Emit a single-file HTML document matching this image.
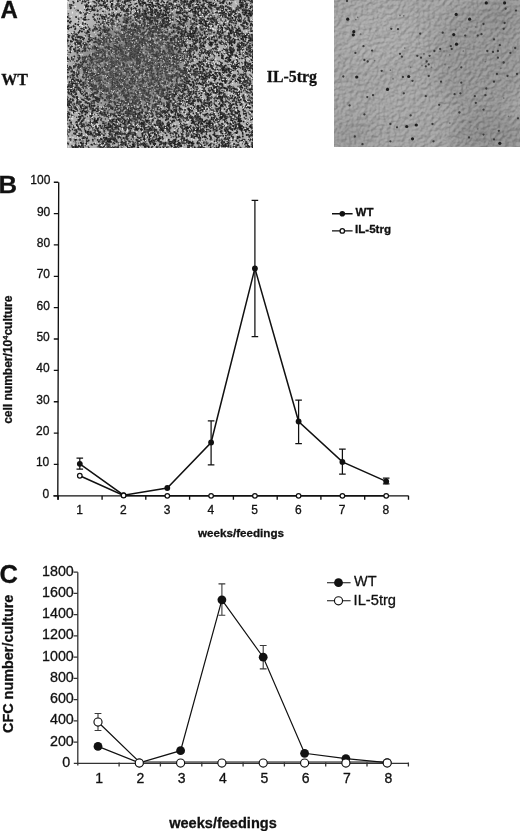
<!DOCTYPE html>
<html><head><meta charset="utf-8"><title>Figure</title>
<style>
html,body{margin:0;padding:0;background:#fff;}
body{width:520px;height:833px;overflow:hidden;font-family:"Liberation Sans",sans-serif;}
svg{display:block;position:absolute;left:0;top:0;}
text{font-family:"Liberation Sans",sans-serif;fill:#111;stroke:#111;stroke-width:0.3px;}
.b{font-weight:bold;}
.serif{font-family:"Liberation Serif",serif;font-weight:bold;}
</style></head><body>
<svg width="520" height="833" viewBox="0 0 520 833">
<rect width="520" height="833" fill="#fff"/>
<g opacity="0.999">
<defs>
<filter id="soft" x="0" y="0" width="100%" height="100%"><feGaussianBlur stdDeviation="0.4"/></filter>
<filter id="soft2" x="0" y="0" width="100%" height="100%"><feGaussianBlur stdDeviation="0.6"/></filter>
<filter id="cloud" x="-20%" y="-20%" width="140%" height="140%"><feGaussianBlur stdDeviation="9"/></filter>
<filter id="spk" x="0" y="0" width="100%" height="100%" color-interpolation-filters="sRGB"><feTurbulence type="fractalNoise" baseFrequency="0.47 0.43" numOctaves="2" seed="11" result="n0"/><feColorMatrix in="n0" type="matrix" values="1 0 0 0 0  1 0 0 0 0  1 0 0 0 0  0 0 0 0 1" result="n"/><feTurbulence type="fractalNoise" baseFrequency="0.17 0.19" numOctaves="2" seed="3" result="m0"/><feColorMatrix in="m0" type="matrix" values="1 0 0 0 0  1 0 0 0 0  1 0 0 0 0  0 0 0 0 1" result="m"/><feComposite in="n" in2="m" operator="arithmetic" k1="0" k2="1" k3="0.45" k4="-0.225" result="nm"/><feComposite in="SourceGraphic" in2="nm" operator="arithmetic" k1="0" k2="1" k3="1" k4="-0.5" result="s"/><feComponentTransfer in="s" result="t"><feFuncR type="linear" slope="6" intercept="-2.5"/><feFuncG type="linear" slope="6" intercept="-2.5"/><feFuncB type="linear" slope="6" intercept="-2.5"/></feComponentTransfer><feComponentTransfer in="t" result="u"><feFuncR type="linear" slope="0.58" intercept="0.17"/><feFuncG type="linear" slope="0.58" intercept="0.17"/><feFuncB type="linear" slope="0.58" intercept="0.17"/></feComponentTransfer><feGaussianBlur in="u" stdDeviation="0.35"/></filter>
<filter id="emb" x="0" y="0" width="100%" height="100%" color-interpolation-filters="sRGB"><feTurbulence type="fractalNoise" baseFrequency="0.27 0.27" numOctaves="3" seed="5" result="n0"/><feDiffuseLighting in="n0" surfaceScale="2.2" diffuseConstant="1" lighting-color="#fff" result="l"><feDistantLight azimuth="230" elevation="48"/></feDiffuseLighting><feComposite in="SourceGraphic" in2="l" operator="arithmetic" k1="0" k2="1" k3="0.19" k4="-0.1412"/></filter>
<clipPath id="cl"><rect x="67" y="0" width="185.6" height="147.2"/></clipPath>
<clipPath id="cr"><rect x="334" y="0" width="186" height="147"/></clipPath>
</defs>
<g clip-path="url(#cl)">
<rect x="67" y="0" width="186" height="148" fill="#b2b2b2"/>
<g filter="url(#cloud)"><ellipse cx="132" cy="66" rx="50" ry="44" fill="#828282" opacity="0.95"/><ellipse cx="178" cy="26" rx="42" ry="20" fill="#8c8c8c" opacity="0.7"/><ellipse cx="120" cy="125" rx="40" ry="16" fill="#939393" opacity="0.5"/><ellipse cx="76" cy="12" rx="20" ry="22" fill="#bcbcbc" opacity="0.9"/></g>
<g filter="url(#soft)" fill="none" stroke-linecap="round">
<path stroke="#1c1c1c" stroke-width="1.9" d="M126.7 21.8h0M147.7 9.7h0M180.7 10.3h0M246.7 10.4h0M247.2 10.5h0M203.1 45.1h0M203.8 46.2h0M204.5 46.6h0M150.1 80.5h0M151.1 81.9h0M188.2 109.0h0M189.2 109.9h0M189.3 110.4h0M189.8 111.9h0M229.6 90.5h0M125.6 22.1h0M166.3 115.3h0M223.5 69.9h0M223.7 72.8h0M70.9 87.2h0M71.7 88.0h0M165.8 70.6h0M165.2 71.1h0M88.9 65.6h0M233.8 20.8h0M234.4 20.8h0M69.4 82.1h0M142.6 79.0h0M142.9 80.3h0M78.5 127.7h0M78.4 129.3h0M216.7 147.4h0M189.0 95.6h0M189.4 97.1h0M190.1 97.5h0M247.0 144.7h0M65.1 56.0h0M67.1 57.7h0M202.8 120.4h0M204.0 121.3h0M204.6 121.5h0M248.1 66.4h0M90.7 122.0h0M244.4 100.2h0M226.3 40.2h0M226.5 40.8h0M150.8 111.3h0M142.9 34.9h0M240.7 78.5h0M243.6 26.4h0M232.6 96.0h0M197.3 105.9h0M196.9 107.3h0M250.7 66.1h0M171.7 112.8h0M185.0 35.8h0M246.3 141.9h0M252.1 144.8h0M212.1 43.0h0M101.4 8.1h0M66.6 131.8h0M66.7 130.8h0M150.7 38.1h0M73.9 148.8h0M74.4 149.0h0M74.5 150.0h0M186.6 12.8h0M187.5 13.8h0M82.9 92.6h0M124.7 89.7h0M186.7 127.4h0M186.5 127.8h0M150.0 63.3h0M189.0 4.0h0M190.3 5.7h0M190.3 6.4h0M194.9 106.6h0M204.8 31.9h0M206.3 32.5h0M233.8 88.3h0M233.8 88.2h0M144.7 77.2h0M114.3 96.5h0M244.0 111.0h0M147.6 107.0h0M249.4 103.7h0M77.8 87.2h0M77.9 87.6h0M79.0 88.5h0M211.2 90.1h0M173.8 40.3h0M174.5 42.4h0M183.5 51.6h0M160.2 55.7h0M153.4 131.4h0M202.3 90.3h0M96.9 97.5h0M226.3 101.3h0M112.5 62.2h0M113.4 63.1h0M162.9 14.6h0M164.6 15.5h0M243.0 78.3h0M201.0 121.1h0M133.4 97.9h0M179.5 115.4h0M180.4 115.8h0M181.3 117.0h0M154.7 82.1h0M222.4 68.7h0M223.3 69.4h0M226.1 70.1h0M72.7 106.3h0M71.9 107.0h0M141.8 74.0h0M202.0 132.0h0M213.3 134.7h0M214.1 135.1h0M215.2 135.9h0M169.1 11.5h0M251.5 127.8h0M196.5 21.3h0M98.0 127.9h0M134.3 96.1h0M194.4 136.1h0M123.6 6.2h0M124.4 8.7h0M134.6 84.0h0M235.4 122.6h0M236.0 124.6h0M236.0 126.2h0M154.1 54.8h0M155.3 55.6h0M228.7 131.9h0M229.2 132.6h0M155.6 93.5h0M116.2 61.7h0M95.3 75.5h0M95.1 76.3h0M95.4 78.0h0M149.1 74.5h0M209.0 23.2h0M208.9 24.5h0M208.8 26.9h0M229.5 39.8h0M219.7 129.0h0M220.2 130.8h0M152.9 34.1h0M153.0 34.9h0M88.6 58.5h0M93.3 100.8h0M117.2 79.6h0M117.7 82.2h0M107.2 75.0h0M107.5 76.1h0M108.3 76.4h0M179.1 50.9h0M180.1 51.1h0M251.8 39.7h0M197.2 42.3h0M147.2 56.3h0M122.0 79.3h0M233.3 62.0h0M197.7 -0.4h0M85.6 13.9h0M210.4 5.8h0M158.3 140.7h0M140.4 54.2h0M224.1 119.7h0M71.6 106.8h0M126.4 97.5h0M126.4 99.6h0M241.9 25.0h0M243.1 26.1h0M243.8 26.2h0M147.2 114.7h0M249.2 100.7h0M96.6 49.7h0M145.3 140.3h0M87.7 42.6h0M157.5 117.7h0M210.9 124.8h0M85.5 107.0h0M236.2 140.4h0M102.4 107.5h0M101.8 108.9h0M191.1 84.5h0M193.4 84.0h0M174.2 139.9h0M173.0 143.0h0M100.2 132.1h0M166.7 36.5h0M183.3 142.7h0M76.0 34.7h0M183.9 131.6h0M209.3 39.7h0M80.4 91.7h0M80.7 92.2h0M230.5 107.9h0M147.0 129.7h0M106.9 58.3h0M94.1 93.1h0M72.0 114.9h0M193.1 50.9h0M193.6 51.9h0M109.0 29.3h0M195.4 10.2h0M194.6 12.5h0M224.1 142.5h0M67.8 102.6h0M68.6 102.0h0M234.5 93.0h0M235.0 94.7h0M194.0 65.2h0M188.0 135.3h0M150.2 12.1h0M157.5 97.7h0M185.5 127.8h0M248.6 63.8h0M81.0 65.2h0M143.7 69.9h0M128.6 57.4h0M159.3 127.0h0M229.7 21.9h0M124.0 36.6h0M135.0 118.9h0M135.3 119.0h0M103.8 27.9h0M104.3 29.8h0M104.3 31.3h0M242.6 76.9h0M167.8 13.1h0M188.9 6.4h0M151.3 110.9h0M143.2 123.4h0M144.4 125.1h0M144.4 125.6h0M126.9 35.7h0M214.7 104.1h0M215.5 105.1h0M81.8 112.7h0M215.6 86.6h0M216.6 87.3h0M217.1 89.8h0M137.9 116.1h0M143.2 79.9h0M188.6 108.3h0M190.0 109.2h0M133.9 97.6h0M218.4 8.9h0M190.7 125.9h0M115.0 113.7h0M115.1 114.8h0M116.2 116.3h0M110.1 62.1h0M129.7 49.1h0M116.4 55.9h0M97.0 111.5h0M200.8 8.0h0M172.4 46.6h0M147.9 108.2h0M148.2 109.5h0M226.9 49.2h0M227.2 50.7h0M179.8 17.4h0M179.5 16.9h0M185.0 109.9h0M211.2 4.7h0M212.3 5.5h0M122.6 59.2h0M83.2 39.5h0M82.9 40.3h0M162.8 67.9h0M164.1 66.9h0M165.4 67.9h0M100.4 138.9h0M98.7 141.8h0M184.6 96.2h0M180.2 90.2h0M181.8 92.3h0M152.3 48.0h0M95.1 97.0h0M95.1 97.2h0M95.9 98.4h0M96.8 99.6h0M92.0 118.3h0M155.6 24.3h0M156.4 26.7h0M156.0 27.3h0M197.7 1.7h0M136.2 127.1h0M136.1 127.2h0M136.3 128.6h0M94.6 120.3h0M95.5 121.4h0M85.1 1.8h0M174.0 66.1h0M193.6 9.2h0M193.0 10.5h0M82.0 145.3h0M124.6 119.9h0M125.1 121.4h0M74.0 133.5h0M75.4 133.9h0M78.8 50.2h0M79.5 51.1h0M145.5 43.9h0M110.8 37.5h0M111.4 37.6h0M129.7 104.1h0M129.6 105.3h0M189.3 127.3h0M85.7 9.7h0M86.7 10.3h0M116.5 54.2h0M219.2 37.7h0M224.7 129.8h0M225.5 131.3h0M225.6 132.9h0M245.4 45.2h0M104.7 52.5h0M104.7 52.9h0M252.7 63.0h0M252.5 63.5h0M252.6 64.1h0M253.1 65.7h0M103.8 1.4h0M104.8 2.6h0M106.3 3.7h0M199.8 38.9h0M129.9 113.7h0M210.1 87.6h0M211.1 88.0h0M133.3 64.4h0M245.4 21.1h0M185.3 70.9h0M232.5 41.5h0M234.7 42.3h0M234.4 43.0h0M74.1 72.2h0M199.3 93.8h0M133.5 146.2h0M134.3 146.5h0M162.6 21.2h0M162.9 21.1h0M173.5 109.9h0M252.0 102.6h0M82.5 115.7h0M75.1 146.0h0M75.6 146.8h0M76.6 147.1h0M75.9 148.1h0M165.9 127.3h0M158.9 145.2h0M156.8 138.9h0M155.8 139.5h0M253.5 100.6h0M163.8 50.6h0M162.9 51.7h0M71.5 88.2h0M166.3 57.4h0M175.8 117.9h0M176.8 119.6h0M178.0 119.8h0M222.5 87.5h0M240.1 14.9h0M220.1 117.4h0M108.7 30.3h0M194.7 147.2h0M190.8 1.3h0M190.4 2.6h0M190.1 3.8h0M185.2 21.0h0M162.0 35.8h0M162.7 36.4h0M196.9 40.5h0M73.5 26.5h0M138.8 25.4h0M140.0 27.5h0M134.8 16.0h0M137.5 16.6h0M191.5 66.5h0M193.6 100.1h0M194.8 101.1h0M192.1 110.7h0M219.2 96.3h0M220.6 97.1h0M166.0 127.1h0M166.5 127.9h0M166.2 129.0h0M169.8 -1.2h0M152.9 51.9h0M136.8 86.2h0M191.6 120.4h0M192.9 120.9h0M193.6 121.8h0M169.0 108.4h0M87.4 32.2h0M143.5 139.0h0M104.9 5.9h0M105.2 6.9h0M106.1 6.3h0M154.9 18.8h0M196.9 24.5h0M136.6 27.3h0M137.4 28.4h0M138.4 29.5h0M234.3 35.5h0M238.9 14.0h0M239.5 15.0h0M239.9 16.9h0M124.6 143.4h0M228.9 14.3h0M228.6 15.5h0M141.0 57.7h0M154.9 46.1h0M141.1 34.4h0M135.8 16.0h0M105.0 30.5h0M234.6 35.9h0M217.7 98.5h0M244.1 22.1h0M245.5 23.2h0M126.9 9.5h0M127.4 10.1h0M219.1 33.7h0M239.5 44.7h0M238.7 46.1h0M238.6 47.3h0M239.3 47.8h0M204.7 136.8h0M205.8 137.3h0M190.7 130.1h0M207.4 69.1h0M124.6 27.8h0M124.4 29.5h0M80.1 108.9h0M208.7 18.8h0M169.8 56.9h0M201.0 50.1h0M202.7 51.5h0M159.4 64.2h0M159.9 64.7h0M113.3 75.5h0M107.9 33.9h0M185.4 50.8h0M171.9 70.4h0M73.7 39.8h0M122.6 80.1h0M122.8 81.8h0M149.2 89.5h0M112.2 3.9h0M112.4 4.5h0M93.6 75.7h0M111.7 67.1h0M111.4 67.8h0M156.1 129.9h0M157.9 132.8h0M88.5 111.7h0M109.2 97.9h0M111.9 100.6h0M100.8 143.2h0M193.3 105.2h0M141.8 117.1h0M180.9 52.1h0M170.6 3.8h0M169.4 4.5h0M212.7 17.7h0M213.1 19.0h0M213.1 19.6h0M164.6 89.3h0M152.9 120.4h0M165.7 18.2h0M166.7 18.8h0M168.1 19.0h0M148.1 17.5h0M199.2 144.9h0M200.3 145.8h0M114.7 66.0h0M238.3 115.3h0M238.4 116.8h0M229.3 34.7h0M114.4 82.3h0M115.2 83.4h0M150.0 33.5h0M101.2 61.3h0M200.8 147.5h0M109.1 14.2h0M169.8 47.2h0M171.1 48.1h0M184.2 138.3h0M70.8 78.0h0M76.9 98.0h0M77.7 99.4h0M125.0 38.8h0M125.5 39.0h0M88.6 2.7h0M73.6 49.8h0M86.0 79.4h0M175.6 117.8h0M225.0 22.4h0M224.6 22.5h0M224.5 24.4h0M164.7 97.2h0M166.7 98.3h0M192.8 34.2h0M164.9 127.0h0M93.2 9.9h0M93.8 10.2h0M143.3 143.3h0M144.1 143.2h0M108.0 106.1h0M137.7 143.2h0M118.9 136.9h0M120.0 136.9h0M201.4 107.4h0M202.3 109.0h0M230.0 15.6h0M68.4 90.5h0M89.1 74.3h0M246.0 35.0h0M245.7 10.4h0M163.1 16.1h0M74.3 56.5h0M169.4 23.2h0M168.7 23.1h0M100.2 48.0h0M168.8 139.7h0M223.4 68.5h0M223.3 70.1h0M188.5 89.5h0M194.7 72.3h0M248.6 40.8h0M134.2 40.3h0M139.7 62.7h0M139.4 63.5h0M102.9 93.4h0M194.9 148.3h0M196.4 148.6h0M145.3 112.4h0M73.1 100.5h0M121.7 67.7h0M228.8 114.0h0M231.6 113.9h0M223.2 1.8h0M208.4 96.2h0M241.3 6.2h0M240.8 7.3h0M241.3 8.1h0M84.5 126.2h0M196.1 16.7h0M210.4 30.4h0M169.9 123.7h0M171.4 124.5h0M144.9 41.9h0M202.7 106.8h0M204.0 108.1h0M161.0 18.9h0M172.4 77.4h0M82.3 125.6h0M82.7 126.5h0M81.2 126.7h0M197.8 71.7h0M197.7 143.2h0M199.0 143.0h0M159.5 22.7h0M217.7 65.1h0M115.1 110.2h0M117.3 112.8h0M99.8 148.8h0M69.0 126.1h0M69.6 127.3h0M234.5 88.7h0M176.8 63.6h0M217.6 46.7h0M231.1 41.8h0M231.4 43.1h0M232.1 45.2h0M98.8 35.3h0M100.0 35.4h0M100.3 35.6h0M168.1 118.7h0M136.6 101.2h0M228.6 18.9h0M232.2 17.8h0M232.6 18.3h0M81.8 31.5h0M147.4 98.0h0M100.5 28.2h0M204.7 56.5h0M211.3 21.3h0M212.4 22.3h0M81.2 41.3h0M158.1 14.9h0M240.1 1.0h0M240.9 2.6h0M225.0 27.5h0M226.1 28.6h0M239.5 137.4h0M130.5 52.6h0M252.6 105.8h0M69.8 18.6h0M125.6 107.9h0M207.5 57.8h0M219.5 42.4h0M109.4 96.3h0M193.6 1.3h0M94.6 2.1h0M145.5 64.3h0M123.4 138.0h0M96.7 62.3h0M137.6 51.5h0M230.9 107.7h0M111.4 5.2h0M111.3 6.0h0M222.5 133.6h0M89.6 78.1h0M88.9 80.8h0M229.1 102.0h0M145.6 74.0h0M147.5 60.2h0M183.7 73.4h0M157.8 53.5h0M85.0 97.7h0M246.3 146.5h0M246.8 147.5h0M243.0 25.6h0M136.1 100.7h0M136.9 103.6h0M137.6 104.1h0M237.5 137.0h0M237.5 138.3h0M124.0 127.8h0M168.5 5.4h0M196.5 11.1h0M140.9 129.6h0M182.2 116.0h0M163.7 111.2h0M163.7 112.5h0M152.5 78.0h0M209.7 135.4h0M125.2 142.1h0M194.3 129.2h0M119.9 131.2h0M120.0 131.9h0M95.5 38.2h0M95.3 39.0h0M116.4 108.2h0M242.8 3.0h0M86.4 33.2h0M155.6 9.2h0M156.8 10.3h0M145.4 127.3h0M209.7 74.7h0M210.7 75.6h0M83.6 95.4h0M142.7 16.0h0M126.2 68.9h0M148.2 32.7h0M147.4 34.2h0M178.5 135.3h0M69.2 103.9h0M70.1 105.0h0M148.2 25.3h0M148.7 27.5h0M146.1 93.1h0M147.8 98.6h0M149.3 100.7h0M162.1 109.6h0M221.2 27.2h0M68.2 89.9h0M69.6 91.4h0M220.1 136.0h0M107.6 90.6h0M142.9 15.7h0M143.4 16.3h0M115.8 74.7h0M131.8 86.8h0M180.4 114.3h0M249.0 51.6h0M165.3 108.9h0M165.8 109.4h0M238.8 31.0h0M240.3 31.0h0M182.1 80.4h0M126.1 137.2h0M249.3 83.9h0M250.2 83.8h0M110.0 130.6h0M109.7 132.3h0M209.5 7.5h0M96.6 9.8h0M97.6 11.0h0M159.2 77.0h0M106.4 127.7h0M163.0 60.2h0M122.1 110.9h0M209.2 98.1h0M236.3 92.5h0M237.6 93.2h0M124.7 14.9h0M211.1 143.8h0M130.8 48.0h0M186.1 1.8h0M117.1 42.3h0M117.5 42.8h0M116.0 94.9h0M116.4 107.8h0M130.2 120.2h0M84.0 50.6h0M244.5 14.7h0M200.3 34.3h0M202.1 35.3h0M135.6 134.0h0M236.0 19.4h0M181.6 53.1h0M224.0 87.7h0M224.9 88.2h0M225.9 88.2h0M125.7 111.1h0M191.8 142.2h0M191.4 143.5h0M193.6 143.4h0M205.5 93.9h0M105.6 64.8h0M105.5 65.8h0M226.5 106.4h0M228.0 108.5h0M95.9 56.0h0M197.6 125.0h0M118.0 118.9h0M119.1 119.0h0M177.5 94.5h0M206.4 26.0h0M197.1 134.8h0M199.1 135.3h0M181.9 86.2h0M222.7 28.4h0M158.6 84.4h0M159.4 85.7h0M159.9 86.8h0M127.4 66.0h0M253.7 71.6h0M254.3 72.1h0M211.7 105.2h0M151.5 22.0h0M182.2 60.6h0M105.3 139.1h0M238.9 63.7h0M237.7 64.2h0M163.9 105.1h0M164.5 105.5h0M167.0 105.3h0M195.4 57.0h0M93.0 30.7h0M95.2 20.2h0M240.4 104.9h0M236.2 101.7h0M136.4 139.7h0M138.0 141.1h0M116.9 133.3h0M117.5 133.6h0M120.0 133.8h0M77.8 1.2h0M91.6 103.0h0M127.4 0.9h0M161.0 14.4h0M206.2 105.6h0M159.1 83.2h0M195.5 124.7h0M218.1 31.0h0M217.8 32.0h0M112.3 85.9h0M112.5 87.8h0M215.8 36.6h0M111.2 50.2h0M150.9 31.3h0M154.1 30.8h0M152.1 126.4h0M152.6 127.1h0M143.3 76.6h0M136.0 43.3h0M124.9 1.3h0M125.1 2.1h0M185.9 104.8h0M164.1 1.7h0M86.4 102.3h0M89.4 103.8h0M140.9 0.9h0M140.8 1.1h0M165.9 43.2h0M251.1 64.6h0M109.1 146.1h0M111.0 147.0h0M196.5 30.6h0M94.4 29.4h0M160.9 129.0h0M161.6 130.5h0M162.2 130.7h0M163.2 130.8h0M248.2 47.5h0M110.5 99.3h0M110.9 100.9h0M162.5 96.0h0M124.7 77.8h0M160.2 73.9h0M111.8 7.1h0M104.0 129.6h0M144.1 93.1h0M117.7 68.5h0M202.0 23.0h0M199.8 52.1h0M157.8 39.3h0M247.4 63.1h0M248.1 64.6h0M228.7 70.7h0M242.2 87.8h0M176.7 35.7h0M177.3 36.0h0M148.7 96.9h0M169.0 114.8h0M169.4 115.1h0M111.4 127.4h0M112.2 128.2h0M94.1 5.9h0M252.6 20.8h0M252.5 20.6h0M70.5 86.3h0M162.1 27.0h0M146.2 13.9h0M153.6 109.8h0M185.2 45.7h0M186.0 47.2h0M124.4 31.7h0M121.8 51.7h0M137.9 44.1h0M139.0 45.7h0M243.6 23.0h0M213.4 3.4h0M85.1 69.4h0M85.6 70.5h0M162.5 26.0h0M185.3 28.1h0M185.4 30.5h0M196.9 48.8h0M193.2 46.6h0M74.8 66.9h0M198.7 106.0h0M182.2 128.1h0M71.9 59.1h0M246.4 12.7h0M192.9 103.5h0M208.0 51.2h0M159.3 14.7h0M194.5 33.4h0M111.7 126.3h0M110.3 126.8h0M157.5 104.9h0M206.3 142.0h0M89.7 29.0h0M229.3 2.8h0M229.7 3.7h0M198.1 63.7h0M149.9 88.9h0M97.9 119.8h0M242.0 132.7h0M242.6 133.5h0M92.1 75.5h0M78.0 37.2h0M102.5 49.5h0M107.5 69.9h0M108.3 70.7h0M99.0 74.4h0M187.0 139.9h0M187.2 140.5h0M185.8 142.5h0M240.8 2.4h0M231.1 47.9h0M164.4 59.8h0M168.7 103.4h0M114.5 140.6h0M94.8 48.4h0M140.9 81.6h0M80.7 106.8h0M81.1 108.0h0M239.4 111.8h0M169.2 8.9h0M158.2 29.8h0M161.4 32.0h0M174.9 102.7h0M175.7 103.4h0M215.5 -3.3h0M141.7 25.5h0M157.9 12.5h0M158.0 13.1h0M165.8 12.5h0M229.7 71.5h0M229.6 72.0h0M230.6 73.3h0M132.4 52.6h0M69.7 120.4h0M190.1 45.0h0M83.0 87.9h0M173.3 120.5h0M174.3 120.9h0M222.1 123.7h0M114.0 24.9h0M243.8 43.8h0M243.6 45.6h0M165.5 133.1h0M129.9 0.2h0M111.8 52.0h0M197.2 1.1h0M105.1 66.7h0M105.7 66.6h0M84.5 57.1h0M175.6 110.3h0M128.7 44.0h0M106.6 46.9h0M76.3 146.8h0M77.6 98.4h0M177.8 6.7h0M90.8 75.2h0M246.6 53.1h0M178.9 85.2h0M110.0 121.1h0M242.5 67.0h0M248.5 36.1h0M125.5 85.1h0M216.9 64.2h0M184.3 4.4h0M144.4 32.5h0M202.0 84.4h0M170.9 47.2h0M171.7 48.2h0M171.9 49.1h0M171.5 49.4h0M204.6 75.3h0M252.6 138.3h0M240.8 21.6h0M163.9 34.5h0M135.0 132.9h0M137.8 72.6h0M126.9 136.7h0M123.2 142.7h0M216.0 48.2h0M155.7 140.4h0M175.8 38.1h0M180.6 25.8h0M117.1 133.6h0M114.6 139.1h0M115.4 138.7h0M151.4 68.5h0M232.8 42.0h0M231.3 89.1h0M234.2 117.9h0M109.5 93.3h0M111.3 95.4h0M121.3 142.5h0M122.9 69.0h0M105.0 58.3h0M147.2 25.2h0M148.4 26.8h0M199.3 61.8h0M178.5 24.7h0M211.8 117.7h0M162.0 31.7h0M162.1 32.1h0M116.0 67.7h0M129.8 103.9h0M131.7 103.5h0M236.0 28.8h0M236.2 29.9h0M104.1 128.5h0M182.8 125.7h0M72.9 146.9h0M209.9 136.3h0M213.4 83.0h0M126.2 25.6h0M222.6 17.0h0M69.9 66.8h0M223.0 1.4h0M148.4 12.7h0M186.5 64.8h0M224.4 49.0h0M158.8 138.8h0M226.8 141.1h0M241.8 44.6h0M159.9 80.2h0M244.8 28.6h0M87.8 41.6h0M199.9 8.4h0M138.5 31.2h0M138.4 32.4h0M91.7 39.6h0M94.8 86.1h0M215.2 0.2h0M252.3 24.7h0M116.8 71.2h0M117.6 60.4h0M175.1 112.9h0M118.2 107.9h0M118.5 108.4h0M119.6 109.3h0M200.5 110.5h0M200.5 111.4h0M201.3 112.0h0M88.8 148.2h0M123.5 31.6h0M124.6 31.4h0M178.5 32.1h0M179.0 32.1h0M127.3 33.0h0M178.3 41.4h0M180.4 42.1h0M180.7 43.3h0M197.3 117.0h0M173.3 93.6h0M173.4 94.1h0M174.5 96.2h0M218.8 108.4h0M137.8 52.3h0M138.2 52.9h0M231.0 124.5h0M175.1 7.5h0M241.6 8.2h0M222.3 126.0h0M192.8 4.7h0M225.8 65.4h0M98.5 115.9h0M73.3 96.1h0M74.3 97.2h0M137.7 91.9h0M175.8 102.4h0M229.4 134.7h0M193.7 132.8h0M194.3 133.9h0M152.1 15.5h0M152.8 17.9h0M125.1 34.0h0M238.2 33.6h0M106.5 137.8h0M106.9 139.0h0M191.8 33.3h0M181.3 44.1h0M182.2 43.7h0M139.8 114.0h0M139.7 114.0h0M199.0 82.8h0M179.5 25.3h0M191.6 96.8h0M164.3 127.0h0M165.8 128.2h0M101.0 119.9h0M167.8 107.2h0M138.4 61.3h0M139.2 62.1h0M169.3 64.1h0M140.4 73.5h0M139.2 74.9h0M139.2 75.2h0M116.0 62.3h0M84.8 108.6h0M171.4 65.5h0M217.1 111.6h0M142.1 130.5h0M103.3 72.9h0M103.4 73.7h0M121.9 117.3h0M102.3 41.8h0M249.6 45.4h0M203.1 84.3h0M87.6 86.1h0M156.6 21.7h0M157.6 21.3h0M159.3 21.5h0M160.3 23.4h0M174.0 40.8h0M126.8 11.0h0M130.5 12.2h0M198.4 83.5h0M99.0 132.6h0M99.1 134.3h0M174.8 147.5h0M176.7 148.2h0M176.9 148.7h0M177.8 149.1h0M199.5 23.4h0M195.9 3.7h0M196.9 5.6h0M106.9 90.5h0M90.7 78.6h0M211.6 39.1h0M74.5 141.5h0M73.4 79.2h0M74.2 80.7h0M172.7 103.7h0M127.6 40.6h0M198.3 108.2h0M195.5 75.3h0M105.8 95.5h0M242.8 69.0h0M195.3 116.0h0M195.3 116.7h0M141.2 123.5h0M142.5 123.1h0M134.9 103.7h0M222.8 12.9h0M104.7 66.9h0M104.5 67.8h0M206.6 24.0h0M208.2 26.3h0M208.5 27.6h0M239.1 92.1h0M239.8 91.2h0M193.3 127.5h0M193.8 130.7h0M114.2 45.9h0M146.9 30.0h0M120.7 85.5h0M122.4 86.3h0M75.2 43.2h0M75.7 44.2h0M172.5 93.0h0M181.5 18.3h0M124.2 30.9h0M124.6 33.3h0M124.4 34.6h0M208.7 103.7h0M77.5 103.1h0M118.9 15.0h0M118.8 14.6h0M147.1 18.5h0M105.4 33.1h0M106.1 34.0h0M201.3 52.2h0M129.9 113.3h0M206.0 52.6h0M207.4 52.8h0M129.9 5.4h0M86.9 8.7h0M88.0 9.6h0M93.7 64.1h0M236.4 66.3h0M236.5 67.8h0M238.1 66.8h0M230.5 116.9h0M236.1 113.3h0M237.4 113.0h0M139.0 2.9h0M105.7 123.8h0M238.0 137.0h0M88.1 93.7h0M145.9 93.7h0M234.2 129.4h0M144.7 3.8h0M145.8 4.2h0M250.2 39.4h0M103.0 143.8h0M252.9 48.0h0M205.5 7.7h0M206.2 8.7h0M130.0 133.2h0M95.1 73.7h0M173.7 31.3h0M173.8 31.9h0M223.6 3.0h0M169.6 131.3h0M69.7 22.4h0M110.2 141.0h0M111.1 141.9h0M164.5 66.8h0M112.5 9.3h0M118.7 100.2h0M118.4 101.0h0M235.0 39.6h0M238.2 39.5h0M210.2 84.3h0M251.1 23.8h0M250.3 25.5h0M213.7 85.3h0M214.9 87.4h0M192.5 100.8h0M227.2 89.3h0M227.0 90.5h0M206.3 81.8h0M66.2 130.2h0M88.9 39.3h0M239.2 94.9h0M118.7 145.2h0M252.1 68.1h0M252.9 69.3h0M137.7 51.2h0M138.1 36.9h0M243.8 84.8h0M239.7 137.3h0M196.5 6.8h0M148.9 132.2h0M76.0 109.1h0M76.9 109.2h0M242.8 136.5h0M238.6 80.1h0M240.0 80.7h0M240.7 81.5h0M200.3 71.6h0M211.7 83.9h0M148.2 12.7h0M123.4 22.0h0M135.8 102.7h0M67.6 17.0h0M107.5 96.9h0M133.3 25.7h0M92.7 47.7h0M94.5 48.6h0M183.9 60.7h0M250.8 6.5h0M224.7 96.5h0M95.9 85.4h0M196.7 49.5h0M196.5 50.0h0M109.7 139.7h0M110.6 139.0h0M156.7 53.3h0M79.0 65.6h0M79.2 65.8h0M78.8 59.8h0M102.0 72.4h0M72.2 35.3h0M72.3 37.3h0M144.8 129.2h0M145.7 132.0h0M98.0 91.5h0M178.0 21.2h0M152.3 74.1h0M71.4 80.2h0M70.6 81.6h0M172.7 109.5h0M146.3 116.5h0M146.3 116.5h0M194.4 80.1h0M195.6 80.7h0M124.3 28.9h0M124.9 29.4h0M86.1 72.1h0M132.7 76.4h0M132.5 77.9h0M112.9 114.7h0M113.0 116.0h0M209.0 72.9h0M251.3 135.2h0M171.9 146.5h0M126.1 13.1h0M205.8 57.5h0M207.1 58.0h0M207.9 59.0h0M238.4 20.8h0M238.7 20.7h0M149.9 52.2h0M181.5 31.6h0M238.5 99.9h0M239.0 100.6h0M239.9 102.5h0M113.1 122.9h0M119.9 78.6h0M170.0 23.6h0M141.9 124.6h0M100.9 43.5h0M102.6 42.4h0M129.9 58.7h0M75.4 28.7h0M165.6 25.4h0M169.7 102.3h0M91.4 91.8h0M158.6 91.2h0M88.2 66.8h0M89.4 67.4h0M246.6 107.5h0M247.5 107.0h0M244.9 106.6h0M252.5 51.9h0M244.8 85.8h0M246.5 87.2h0M247.2 87.9h0M205.3 60.0h0M144.1 20.7h0M143.6 21.4h0M210.4 124.2h0M209.8 125.2h0M150.8 4.9h0M191.1 1.5h0M191.8 2.4h0M192.4 2.9h0M232.5 -0.5h0M233.7 -0.4h0M249.7 54.8h0M250.6 55.7h0M151.4 14.5h0M94.4 29.0h0M169.9 94.6h0M186.1 32.0h0M150.2 20.9h0M150.2 22.5h0M243.4 95.9h0M217.0 52.7h0M218.1 53.0h0M218.7 53.1h0M142.0 40.1h0M209.9 52.9h0M214.8 22.3h0M216.5 23.0h0M129.2 50.4h0M225.5 118.1h0M105.8 143.6h0M250.1 135.5h0M112.6 97.7h0M171.6 8.1h0M210.8 94.3h0M237.9 35.9h0M159.8 114.1h0M161.0 115.3h0M214.6 148.3h0M216.1 148.8h0M210.0 115.3h0M249.1 46.4h0M250.1 47.1h0M207.1 21.8h0M88.7 140.4h0M237.9 44.4h0M196.3 12.2h0M194.9 11.7h0M123.0 93.5h0M135.1 109.0h0M78.9 43.8h0M79.9 44.4h0M80.4 43.9h0M155.3 79.9h0M227.3 123.0h0M227.9 123.7h0M72.9 71.3h0M207.1 144.5h0M168.0 12.5h0M157.4 45.1h0M203.8 107.1h0M235.2 20.1h0M244.5 36.6h0M99.7 112.8h0M83.9 82.3h0M118.7 143.2h0M154.6 55.9h0M156.0 56.3h0M253.7 62.0h0M253.1 64.2h0M239.2 123.7h0M240.6 125.1h0M240.8 126.2h0M160.0 79.3h0M134.3 97.0h0M174.9 1.1h0M246.3 70.9h0M235.9 55.1h0M209.1 99.3h0M132.2 31.0h0M184.0 67.9h0M184.6 68.3h0M186.2 70.0h0M179.7 85.6h0M190.1 128.6h0M189.9 130.8h0M237.2 94.4h0M237.8 95.2h0M83.3 43.6h0M84.8 44.4h0M84.8 45.9h0M233.7 31.5h0M174.1 125.4h0M174.8 125.8h0M97.3 98.4h0M90.2 115.7h0M159.6 22.3h0M252.1 142.9h0M109.1 38.9h0M124.4 65.7h0M186.6 99.1h0M136.7 55.7h0M69.5 114.3h0M113.0 131.6h0M99.5 80.3h0M161.5 59.3h0M244.9 62.9h0M79.3 133.6h0M116.3 141.7h0M142.3 34.3h0M144.9 36.6h0M247.8 25.0h0M248.7 79.3h0M247.1 80.4h0M167.7 82.9h0M173.0 105.6h0M238.1 124.3h0M203.2 0.7h0M222.0 101.1h0M222.6 102.0h0M222.9 102.7h0M231.2 119.0h0M85.9 7.1h0M86.7 6.3h0M189.9 84.4h0M191.2 85.1h0M190.9 85.5h0M212.2 89.8h0M213.0 91.4h0M176.3 -0.0h0M176.2 0.3h0M177.9 1.4h0M221.8 118.3h0M117.5 102.4h0M136.2 74.2h0M98.5 39.4h0M126.3 43.2h0M126.5 44.3h0M114.3 95.7h0M249.7 126.5h0M143.0 39.6h0M205.3 26.9h0M205.2 27.5h0M247.2 5.1h0M176.4 45.3h0M123.9 119.3h0M224.5 94.4h0M162.5 20.5h0M106.0 137.9h0M107.7 140.4h0M108.5 141.1h0M249.7 70.3h0M246.6 5.8h0M171.9 56.1h0M172.1 56.2h0M96.4 2.8h0M239.1 126.2h0M238.8 127.1h0M240.0 127.8h0M107.7 59.7h0M152.1 69.1h0M218.9 55.5h0M231.4 98.1h0M183.3 25.5h0M183.0 26.7h0M249.5 11.0h0M211.0 42.8h0M210.3 44.2h0M160.2 51.3h0M104.8 145.0h0M71.1 5.0h0M224.0 115.4h0M104.6 129.4h0M236.2 11.1h0M249.7 83.6h0M250.6 83.2h0M192.0 110.8h0M193.7 113.6h0M193.5 113.5h0M216.1 100.7h0M121.9 141.7h0M151.2 124.2h0M218.9 87.8h0M113.3 72.5h0M184.4 84.9h0M88.6 131.5h0M127.1 41.8h0M128.1 41.8h0M129.0 127.1h0M130.1 128.5h0M131.2 128.6h0M252.2 64.1h0M252.4 65.3h0M240.9 129.5h0M227.0 53.1h0M227.6 53.1h0M91.2 122.1h0M107.4 32.3h0M205.4 86.3h0M144.2 20.5h0M162.1 60.5h0M171.0 144.7h0M199.6 6.6h0M198.9 8.1h0M197.7 8.9h0M118.0 147.0h0M117.9 147.9h0M121.4 134.2h0M108.4 21.1h0M108.4 22.3h0M193.6 91.3h0M196.0 91.8h0M239.5 34.3h0M239.8 35.1h0M70.4 52.3h0M68.7 117.2h0M75.1 139.2h0M76.2 140.5h0M76.4 140.0h0M204.4 51.9h0M214.2 78.1h0M216.0 78.6h0M142.9 33.0h0M241.4 91.9h0M138.6 58.5h0M138.1 59.0h0M76.7 74.5h0M77.3 75.0h0M222.2 13.6h0M134.2 50.1h0M134.9 51.2h0M131.6 113.6h0M132.3 114.3h0M202.8 128.5h0M203.2 129.2h0M115.8 133.8h0M115.4 135.6h0M175.3 94.1h0M248.6 20.2h0M174.2 91.0h0M175.1 86.4h0M196.1 135.7h0M71.5 41.5h0M123.1 123.6h0M124.5 123.9h0M91.3 124.1h0M91.2 126.1h0M90.3 125.8h0M89.9 127.8h0M246.7 34.5h0M248.2 34.7h0M253.2 36.5h0M252.5 38.7h0M105.8 124.8h0M206.9 65.0h0M127.8 115.1h0M127.9 115.8h0M189.2 19.1h0M245.3 111.9h0M126.3 1.2h0M127.3 1.1h0M120.1 126.4h0M126.3 95.4h0M127.7 95.7h0M189.3 93.6h0M189.1 94.1h0M171.3 143.6h0M81.6 133.6h0M81.5 134.4h0M189.7 145.8h0M149.1 129.5h0M197.4 4.9h0M247.4 100.0h0M78.0 74.4h0M225.9 135.6h0M121.4 36.4h0M154.3 99.9h0M153.6 101.1h0M246.1 3.8h0M121.7 94.7h0M122.9 94.9h0M123.3 95.6h0M229.4 149.0h0M229.7 149.6h0M79.5 57.6h0M79.1 59.1h0M109.3 9.8h0M165.6 115.6h0M103.9 137.8h0M245.9 37.8h0M155.3 143.7h0M99.8 80.0h0M101.0 80.6h0M203.2 88.5h0M87.0 112.8h0M85.4 114.5h0M224.6 67.0h0M101.5 128.3h0M188.6 109.6h0M253.0 136.7h0M192.5 81.9h0M193.4 82.3h0M220.8 105.6h0M221.7 105.9h0M220.1 74.5h0M220.6 75.8h0M154.5 78.7h0M164.5 2.4h0M124.8 133.4h0M126.9 135.0h0M178.3 43.3h0M156.9 90.4h0M155.8 91.6h0M137.0 6.3h0M168.2 78.5h0M162.1 57.4h0M162.9 57.3h0M103.0 11.4h0M252.1 148.1h0M250.7 148.9h0M252.0 149.9h0M166.1 7.2h0M132.1 126.4h0M133.2 126.8h0M238.2 121.4h0M239.8 121.8h0M217.1 90.6h0M219.4 91.1h0M181.3 38.7h0M181.1 39.6h0M215.6 73.4h0M110.5 134.5h0M176.8 106.5h0M171.5 4.4h0M246.0 113.2h0M246.2 115.5h0M148.3 92.6h0M148.2 93.7h0M231.0 81.5h0M239.6 14.3h0M240.6 16.7h0M240.8 17.8h0M76.6 87.2h0M154.6 96.1h0M239.9 19.1h0M177.0 109.5h0M110.2 73.1h0M178.4 40.0h0M179.3 40.7h0M66.5 43.8h0M245.9 7.8h0M223.2 25.4h0M130.1 0.4h0M99.5 81.8h0M229.9 15.0h0M229.6 76.2h0M103.9 147.3h0M104.5 147.5h0M197.2 134.9h0M124.9 107.1h0M124.9 108.0h0M128.0 92.3h0M196.7 118.1h0M152.7 116.0h0M136.3 96.6h0M182.2 103.0h0M87.3 97.9h0M140.6 98.5h0M167.1 128.2h0M191.2 107.9h0M158.3 75.5h0M158.4 76.7h0M158.8 77.6h0M196.9 47.6h0M181.1 0.7h0M239.4 120.1h0M239.8 120.8h0M137.0 94.0h0M199.6 48.1h0M211.8 65.8h0M246.0 23.9h0M99.4 50.2h0M100.0 51.7h0M101.3 51.7h0M219.1 91.7h0M94.3 143.8h0M139.0 21.9h0M140.0 23.0h0M148.8 28.4h0M69.1 35.6h0M155.0 11.9h0M137.7 124.5h0M226.7 72.2h0M120.7 51.3h0M147.4 77.8h0M191.7 123.1h0M196.5 119.1h0M118.8 -0.4h0M118.5 1.0h0M117.4 3.0h0M72.5 83.2h0M127.3 -0.2h0M248.9 107.1h0M249.7 108.0h0M250.3 107.6h0M130.2 55.8h0M120.3 27.6h0M164.7 89.4h0M165.0 90.2h0M165.9 92.3h0M137.6 104.3h0M227.6 27.4h0M228.4 27.8h0M243.6 121.6h0M100.6 143.7h0M218.6 147.3h0M220.1 148.0h0M192.8 32.9h0M100.6 94.5h0M130.6 32.1h0M106.4 122.9h0M108.5 123.5h0M124.4 82.5h0M124.9 83.9h0M170.6 101.4h0M214.0 113.4h0M192.0 25.6h0M191.5 26.6h0M191.1 28.0h0M190.4 28.5h0M182.6 59.8h0M148.5 5.4h0M180.1 11.8h0M178.5 12.8h0M198.1 14.3h0M198.1 15.2h0M233.3 22.4h0M84.1 57.6h0M85.4 58.1h0M113.2 115.3h0M113.9 115.6h0M80.8 122.7h0M224.5 139.2h0M213.1 53.6h0M227.0 61.5h0M145.4 70.7h0M145.6 71.4h0M226.5 27.9h0M88.8 81.2h0M88.7 82.6h0M150.6 38.1h0M229.7 86.4h0M229.8 87.5h0M155.7 104.5h0M155.5 104.1h0M223.2 146.3h0M225.1 146.6h0M118.4 69.8h0M213.4 51.5h0M213.6 54.1h0M156.1 31.8h0M134.7 36.1h0M163.9 143.2h0M135.6 90.7h0M67.2 87.5h0M68.1 86.4h0M138.7 59.2h0M233.6 68.4h0M121.4 26.3h0M198.3 4.7h0M112.3 85.4h0M112.9 86.6h0M167.3 103.5h0M123.1 59.8h0M124.8 59.6h0M125.5 60.5h0M252.2 111.4h0M179.3 24.0h0M76.9 43.0h0M75.3 94.5h0M120.3 115.4h0M189.0 38.2h0M169.0 108.5h0M168.9 110.0h0M168.8 147.8h0M102.4 56.1h0M67.5 88.4h0M68.1 89.5h0M135.3 8.4h0M135.8 8.7h0M89.4 83.9h0M108.2 67.1h0M84.6 61.0h0M172.0 32.5h0M79.2 88.3h0M78.6 89.4h0M77.5 41.0h0M190.5 2.8h0M165.3 144.5h0M193.1 66.3h0M238.9 28.3h0M237.8 29.6h0M239.1 30.7h0M120.0 111.7h0M119.4 112.7h0M122.2 37.3h0M123.3 39.3h0M150.1 95.2h0M66.4 104.4h0M115.7 105.9h0M116.9 108.2h0M84.9 111.5h0M86.0 111.6h0M164.9 35.1h0M164.6 35.1h0M78.6 90.1h0M79.9 89.1h0M217.6 9.5h0M72.9 72.0h0M143.5 38.0h0M108.2 145.7h0M144.1 91.7h0M245.0 100.8h0M246.1 101.9h0M142.9 71.6h0M225.8 9.6h0M226.5 10.5h0M215.6 93.1h0M216.9 92.0h0M229.3 128.0h0M230.4 129.1h0M231.0 129.4h0M232.6 130.1h0M229.1 42.5h0M230.2 42.7h0M229.9 44.0h0M230.4 45.1h0M78.3 79.7h0M84.4 126.3h0M162.8 4.9h0M149.3 6.6h0M150.1 7.4h0M159.4 48.9h0M159.7 49.8h0M155.8 125.5h0M121.6 9.8h0M135.6 119.8h0M219.1 73.0h0M219.9 73.1h0M105.6 38.0h0M207.3 97.1h0M197.0 79.3h0M154.3 47.4h0M100.1 5.0h0M101.5 5.5h0M253.7 132.4h0M179.5 109.3h0M230.9 103.7h0M231.6 105.2h0M239.4 128.6h0M162.7 138.6h0M149.5 80.6h0M150.8 80.1h0M104.2 131.1h0M139.8 11.7h0M115.5 54.2h0M189.6 70.4h0M232.2 101.1h0M99.9 111.9h0M100.4 113.3h0M120.9 144.5h0M149.2 19.7h0M151.7 21.0h0M179.4 6.3h0M96.9 92.9h0M141.8 122.6h0M175.9 86.7h0M176.2 87.7h0M175.4 88.0h0M236.7 64.8h0M225.1 16.0h0M87.8 130.7h0M87.8 132.2h0M87.9 133.8h0M147.6 61.3h0M147.9 62.4h0M201.4 51.0h0M201.8 52.1h0M176.2 66.4h0M175.8 67.2h0M251.4 1.6h0M138.2 16.2h0M134.7 44.2h0M127.7 84.9h0M170.5 141.6h0M172.4 141.4h0M206.5 33.2h0M207.1 34.2h0M94.4 77.8h0M70.5 139.1h0M163.1 83.4h0M149.4 75.5h0M150.7 75.3h0M200.4 27.1h0M192.1 103.3h0M125.9 11.3h0M88.6 56.7h0M168.7 76.7h0M112.6 127.1h0M135.3 129.1h0M165.9 98.7h0M167.3 99.0h0M134.1 108.6h0M135.4 108.9h0M135.3 109.1h0M101.2 84.5h0M100.7 85.9h0M196.0 7.2h0M196.6 50.5h0M190.1 69.8h0M97.4 90.9h0M250.9 13.5h0M250.8 14.2h0M251.3 15.5h0M246.7 54.6h0M89.2 29.5h0M95.4 24.1h0M95.2 25.7h0M95.5 27.6h0M183.4 19.5h0M184.3 20.2h0M172.8 70.7h0M209.5 105.0h0M220.6 15.8h0M122.4 34.2h0M107.4 8.1h0M109.0 9.0h0M92.6 59.1h0M71.9 57.4h0M209.7 103.0h0M208.7 97.7h0M209.2 99.3h0M129.1 148.0h0M247.5 84.8h0M246.6 86.8h0M109.4 145.3h0M79.6 81.7h0M80.2 81.2h0M79.0 82.6h0M72.2 79.7h0M72.1 80.7h0M73.5 83.2h0M72.5 104.7h0M133.5 74.5h0M134.1 75.0h0M140.4 107.9h0M156.5 114.5h0M227.6 75.7h0M182.8 100.8h0M194.0 27.5h0M246.8 15.6h0M77.2 96.9h0M90.4 71.5h0M85.9 107.9h0M68.9 93.5h0M72.5 84.9h0M125.1 27.0h0M96.8 87.3h0M250.9 28.7h0M150.5 143.8h0M132.5 118.6h0M133.7 118.6h0M239.7 50.9h0M221.5 12.6h0M204.7 33.3h0M144.2 137.1h0M144.2 137.8h0M219.7 25.5h0M123.8 55.1h0M125.6 50.8h0M125.8 53.0h0M204.7 4.0h0M203.7 5.8h0M135.2 4.1h0M74.1 72.9h0M73.9 75.5h0M139.4 73.2h0M92.7 110.4h0M92.2 111.1h0M106.2 60.2h0M105.9 60.8h0M130.4 122.0h0M208.6 145.6h0M135.4 124.3h0M219.6 36.8h0M219.6 37.2h0M129.3 52.8h0M130.5 54.0h0M194.2 45.4h0M201.6 98.9h0M200.7 101.0h0M129.6 40.8h0M146.0 98.4h0M108.4 124.4h0M95.0 110.2h0M104.5 84.4h0M122.0 47.8h0M172.7 41.5h0M117.9 90.4h0M158.1 0.5h0M204.4 104.1h0M237.0 107.7h0M76.5 85.5h0M77.1 87.3h0M111.4 89.4h0M111.4 90.1h0M113.7 90.4h0M98.0 18.7h0M98.2 19.1h0M99.4 18.7h0M243.2 109.6h0M244.7 111.2h0M209.3 52.8h0M145.4 105.2h0M70.7 7.3h0M70.6 8.2h0M251.0 11.6h0M123.7 64.9h0M111.0 148.5h0M100.2 125.8h0M126.5 28.5h0M126.6 29.8h0M91.7 105.8h0M93.6 105.7h0M94.6 105.8h0M207.1 123.2h0M206.4 123.2h0M75.0 141.4h0M198.9 116.2h0M198.6 117.0h0M199.7 119.0h0M112.2 136.3h0M112.4 137.0h0M115.7 138.9h0M194.7 48.1h0M194.7 48.1h0M195.4 48.9h0M161.6 31.1h0M162.5 31.5h0M165.3 26.9h0M166.8 27.1h0M127.4 139.5h0M115.8 33.4h0M116.3 33.5h0M123.9 64.3h0M143.7 126.6h0M144.3 128.1h0M114.3 143.4h0M198.2 120.2h0M176.2 149.4h0M96.8 0.7h0M180.3 13.1h0M165.3 116.7h0M240.9 -0.6h0M156.9 122.9h0M135.7 50.8h0M235.8 56.2h0M237.0 56.3h0M207.4 2.7h0M203.2 69.8h0M203.6 70.9h0M112.2 83.4h0M112.7 84.8h0M113.2 87.0h0M102.4 0.7h0M221.2 99.5h0M222.4 100.3h0M179.6 20.5h0M81.3 103.4h0M82.6 104.7h0M73.7 112.6h0M175.3 144.5h0M177.6 146.0h0M178.7 45.3h0M100.2 62.4h0M191.0 132.3h0M83.4 110.5h0M148.3 70.0h0M149.3 70.6h0M168.8 80.3h0M245.3 57.2h0M152.0 38.5h0M188.4 100.4h0M188.2 100.9h0M187.7 102.2h0M123.1 77.1h0M123.5 78.4h0M249.0 20.3h0M249.7 21.6h0M144.5 144.1h0M145.6 144.9h0M145.7 144.9h0M146.5 145.7h0M73.8 90.6h0M74.0 91.4h0M74.8 92.1h0M71.1 27.2h0M64.6 20.5h0M66.5 21.0h0M68.3 20.9h0M199.0 33.1h0M222.4 115.6h0M223.1 116.5h0M85.2 17.5h0M151.9 83.4h0M152.0 83.9h0M77.4 135.7h0M77.8 135.5h0M78.7 136.2h0M80.1 135.6h0M82.5 58.0h0M104.7 110.6h0M164.5 105.6h0M160.1 21.6h0M161.0 22.8h0M79.2 37.1h0M80.5 38.3h0M100.3 34.4h0M174.9 145.2h0M176.0 144.7h0M202.2 123.7h0M97.5 47.9h0M138.0 145.2h0M138.1 146.5h0M252.7 145.5h0M253.1 146.3h0M102.0 97.6h0M102.7 98.2h0M166.2 10.8h0M165.8 11.7h0M190.7 36.5h0M191.3 37.3h0M153.0 132.5h0M154.9 133.4h0M174.5 131.7h0M150.0 142.4h0M204.1 82.9h0M131.6 25.2h0M140.6 33.8h0M238.0 110.8h0M144.6 23.0h0M172.4 46.5h0M242.6 47.8h0M242.3 48.8h0M98.2 74.6h0M209.3 77.5h0M215.2 76.8h0M176.0 67.8h0M143.0 96.3h0M128.9 128.3h0M232.3 128.8h0M208.8 121.7h0M209.7 122.5h0M187.4 87.8h0M169.5 106.1h0M143.4 39.5h0M144.5 40.1h0M228.3 54.5h0M244.3 73.0h0M243.7 74.9h0M178.2 11.9h0M221.8 10.5h0M175.5 43.4h0M176.1 44.9h0M242.1 2.8h0M229.6 69.1h0M179.8 104.2h0M183.1 104.7h0M159.6 108.7h0M240.9 126.4h0M215.8 4.9h0M215.8 5.8h0M212.8 26.6h0M184.7 44.1h0M235.1 112.0h0M139.1 89.1h0M140.2 88.8h0M160.5 78.8h0M113.4 72.9h0M165.5 7.9h0M127.3 107.8h0M165.6 14.5h0M166.2 15.5h0M89.6 105.1h0M238.2 33.3h0M238.2 33.7h0M188.3 90.3h0M167.0 87.3h0M167.3 90.2h0M156.7 3.3h0M158.0 3.7h0M157.6 4.7h0M159.1 4.5h0M182.4 19.4h0M140.2 101.4h0M140.9 105.8h0M237.2 145.2h0M144.7 19.7h0M184.8 43.8h0M79.6 55.6h0M146.5 16.4h0M146.7 18.3h0M148.2 18.5h0M148.4 18.8h0M107.6 57.3h0M115.7 73.8h0M117.1 74.8h0M117.7 75.2h0M182.2 71.9h0M200.7 100.6h0M201.5 102.5h0M220.3 112.1h0M221.0 112.7h0M157.3 -0.2h0M156.6 1.9h0M198.8 55.0h0M202.8 137.1h0M203.6 137.4h0M230.2 10.9h0M156.6 15.8h0M158.2 15.1h0M142.3 60.6h0M151.6 116.7h0M152.1 116.5h0M200.2 56.1h0M145.4 117.2h0M147.0 70.9h0M174.3 38.3h0M243.4 95.1h0M197.6 142.6h0M197.4 143.6h0M142.4 60.7h0M120.3 105.6h0M125.5 55.8h0M219.6 65.9h0M160.9 31.1h0M150.9 65.4h0M247.6 15.7h0M248.3 17.1h0M252.8 111.5h0M248.2 134.9h0M94.1 42.2h0M95.5 41.8h0M205.2 75.5h0M246.9 91.7h0M100.8 57.9h0M159.3 103.1h0M158.7 53.7h0M150.5 42.3h0M152.5 44.1h0M254.1 36.3h0M105.4 47.7h0M76.7 64.6h0M118.0 126.6h0M85.3 23.8h0M137.0 61.0h0M137.4 61.7h0M87.7 30.9h0M66.2 95.1h0M240.2 47.1h0M194.6 107.7h0M194.0 108.6h0M210.5 131.0h0M251.9 85.9h0M168.2 22.9h0M206.5 127.0h0M145.0 2.5h0M208.6 11.5h0M217.2 86.5h0M218.3 87.1h0M219.2 88.2h0M219.9 88.8h0M105.3 20.6h0M101.5 0.5h0M223.0 55.9h0M215.0 117.2h0M158.7 140.0h0M172.1 121.5h0M142.3 42.9h0M142.0 44.5h0M143.3 45.4h0M175.6 93.0h0M243.0 -0.9h0M244.2 0.2h0M244.1 80.4h0M245.0 80.3h0M96.9 42.1h0M165.3 71.5h0M118.5 0.2h0M178.3 52.2h0M178.9 52.2h0M181.2 53.2h0M124.7 20.2h0M198.3 81.6h0M123.2 90.7h0M222.4 2.7h0M153.7 140.6h0M185.0 32.1h0M139.1 84.9h0M140.4 86.0h0M211.2 8.7h0M152.1 49.2h0M162.5 91.2h0M162.1 93.2h0M136.7 100.5h0M97.7 74.8h0M101.7 113.4h0M104.8 112.6h0M206.1 125.8h0M224.0 23.5h0M208.6 53.3h0M208.8 54.5h0M208.7 55.2h0M153.0 3.0h0M222.6 70.4h0M180.4 43.3h0M141.5 126.4h0M118.3 38.4h0M118.4 38.6h0M201.7 109.0h0M202.7 110.9h0M190.0 98.1h0M124.1 84.2h0M182.8 90.7h0M183.9 93.8h0M148.6 -0.2h0M149.1 1.1h0M201.1 62.1h0M203.7 61.1h0M149.6 95.7h0M107.4 67.9h0M106.5 69.9h0M114.4 62.4h0M177.3 87.1h0M129.4 111.6h0M204.8 20.6h0M133.9 114.7h0M129.5 141.5h0M182.5 84.1h0M216.1 19.9h0M76.6 79.7h0M78.1 80.2h0M229.9 11.2h0M195.9 7.3h0M196.8 6.8h0M67.8 104.7h0M186.9 101.7h0M187.6 102.4h0M137.7 64.1h0M165.7 128.8h0M107.5 47.7h0M132.5 66.4h0M132.4 67.3h0M168.3 125.1h0M106.2 115.7h0M81.0 98.5h0M91.7 123.2h0M226.4 96.9h0M201.3 11.0h0M245.9 113.2h0M250.1 40.8h0M128.8 121.1h0M129.1 122.9h0M206.2 76.2h0M138.7 27.6h0M169.7 91.7h0M169.8 92.5h0M170.4 93.6h0M170.1 94.7h0M230.0 30.4h0M230.7 33.0h0M231.5 33.2h0M193.8 93.0h0M196.0 93.7h0M224.3 78.3h0M106.7 30.0h0M108.3 30.6h0M174.6 73.9h0M174.9 75.7h0M175.2 76.4h0M134.7 49.9h0M222.1 141.1h0M224.0 142.0h0M168.5 105.6h0M169.1 106.9h0M162.1 70.6h0M207.0 109.0h0M172.0 111.6h0M172.9 111.9h0M80.3 0.1h0M82.8 1.6h0M119.5 120.7h0M120.8 121.3h0M78.3 120.0h0M78.5 121.0h0M132.1 79.7h0M68.5 36.4h0M135.0 97.8h0M103.1 114.8h0M234.6 115.8h0M235.3 117.5h0M238.5 64.5h0M107.1 127.2h0M107.7 129.0h0M116.1 64.0h0M142.0 38.6h0M157.3 98.4h0M166.7 78.1h0M166.8 78.7h0M250.1 67.9h0M179.4 68.9h0M192.3 98.9h0M194.3 100.1h0M195.3 100.6h0M182.4 136.6h0M246.8 80.8h0M247.3 82.0h0M194.1 15.8h0M169.3 141.9h0M170.1 143.6h0M184.9 140.9h0M185.8 141.5h0M238.6 16.7h0M139.8 30.2h0M83.6 75.4h0M159.6 136.8h0M122.0 8.9h0M117.0 36.4h0M117.4 36.8h0M214.0 117.7h0M215.3 118.7h0M226.6 127.9h0M239.2 119.2h0M78.7 72.1h0M122.0 121.7h0M126.7 56.9h0M127.7 58.2h0M192.7 118.9h0M124.3 70.5h0M125.3 71.4h0M187.9 61.7h0M188.4 63.1h0M91.3 59.9h0M165.0 5.4h0M166.1 5.1h0M124.0 10.9h0M132.5 86.7h0M178.1 33.1h0M85.8 102.2h0M198.1 118.9h0M214.5 40.8h0M215.5 42.1h0M176.3 47.4h0M94.1 102.9h0M251.2 38.9h0M252.1 40.8h0M246.4 66.3h0M247.1 67.4h0M211.3 119.2h0M192.7 46.2h0M193.8 46.4h0M116.8 96.2h0M91.9 86.0h0M93.0 84.6h0M78.4 24.8h0M158.2 133.4h0M228.8 33.5h0M229.1 34.5h0M180.2 55.8h0M172.1 75.8h0M193.5 85.7h0M192.9 86.9h0M221.4 19.9h0M90.7 73.2h0M223.6 103.8h0M225.1 104.9h0M222.6 28.0h0M99.7 49.0h0M100.4 49.6h0M150.0 51.3h0M142.9 8.6h0M237.7 79.3h0M245.7 60.1h0M178.5 90.4h0M97.7 128.2h0M97.5 129.6h0M97.6 130.2h0M78.9 113.9h0M186.6 136.4h0M78.7 64.5h0M124.0 79.9h0M120.2 49.5h0M177.5 77.6h0M177.6 77.5h0M124.2 -1.5h0M107.4 37.4h0M108.6 39.0h0M130.7 56.9h0M130.2 58.3h0M128.6 99.2h0M114.6 45.8h0M82.1 135.6h0M83.6 136.6h0M243.2 140.1h0M169.0 53.1h0M215.3 72.7h0M217.3 74.9h0M190.7 46.2h0M252.4 138.9h0M253.1 140.3h0M254.2 141.0h0M255.6 141.7h0M92.2 73.3h0M92.8 73.8h0M145.2 10.6h0M145.1 11.3h0M145.3 12.8h0M68.2 117.1h0M247.6 56.7h0M228.9 74.5h0M150.0 24.6h0M184.7 87.7h0M193.4 28.5h0M194.3 28.5h0M195.6 29.0h0M91.8 108.4h0M93.5 110.6h0M248.9 139.0h0M224.5 109.1h0M184.6 128.6h0M186.7 129.0h0M186.3 130.0h0M245.2 12.5h0M143.3 69.2h0M195.8 130.2h0M104.1 -1.3h0M113.8 79.5h0M157.3 91.7h0M157.9 92.0h0M128.3 138.3h0M173.5 99.3h0M174.1 100.1h0M128.9 38.1h0M129.7 38.2h0M202.0 73.2h0M199.1 91.4h0M189.6 77.2h0M169.5 70.6h0M246.4 23.0h0M247.6 23.6h0M205.8 120.8h0M204.4 9.2h0M83.1 66.8h0M137.2 64.5h0M86.0 62.3h0M234.1 144.0h0M142.0 89.9h0M132.5 52.7h0M76.4 40.6h0M77.7 40.8h0M77.5 41.7h0M128.6 94.2h0M117.8 89.0h0M117.5 89.7h0M191.5 66.1h0M70.7 99.2h0M72.9 99.9h0M121.1 51.7h0M122.8 52.5h0M103.2 54.4h0M151.8 11.4h0M152.7 13.2h0M67.9 72.4h0M184.3 86.3h0M162.1 96.9h0M160.2 99.1h0M160.3 101.4h0M160.5 102.3h0M97.7 67.0h0M99.1 67.3h0M245.4 62.6h0M245.9 62.7h0M142.4 81.5h0M207.6 98.9h0M207.8 100.0h0M207.6 100.6h0M201.4 133.2h0M214.5 55.8h0M105.3 27.8h0M176.4 91.2h0M144.0 81.0h0M119.9 93.3h0M109.2 120.4h0M110.2 120.8h0M126.0 108.1h0M159.8 39.6h0M230.1 43.6h0M231.4 44.9h0M231.8 45.3h0M161.1 109.9h0M161.4 111.3h0M104.3 73.9h0M177.4 145.2h0M178.7 140.1h0M178.9 142.8h0M171.0 87.7h0M90.0 55.0h0M89.5 56.2h0M69.7 129.8h0M184.8 82.5h0M123.8 8.8h0M140.1 31.4h0M204.3 131.2h0M131.6 9.8h0M154.3 104.6h0M155.0 105.9h0M159.7 117.1h0M144.3 92.7h0M171.8 40.8h0M142.5 15.7h0M70.4 69.5h0M130.8 46.3h0M243.3 55.7h0M236.5 9.0h0M107.2 1.0h0M101.2 92.1h0M76.2 130.2h0M246.6 143.8h0M112.3 86.9h0M71.6 123.5h0M174.8 47.2h0M137.3 60.2h0M186.6 50.5h0M187.3 51.2h0M244.1 90.8h0M157.6 108.1h0M80.1 90.5h0M86.3 75.1h0M86.7 77.1h0M251.2 98.0h0M106.0 104.3h0M160.8 44.0h0M66.0 141.3h0M223.2 74.7h0M246.5 102.7h0M246.4 104.1h0M246.0 105.1h0M253.5 -0.6h0M255.2 -1.1h0M91.7 62.7h0M240.5 86.9h0M113.8 119.4h0M66.2 92.9h0M161.7 26.4h0M164.1 10.5h0M92.8 54.0h0M214.7 141.2h0M106.3 39.8h0M106.3 41.8h0M121.7 49.9h0M123.0 91.7h0M123.8 92.7h0M205.8 0.4h0M234.0 49.9h0M233.7 50.9h0M148.8 41.0h0M220.8 12.8h0M229.5 57.5h0M229.0 58.7h0M228.6 59.9h0M229.2 61.1h0M124.7 14.9h0M134.0 57.9h0M148.9 120.8h0M121.9 142.5h0M149.1 148.2h0M150.3 148.7h0M127.7 35.2h0M240.6 127.8h0M206.8 133.7h0M79.5 81.3h0M78.2 82.4h0M181.6 40.7h0M80.8 66.2h0M194.1 0.2h0M249.2 64.0h0M86.6 68.2h0M179.0 136.8h0M176.6 137.3h0M175.6 139.4h0M127.4 21.7h0M197.1 127.7h0M80.0 47.0h0M113.5 62.0h0M249.7 80.5h0M250.5 81.1h0M142.6 38.8h0M144.0 39.6h0M100.4 135.1h0M79.1 36.6h0M233.5 38.6h0M151.6 40.2h0M186.6 102.8h0M79.7 81.9h0M237.5 93.3h0M68.6 16.5h0M163.7 93.2h0M81.4 123.5h0M149.1 108.0h0M241.9 42.5h0M80.8 142.7h0M81.8 143.4h0M176.1 107.3h0M74.6 107.4h0M81.2 45.9h0M80.9 47.8h0M146.4 145.9h0M135.4 51.6h0M206.1 125.7h0M235.4 81.0h0M101.2 38.0h0M210.5 91.4h0M152.4 31.1h0M153.7 32.1h0M141.9 42.2h0M141.3 42.0h0M187.9 142.3h0M188.5 142.6h0M227.6 57.6h0M184.0 140.7h0M175.3 27.4h0M176.7 28.3h0M178.0 28.9h0M117.9 67.9h0M148.5 103.1h0M149.6 103.6h0M85.9 57.4h0M196.7 127.1h0M225.4 137.9h0M149.2 134.7h0M201.8 22.5h0M203.0 23.2h0M125.4 76.6h0M125.6 78.2h0M162.3 65.6h0M244.6 71.4h0M149.6 134.9h0M150.0 136.5h0M163.3 23.2h0M193.0 35.8h0M193.9 36.1h0M152.4 6.6h0M201.8 46.2h0M116.8 15.4h0M117.7 14.1h0M118.6 14.6h0M249.0 -0.1h0M230.1 47.3h0M230.3 49.2h0M92.2 8.7h0M128.1 101.2h0M220.1 83.6h0M219.8 84.4h0M74.7 49.9h0M147.0 102.8h0M148.4 103.5h0M229.4 0.3h0M175.2 42.6h0M202.0 72.1h0M202.6 73.0h0M220.1 97.2h0M132.6 105.8h0M133.1 107.6h0M133.8 109.4h0M77.6 147.2h0M197.6 99.8h0M198.3 99.5h0M199.4 99.9h0M143.5 66.9h0M231.0 111.1h0M231.5 112.9h0M121.3 115.2h0M114.8 49.6h0M114.5 52.4h0M172.4 110.8h0M172.1 4.9h0M172.6 6.0h0M229.4 9.0h0M173.7 140.9h0M133.6 39.5h0M248.1 128.7h0M246.8 129.4h0M246.0 130.1h0M190.9 104.2h0M149.1 106.9h0M80.7 116.7h0M80.4 118.5h0M149.1 140.7h0M133.5 144.3h0M206.8 129.5h0M198.7 12.0h0M179.2 100.3h0M180.8 101.1h0M154.1 26.5h0M147.8 113.3h0M160.0 29.7h0M222.9 32.5h0M222.8 32.6h0M124.2 133.7h0M171.3 86.7h0M170.1 88.5h0M244.5 78.9h0M253.2 131.5h0M254.0 132.6h0M235.3 21.3h0M206.6 93.3h0M173.2 54.2h0M85.3 19.8h0M191.4 137.1h0M194.1 137.6h0M149.3 23.6h0M247.5 99.9h0M248.9 101.2h0M249.4 102.5h0M91.5 113.2h0M251.3 64.5h0M252.3 65.9h0M135.3 -0.1h0M210.8 137.7h0M210.6 139.4h0M249.0 130.6h0M187.0 25.9h0M224.3 96.8h0M67.0 76.5h0M173.4 95.5h0M174.6 95.4h0M220.1 3.1h0M144.3 127.3h0M144.5 67.8h0M136.0 49.9h0M136.0 51.3h0M219.7 149.1h0M178.3 98.3h0M152.6 52.2h0M217.9 0.7h0M219.6 0.9h0M102.6 110.8h0M153.1 110.2h0M162.1 83.3h0M244.1 10.1h0M244.6 10.2h0M174.1 116.6h0M250.9 119.8h0M116.3 90.1h0M116.5 90.7h0M190.5 10.8h0M182.9 74.0h0M181.3 76.1h0M190.3 130.5h0M172.7 41.9h0M215.1 19.6h0M224.8 116.2h0M224.8 117.0h0M192.7 121.4h0M130.8 59.4h0M131.6 60.1h0M180.8 72.0h0M181.6 72.8h0M74.4 66.0h0M93.4 96.6h0M94.6 95.8h0M85.9 102.5h0M87.6 103.2h0M190.2 48.6h0M190.9 49.6h0M122.9 62.9h0M242.7 36.3h0M242.8 37.3h0M225.7 145.3h0M226.5 146.2h0M185.8 85.1h0M184.8 86.9h0M126.9 85.8h0M103.3 21.2h0M70.2 68.7h0M70.6 69.9h0M71.0 70.2h0M72.2 70.9h0M151.7 58.5h0M225.8 58.3h0M226.8 57.8h0M185.1 79.4h0M218.1 138.6h0M130.8 58.7h0M107.6 112.7h0M229.2 104.2h0M230.6 107.5h0M177.9 115.0h0M195.8 71.5h0M149.2 135.2h0M149.8 137.2h0M112.7 78.6h0M112.1 79.6h0M112.5 79.3h0M143.4 145.0h0M144.7 146.5h0M118.2 47.8h0M116.7 50.3h0M116.5 50.8h0M234.5 75.5h0M131.9 147.0h0M166.8 58.0h0M66.9 41.2h0M123.3 26.5h0M67.9 40.7h0M118.6 115.3h0M96.0 100.4h0M82.2 51.6h0M249.4 89.5h0M250.1 90.1h0M251.8 89.4h0M169.7 128.0h0M98.4 131.3h0M99.2 132.7h0M83.8 19.2h0M84.4 19.9h0M85.4 130.7h0M85.9 132.0h0M206.3 36.6h0M206.0 37.8h0M207.2 38.8h0M246.5 23.0h0M247.0 24.2h0M234.9 16.6h0M236.3 17.1h0M202.7 44.0h0M108.2 104.4h0M109.8 105.8h0M110.5 74.6h0M128.2 133.6h0M128.7 133.8h0M174.2 109.7h0M248.3 13.6h0M204.1 109.1h0M129.4 82.3h0M129.7 83.2h0M131.0 83.7h0M101.7 147.4h0M102.1 148.0h0M118.3 89.8h0M119.1 89.4h0M217.0 135.6h0M89.5 35.0h0M164.8 23.0h0M229.9 -1.2h0M86.7 140.9h0M171.1 76.5h0M235.1 128.8h0M137.0 46.3h0M188.8 71.4h0M190.0 71.3h0M124.0 30.1h0M124.2 30.8h0M111.6 57.7h0M147.6 120.5h0M242.3 3.7h0M242.8 4.6h0M229.2 138.0h0M152.9 54.2h0M135.7 80.2h0M128.7 94.0h0M210.6 82.8h0M206.1 -1.1h0M205.1 -0.5h0M199.9 62.7h0M201.4 64.1h0M203.7 64.9h0M156.4 53.5h0M72.7 38.8h0M73.6 39.4h0M92.4 89.9h0M128.7 113.6h0M179.7 29.3h0M180.7 70.8h0M205.6 102.9h0M207.3 103.2h0M218.3 33.2h0M219.4 34.2h0M97.1 122.4h0M252.7 147.0h0M212.9 48.9h0M136.5 59.0h0M133.8 66.6h0M136.2 66.6h0M248.7 101.5h0M245.1 41.2h0M167.9 130.8h0M146.3 98.1h0M147.8 99.7h0M124.1 102.7h0M99.2 1.0h0M201.3 123.0h0M168.7 122.2h0M169.1 124.5h0M109.8 104.7h0M103.9 37.4h0M103.1 38.9h0M252.4 56.6h0M252.9 57.4h0M69.6 101.5h0M70.4 102.6h0M106.7 4.5h0M162.5 39.7h0M152.4 20.7h0M170.4 133.5h0M87.6 72.6h0M86.7 74.8h0M139.1 65.6h0M114.4 127.9h0M86.8 4.4h0M85.9 6.0h0M86.3 6.9h0M107.1 77.6h0M147.2 137.2h0M66.3 78.1h0M237.3 132.0h0M236.7 133.2h0M210.0 71.2h0M158.9 102.4h0M160.1 102.8h0M108.7 133.6h0M109.7 134.5h0M142.6 133.5h0M218.9 102.5h0M219.4 103.4h0M175.4 141.2h0M174.8 142.6h0M146.4 56.0h0M147.1 56.7h0M100.1 57.9h0M102.1 58.7h0M90.5 96.0h0M198.7 137.7h0M98.4 52.6h0M98.3 53.5h0M171.2 145.8h0M144.5 115.7h0M239.2 97.3h0M180.2 95.7h0M182.4 95.1h0M174.7 59.3h0M167.6 12.6h0M230.5 127.1h0M248.4 118.7h0M115.7 95.9h0M115.8 96.2h0M116.5 96.4h0M164.1 113.7h0M217.4 89.5h0M204.3 100.2h0M87.4 58.9h0M233.3 11.5h0M234.7 12.1h0M199.3 76.3h0M201.0 76.0h0M201.9 76.7h0M136.5 3.6h0M158.5 39.8h0M187.6 38.6h0M113.4 77.4h0M208.4 85.3h0M170.5 55.6h0M170.6 76.8h0M192.6 0.5h0M197.5 39.9h0M219.9 13.3h0M221.6 13.4h0M214.5 69.4h0M199.5 140.2h0M116.4 127.7h0M243.6 78.3h0M181.5 24.4h0M94.7 121.7h0M66.4 131.9h0M141.3 69.7h0M212.2 114.1h0M150.6 3.8h0M135.3 30.3h0M146.1 16.4h0M189.0 76.6h0M78.0 73.7h0M96.8 21.8h0M98.5 21.7h0M188.1 38.5h0M190.2 39.3h0M247.4 26.4h0M75.8 107.8h0M164.6 82.8h0M104.0 146.6h0M108.9 146.3h0M230.7 55.4h0M115.7 51.1h0M109.9 40.5h0M161.0 25.4h0M227.3 96.8h0M140.6 119.6h0M214.5 80.7h0M160.5 13.5h0M217.5 33.1h0M125.4 120.6h0M125.0 121.4h0M200.2 118.2h0M216.4 109.1h0M101.3 87.8h0M100.6 88.5h0M216.1 12.5h0M119.1 112.6h0M99.0 44.5h0M173.0 94.9h0M174.0 94.7h0M179.4 45.1h0M226.3 13.3h0M246.5 142.5h0M245.8 143.5h0M184.1 55.6h0M141.4 52.3h0M138.6 51.1h0M138.7 52.1h0M135.5 23.8h0M136.7 25.2h0M249.2 85.0h0M152.8 4.0h0M153.3 5.5h0M231.5 14.3h0M147.9 23.5h0M148.5 24.4h0M144.5 43.0h0M231.1 52.0h0M229.8 52.9h0M104.7 100.4h0M199.0 15.8h0M96.6 48.7h0M162.2 123.2h0M128.7 0.6h0M185.5 73.0h0M231.6 52.8h0M161.3 95.4h0M86.0 122.7h0M86.1 123.2h0M214.5 19.7h0M210.2 2.5h0M149.2 62.4h0M150.6 62.9h0M178.8 69.6h0M239.7 53.0h0M239.8 54.3h0M159.4 27.3h0M175.2 57.3h0M176.5 58.0h0M177.2 59.8h0M154.9 12.1h0M199.0 121.8h0M199.0 122.5h0M198.5 123.2h0M187.2 39.0h0M251.0 111.2h0M252.0 112.3h0M251.4 51.9h0M252.7 51.5h0M175.3 148.8h0M221.9 78.5h0M222.5 80.4h0M222.0 80.4h0M222.8 81.3h0M245.3 148.2h0M246.0 148.6h0M155.3 18.1h0M225.0 49.0h0M142.2 133.7h0M142.5 135.3h0M206.9 73.2h0M138.1 128.6h0M165.1 61.0h0M167.3 61.8h0M214.3 112.4h0M244.3 80.3h0M194.4 19.9h0M157.4 56.8h0M156.9 59.0h0M146.9 49.4h0M209.8 16.4h0M169.4 104.0h0M90.9 60.9h0M189.1 103.4h0M191.3 103.1h0M78.9 145.7h0M80.0 149.8h0M113.6 124.0h0M172.8 117.3h0M86.6 138.7h0M128.7 105.5h0M128.3 107.8h0M127.9 107.1h0M128.1 108.9h0M212.1 78.0h0M214.4 78.0h0M215.3 79.2h0M102.9 142.0h0M98.4 99.2h0M188.9 50.9h0M189.1 50.8h0M99.8 86.6h0M150.7 66.5h0M152.0 66.2h0M188.0 68.9h0M188.5 70.1h0M213.6 92.4h0M186.4 94.5h0M186.6 95.9h0M229.5 24.6h0M229.3 25.3h0M228.4 28.6h0M117.0 17.4h0M197.8 33.4h0M236.6 32.8h0M206.8 93.7h0M206.1 94.7h0M203.1 23.9h0M203.6 24.5h0M251.5 102.5h0M106.8 23.1h0M108.2 25.0h0M222.7 124.3h0M127.6 9.2h0M128.0 9.9h0M223.5 6.9h0M84.8 68.3h0M165.8 32.3h0M161.2 142.8h0M161.4 143.8h0M101.7 133.2h0M103.9 135.3h0M109.9 77.5h0M111.1 78.8h0M235.7 68.7h0M132.5 37.1h0M136.2 37.5h0M185.9 60.1h0M249.6 12.0h0M249.7 13.6h0M118.2 41.1h0M213.1 74.5h0M213.9 75.7h0M240.6 43.4h0M247.6 123.1h0M91.8 94.4h0M93.3 94.8h0M93.8 96.3h0M167.7 88.2h0M168.5 88.7h0M183.6 72.3h0M160.8 115.4h0M161.6 116.0h0M177.5 43.0h0M178.3 42.7h0M218.6 27.1h0M219.6 27.3h0M152.3 12.4h0M98.2 106.6h0M142.1 112.2h0M73.1 110.6h0M74.1 111.3h0M79.0 116.4h0M79.3 119.8h0M226.4 69.8h0M166.9 37.8h0M167.4 39.9h0M103.5 30.1h0M83.5 69.8h0M84.3 72.8h0M68.6 105.7h0M76.0 65.1h0M75.3 65.5h0M73.9 66.7h0M204.7 145.4h0M245.1 1.3h0M84.1 14.5h0M107.8 67.1h0M118.0 68.1h0M251.7 1.6h0M252.2 1.6h0M194.6 74.2h0M203.3 53.1h0M137.6 81.6h0M200.9 8.9h0M95.1 92.4h0M149.8 32.5h0M150.9 31.2h0M210.6 98.3h0M139.6 112.8h0M141.6 112.3h0M142.1 112.9h0M205.5 27.5h0M186.3 80.4h0M141.5 1.0h0M187.7 128.0h0M188.5 128.3h0M76.4 87.5h0M153.1 78.0h0M152.4 78.7h0M153.0 79.3h0M122.0 29.5h0M87.5 64.6h0M88.4 66.6h0M89.0 66.6h0M89.9 67.9h0M164.6 71.9h0M75.2 83.6h0M75.9 83.6h0M179.4 46.5h0M180.1 49.0h0M120.0 84.1h0M120.0 85.3h0M119.3 86.7h0M120.4 75.8h0M110.3 114.7h0M173.0 8.1h0M172.9 8.3h0M113.1 128.9h0M234.0 68.3h0M103.5 90.8h0M166.4 105.8h0M130.9 78.6h0M131.8 78.5h0M227.3 139.0h0M139.7 43.0h0M179.7 119.7h0M150.3 68.9h0M165.7 82.7h0M209.7 44.7h0M210.6 44.2h0M212.0 44.5h0M188.2 82.4h0M152.8 137.1h0M142.3 14.6h0M184.5 2.1h0M151.2 13.7h0M121.7 36.7h0M220.8 27.8h0M201.8 5.4h0M219.2 92.1h0M219.1 94.0h0M190.4 59.5h0M147.7 106.7h0M80.2 48.1h0M70.5 49.1h0M70.2 51.1h0M233.9 91.2h0M117.6 108.5h0M72.1 46.2h0M109.1 107.6h0M220.3 6.2h0M114.3 138.1h0M115.7 138.7h0M224.8 31.6h0M142.6 109.9h0M157.7 109.4h0M160.6 108.7h0M110.2 125.2h0M108.8 127.3h0M191.0 2.1h0M245.0 129.8h0M157.4 116.9h0M135.3 109.5h0M135.0 111.9h0M157.9 66.0h0M157.9 68.4h0M158.5 69.5h0M82.5 37.5h0M84.3 38.3h0M65.8 82.0h0M149.8 85.4h0M241.2 140.6h0M242.9 140.7h0M157.8 79.7h0M198.6 147.2h0M200.8 147.5h0M225.4 82.8h0M134.4 28.0h0M134.1 29.7h0M133.9 30.2h0M231.7 30.6h0M121.3 -0.7h0M172.5 54.4h0M189.8 81.2h0M150.6 14.5h0M93.8 73.9h0M136.9 129.7h0M138.4 130.4h0M195.5 12.8h0M195.8 13.2h0M94.8 136.0h0M230.3 123.4h0M190.2 93.1h0M206.0 93.6h0M219.1 144.4h0M219.5 145.8h0M226.0 13.7h0M203.0 13.5h0M111.1 59.8h0M158.0 61.1h0M159.6 60.2h0M161.2 60.3h0M188.9 141.7h0M190.0 142.0h0M142.4 3.0h0M233.9 100.1h0M209.9 5.0h0M210.6 6.2h0M138.1 49.2h0M138.4 49.2h0M139.2 49.8h0M184.6 34.0h0M112.5 17.1h0M88.8 75.9h0M112.7 81.2h0M112.5 82.6h0M97.6 108.7h0M99.7 111.4h0M189.9 55.1h0M139.6 72.5h0M110.9 131.6h0M125.9 49.1h0M85.1 86.2h0M186.0 64.5h0M186.9 64.7h0M189.3 65.9h0M183.5 90.1h0M219.6 129.4h0M220.6 36.0h0M160.0 58.9h0M96.9 81.2h0M156.4 2.2h0M112.9 1.0h0M111.9 3.8h0M169.3 98.7h0M168.2 99.0h0M110.8 61.9h0M111.4 61.6h0M110.6 63.6h0M152.0 35.2h0M152.5 35.2h0M152.8 36.0h0M174.9 48.6h0M176.6 49.5h0M166.1 9.3h0M220.4 110.8h0M158.0 113.3h0M67.0 65.8h0M67.5 69.0h0M161.3 54.1h0M162.4 54.2h0M165.0 53.9h0M130.6 21.9h0M240.6 128.2h0M241.6 128.8h0M242.1 129.0h0M100.5 57.9h0M103.0 59.7h0M66.2 118.7h0M201.4 145.4h0M201.9 146.7h0M232.3 12.4h0M183.7 6.0h0M151.8 123.6h0M238.4 119.5h0M238.8 120.6h0M75.0 107.0h0M220.4 62.5h0M172.4 55.8h0M170.3 58.3h0M186.3 67.6h0M184.9 69.0h0M184.2 70.2h0M92.7 54.8h0M94.9 54.9h0M158.9 60.8h0M242.9 107.1h0M250.6 48.8h0M214.0 120.9h0M139.6 101.7h0M139.9 103.2h0M151.6 129.9h0M128.2 31.7h0M128.9 32.4h0M101.4 111.1h0M119.0 87.0h0M118.9 88.7h0M136.1 114.2h0M213.8 36.4h0M166.7 59.0h0M167.2 59.4h0M127.0 46.7h0M236.3 101.8h0M149.9 45.0h0M123.1 93.2h0M71.4 109.3h0M166.7 21.7h0M168.0 20.9h0M203.1 148.9h0M201.2 29.2h0M201.3 29.8h0M160.4 10.4h0M191.5 135.2h0M192.4 136.3h0M232.2 40.4h0M177.3 12.7h0M94.4 14.5h0M81.4 93.3h0M113.8 14.4h0M113.6 15.8h0M92.5 113.1h0M221.9 146.0h0M141.6 97.7h0M142.0 98.9h0M100.7 41.2h0M101.5 42.5h0M177.9 87.6h0M221.9 58.1h0M157.9 87.4h0M141.6 91.4h0M102.3 0.6h0M132.2 109.1h0M163.6 147.2h0M140.2 144.4h0M186.5 45.3h0M155.0 78.7h0M190.2 33.5h0M159.4 66.9h0M109.2 146.0h0M117.0 83.1h0M117.7 85.1h0M118.5 86.1h0M167.4 123.8h0M167.7 125.3h0M146.2 149.3h0M146.2 150.8h0M184.4 143.2h0M135.3 48.2h0M105.1 57.6h0M68.3 68.5h0M209.1 123.3h0M208.6 123.8h0M209.4 125.7h0M130.5 18.6h0M131.0 20.4h0M174.2 1.2h0M188.4 83.2h0M184.2 78.7h0M175.9 111.5h0M153.8 73.7h0M206.3 29.2h0M246.9 49.7h0M185.0 97.9h0M171.7 19.7h0M147.0 121.8h0M179.3 104.4h0M70.9 21.4h0M72.2 129.4h0M167.7 129.6h0M195.5 134.6h0M182.3 98.1h0M140.4 3.7h0M140.6 5.3h0M142.5 5.9h0M160.2 49.5h0M75.4 24.0h0M77.6 101.4h0M76.9 102.1h0M149.4 90.3h0M150.5 90.7h0M135.4 27.7h0M203.1 64.0h0M160.1 89.3h0M184.1 40.2h0M152.1 51.2h0M104.7 17.2h0M104.5 19.0h0M105.1 19.7h0M233.1 110.2h0M138.4 38.2h0M227.9 36.0h0M245.8 35.7h0M194.1 42.7h0M194.8 44.2h0M126.8 20.2h0M195.0 121.5h0M248.2 145.9h0M249.2 146.7h0M152.8 140.5h0M225.8 69.3h0M227.5 68.5h0M228.9 68.5h0M174.1 54.4h0M174.7 54.8h0M250.1 37.9h0M122.4 92.2h0M122.4 92.8h0M184.9 75.4h0M225.1 70.2h0M224.9 71.6h0M162.3 73.1h0M149.0 139.2h0M149.5 139.4h0M231.1 136.3h0M253.6 47.7h0M132.5 100.1h0M181.6 132.9h0M246.7 10.5h0M245.6 12.2h0M93.5 109.0h0M241.8 82.8h0M188.3 91.5h0M174.2 132.9h0M232.9 76.3h0M88.3 6.1h0M90.6 6.2h0M230.8 70.8h0M230.6 71.6h0M231.4 72.6h0M239.1 145.1h0M240.6 147.6h0M98.3 62.5h0M196.9 114.1h0M207.9 38.5h0M219.5 140.2h0M67.7 58.7h0M157.1 20.8h0M157.5 22.5h0M155.6 29.0h0M190.0 55.7h0M191.1 56.2h0M173.8 117.1h0M128.8 5.7h0M176.7 79.1h0M176.6 80.3h0M176.7 81.2h0M245.8 102.0h0M241.2 38.7h0M241.4 39.0h0M212.0 123.1h0M213.0 124.1h0M82.8 76.9h0M167.1 29.5h0M192.8 60.7h0M80.2 80.7h0M207.4 83.9h0M105.4 55.5h0M106.1 108.7h0M193.6 69.3h0M157.8 54.3h0M158.1 57.4h0M217.8 7.0h0M218.1 7.4h0M218.6 8.6h0M120.3 78.5h0M121.5 79.5h0M205.1 91.0h0M205.4 92.0h0M173.7 58.0h0M236.2 113.1h0M75.0 49.2h0M77.6 50.6h0M161.4 103.9h0M77.4 52.8h0M177.2 17.6h0M125.4 113.1h0M126.9 113.2h0M164.9 53.0h0M221.1 35.4h0M202.6 128.9h0M211.5 107.9h0M211.0 110.1h0M200.9 18.9h0M157.5 147.1h0M150.9 136.0h0M233.8 77.1h0M143.7 124.8h0M235.8 132.6h0M180.0 143.3h0M180.7 145.3h0M90.6 107.5h0M185.9 140.5h0M116.3 35.8h0M249.5 68.7h0M84.6 -0.2h0M150.9 128.7h0M150.2 97.3h0M112.7 120.0h0M112.4 121.3h0M159.9 144.4h0M198.3 130.2h0M198.9 131.0h0M138.4 67.6h0M116.8 85.7h0M183.1 57.4h0M184.2 58.6h0M143.5 40.0h0M78.3 44.0h0M78.1 47.2h0M210.8 72.1h0M174.2 44.8h0M175.1 45.0h0M162.0 24.7h0M162.7 26.8h0M164.1 26.7h0M126.9 33.2h0M125.5 34.7h0M246.0 63.5h0M73.4 92.7h0M183.3 90.1h0M229.9 133.6h0M229.7 134.7h0M229.0 28.4h0M229.5 28.9h0M132.9 40.6h0M125.7 102.8h0M126.6 102.8h0M128.2 103.1h0M184.4 143.4h0M184.1 116.7h0M186.8 117.7h0M205.6 81.6h0M217.7 22.9h0M115.9 147.1h0M217.9 -0.5h0M219.2 -0.1h0M250.2 50.7h0M250.7 51.7h0M180.9 7.4h0M181.6 8.4h0M81.7 121.2h0M166.7 135.4h0M174.3 62.4h0M173.6 64.2h0M104.1 16.9h0M103.2 16.6h0M102.3 18.6h0M164.0 113.9h0M165.0 113.3h0M147.9 67.8h0M134.1 30.4h0M131.2 28.3h0M112.8 121.5h0M118.4 49.0h0M127.7 41.4h0M66.4 99.2h0M67.4 99.3h0M162.1 -0.6h0M162.8 1.1h0M196.7 130.9h0M197.5 132.5h0M147.9 5.0h0M133.9 145.6h0M174.9 112.6h0M233.2 125.9h0M233.5 126.7h0M127.9 128.5h0M196.3 68.4h0M197.3 68.7h0M129.5 76.2h0M164.6 7.4h0M155.9 10.0h0M128.3 46.4h0M129.6 47.7h0M181.4 108.9h0M198.9 127.1h0M136.0 51.4h0M246.6 135.0h0M111.0 67.7h0M232.6 117.5h0M88.7 124.7h0M222.0 96.9h0M222.2 98.0h0M94.3 19.3h0M239.1 77.4h0M135.7 122.7h0M227.8 7.3h0M175.4 146.7h0M94.7 10.3h0M88.6 99.9h0M139.4 141.4h0M82.8 107.7h0M165.8 120.0h0M188.6 74.5h0M149.6 141.6h0M150.0 141.6h0M182.4 138.4h0M253.4 94.7h0M252.4 94.8h0M222.0 63.1h0M221.1 64.7h0M217.2 138.1h0M71.1 85.6h0M125.7 40.8h0M125.7 42.2h0M161.1 129.9h0M70.8 47.3h0M124.1 22.1h0M167.3 94.5h0M221.7 142.7h0M221.5 142.6h0M222.4 144.1h0M127.0 78.8h0M142.8 45.9h0M162.4 61.6h0M205.3 22.1h0M205.6 22.2h0M205.2 23.5h0M222.3 85.8h0M231.8 79.1h0M193.1 67.6h0M193.4 68.5h0M193.7 70.8h0M106.6 95.0h0M111.0 96.5h0M201.9 43.6h0M84.6 119.0h0M138.0 68.8h0M139.3 70.7h0M114.4 86.5h0M242.6 12.6h0M210.8 124.0h0M212.8 124.4h0M104.7 55.3h0M210.8 45.5h0M122.1 37.0h0M211.1 102.0h0M219.5 125.1h0M222.1 127.8h0M94.7 77.0h0M175.4 68.9h0M93.1 94.9h0M177.1 145.7h0M78.6 82.1h0M79.1 83.1h0M238.7 111.8h0M184.5 36.6h0M99.2 72.2h0M105.4 100.1h0M106.0 15.7h0M183.7 14.8h0M189.2 81.0h0M151.7 60.0h0M143.9 14.2h0M145.5 14.1h0M78.9 32.3h0M134.2 28.3h0M135.2 29.8h0M144.5 139.1h0M198.7 65.1h0M199.5 66.5h0M134.8 54.7h0M136.3 55.5h0M141.8 73.1h0M230.8 77.7h0M96.7 120.8h0M188.9 57.7h0M99.2 78.0h0M132.2 26.2h0M80.9 89.5h0M223.8 79.9h0M224.7 81.4h0M225.7 82.8h0M69.7 102.2h0M114.6 48.5h0M144.3 10.8h0M70.2 68.3h0M181.8 36.1h0M180.4 37.0h0M103.6 50.7h0M221.8 55.3h0M150.8 83.4h0M151.5 83.8h0M101.7 52.2h0M131.8 65.4h0M133.6 65.5h0M134.0 65.7h0M134.6 65.8h0M71.4 82.7h0M117.0 67.3h0M116.7 68.4h0M115.3 68.8h0M155.1 43.9h0M128.0 89.3h0M150.5 18.7h0M150.9 17.5h0M158.2 120.1h0M84.4 70.7h0M113.0 38.8h0M189.2 118.5h0M245.1 64.9h0M100.4 112.9h0M100.2 112.9h0M190.1 114.3h0M190.5 115.9h0M186.1 89.6h0M112.2 29.3h0M180.4 18.9h0M96.1 74.2h0M149.1 96.3h0M239.1 137.4h0M196.6 107.8h0M196.9 107.9h0M197.9 109.8h0M92.6 7.8h0M228.4 146.6h0M216.0 92.5h0M132.0 48.1h0M116.6 37.2h0M117.3 38.7h0M189.2 6.2h0M189.2 6.7h0M126.5 115.7h0M76.4 83.0h0M77.0 84.1h0M165.6 72.9h0M220.6 43.2h0M221.5 43.9h0M210.4 121.2h0M210.0 123.4h0M209.9 124.0h0M165.0 111.5h0M162.8 43.9h0M175.3 37.7h0M170.7 39.9h0M170.9 40.5h0M171.1 41.4h0M225.5 70.3h0M129.1 36.1h0M112.0 147.1h0M189.7 34.7h0M180.1 123.5h0M76.3 94.0h0M252.0 57.9h0M251.5 59.7h0M233.3 76.1h0M225.1 12.9h0M138.3 38.9h0M159.4 138.8h0M160.3 138.3h0M218.0 32.4h0M78.7 80.4h0M78.3 81.9h0M154.7 97.3h0M220.5 107.1h0M217.9 109.8h0M120.3 16.0h0M121.0 15.3h0M151.9 84.1h0M153.2 85.0h0M154.6 85.0h0M176.7 133.4h0M176.0 135.1h0M124.2 88.9h0M125.1 89.4h0M179.2 74.1h0M179.7 75.2h0M71.1 41.2h0M207.5 113.6h0M206.2 114.3h0M183.6 41.9h0M184.2 43.1h0M153.0 60.1h0M182.1 4.2h0M80.9 36.8h0M97.3 108.5h0M97.9 109.6h0M83.3 124.0h0M188.9 143.5h0M134.0 30.2h0M136.0 31.3h0M130.3 130.9h0M189.9 94.4h0M112.7 108.3h0M93.1 118.8h0M97.6 134.2h0M73.3 148.0h0M92.4 47.5h0M114.8 89.6h0M72.4 74.7h0M200.7 71.9h0M200.7 72.3h0M187.1 96.5h0M184.0 117.4h0M153.1 27.0h0M155.7 28.3h0M156.3 29.3h0M130.5 12.8h0M218.5 137.8h0M115.8 46.3h0M116.8 47.0h0M123.2 39.0h0M123.1 40.2h0M80.2 117.2h0M103.8 87.9h0M207.7 76.5h0M206.2 78.9h0M94.5 73.7h0M217.5 83.2h0M98.4 88.7h0M169.7 96.9h0M107.0 37.6h0M97.0 68.6h0M247.6 37.6h0M246.5 37.6h0M170.1 100.6h0M151.4 36.5h0M66.6 112.6h0M66.7 113.5h0M163.4 56.7h0M165.1 56.4h0M166.4 57.1h0M166.8 147.4h0M225.1 80.9h0M190.8 69.7h0M232.5 54.5h0M170.8 81.6h0M217.3 98.3h0M219.5 98.4h0M232.1 62.6h0M232.3 63.9h0M86.5 97.2h0M87.7 96.5h0M149.0 37.9h0M169.1 51.8h0M171.1 53.2h0M245.8 131.5h0M141.3 38.5h0M182.7 74.6h0M221.3 25.8h0M80.8 84.7h0M82.2 84.7h0M186.3 65.4h0M143.3 2.5h0M143.7 3.5h0M114.0 80.6h0M116.5 69.2h0M162.3 59.5h0M167.0 64.3h0M152.4 87.6h0M152.1 87.9h0M210.0 6.8h0M211.5 8.6h0M167.3 8.8h0M241.0 74.4h0M74.0 35.9h0M158.4 93.2h0M252.7 72.6h0M149.3 47.6h0M211.0 138.2h0M91.7 116.4h0M199.3 20.5h0M200.8 23.6h0M172.8 50.6h0M230.6 132.6h0M157.9 17.2h0M102.2 60.9h0M225.6 78.6h0M188.4 114.8h0M167.0 72.4h0M103.5 54.3h0M89.4 106.5h0M234.4 98.3h0M124.8 143.5h0M172.8 76.5h0M143.2 55.4h0M143.1 57.3h0M192.7 28.2h0M240.0 49.2h0M124.7 14.6h0M106.5 96.0h0M240.4 5.1h0M241.6 4.8h0M241.9 4.7h0M167.2 125.5h0M168.9 126.3h0M250.3 79.8h0M132.1 109.1h0M240.7 46.9h0M109.3 102.3h0M211.5 113.6h0M75.3 87.4h0M171.2 79.6h0M171.5 79.5h0M172.0 81.2h0M168.1 19.6h0M168.7 20.7h0M126.2 32.9h0M234.8 40.7h0M139.4 13.4h0M142.3 13.9h0M143.0 14.8h0M179.1 103.8h0M159.1 35.9h0M186.7 83.1h0M137.8 120.1h0M172.8 57.8h0M78.5 32.6h0M118.8 52.7h0M130.5 110.5h0M131.3 111.2h0M230.6 56.4h0M157.3 77.1h0M157.7 78.3h0M239.8 2.6h0M139.5 118.1h0M92.8 139.7h0M158.0 32.9h0M158.9 33.1h0M159.5 33.1h0M210.5 114.6h0M145.3 16.9h0M146.1 15.9h0M246.1 146.9h0M246.6 149.2h0M250.1 51.3h0M163.0 6.0h0M221.6 11.8h0M122.4 118.0h0M221.5 131.3h0M221.0 132.1h0M70.6 48.3h0M251.8 34.7h0M93.9 58.9h0M120.5 124.8h0M118.4 126.4h0M160.7 141.9h0M142.7 27.4h0M90.8 48.7h0M141.7 72.1h0M141.8 72.7h0M115.4 48.9h0M189.7 54.1h0M190.3 54.3h0M86.1 13.7h0M85.7 15.4h0M250.9 127.2h0M226.2 44.8h0M137.8 119.8h0M84.8 59.2h0M190.1 50.7h0M98.4 98.4h0M99.7 98.7h0M222.0 57.1h0M222.9 58.1h0M162.4 129.0h0M162.8 129.3h0M147.1 106.6h0M203.5 69.1h0M204.2 70.3h0M156.9 54.2h0M157.0 55.2h0M111.1 108.4h0M112.4 109.0h0M117.2 4.0h0M235.2 97.4h0M75.6 104.6h0M167.2 103.3h0M121.5 74.7h0M121.4 101.2h0M149.3 27.8h0M149.3 28.3h0M115.4 17.5h0M83.5 119.4h0M82.5 120.9h0M132.2 88.2h0M176.5 73.3h0M139.9 55.2h0M139.4 55.5h0M160.0 13.9h0M67.8 105.6h0M69.0 107.3h0M156.3 22.0h0M122.0 52.7h0M90.5 10.5h0M116.9 105.6h0M118.2 105.6h0M187.2 131.2h0M150.7 52.1h0M152.1 53.5h0M127.4 100.1h0M113.8 139.0h0M247.8 119.0h0M109.4 139.2h0M108.2 52.6h0M109.3 54.0h0M160.5 124.8h0M161.1 125.2h0M222.5 105.5h0M222.6 105.9h0M180.3 12.9h0M87.1 98.8h0M87.2 97.8h0M89.3 98.9h0M209.3 124.6h0M138.9 1.3h0M139.2 2.8h0M160.3 71.4h0M138.7 -0.1h0M220.4 117.3h0M222.2 117.3h0M115.9 126.9h0M115.4 128.3h0M82.3 99.4h0M83.4 100.1h0M113.4 66.5h0M94.5 119.7h0M184.1 51.9h0M238.2 118.6h0M208.8 6.4h0M184.1 88.7h0M185.2 89.7h0M185.0 90.1h0M149.1 103.8h0M81.0 102.3h0M70.2 50.9h0M235.5 16.3h0M167.1 17.7h0M167.5 19.3h0M157.7 79.7h0M167.0 2.7h0M167.7 3.6h0M229.7 59.6h0M230.5 60.0h0M176.2 56.3h0M177.7 27.9h0M178.3 28.6h0M128.1 58.4h0M140.2 59.9h0M232.5 54.3h0M232.3 54.4h0M190.0 33.5h0M109.9 100.6h0M79.9 30.7h0M126.9 23.0h0M205.3 130.9h0M206.3 131.7h0M90.3 57.1h0M90.9 58.1h0M169.0 116.7h0M139.9 41.9h0M212.0 18.0h0M174.0 38.1h0M92.4 114.9h0M92.0 115.7h0M184.7 86.2h0M185.6 86.3h0M112.7 128.4h0M105.8 89.3h0M205.0 13.9h0M205.9 14.6h0M175.6 58.0h0M236.1 66.1h0M236.4 66.8h0M240.5 118.6h0M241.3 121.0h0M151.8 50.7h0M180.7 60.6h0M236.5 82.0h0M69.6 107.3h0M187.1 34.8h0M204.0 127.0h0M119.7 45.3h0M119.7 46.4h0M158.2 27.9h0M232.5 51.2h0M131.8 44.8h0M135.1 46.0h0M114.9 124.9h0M116.6 126.8h0M229.1 79.5h0M253.5 97.4h0M103.1 71.9h0M103.8 72.3h0M191.8 145.9h0M192.1 145.5h0M198.5 107.4h0M97.4 75.1h0M147.2 56.3h0M203.9 121.7h0M147.9 147.3h0M147.9 147.6h0M186.6 81.0h0M103.2 123.4h0M67.7 26.6h0M67.0 28.4h0M227.1 109.0h0M162.1 92.0h0M75.8 48.7h0M196.3 112.6h0M219.0 25.9h0M222.3 66.3h0M222.4 67.3h0M196.6 48.9h0M144.4 24.2h0M144.5 25.7h0M164.3 106.1h0M221.2 83.8h0M220.8 83.5h0M222.3 84.2h0M222.5 84.9h0M178.2 117.1h0M160.7 109.2h0M160.7 110.5h0M192.9 122.9h0M116.0 127.6h0M160.5 121.7h0M95.7 133.5h0M76.8 124.8h0M91.5 133.3h0M100.8 24.1h0M107.5 81.3h0M107.1 82.6h0M182.1 134.3h0M150.5 75.1h0M101.7 5.5h0M230.7 37.5h0M104.3 1.6h0M170.5 79.6h0M205.6 77.5h0M204.9 78.2h0M204.0 78.9h0M223.5 95.6h0M148.8 17.4h0M136.3 102.3h0M224.9 36.7h0M107.7 88.5h0M165.2 69.0h0M105.3 56.8h0M158.6 6.8h0M189.8 52.6h0M137.5 57.5h0M151.8 28.8h0M152.5 28.8h0M207.9 65.5h0M109.7 106.2h0M112.2 107.4h0M250.9 125.0h0M90.4 57.2h0M221.1 87.9h0M90.2 56.7h0M208.1 66.2h0M87.0 142.0h0M165.3 37.9h0M164.6 39.3h0M245.0 51.9h0M245.7 52.5h0M210.0 42.2h0M210.8 43.2h0M210.7 44.4h0M152.1 37.3h0M175.3 114.8h0M116.3 119.7h0M116.3 121.5h0M132.2 52.7h0M132.7 53.0h0M133.8 53.9h0M132.5 101.6h0M132.9 102.1h0M134.1 102.6h0M120.6 72.4h0M82.2 111.2h0M222.7 114.5h0M131.7 34.4h0M132.1 36.2h0M131.9 38.2h0M190.6 34.2h0M191.8 34.4h0M192.7 36.9h0M172.4 42.8h0M143.0 0.0h0M172.4 3.1h0M168.7 46.4h0M228.6 75.6h0M229.1 75.6h0M100.4 94.8h0M100.3 96.4h0M232.0 49.7h0M232.2 50.8h0M91.3 10.5h0M90.4 12.4h0M76.6 125.1h0M212.0 75.0h0M162.8 89.5h0M123.2 59.6h0M204.9 114.7h0M127.7 69.3h0M143.2 82.9h0M214.6 134.0h0M237.9 72.1h0M136.3 19.4h0M157.9 94.1h0M194.6 18.9h0M161.0 5.7h0M168.1 44.7h0M250.8 14.1h0M123.9 109.3h0M173.2 95.3h0M96.1 127.9h0M165.6 142.7h0M167.3 143.4h0M128.1 72.0h0M169.4 92.8h0M91.4 -1.9h0M160.3 127.4h0M162.8 128.5h0M196.3 83.1h0M144.8 107.4h0M82.9 23.1h0M163.9 90.1h0M216.1 24.6h0M133.4 32.7h0M132.5 34.1h0M133.0 34.8h0M183.1 29.7h0M103.8 73.8h0M191.9 116.7h0M191.0 118.0h0M189.9 118.1h0M138.6 114.0h0M104.6 31.7h0M105.6 31.9h0M221.2 92.7h0M222.1 93.2h0M85.0 43.2h0M86.0 43.6h0M86.7 44.7h0M173.7 30.9h0M135.9 108.9h0M136.1 109.2h0M102.3 68.0h0M188.0 146.0h0M188.0 147.5h0M226.1 129.4h0M227.8 129.7h0M108.7 44.5h0M203.8 88.6h0M186.2 119.5h0M253.6 21.4h0M135.8 115.1h0M224.3 12.3h0M224.6 12.6h0M154.8 12.6h0M117.3 124.3h0M130.4 42.9h0M131.3 44.2h0M155.8 14.5h0M185.5 118.8h0M187.2 118.4h0M224.9 38.7h0M102.8 39.5h0M104.0 40.6h0M232.3 52.6h0M232.4 54.3h0M96.3 89.3h0M227.1 122.4h0M99.2 148.9h0M147.8 26.6h0M93.1 130.0h0M95.3 130.8h0M131.7 31.1h0M136.9 78.1h0M137.3 78.0h0M139.5 78.9h0M65.3 124.5h0M209.0 52.7h0M209.0 53.4h0M99.1 145.5h0M134.0 116.8h0M135.1 13.8h0M91.6 84.5h0M92.2 85.9h0M93.0 86.7h0M85.5 48.3h0M152.4 109.3h0M153.3 109.5h0M131.4 8.2h0M90.8 80.1h0M90.4 81.0h0M81.5 28.6h0M89.1 36.6h0M146.9 75.1h0M129.7 32.6h0M161.1 10.7h0M115.5 69.5h0M211.7 67.6h0M231.7 66.4h0M233.5 66.2h0M235.0 66.8h0M66.8 55.2h0M67.0 55.3h0M186.3 19.9h0M210.7 19.1h0M160.5 147.7h0M126.1 10.9h0M126.7 11.3h0M104.5 89.4h0M104.7 89.9h0M106.3 91.3h0M159.8 121.0h0M160.0 123.7h0M250.3 15.8h0M203.0 76.9h0M203.2 78.1h0M203.9 79.2h0M174.8 37.6h0M136.8 68.2h0M139.0 67.3h0M139.3 68.0h0M86.2 143.7h0M104.6 57.0h0M97.1 58.6h0M199.0 90.9h0M199.2 91.3h0M122.0 91.4h0M122.7 92.3h0M167.4 24.1h0M167.1 25.3h0M92.7 129.8h0M180.2 20.0h0M179.5 22.5h0M183.4 90.8h0M129.8 56.0h0M195.3 30.6h0M196.3 89.4h0M238.9 79.9h0M164.8 95.5h0M165.3 96.1h0M83.6 83.5h0M83.9 84.5h0M83.3 84.9h0M148.9 106.2h0M197.0 97.5h0M240.8 99.8h0M204.8 42.1h0M205.5 42.7h0M197.3 142.9h0M200.0 142.7h0M233.3 11.0h0M192.8 18.8h0M243.1 39.0h0M243.2 40.1h0M176.6 12.8h0M135.1 17.2h0M160.0 120.7h0M233.4 123.1h0M176.4 86.7h0M106.2 67.6h0M98.0 55.8h0M129.2 118.5h0M130.4 119.8h0M108.9 35.6h0M112.5 137.9h0M113.5 139.6h0M133.9 116.7h0M135.7 116.8h0M136.8 116.9h0M137.6 117.4h0M90.0 134.4h0M140.3 4.6h0M124.9 127.7h0M107.9 141.6h0M109.2 141.7h0M239.2 18.2h0M139.2 108.2h0M134.6 94.1h0M166.0 39.9h0M170.8 97.1h0M215.6 120.1h0M178.8 144.8h0M179.7 145.6h0M181.7 146.0h0M216.8 128.0h0M216.7 130.7h0M112.1 65.2h0M172.1 95.0h0M101.1 42.3h0M115.4 104.5h0M252.0 98.6h0M115.1 69.7h0M115.1 70.8h0M240.1 82.3h0M241.0 82.7h0M96.1 78.3h0M165.9 5.7h0M164.9 7.1h0M82.1 92.8h0M81.8 93.9h0M156.4 40.1h0M198.5 111.0h0M182.3 45.7h0M169.9 95.5h0M126.5 46.1h0M145.9 120.7h0M147.0 121.9h0M78.1 10.6h0M229.7 56.0h0M98.0 72.2h0M252.0 60.2h0M180.7 33.6h0M181.6 33.8h0M200.9 128.8h0M200.5 130.6h0M201.5 132.0h0M142.9 89.9h0M143.6 90.2h0M144.8 91.0h0M201.8 105.2h0M200.1 108.0h0M231.9 103.7h0M232.3 104.6h0M102.0 55.7h0M182.7 34.4h0M182.4 34.4h0M118.3 62.2h0M119.5 63.8h0M80.8 62.5h0M254.7 7.0h0M254.0 8.4h0M253.2 10.0h0M252.8 10.4h0M217.0 73.0h0M218.7 74.3h0M194.1 73.2h0M195.3 75.9h0M247.6 123.4h0M247.1 124.5h0M214.0 5.8h0M122.2 133.8h0M68.0 112.2h0M203.9 147.5h0M202.9 148.8h0M245.5 11.1h0M218.2 14.3h0M109.3 21.7h0M195.0 31.5h0M194.9 32.5h0M182.2 96.4h0M163.8 64.5h0M149.9 112.1h0M76.6 10.3h0M80.9 12.9h0M117.5 132.9h0M83.2 147.3h0M83.7 149.3h0M215.8 126.1h0M231.9 65.9h0M124.6 143.1h0M100.9 147.2h0M126.2 13.1h0M171.2 110.8h0M172.2 110.9h0M190.8 92.3h0M101.8 -1.4h0M102.6 -0.7h0M102.8 0.3h0M103.9 0.9h0M134.0 54.4h0M76.1 34.3h0M253.3 79.6h0M250.8 8.2h0M251.4 8.0h0M114.8 97.0h0M114.4 98.5h0M135.3 27.7h0M207.9 98.8h0M159.5 122.2h0M110.1 41.7h0M133.5 78.6h0M139.0 30.4h0M134.8 56.1h0M134.8 56.0h0M68.0 143.4h0M126.0 142.3h0M126.1 144.1h0M125.5 145.1h0M201.1 95.4h0M146.3 41.2h0M92.9 135.1h0M180.4 40.5h0M130.6 29.7h0M131.9 30.1h0M239.1 124.9h0M247.6 129.0h0M125.5 130.1h0M125.2 130.5h0M95.9 126.2h0M176.5 110.7h0M176.8 111.8h0M133.1 71.6h0M133.0 73.0h0M156.9 139.8h0M156.2 140.7h0M127.4 40.9h0M116.2 17.1h0M128.9 107.5h0M168.7 105.0h0M216.4 106.2h0M225.9 6.3h0M180.6 126.8h0M150.9 22.4h0M151.1 24.1h0M213.2 60.5h0M135.8 25.7h0M242.2 33.3h0M243.0 33.1h0M119.8 63.2h0M166.9 107.0h0M167.7 42.4h0M141.6 69.8h0M217.8 120.5h0M218.5 121.2h0M204.8 115.7h0M125.0 127.1h0M126.0 127.7h0M150.3 8.6h0M150.9 9.4h0M152.5 11.0h0M153.6 144.1h0M206.1 40.2h0M110.4 72.1h0M143.7 28.5h0M226.2 44.7h0M115.4 79.2h0M116.7 81.5h0M187.0 36.1h0M188.3 36.3h0M188.5 36.7h0M149.9 58.1h0M142.4 66.1h0M155.7 54.9h0M169.1 43.3h0M139.0 56.5h0M152.6 6.6h0M153.8 6.9h0M155.8 6.0h0M181.7 35.6h0M158.3 48.3h0M123.5 114.2h0M216.5 6.8h0M157.3 68.5h0M156.8 68.9h0M241.0 125.5h0M242.1 126.1h0M243.6 127.6h0M92.1 108.6h0M93.2 110.1h0M93.1 110.5h0M99.2 40.8h0M100.0 43.3h0M156.5 135.9h0M159.1 43.0h0M132.5 81.5h0M150.7 113.0h0M150.8 113.1h0M144.0 26.6h0M138.4 147.2h0M137.6 148.0h0M221.8 104.6h0M115.9 39.7h0M68.7 45.9h0M121.9 59.1h0M124.5 58.5h0M253.4 50.5h0M253.2 52.4h0M76.1 17.1h0M203.2 85.6h0M205.2 85.9h0M206.0 85.8h0M203.6 126.4h0M204.4 127.3h0M243.6 53.2h0M194.7 38.3h0M194.2 39.5h0M194.9 40.3h0M117.3 109.3h0M71.3 122.5h0M133.8 43.2h0M134.8 76.2h0M123.5 128.2h0M189.0 38.9h0M111.2 15.4h0M112.5 16.0h0M123.2 101.3h0M124.5 102.3h0M125.2 102.4h0M221.7 128.1h0M233.7 118.7h0M180.4 76.1h0M232.2 27.8h0M232.3 29.5h0M231.9 98.2h0M169.3 60.3h0M169.5 61.2h0M91.4 144.6h0M205.9 81.3h0M184.1 12.2h0M127.1 65.7h0M195.1 96.9h0M216.2 64.5h0M104.9 114.1h0M105.9 114.7h0M108.1 115.3h0M179.2 106.7h0M179.4 107.8h0M178.9 108.5h0M213.1 127.0h0M213.3 128.7h0M234.4 144.7h0M234.6 146.0h0M140.6 106.3h0M137.3 15.0h0M138.1 14.9h0M140.4 16.1h0M158.3 26.9h0M157.9 29.2h0M158.2 29.5h0M158.5 30.4h0M238.3 45.8h0M237.5 46.3h0M137.1 53.3h0M148.4 50.2h0M244.1 139.8h0M172.9 25.4h0M173.3 26.5h0M173.9 27.8h0M187.3 1.3h0M187.1 3.4h0M125.4 49.6h0M86.9 107.6h0M86.6 108.3h0M149.7 29.8h0M157.9 73.0h0M157.5 73.6h0M157.3 74.6h0M116.8 54.0h0M118.4 118.6h0M212.1 37.4h0M84.9 26.7h0M85.9 28.0h0M204.2 38.0h0M203.3 38.7h0M203.9 16.6h0M218.9 96.4h0M220.1 96.5h0M141.5 85.3h0M143.2 86.9h0M142.6 39.8h0M143.8 40.7h0M144.8 40.5h0M238.0 49.6h0M237.7 49.7h0M237.9 50.6h0M164.5 18.0h0M165.5 19.0h0M126.8 72.5h0M220.6 109.0h0M136.7 32.5h0M201.1 9.8h0M210.5 124.4h0M211.2 124.8h0M210.0 144.8h0M87.2 71.6h0M103.2 85.9h0M161.2 38.6h0M161.8 39.3h0M251.1 89.0h0M118.1 132.2h0M230.6 31.4h0M120.5 86.9h0M121.0 87.2h0M239.2 10.7h0M92.9 84.7h0M183.9 41.7h0M167.4 2.6h0M169.3 3.7h0M115.0 54.0h0M180.7 139.2h0M149.1 41.8h0M150.2 41.8h0M200.6 37.5h0M201.4 38.6h0M243.8 23.0h0M104.6 127.6h0M80.7 105.4h0M80.4 105.6h0M209.4 33.6h0M208.6 16.5h0M152.5 120.0h0M138.9 18.0h0M162.7 68.2h0M199.6 77.8h0M202.8 79.7h0M78.0 67.0h0M79.8 67.9h0M99.1 77.3h0M98.7 79.1h0M98.7 80.4h0M126.7 88.0h0M71.4 77.9h0M179.2 59.3h0M233.1 79.7h0M102.7 23.0h0M102.7 22.8h0M230.6 135.4h0M230.9 136.0h0M231.4 137.2h0M156.9 74.6h0M157.1 75.4h0M242.5 97.4h0M243.9 97.9h0M229.8 108.6h0M230.0 110.2h0M111.8 19.0h0M149.2 135.5h0M150.0 137.2h0M229.9 76.4h0M231.0 77.8h0M124.2 79.6h0M198.6 54.4h0M70.9 69.1h0M138.0 141.5h0M138.7 141.7h0M82.2 138.5h0M83.7 138.1h0M175.6 85.2h0M176.8 87.1h0M156.0 86.8h0M135.4 64.5h0M125.6 46.6h0M243.0 6.2h0M145.1 131.6h0M195.4 136.1h0M225.8 49.9h0M126.1 48.5h0M119.3 14.1h0M173.3 74.1h0M192.7 143.8h0M93.4 38.0h0M169.4 34.0h0M126.4 20.2h0M175.3 87.8h0M211.7 30.0h0M210.7 42.4h0M212.0 42.8h0M173.4 126.5h0M183.7 36.7h0M137.1 38.9h0M223.6 145.8h0M210.7 147.3h0M211.6 72.3h0M109.0 10.2h0M105.8 138.8h0M109.4 98.6h0M229.1 58.5h0M209.3 90.5h0M195.6 43.7h0M97.7 139.9h0M161.7 127.2h0M162.2 128.2h0M88.1 134.2h0M253.5 117.2h0M114.3 44.2h0M101.4 91.5h0M220.2 32.1h0M152.3 9.1h0M202.7 65.4h0M202.5 67.2h0M228.3 140.0h0M154.5 129.3h0M154.6 131.3h0M185.3 16.3h0M186.2 18.3h0M186.4 18.1h0M216.8 40.5h0M111.8 89.3h0M111.6 90.0h0M219.9 31.0h0M222.1 33.1h0M158.3 64.3h0M159.3 65.8h0M187.5 56.3h0M251.3 91.9h0M112.5 120.4h0M113.5 121.6h0M186.5 77.2h0M187.8 78.8h0M103.3 73.3h0M225.6 45.3h0M204.3 5.7h0M116.1 37.1h0M205.2 42.0h0M250.0 63.8h0M125.5 104.8h0M224.6 120.1h0M224.9 121.8h0M134.8 71.6h0M132.4 74.0h0M76.9 38.4h0M75.8 39.7h0M76.5 40.5h0M99.3 60.5h0M100.5 63.1h0M136.9 148.9h0M143.3 35.0h0M182.3 13.5h0M206.1 21.4h0M86.0 86.0h0M76.1 84.5h0M76.8 85.0h0M221.3 100.6h0M216.7 118.8h0M208.2 95.1h0M209.7 95.0h0M181.3 137.2h0M182.5 137.5h0M249.9 100.5h0M233.9 15.0h0M177.7 27.7h0M185.7 78.5h0M207.3 99.5h0M254.1 7.7h0M91.5 78.4h0M91.8 78.1h0M92.2 78.3h0M212.6 25.4h0M217.9 73.7h0M217.4 76.2h0M200.1 83.7h0M200.5 84.1h0M201.4 84.2h0M100.5 15.1h0M101.8 16.7h0M105.3 7.9h0M194.3 123.3h0M200.8 21.3h0M201.5 21.7h0M89.1 57.8h0M219.4 140.5h0M157.8 12.9h0M236.0 32.4h0M115.4 103.3h0M116.9 104.6h0M159.3 89.6h0M167.9 110.8h0M168.7 109.7h0M151.8 147.1h0M70.0 40.8h0M70.9 41.6h0M105.1 144.2h0M149.0 91.3h0M149.9 91.5h0M134.1 28.2h0M189.7 146.1h0M137.3 115.4h0M174.6 75.3h0M117.8 82.7h0M148.7 146.5h0M248.8 18.0h0M152.2 76.0h0M224.5 53.2h0M162.2 89.7h0M77.1 76.1h0M248.4 33.8h0M248.9 35.5h0M118.7 129.0h0M82.4 106.3h0M83.1 108.2h0M151.2 46.5h0M151.9 46.8h0M146.3 106.2h0M216.0 83.0h0M216.5 84.0h0M192.0 24.3h0M193.4 24.0h0M88.3 57.8h0M89.7 58.1h0M82.5 64.0h0M101.7 139.2h0M103.9 141.4h0M147.2 8.8h0M150.8 1.3h0M151.7 2.4h0M146.1 148.2h0M193.0 39.2h0M193.2 40.0h0M130.7 35.2h0M228.4 70.2h0M148.6 126.6h0M150.0 128.5h0M135.1 135.0h0M191.4 74.5h0M81.9 81.0h0M163.8 20.8h0M197.2 136.5h0M198.9 136.1h0M200.0 137.5h0M200.4 138.1h0M118.9 119.9h0M164.3 18.3h0M104.3 138.5h0M105.0 139.6h0M158.7 35.7h0M78.3 75.3h0M77.9 76.4h0M244.4 35.2h0M139.9 68.6h0M140.3 70.0h0M99.4 100.6h0M144.2 122.1h0M149.1 83.6h0M148.9 84.5h0M188.7 134.1h0M166.7 96.2h0M149.4 0.9h0M149.2 1.4h0M106.3 42.0h0M222.8 8.5h0M222.7 10.6h0M132.0 69.8h0M131.3 70.0h0M131.7 71.7h0M99.8 30.2h0M100.0 32.4h0M147.8 131.7h0M148.3 134.0h0M201.6 99.3h0M116.5 9.3h0M189.2 11.5h0M193.5 54.5h0M193.6 57.0h0M176.8 54.5h0M177.4 55.9h0M223.1 8.8h0M127.8 112.0h0M71.4 93.4h0M72.0 94.6h0M227.5 130.7h0M81.1 108.6h0M200.7 10.7h0M224.3 0.7h0M155.4 93.8h0M245.1 12.5h0M245.5 13.2h0M166.3 119.5h0M71.6 81.3h0M72.0 82.9h0M72.1 83.6h0M132.8 144.8h0M104.6 125.7h0M119.4 80.3h0M119.5 80.4h0M185.7 1.8h0M100.3 69.1h0M151.6 140.6h0M133.3 112.4h0M249.4 136.6h0M249.3 138.7h0M250.5 139.5h0M125.1 97.1h0M125.7 98.7h0M126.0 99.1h0M215.9 136.5h0M143.4 93.3h0M226.3 80.4h0M164.1 19.5h0M164.8 20.7h0M252.9 13.6h0M207.6 18.5h0M183.1 77.0h0M183.7 77.2h0M183.9 78.3h0M184.3 79.0h0M204.8 11.6h0M206.1 12.8h0M164.0 1.9h0M179.5 28.1h0M108.2 65.0h0M98.2 111.8h0M217.6 69.8h0M140.2 32.2h0M200.3 113.1h0M199.7 114.7h0M199.7 116.0h0M158.0 27.1h0M112.9 20.6h0M114.2 22.5h0M90.3 132.4h0M90.4 133.0h0M90.9 134.4h0M68.3 28.8h0M140.5 88.4h0M238.0 9.4h0M154.8 145.3h0M152.9 6.4h0M121.0 4.6h0M231.5 70.7h0M231.5 70.8h0M220.7 114.2h0M221.0 114.0h0M221.5 116.0h0M222.4 117.1h0M214.5 111.7h0M254.3 8.5h0M74.4 89.7h0M169.9 66.6h0M178.3 61.2h0M110.1 47.6h0M111.8 47.9h0M112.4 48.4h0M151.0 45.3h0M121.5 100.7h0M90.8 88.4h0M92.5 89.2h0M197.2 63.7h0M200.5 66.4h0M202.6 130.8h0M203.6 131.5h0M136.8 10.7h0M191.3 33.1h0M192.4 35.4h0M193.1 101.6h0M233.8 104.1h0M236.3 104.7h0M236.0 103.8h0M71.4 86.7h0M152.7 63.6h0M131.9 93.2h0M177.4 84.2h0M210.8 65.0h0M77.1 148.0h0M160.5 7.9h0M201.4 38.5h0M159.7 8.2h0M160.1 10.3h0M205.1 25.5h0M176.0 133.5h0M152.4 40.3h0M153.1 41.5h0M206.2 1.6h0M152.9 43.4h0M149.8 69.7h0M183.4 23.4h0M184.8 23.5h0M185.1 23.7h0M158.2 100.2h0M100.7 52.4h0M166.9 64.2h0M127.8 46.8h0M122.4 56.7h0M140.0 9.4h0M139.5 10.5h0M140.2 62.0h0M183.1 31.2h0M181.3 32.3h0M223.5 96.2h0M226.3 111.5h0M192.3 94.4h0M175.5 59.4h0M88.4 77.5h0M252.7 57.8h0M200.3 65.9h0M130.4 123.2h0M164.6 127.8h0M199.3 69.6h0M250.9 126.0h0M152.4 62.8h0M126.8 35.5h0M69.4 88.7h0M70.1 90.5h0M71.4 91.4h0M165.0 81.8h0M232.7 114.6h0M233.8 115.1h0M73.7 2.8h0M239.5 45.7h0M73.8 49.3h0M74.3 51.1h0M75.0 51.4h0M180.4 57.4h0M198.2 128.6h0M197.2 129.8h0M219.5 79.5h0M124.7 122.6h0M169.6 145.0h0M199.2 141.2h0M199.8 143.4h0M200.4 144.6h0M252.5 119.0h0M122.2 117.5h0M157.9 125.1h0M91.8 70.4h0M202.6 131.7h0M192.6 25.0h0M230.3 50.5h0M113.4 62.7h0M168.6 47.6h0M221.9 77.1h0M131.4 -1.9h0M214.4 69.5h0M253.6 20.1h0M253.8 21.5h0M254.9 24.1h0M230.3 30.2h0M231.7 31.1h0M125.6 129.8h0M136.0 11.9h0M136.5 12.6h0M218.9 120.0h0M200.5 45.5h0M150.5 51.6h0M176.2 57.7h0M176.5 58.4h0M177.4 59.7h0M95.3 122.1h0M95.7 123.1h0M181.1 46.3h0M144.6 58.1h0M187.2 73.3h0M184.8 1.0h0M184.3 1.1h0M166.8 7.2h0M166.7 7.9h0M166.7 9.4h0M95.1 118.4h0M132.9 23.9h0M133.9 24.3h0M133.9 24.1h0M152.6 32.1h0M167.5 24.1h0M151.6 70.8h0M151.2 72.9h0M121.6 148.3h0M122.1 148.8h0M237.1 30.7h0M237.4 30.4h0M246.5 44.4h0M195.6 8.6h0M195.1 10.8h0M194.6 11.6h0M122.6 69.3h0M165.0 111.4h0M166.1 112.2h0M234.2 88.9h0M235.0 89.0h0M236.6 89.4h0M184.5 56.9h0M80.5 42.6h0M225.9 143.9h0M227.7 143.4h0M132.0 54.6h0M132.2 56.4h0M132.9 57.3h0M208.5 29.7h0M86.6 93.0h0M134.5 49.9h0M129.4 68.7h0M201.9 119.2h0M202.7 120.8h0M119.0 39.0h0M116.7 40.7h0M115.8 40.3h0M135.2 45.3h0M136.5 46.7h0M130.5 125.7h0M181.1 -1.5h0M181.7 -0.2h0M68.8 85.2h0M133.0 149.7h0M154.5 124.7h0M240.1 20.6h0M76.9 97.0h0M123.8 107.2h0M221.4 41.9h0M96.7 28.7h0M205.6 61.3h0M75.9 130.0h0M76.2 132.0h0M244.0 66.6h0M245.2 69.2h0M144.0 14.4h0M145.0 16.6h0M200.8 131.6h0M201.9 132.6h0M127.6 109.2h0M128.4 110.3h0M85.4 50.8h0M85.4 50.1h0M182.6 13.8h0M183.3 14.3h0M184.5 16.1h0M105.0 138.3h0M245.7 88.2h0M187.7 81.5h0M228.4 87.6h0M236.1 132.9h0M166.2 69.6h0M118.7 62.8h0M156.8 69.5h0M129.3 86.2h0M129.2 88.1h0M130.5 89.4h0M117.7 124.5h0M94.1 88.0h0M95.1 89.4h0M126.1 100.2h0M108.1 78.8h0M215.4 40.4h0M214.0 88.0h0M109.0 46.7h0M108.9 46.8h0M108.3 48.1h0M109.1 49.2h0M233.6 31.8h0M188.0 17.5h0M189.9 17.8h0M193.9 85.2h0M246.1 76.3h0M85.7 112.2h0M73.5 44.8h0M132.3 79.6h0M83.8 61.1h0M83.6 62.3h0M190.2 49.6h0M173.0 141.8h0M174.5 143.5h0M235.7 13.7h0M160.0 35.4h0M162.1 36.5h0M68.6 92.2h0M130.9 108.3h0M188.2 108.3h0M189.4 147.5h0M189.7 149.1h0M222.1 29.7h0M222.6 30.6h0M182.6 142.5h0M251.4 132.3h0M252.9 132.3h0M99.9 79.1h0M101.0 80.6h0M153.4 27.1h0M153.2 27.4h0M134.4 81.8h0M193.9 53.9h0M222.9 115.0h0M142.9 143.7h0M145.3 146.7h0M94.3 46.2h0M94.8 46.7h0M95.9 47.0h0M127.2 146.3h0M196.3 27.8h0M196.5 28.2h0M163.2 124.1h0M211.8 60.4h0M216.7 140.0h0M236.7 59.6h0M104.5 143.6h0M108.3 147.9h0M207.2 93.5h0M208.4 94.0h0M135.3 94.5h0M135.0 96.2h0M212.8 68.7h0M73.7 127.4h0M119.1 6.6h0M114.2 102.0h0M114.5 102.6h0M114.9 102.9h0M128.4 122.0h0M128.3 122.9h0M99.6 30.5h0M81.1 123.3h0M71.5 71.9h0M72.3 72.3h0M196.5 17.4h0M138.3 99.7h0M140.1 99.5h0M136.4 63.3h0M136.7 63.4h0M211.8 17.6h0M212.2 19.1h0M77.0 61.0h0M166.3 143.4h0M174.5 112.3h0M253.4 39.5h0M189.2 5.1h0M190.0 5.5h0M189.7 6.1h0M240.1 115.6h0M252.5 45.4h0M254.2 45.2h0M146.9 113.1h0M146.3 114.1h0M183.0 85.2h0M183.7 85.7h0M182.4 70.7h0M182.5 71.6h0M227.2 29.0h0M145.8 36.4h0M166.5 24.9h0M223.8 66.9h0M77.3 125.3h0M77.7 126.2h0M104.2 2.6h0M103.7 3.7h0M172.7 60.8h0M174.3 61.8h0M174.7 62.6h0M223.2 69.1h0M159.0 15.9h0M202.8 6.6h0M83.0 88.2h0M241.8 130.4h0M242.7 132.7h0M110.5 115.1h0M117.7 137.5h0M164.4 51.9h0M250.8 31.2h0M252.0 31.0h0M180.5 108.8h0M147.7 18.9h0M85.3 94.2h0M85.8 96.4h0M113.4 93.1h0M191.9 9.5h0M192.8 11.4h0M180.3 84.4h0M181.2 85.9h0M101.2 33.6h0M133.2 134.9h0M214.5 117.3h0M213.0 110.1h0M74.9 48.9h0M75.3 49.5h0M120.1 104.7h0M215.0 44.2h0M217.2 44.5h0M251.7 0.2h0M172.6 64.4h0M137.8 137.4h0M177.9 113.7h0M178.1 114.5h0M179.1 115.6h0M227.0 0.8h0M154.9 134.8h0M197.2 87.3h0M215.3 48.3h0M144.8 135.9h0M146.5 136.7h0M147.4 137.2h0M102.4 58.9h0M76.5 121.9h0M198.2 101.5h0M252.0 135.2h0M93.3 16.9h0M143.8 60.1h0M116.0 56.9h0M117.0 57.1h0M118.0 58.2h0M118.5 58.7h0M157.7 79.2h0M220.3 92.9h0M192.5 141.6h0M253.4 71.7h0M66.8 134.5h0M236.0 23.6h0M117.9 74.9h0M83.8 47.8h0M84.6 49.6h0M119.8 63.1h0M108.2 96.9h0M97.9 118.7h0M95.3 86.7h0M114.5 51.7h0M115.8 53.3h0M172.5 18.3h0M100.1 82.1h0M187.0 67.5h0M188.0 68.2h0M188.2 68.9h0M188.5 69.6h0M159.7 67.6h0M109.7 70.0h0M136.0 20.4h0M90.2 40.5h0M89.3 41.5h0M95.1 100.4h0M97.6 101.4h0M213.0 90.3h0M214.1 91.4h0M215.0 92.5h0M156.3 80.6h0M158.3 82.5h0M169.0 50.0h0M170.2 51.5h0M235.9 128.1h0M165.8 74.7h0M166.7 75.9h0M155.6 28.1h0M113.2 147.6h0M113.6 95.0h0M242.6 7.9h0M242.7 9.9h0M157.1 121.5h0M241.4 85.7h0M162.3 136.9h0M162.5 138.2h0M146.2 5.5h0M148.6 4.6h0M149.5 4.6h0M235.7 127.6h0M130.2 87.6h0M88.9 32.2h0M88.3 31.7h0M209.1 3.0h0M132.6 136.7h0M128.9 29.4h0M129.7 28.9h0M163.4 1.0h0M253.2 93.3h0M155.7 62.2h0M66.4 79.1h0M240.0 89.6h0M151.6 141.0h0M153.8 143.6h0M179.5 145.4h0M180.2 146.1h0M156.7 40.6h0M115.7 63.2h0M139.8 47.4h0M249.9 37.3h0M250.0 38.5h0M250.3 39.2h0M88.7 48.6h0M245.2 45.7h0M120.5 94.2h0M100.0 69.1h0M100.2 70.1h0M189.6 117.0h0M83.9 29.4h0M239.0 54.1h0M208.2 106.4h0M203.9 142.9h0M119.1 99.4h0M128.4 14.2h0M128.5 17.1h0M175.0 105.4h0M147.0 63.4h0M148.5 64.6h0M146.1 93.6h0M147.0 94.8h0M83.3 119.7h0M186.7 64.3h0M254.0 135.5h0M218.0 138.2h0M218.7 137.7h0M252.9 63.6h0M122.7 144.8h0M232.9 97.1h0M144.4 99.7h0M127.4 147.9h0M127.9 149.1h0M110.9 20.1h0M141.3 129.0h0M124.3 2.9h0M189.1 5.1h0M186.5 104.3h0M240.4 15.6h0M234.2 33.9h0M86.8 85.8h0M175.0 55.3h0M156.4 1.0h0M80.1 129.8h0M116.8 87.3h0M160.8 131.4h0M68.2 37.1h0M102.7 108.4h0M112.2 22.9h0M142.8 95.6h0M143.7 97.0h0M136.2 16.9h0M200.0 2.6h0M184.3 112.4h0M244.7 112.1h0M244.8 113.0h0M243.8 113.8h0M204.9 136.3h0M79.0 42.4h0M79.5 43.4h0M186.7 16.6h0M124.2 77.4h0M124.7 78.7h0M213.2 119.8h0M237.4 61.2h0M142.9 86.7h0M104.9 79.1h0M105.0 79.2h0M124.4 95.6h0M125.3 95.9h0M146.3 87.1h0M106.7 97.2h0M147.8 36.3h0M102.2 111.2h0M146.6 127.2h0M135.5 113.5h0M86.4 108.5h0M199.6 55.6h0M170.6 39.0h0M171.6 38.8h0M172.6 38.4h0M178.6 97.5h0M179.7 98.7h0M169.8 51.8h0M223.4 135.9h0M207.0 66.8h0M233.3 137.2h0M216.0 4.1h0M137.9 93.7h0M138.1 93.1h0M168.5 130.3h0M134.2 64.5h0M109.2 34.1h0M225.0 115.7h0M225.6 116.4h0M226.7 118.0h0M132.5 89.3h0M234.2 107.6h0M87.2 125.4h0M79.6 146.9h0M80.9 146.7h0M205.2 14.3h0M204.1 15.9h0M228.7 142.5h0M228.5 145.2h0M131.2 50.2h0M68.8 102.3h0M241.6 103.9h0M209.1 38.2h0M221.4 42.5h0M248.7 10.4h0M176.1 94.0h0M231.1 120.3h0M232.6 120.8h0M127.6 19.2h0M72.3 104.9h0M71.9 106.2h0M189.7 100.7h0M189.7 101.2h0M103.5 26.1h0M103.8 28.6h0M201.2 39.4h0M200.6 40.7h0M200.1 41.5h0M199.2 42.5h0"/>
<path stroke="#323232" stroke-width="1.5" d="M146.2 45.9h0M146.7 46.9h0M202.6 44.2h0M231.2 91.5h0M124.2 20.9h0M108.6 76.8h0M224.5 69.2h0M224.1 71.9h0M71.1 85.6h0M72.0 89.5h0M160.8 114.3h0M103.5 41.0h0M235.1 22.1h0M236.0 23.0h0M87.4 137.0h0M103.7 45.8h0M146.6 6.9h0M147.3 7.8h0M66.5 56.3h0M94.0 107.2h0M83.2 77.5h0M83.4 78.0h0M209.9 92.0h0M243.7 100.4h0M245.0 101.8h0M227.3 42.0h0M151.0 112.5h0M141.5 34.2h0M142.7 34.2h0M143.4 35.9h0M218.0 28.6h0M218.6 29.9h0M90.1 74.3h0M240.4 77.3h0M109.0 136.2h0M243.7 27.8h0M243.5 28.9h0M115.0 132.1h0M116.3 132.6h0M117.0 132.9h0M253.2 138.5h0M171.0 112.1h0M184.6 35.9h0M245.6 141.4h0M179.5 47.5h0M180.5 49.0h0M96.3 63.1h0M74.2 147.3h0M185.8 12.2h0M142.6 131.5h0M82.7 91.6h0M82.2 93.3h0M190.9 47.1h0M192.0 48.2h0M149.6 64.6h0M194.4 106.3h0M177.1 91.2h0M177.8 91.7h0M87.6 77.8h0M86.9 79.0h0M116.9 148.1h0M207.0 32.1h0M207.9 32.9h0M199.1 66.3h0M142.3 75.7h0M142.5 75.7h0M144.9 77.0h0M115.6 95.0h0M115.7 96.0h0M148.3 108.7h0M90.5 117.6h0M92.0 118.3h0M210.2 88.4h0M114.9 141.1h0M131.0 47.7h0M132.1 48.4h0M225.7 101.5h0M112.5 61.9h0M163.0 13.5h0M203.2 90.5h0M203.6 91.7h0M201.6 121.1h0M203.3 121.0h0M132.7 96.3h0M189.1 36.6h0M224.2 68.7h0M143.2 76.4h0M237.4 97.2h0M69.2 83.9h0M173.7 136.7h0M196.7 19.8h0M134.1 94.9h0M178.4 128.8h0M138.8 55.4h0M123.6 7.1h0M133.5 83.5h0M179.3 13.0h0M179.8 13.5h0M180.5 12.7h0M237.6 8.2h0M115.4 61.1h0M94.8 74.6h0M149.8 75.6h0M173.2 20.1h0M209.1 26.1h0M230.2 38.6h0M218.2 126.7h0M89.7 60.1h0M128.9 34.1h0M94.2 101.6h0M121.0 36.3h0M252.5 39.2h0M253.5 39.2h0M254.8 39.2h0M196.0 41.8h0M148.3 54.5h0M122.5 78.3h0M121.9 80.4h0M93.9 26.0h0M95.3 27.5h0M196.4 0.1h0M160.0 141.8h0M139.8 52.2h0M153.2 50.4h0M154.1 51.1h0M254.4 88.9h0M126.9 98.8h0M240.6 24.7h0M146.9 113.7h0M221.4 40.7h0M225.0 115.1h0M97.1 50.7h0M96.3 65.4h0M157.6 116.5h0M85.6 107.0h0M236.6 141.2h0M165.0 36.6h0M182.4 128.6h0M182.5 129.2h0M182.5 130.6h0M148.9 118.1h0M78.8 91.9h0M176.1 5.4h0M177.0 5.9h0M231.8 92.1h0M184.5 93.8h0M185.4 94.2h0M228.7 106.1h0M230.3 105.5h0M230.6 107.4h0M177.4 20.8h0M186.5 1.8h0M126.0 61.8h0M130.3 101.0h0M210.1 115.4h0M71.7 116.1h0M109.0 29.0h0M109.7 29.8h0M178.3 66.8h0M122.2 2.3h0M194.0 12.9h0M194.0 14.1h0M248.3 77.6h0M117.3 25.8h0M67.0 103.0h0M235.3 96.0h0M195.1 64.8h0M115.8 97.7h0M227.3 51.4h0M228.3 52.3h0M188.8 135.9h0M152.0 12.8h0M158.3 97.9h0M185.5 128.5h0M80.6 65.7h0M159.7 125.5h0M229.8 21.1h0M123.3 36.3h0M136.2 119.3h0M103.7 28.3h0M162.6 69.1h0M124.5 36.8h0M249.4 47.2h0M249.5 48.5h0M144.2 123.6h0M237.6 108.1h0M214.8 103.0h0M79.5 49.0h0M93.8 75.9h0M94.1 76.2h0M72.6 77.4h0M82.8 106.6h0M216.3 87.6h0M140.0 117.0h0M141.3 117.3h0M144.3 89.3h0M145.0 89.9h0M140.0 49.2h0M190.3 110.3h0M136.9 45.6h0M160.3 147.8h0M161.9 148.5h0M162.4 149.6h0M217.8 7.4h0M218.1 8.4h0M194.3 53.5h0M194.0 53.9h0M113.3 114.1h0M205.3 49.4h0M205.8 50.5h0M110.4 64.4h0M111.4 66.0h0M179.8 40.1h0M181.0 40.9h0M181.8 40.4h0M107.8 68.2h0M217.3 143.6h0M97.3 113.5h0M217.0 67.1h0M177.4 18.2h0M119.6 58.6h0M120.1 57.9h0M99.9 140.4h0M99.7 141.6h0M130.1 79.9h0M129.9 81.2h0M145.9 49.3h0M180.7 91.6h0M200.8 95.9h0M201.6 97.0h0M152.1 47.0h0M92.4 116.8h0M209.3 126.6h0M209.6 127.6h0M157.6 15.1h0M158.0 16.0h0M86.6 140.9h0M80.0 66.8h0M156.4 25.3h0M198.0 0.3h0M197.9 0.5h0M197.4 2.4h0M136.5 125.8h0M254.0 19.6h0M175.6 65.9h0M177.1 65.2h0M192.7 11.9h0M82.8 144.2h0M230.8 15.1h0M231.1 16.4h0M109.3 39.0h0M80.1 52.4h0M144.8 42.7h0M220.9 69.7h0M111.4 38.3h0M130.0 103.1h0M200.5 129.8h0M201.6 129.6h0M123.7 70.4h0M125.6 70.6h0M126.6 71.0h0M84.8 9.2h0M179.2 41.8h0M179.1 44.0h0M194.3 97.9h0M219.1 36.8h0M224.9 129.1h0M135.2 91.3h0M105.2 2.6h0M199.9 39.6h0M149.9 20.7h0M132.9 62.5h0M132.2 62.6h0M235.0 119.8h0M186.7 71.1h0M233.2 42.1h0M72.8 74.0h0M149.3 92.1h0M150.1 92.3h0M173.6 107.4h0M252.2 101.8h0M252.8 102.9h0M81.5 115.2h0M158.5 106.3h0M158.9 107.9h0M159.8 109.4h0M155.8 117.5h0M206.4 33.0h0M205.6 34.4h0M169.2 45.7h0M156.3 137.1h0M162.6 52.0h0M165.1 56.9h0M239.4 28.4h0M240.0 29.3h0M195.9 148.7h0M238.9 15.3h0M189.8 3.0h0M185.8 22.0h0M165.3 44.5h0M165.7 45.4h0M166.7 46.2h0M167.7 46.2h0M164.7 36.5h0M132.7 112.2h0M195.5 39.9h0M201.5 109.4h0M228.3 64.6h0M230.2 64.4h0M73.3 25.0h0M140.1 27.7h0M89.0 82.8h0M89.2 84.8h0M110.2 94.0h0M111.7 94.1h0M111.5 94.1h0M169.0 57.8h0M152.8 30.9h0M161.1 42.0h0M161.4 42.6h0M163.3 42.4h0M134.7 16.6h0M198.0 114.1h0M221.2 97.4h0M167.2 130.1h0M170.1 -0.1h0M221.7 139.3h0M222.3 140.5h0M151.5 50.0h0M152.9 52.5h0M188.8 36.5h0M194.3 122.1h0M176.6 27.7h0M98.5 51.3h0M169.7 109.0h0M170.0 109.8h0M87.1 33.1h0M152.4 18.6h0M194.4 22.8h0M194.5 22.8h0M196.3 23.9h0M137.7 30.6h0M234.2 34.0h0M240.0 15.8h0M227.9 13.5h0M124.6 123.9h0M125.6 124.2h0M188.3 120.2h0M152.6 106.3h0M194.6 10.2h0M156.1 129.4h0M248.5 42.2h0M252.5 130.7h0M251.6 131.7h0M251.7 133.7h0M136.6 12.5h0M136.0 13.3h0M219.4 7.7h0M160.3 11.8h0M77.0 131.3h0M226.5 127.3h0M226.1 127.5h0M168.2 56.2h0M215.0 97.4h0M216.3 97.9h0M250.0 114.5h0M206.2 137.7h0M190.9 129.3h0M230.5 8.9h0M231.6 8.9h0M150.5 84.6h0M222.0 142.2h0M222.6 143.6h0M224.3 144.8h0M186.8 130.4h0M124.7 29.4h0M123.2 30.7h0M202.9 4.2h0M203.7 4.7h0M92.5 47.7h0M184.0 40.9h0M208.5 19.5h0M170.4 56.1h0M202.6 51.8h0M158.7 63.6h0M119.5 72.8h0M131.7 107.7h0M185.5 49.7h0M71.4 103.0h0M72.5 104.5h0M72.4 105.1h0M227.7 17.6h0M228.3 18.1h0M233.1 29.1h0M201.8 46.1h0M201.5 47.2h0M110.4 2.3h0M111.3 1.8h0M111.0 68.8h0M156.7 130.1h0M156.9 131.8h0M87.1 110.6h0M147.8 83.6h0M159.3 25.5h0M110.1 98.4h0M109.7 99.1h0M181.6 14.2h0M182.4 13.8h0M181.1 124.8h0M181.0 126.3h0M88.8 82.6h0M90.5 83.3h0M105.7 90.3h0M106.3 91.1h0M95.1 52.3h0M94.4 53.8h0M96.0 54.0h0M96.1 55.4h0M193.0 102.5h0M193.4 103.4h0M193.5 103.5h0M140.6 115.7h0M166.8 91.5h0M215.4 130.9h0M152.4 121.0h0M208.7 81.4h0M140.5 70.2h0M199.3 143.5h0M114.4 64.8h0M115.6 67.4h0M191.3 30.7h0M239.9 118.4h0M229.4 34.3h0M125.4 32.0h0M79.4 102.9h0M149.0 34.2h0M151.5 35.2h0M200.1 146.3h0M215.1 69.0h0M215.4 70.0h0M226.1 11.7h0M172.0 49.6h0M75.9 97.0h0M77.1 100.7h0M124.8 39.6h0M88.1 0.2h0M80.5 111.5h0M82.6 112.9h0M103.8 44.4h0M85.5 81.1h0M160.7 43.2h0M161.3 46.6h0M165.6 97.9h0M146.9 143.8h0M107.3 105.6h0M149.8 52.2h0M150.7 52.8h0M248.2 69.6h0M248.4 71.0h0M158.9 118.3h0M140.2 144.4h0M161.5 102.7h0M103.7 73.6h0M201.1 79.6h0M89.6 74.9h0M89.4 75.8h0M90.1 77.6h0M245.3 10.4h0M163.9 14.7h0M163.0 16.4h0M162.8 17.2h0M100.5 86.5h0M99.6 86.4h0M237.4 12.9h0M127.9 19.0h0M128.5 19.9h0M214.2 16.0h0M154.3 76.2h0M166.9 25.0h0M156.5 47.5h0M158.1 48.1h0M158.7 48.4h0M160.5 48.8h0M85.9 14.1h0M222.5 67.4h0M101.5 94.0h0M98.3 48.2h0M99.3 49.1h0M99.7 50.4h0M145.9 112.8h0M73.6 100.5h0M118.7 67.7h0M120.8 67.8h0M121.8 66.9h0M227.1 114.4h0M223.7 3.0h0M121.0 85.2h0M72.3 102.2h0M73.6 102.7h0M175.6 68.0h0M176.7 69.3h0M134.2 74.2h0M136.4 74.4h0M84.3 124.9h0M195.5 15.1h0M195.6 16.4h0M149.8 44.3h0M150.0 45.3h0M211.7 31.7h0M143.0 41.3h0M145.5 41.6h0M203.3 107.5h0M172.0 78.0h0M83.7 123.9h0M196.8 72.2h0M77.4 124.9h0M79.2 124.0h0M79.9 124.3h0M158.3 22.4h0M135.7 65.7h0M136.3 67.5h0M115.1 111.6h0M116.7 111.9h0M100.5 146.4h0M100.6 147.9h0M119.3 40.3h0M232.5 87.9h0M152.8 56.8h0M151.4 58.3h0M151.9 59.3h0M106.1 143.2h0M216.2 46.6h0M218.0 48.0h0M129.5 25.6h0M231.1 42.7h0M135.5 101.4h0M136.9 103.2h0M137.8 103.6h0M230.7 18.4h0M82.5 31.6h0M189.7 113.2h0M242.6 50.2h0M139.5 122.9h0M70.3 130.8h0M212.0 21.8h0M80.0 40.3h0M222.0 5.4h0M128.3 111.8h0M130.0 113.0h0M200.9 126.7h0M200.7 127.7h0M129.2 147.7h0M157.6 13.8h0M99.8 64.6h0M100.3 65.8h0M225.9 28.4h0M239.3 138.9h0M239.4 139.8h0M129.2 51.9h0M130.6 53.0h0M253.1 105.7h0M253.4 108.2h0M68.7 17.0h0M194.7 136.0h0M127.4 107.8h0M220.0 43.0h0M163.2 111.1h0M183.5 6.7h0M184.1 7.5h0M184.3 8.4h0M204.1 43.5h0M145.5 65.3h0M147.9 66.9h0M95.1 61.8h0M96.3 63.2h0M231.3 106.6h0M109.7 4.8h0M221.6 131.7h0M143.0 126.0h0M90.0 77.0h0M89.2 79.6h0M71.1 125.0h0M72.2 124.8h0M73.5 126.0h0M195.5 23.9h0M176.2 74.7h0M175.7 76.1h0M110.8 93.9h0M110.9 94.6h0M183.6 72.9h0M159.6 52.2h0M195.2 56.8h0M130.1 75.4h0M129.9 75.4h0M246.9 144.8h0M242.8 23.2h0M242.2 26.1h0M167.1 4.4h0M169.0 6.6h0M103.4 111.9h0M197.5 12.8h0M182.4 116.6h0M180.4 112.7h0M124.8 140.5h0M177.9 56.2h0M211.4 143.8h0M95.8 39.7h0M139.0 46.5h0M138.7 46.9h0M140.0 48.8h0M117.0 107.3h0M242.6 2.1h0M94.1 85.2h0M94.3 86.4h0M84.9 32.2h0M144.6 127.7h0M121.4 54.4h0M122.7 54.3h0M143.1 16.7h0M148.5 33.4h0M147.2 35.8h0M147.8 27.9h0M148.9 28.9h0M171.1 66.0h0M171.8 66.4h0M172.6 67.6h0M172.4 68.3h0M144.1 93.2h0M148.3 98.7h0M178.4 38.4h0M180.1 39.6h0M143.6 122.3h0M146.1 124.7h0M142.5 49.5h0M162.8 111.4h0M118.3 78.4h0M220.8 25.5h0M191.1 29.6h0M191.5 32.2h0M191.7 31.9h0M69.5 90.2h0M69.7 92.2h0M208.9 64.6h0M144.2 17.1h0M144.1 18.3h0M185.3 30.8h0M116.2 72.7h0M116.4 72.9h0M116.2 75.0h0M132.6 87.6h0M249.5 50.5h0M102.6 5.2h0M104.1 5.7h0M178.9 66.3h0M193.6 43.9h0M167.8 119.8h0M126.5 138.8h0M248.0 82.8h0M250.0 82.9h0M119.1 4.0h0M119.6 5.4h0M120.0 5.4h0M72.0 146.8h0M72.0 146.8h0M125.8 11.8h0M66.0 41.7h0M111.8 129.9h0M217.7 83.9h0M217.7 85.1h0M229.7 98.1h0M231.0 98.5h0M211.6 15.4h0M134.4 102.3h0M133.4 102.8h0M160.7 59.3h0M161.7 59.1h0M236.6 112.1h0M120.7 110.5h0M123.0 110.5h0M193.2 74.9h0M194.5 74.9h0M195.4 74.7h0M197.1 74.6h0M235.4 92.6h0M236.3 93.2h0M124.7 14.0h0M152.3 31.4h0M153.1 32.1h0M130.2 92.8h0M130.2 93.6h0M171.5 16.9h0M212.6 144.2h0M214.2 144.3h0M130.9 47.1h0M130.5 49.8h0M186.8 3.9h0M186.6 4.7h0M213.5 32.6h0M214.0 33.0h0M214.6 32.2h0M115.4 94.0h0M115.5 96.3h0M116.1 106.5h0M130.2 119.9h0M243.2 14.1h0M243.3 14.4h0M108.6 120.5h0M250.6 135.1h0M235.4 18.8h0M237.5 19.6h0M157.6 58.1h0M181.8 52.7h0M182.7 53.7h0M183.8 54.5h0M222.6 86.1h0M127.0 109.7h0M126.5 111.5h0M125.9 112.7h0M191.0 141.6h0M144.0 87.8h0M226.9 107.3h0M196.4 124.0h0M198.3 125.5h0M89.4 85.6h0M77.5 110.8h0M77.0 34.8h0M120.5 119.5h0M91.1 127.1h0M90.6 126.7h0M199.0 134.7h0M177.7 77.7h0M160.9 87.1h0M127.9 66.0h0M128.1 68.1h0M182.0 80.9h0M252.9 70.9h0M149.8 22.0h0M167.5 106.3h0M144.4 56.6h0M156.2 133.9h0M156.5 134.6h0M154.0 17.2h0M153.8 18.5h0M154.3 19.7h0M172.0 13.3h0M92.5 30.0h0M126.7 69.4h0M126.3 70.4h0M225.0 35.4h0M192.8 59.2h0M192.5 59.9h0M168.1 23.3h0M168.0 24.9h0M168.1 25.7h0M236.0 102.5h0M211.1 50.1h0M211.5 49.8h0M95.7 37.6h0M118.8 134.0h0M102.4 140.9h0M90.2 99.3h0M91.2 101.2h0M125.3 -0.1h0M125.5 1.4h0M241.8 62.5h0M242.6 63.9h0M204.4 105.0h0M205.3 105.4h0M158.6 82.1h0M159.6 83.9h0M160.7 85.2h0M112.4 89.5h0M216.1 35.1h0M216.1 35.6h0M134.9 53.3h0M174.1 91.8h0M195.5 46.2h0M152.6 30.7h0M144.2 77.2h0M137.7 88.0h0M242.0 32.1h0M160.1 40.9h0M125.7 3.1h0M144.4 40.0h0M233.1 109.4h0M233.5 110.3h0M88.2 102.7h0M142.0 1.4h0M111.5 147.6h0M93.7 30.0h0M111.9 101.3h0M111.1 102.6h0M163.0 95.5h0M122.0 7.5h0M195.6 47.6h0M111.7 7.0h0M113.9 7.0h0M103.0 128.9h0M141.5 74.7h0M145.5 93.2h0M115.7 68.2h0M201.5 22.7h0M202.3 26.2h0M201.9 52.4h0M155.7 44.6h0M187.4 126.6h0M158.5 40.5h0M248.0 66.2h0M230.1 72.8h0M113.0 128.8h0M94.4 6.9h0M254.3 19.3h0M194.5 7.4h0M153.7 111.0h0M121.3 31.3h0M122.2 31.2h0M123.5 32.0h0M122.3 52.8h0M138.2 45.0h0M249.8 75.0h0M250.6 75.6h0M251.4 76.5h0M244.1 22.0h0M211.6 2.3h0M214.3 2.9h0M85.5 71.4h0M234.8 27.5h0M186.0 26.4h0M185.8 29.2h0M216.1 95.1h0M216.1 96.3h0M131.3 139.3h0M194.3 48.0h0M96.8 134.7h0M98.8 135.8h0M235.1 70.0h0M178.2 105.8h0M157.9 69.9h0M247.7 89.5h0M152.7 146.6h0M216.8 44.5h0M158.6 106.5h0M205.9 142.2h0M207.9 143.1h0M88.3 27.1h0M198.4 63.4h0M205.3 -0.6h0M242.9 134.7h0M77.0 36.3h0M192.8 135.4h0M102.8 49.9h0M103.7 51.2h0M243.5 25.5h0M107.1 68.0h0M98.9 72.0h0M185.9 141.8h0M192.4 48.8h0M192.8 49.6h0M84.6 77.4h0M242.7 4.1h0M243.0 4.7h0M230.0 48.9h0M123.2 18.1h0M163.9 58.6h0M165.3 60.4h0M168.0 103.1h0M169.4 104.7h0M114.3 138.6h0M114.3 139.0h0M227.3 41.0h0M178.6 28.7h0M168.1 140.7h0M133.0 132.5h0M169.5 10.9h0M211.9 11.1h0M212.6 13.0h0M158.7 31.1h0M173.9 103.1h0M177.2 103.4h0M214.9 0.6h0M178.2 105.7h0M141.7 24.5h0M126.5 34.2h0M156.2 11.0h0M156.7 11.8h0M166.4 14.8h0M118.5 132.3h0M81.1 130.4h0M141.8 54.3h0M132.3 48.9h0M132.9 51.4h0M105.0 88.3h0M73.8 116.3h0M142.5 124.7h0M82.6 87.1h0M237.6 6.1h0M238.1 6.7h0M239.7 7.4h0M222.0 123.7h0M220.7 3.0h0M113.0 24.0h0M113.6 24.0h0M71.0 126.9h0M214.2 134.2h0M243.0 46.0h0M72.4 86.2h0M72.6 86.8h0M74.1 88.0h0M164.1 132.3h0M105.7 65.0h0M128.8 43.7h0M129.5 44.9h0M223.2 8.7h0M99.8 33.3h0M177.6 83.1h0M177.4 8.4h0M126.2 138.1h0M220.6 74.1h0M69.1 102.4h0M247.2 53.6h0M247.8 53.7h0M180.0 85.0h0M248.3 36.3h0M240.0 118.6h0M240.0 119.9h0M167.6 39.4h0M98.3 25.1h0M215.9 63.5h0M183.9 4.0h0M202.5 81.8h0M202.2 82.5h0M200.0 55.8h0M162.9 34.7h0M163.4 113.1h0M134.3 133.0h0M68.6 76.8h0M101.5 114.6h0M136.2 53.6h0M115.9 9.4h0M138.4 74.5h0M135.4 122.4h0M181.8 32.4h0M182.7 34.1h0M122.5 142.3h0M154.7 140.3h0M175.9 36.8h0M161.2 94.3h0M89.2 122.8h0M230.2 41.2h0M231.9 41.5h0M77.0 122.0h0M76.5 122.1h0M95.5 76.4h0M232.1 88.6h0M188.1 113.2h0M187.5 114.5h0M110.6 94.6h0M123.0 69.4h0M104.1 58.7h0M110.2 113.6h0M138.5 137.8h0M139.5 138.5h0M194.4 18.6h0M194.2 19.6h0M127.5 94.6h0M222.0 6.3h0M183.4 84.7h0M133.1 103.9h0M184.2 125.5h0M184.9 126.2h0M73.6 147.0h0M126.4 26.2h0M143.1 120.8h0M147.2 121.7h0M71.2 67.6h0M127.6 43.4h0M146.5 11.0h0M148.2 12.3h0M149.4 13.7h0M184.3 63.4h0M185.3 65.0h0M185.0 8.0h0M184.8 10.8h0M157.0 139.1h0M225.8 139.8h0M227.0 141.3h0M241.4 45.3h0M159.1 79.5h0M246.5 28.5h0M248.1 28.9h0M158.0 132.8h0M159.3 133.6h0M191.4 79.8h0M200.0 8.3h0M92.3 40.2h0M94.6 85.8h0M95.3 86.7h0M131.6 126.4h0M252.3 24.6h0M252.6 25.2h0M254.5 25.6h0M118.8 71.3h0M86.9 60.9h0M86.2 61.0h0M144.2 131.5h0M158.0 91.0h0M119.1 109.1h0M118.1 18.9h0M131.3 7.9h0M88.6 147.5h0M167.9 113.3h0M121.6 30.8h0M177.9 30.7h0M162.0 146.8h0M128.3 32.6h0M178.9 41.8h0M194.8 116.5h0M196.0 117.1h0M197.6 117.9h0M115.8 56.2h0M125.5 47.6h0M230.8 3.8h0M231.8 2.7h0M213.0 58.3h0M117.9 70.2h0M217.4 108.8h0M229.9 82.4h0M136.7 49.8h0M230.1 124.8h0M232.5 125.8h0M147.7 110.1h0M169.8 20.8h0M248.7 49.1h0M249.3 50.3h0M239.1 7.6h0M240.6 9.1h0M224.3 125.7h0M192.5 5.6h0M217.8 91.3h0M217.4 92.6h0M224.5 65.8h0M200.3 52.5h0M201.3 53.4h0M210.3 114.2h0M193.3 64.9h0M84.9 67.8h0M84.0 69.1h0M138.3 91.8h0M175.1 101.7h0M167.5 67.6h0M126.4 35.9h0M132.6 100.0h0M133.2 100.2h0M252.7 54.6h0M252.8 55.9h0M107.5 139.5h0M108.6 139.7h0M192.0 34.2h0M140.4 112.2h0M139.7 115.6h0M231.2 62.8h0M232.6 63.0h0M168.9 106.3h0M168.8 108.3h0M140.4 62.8h0M83.5 107.4h0M84.5 108.3h0M86.2 108.9h0M107.4 28.0h0M239.3 113.7h0M163.3 13.3h0M163.4 14.0h0M126.5 102.6h0M96.0 93.7h0M97.0 93.1h0M233.3 146.5h0M143.4 130.9h0M104.7 74.1h0M100.9 41.1h0M102.7 43.1h0M250.2 45.5h0M186.5 114.2h0M187.1 115.0h0M87.0 85.7h0M138.9 124.7h0M138.5 125.4h0M137.2 125.2h0M118.6 70.6h0M119.1 70.7h0M174.1 40.3h0M123.6 116.7h0M108.3 90.7h0M108.0 91.9h0M128.5 11.2h0M238.1 43.3h0M239.0 44.7h0M97.9 131.1h0M98.6 131.0h0M237.8 15.9h0M238.4 16.2h0M239.2 16.5h0M153.6 45.1h0M224.2 93.7h0M224.7 94.3h0M247.6 27.6h0M208.0 38.4h0M199.1 6.4h0M93.1 79.6h0M93.2 79.9h0M94.2 79.6h0M179.7 125.1h0M180.7 125.2h0M211.9 39.4h0M146.6 4.9h0M147.2 5.3h0M173.1 104.6h0M96.4 88.6h0M96.9 89.2h0M129.2 40.9h0M195.4 104.8h0M194.9 105.4h0M105.4 50.9h0M195.6 73.3h0M107.0 95.8h0M145.1 22.2h0M241.8 82.7h0M140.0 123.2h0M143.7 122.5h0M135.7 104.1h0M222.4 15.4h0M222.7 15.4h0M124.0 75.5h0M198.1 147.5h0M72.2 76.5h0M104.9 68.3h0M207.6 25.8h0M187.9 19.2h0M247.6 26.0h0M248.1 27.0h0M193.5 129.0h0M193.7 129.6h0M115.3 32.6h0M74.6 77.8h0M249.9 140.7h0M75.8 45.1h0M170.9 91.8h0M180.0 18.3h0M104.6 131.6h0M201.8 72.9h0M77.3 101.3h0M77.9 103.1h0M119.9 15.5h0M204.2 52.0h0M242.7 141.2h0M181.1 121.8h0M89.7 9.4h0M92.7 65.6h0M205.8 102.9h0M235.9 113.6h0M207.5 3.9h0M90.3 108.8h0M106.0 124.9h0M238.0 137.5h0M234.2 128.4h0M251.9 38.5h0M155.0 99.2h0M143.5 3.8h0M105.2 145.3h0M207.1 9.2h0M128.9 132.3h0M131.0 133.4h0M132.1 134.5h0M229.9 85.7h0M176.0 32.1h0M169.1 130.3h0M132.5 66.0h0M70.3 23.1h0M112.7 144.1h0M163.6 -1.7h0M164.4 1.5h0M236.7 39.3h0M168.1 74.5h0M167.4 76.5h0M167.9 77.9h0M214.5 86.1h0M192.9 101.3h0M126.8 48.3h0M243.8 99.3h0M205.9 80.3h0M66.2 131.7h0M89.7 37.5h0M106.9 147.0h0M250.3 68.1h0M250.6 68.2h0M147.8 19.9h0M138.2 51.3h0M110.7 116.6h0M137.7 36.7h0M245.7 84.5h0M196.9 7.2h0M213.3 112.3h0M213.4 113.4h0M212.8 113.6h0M148.4 131.2h0M82.3 87.9h0M74.5 108.6h0M168.2 0.9h0M241.1 82.2h0M212.8 85.2h0M205.2 84.1h0M206.3 85.3h0M155.4 10.2h0M136.5 101.4h0M136.9 102.5h0M137.8 103.5h0M133.2 24.8h0M128.1 135.1h0M128.8 135.6h0M251.5 8.1h0M108.4 138.8h0M78.5 58.8h0M162.2 67.8h0M161.9 68.6h0M177.7 20.2h0M252.2 44.3h0M253.0 45.1h0M152.5 74.9h0M209.6 32.2h0M71.3 80.4h0M70.9 82.3h0M170.4 64.9h0M189.9 51.7h0M144.1 14.0h0M143.3 15.7h0M143.2 16.9h0M239.7 21.5h0M202.4 93.1h0M126.1 58.6h0M127.6 59.1h0M128.5 60.2h0M188.5 133.1h0M238.9 102.3h0M92.8 101.5h0M217.5 86.5h0M218.5 87.1h0M219.9 88.0h0M117.9 96.3h0M118.7 78.0h0M137.7 71.2h0M140.9 124.0h0M154.6 62.5h0M99.5 43.9h0M74.9 29.5h0M247.2 53.2h0M248.1 53.2h0M151.1 46.1h0M224.0 91.1h0M126.2 0.3h0M90.1 67.4h0M246.2 107.6h0M253.4 52.4h0M253.6 54.4h0M74.4 130.6h0M144.5 23.8h0M136.8 74.4h0M170.4 18.7h0M171.6 18.9h0M151.8 133.0h0M152.5 133.8h0M183.8 139.5h0M172.3 78.8h0M159.9 60.1h0M168.2 94.4h0M170.6 95.2h0M81.7 65.7h0M82.9 66.3h0M84.2 66.9h0M149.8 24.6h0M141.6 38.6h0M141.7 41.1h0M209.7 50.7h0M213.8 22.3h0M215.4 22.0h0M128.3 50.7h0M128.8 52.1h0M128.1 53.2h0M149.5 27.9h0M175.2 145.4h0M225.8 119.6h0M156.6 103.4h0M114.7 21.4h0M252.0 126.9h0M236.9 34.2h0M238.0 37.0h0M105.7 29.1h0M106.9 30.0h0M162.2 115.9h0M67.7 88.0h0M68.8 88.7h0M69.4 89.4h0M69.8 89.8h0M185.5 40.3h0M210.7 115.9h0M248.1 46.0h0M251.7 47.6h0M87.9 141.5h0M88.1 142.8h0M194.8 12.6h0M122.8 94.1h0M136.0 107.7h0M155.6 80.7h0M107.5 9.1h0M206.7 143.6h0M168.6 13.6h0M169.9 15.2h0M81.9 3.0h0M81.8 3.4h0M159.1 46.4h0M118.8 75.4h0M119.3 76.8h0M236.4 20.3h0M97.5 112.5h0M99.2 112.6h0M82.6 82.7h0M147.7 4.7h0M148.4 5.6h0M116.8 140.3h0M117.2 141.7h0M117.5 142.0h0M213.0 13.2h0M252.9 72.3h0M147.4 54.0h0M78.2 98.3h0M178.8 110.2h0M161.8 75.9h0M162.0 76.9h0M160.9 77.8h0M133.5 96.6h0M135.5 98.2h0M174.4 0.1h0M221.2 148.0h0M210.6 19.1h0M145.8 52.3h0M207.8 97.8h0M208.6 99.1h0M209.0 100.2h0M102.2 42.6h0M179.1 84.2h0M235.7 79.0h0M190.1 131.5h0M176.8 125.9h0M156.6 98.3h0M97.9 144.2h0M109.0 38.2h0M124.7 64.1h0M98.8 14.2h0M96.9 14.6h0M106.0 106.6h0M150.1 82.5h0M151.0 83.4h0M152.8 84.7h0M152.7 84.6h0M68.9 113.5h0M113.9 132.9h0M99.3 81.6h0M133.5 8.6h0M162.2 61.0h0M146.3 61.6h0M146.2 61.9h0M227.0 140.6h0M143.5 36.1h0M156.6 112.1h0M156.3 113.3h0M132.6 135.3h0M132.5 136.1h0M233.4 41.4h0M133.6 118.6h0M248.3 79.5h0M188.3 53.2h0M188.7 53.8h0M189.9 54.0h0M189.6 101.2h0M97.9 14.2h0M97.8 15.3h0M142.9 41.1h0M236.1 124.0h0M204.8 0.7h0M66.6 76.5h0M67.2 77.5h0M222.3 50.4h0M123.9 54.6h0M169.6 -1.2h0M170.1 -0.3h0M208.1 129.5h0M209.1 129.9h0M88.0 8.0h0M220.5 119.5h0M220.4 118.6h0M244.4 8.1h0M183.4 22.8h0M184.0 23.5h0M184.0 25.2h0M97.1 40.1h0M125.8 41.6h0M114.0 94.9h0M135.2 54.2h0M215.6 49.1h0M216.1 49.4h0M142.6 38.2h0M250.8 92.9h0M183.6 129.8h0M224.6 95.1h0M162.8 20.8h0M97.3 127.5h0M107.1 139.6h0M250.4 71.1h0M244.8 4.8h0M245.5 6.2h0M129.1 75.3h0M94.4 2.0h0M142.8 94.4h0M106.6 60.3h0M108.2 59.7h0M154.4 98.0h0M154.7 98.3h0M156.1 99.0h0M188.8 15.9h0M189.0 18.1h0M203.0 29.7h0M204.2 31.2h0M231.8 111.7h0M101.3 108.3h0M102.6 108.0h0M110.0 80.2h0M110.1 82.8h0M221.9 7.9h0M223.3 8.2h0M160.3 52.9h0M104.8 145.8h0M170.4 63.0h0M127.6 8.7h0M127.8 9.8h0M194.1 71.0h0M195.6 71.9h0M147.3 61.7h0M235.5 10.1h0M236.8 11.6h0M78.7 68.1h0M120.6 137.9h0M121.7 139.3h0M121.3 140.1h0M226.9 132.0h0M226.3 132.8h0M225.5 133.6h0M152.2 124.4h0M111.4 71.7h0M112.5 72.2h0M181.1 70.1h0M141.6 143.8h0M141.1 144.5h0M146.3 148.8h0M148.0 149.3h0M149.2 149.9h0M112.7 53.0h0M129.6 127.7h0M130.6 121.0h0M131.3 121.8h0M239.5 129.1h0M227.8 54.0h0M92.4 122.5h0M93.4 122.8h0M95.4 122.9h0M206.1 86.1h0M204.7 87.6h0M144.5 20.8h0M83.3 143.0h0M82.9 143.3h0M83.6 143.8h0M120.2 35.6h0M121.0 36.2h0M123.2 37.2h0M118.5 149.5h0M118.9 149.7h0M193.6 91.2h0M240.0 37.1h0M205.1 52.4h0M240.4 90.8h0M241.4 91.3h0M167.9 64.1h0M168.9 63.8h0M235.7 117.3h0M236.1 119.0h0M236.7 119.8h0M138.5 57.8h0M137.7 61.3h0M227.1 27.1h0M122.1 39.6h0M210.3 5.7h0M131.7 112.1h0M132.6 114.8h0M115.0 134.4h0M114.9 137.1h0M248.7 19.6h0M169.0 114.5h0M241.3 18.9h0M174.5 90.1h0M175.3 86.3h0M230.8 48.3h0M229.4 49.0h0M229.0 49.8h0M197.3 133.1h0M197.6 134.7h0M72.6 41.4h0M138.2 80.1h0M168.5 15.2h0M210.8 7.6h0M120.6 103.5h0M252.6 37.4h0M88.7 129.7h0M183.7 54.2h0M106.3 123.0h0M115.4 55.1h0M143.1 23.3h0M128.6 115.8h0M188.1 18.3h0M119.8 126.1h0M121.3 127.7h0M128.0 95.4h0M128.9 96.5h0M188.5 92.3h0M189.9 94.2h0M171.5 142.2h0M120.9 7.8h0M122.5 7.8h0M123.7 9.3h0M150.6 130.4h0M245.4 90.8h0M250.5 7.4h0M156.3 52.4h0M157.3 51.8h0M141.2 42.0h0M173.6 107.3h0M125.1 96.0h0M107.6 10.0h0M165.9 117.2h0M246.9 38.6h0M152.6 142.7h0M154.0 143.0h0M86.1 112.3h0M246.1 129.3h0M172.9 19.9h0M173.4 20.1h0M146.1 26.3h0M164.7 110.5h0M165.9 111.3h0M219.9 104.2h0M125.3 134.7h0M97.4 29.2h0M98.0 31.3h0M178.3 43.9h0M179.4 45.4h0M209.8 7.3h0M211.0 8.4h0M167.2 79.1h0M163.0 57.7h0M251.2 146.7h0M167.8 7.8h0M216.2 63.3h0M134.0 127.3h0M216.1 74.3h0M177.3 105.3h0M246.3 114.9h0M149.3 91.1h0M230.3 82.5h0M240.3 15.4h0M76.5 86.8h0M182.3 131.7h0M154.5 95.7h0M116.2 122.2h0M117.2 123.0h0M155.7 107.0h0M110.4 74.3h0M176.8 38.9h0M177.1 39.4h0M173.5 104.0h0M69.3 68.5h0M70.1 69.8h0M228.2 133.7h0M95.9 79.6h0M246.7 7.4h0M128.4 0.1h0M128.4 0.6h0M131.1 -0.1h0M228.2 14.4h0M228.7 14.2h0M230.3 75.4h0M229.4 76.7h0M105.7 149.1h0M197.0 132.8h0M127.2 90.5h0M155.8 133.6h0M132.8 24.9h0M137.4 97.7h0M137.2 99.3h0M181.7 103.7h0M183.1 104.5h0M86.6 97.4h0M164.9 127.0h0M166.1 128.2h0M176.7 72.6h0M177.7 73.2h0M177.8 74.2h0M67.8 59.5h0M133.1 93.8h0M134.2 94.0h0M100.3 85.4h0M147.2 79.7h0M212.6 66.9h0M103.0 43.2h0M103.0 44.9h0M111.4 71.6h0M111.7 73.8h0M112.1 74.8h0M245.7 22.6h0M167.8 123.1h0M217.3 89.5h0M218.8 90.8h0M219.8 91.7h0M95.9 144.3h0M161.7 16.8h0M162.4 35.7h0M69.0 52.3h0M150.9 28.9h0M187.7 86.4h0M66.8 34.5h0M68.5 35.3h0M69.7 35.8h0M155.4 13.0h0M137.8 122.3h0M226.4 71.1h0M120.8 53.4h0M147.9 78.6h0M147.2 80.0h0M147.0 79.7h0M117.9 2.0h0M143.0 57.7h0M126.3 0.4h0M126.4 1.3h0M124.1 58.5h0M125.3 59.8h0M165.7 92.1h0M88.1 74.2h0M90.2 74.9h0M193.3 31.6h0M70.4 61.0h0M178.4 26.4h0M178.1 27.3h0M179.3 28.2h0M101.6 94.3h0M129.7 31.5h0M109.7 124.1h0M170.3 116.6h0M70.3 68.8h0M70.6 70.2h0M86.4 76.6h0M196.8 0.2h0M197.5 1.2h0M104.9 140.6h0M106.8 142.3h0M107.2 143.6h0M209.6 120.2h0M213.5 113.7h0M204.3 122.8h0M167.4 32.1h0M187.2 -1.0h0M148.0 6.7h0M147.0 7.8h0M180.6 11.6h0M197.5 13.5h0M194.1 23.6h0M202.0 61.4h0M234.0 23.8h0M82.7 56.9h0M112.5 115.1h0M81.4 122.6h0M220.2 51.8h0M84.7 100.7h0M85.8 101.7h0M213.4 54.5h0M216.8 0.0h0M225.2 61.3h0M226.0 61.2h0M152.9 127.3h0M121.4 68.4h0M147.0 71.4h0M147.7 73.1h0M227.4 28.6h0M110.2 21.3h0M105.4 119.1h0M229.4 85.6h0M229.8 88.3h0M176.7 71.9h0M224.6 146.2h0M116.9 69.5h0M119.3 70.5h0M213.7 52.3h0M195.4 41.9h0M195.9 42.2h0M155.1 32.1h0M134.0 36.4h0M156.8 112.1h0M113.4 12.7h0M126.8 38.7h0M161.6 142.1h0M162.9 143.0h0M164.5 143.8h0M135.7 91.9h0M69.2 86.2h0M178.7 147.7h0M201.3 7.9h0M203.2 7.9h0M138.2 58.4h0M232.6 66.2h0M233.7 67.3h0M166.6 102.4h0M123.0 60.1h0M179.3 24.8h0M110.2 91.3h0M114.1 65.3h0M187.3 39.2h0M189.1 38.6h0M213.0 113.5h0M214.1 115.1h0M215.1 115.1h0M215.5 115.5h0M102.2 55.2h0M134.8 7.3h0M91.4 81.1h0M89.6 83.3h0M107.5 66.0h0M225.7 102.2h0M84.8 60.9h0M155.7 19.3h0M155.7 20.6h0M156.5 22.0h0M172.5 32.7h0M78.1 88.2h0M172.1 144.4h0M231.4 97.9h0M78.6 42.0h0M83.6 136.9h0M170.6 120.4h0M191.7 66.1h0M119.9 113.2h0M152.5 96.9h0M218.1 31.0h0M115.8 106.3h0M115.7 107.9h0M112.3 139.4h0M163.8 36.4h0M216.5 8.9h0M74.7 71.9h0M74.5 133.4h0M74.3 133.2h0M163.0 80.0h0M193.8 87.7h0M197.1 87.1h0M144.4 92.8h0M144.7 72.2h0M146.3 72.5h0M214.9 93.4h0M216.3 93.0h0M66.9 70.6h0M68.6 69.9h0M76.9 79.6h0M77.4 79.7h0M80.1 79.4h0M94.6 93.2h0M179.2 120.6h0M179.8 121.7h0M84.9 128.4h0M84.6 129.2h0M95.2 6.4h0M165.2 5.9h0M95.9 6.0h0M96.6 5.7h0M151.7 6.2h0M153.3 7.1h0M122.0 60.0h0M156.8 125.2h0M121.9 9.4h0M174.2 24.5h0M132.1 31.0h0M197.4 80.0h0M197.8 81.3h0M157.0 46.0h0M157.3 47.4h0M157.9 48.0h0M157.8 48.3h0M136.4 149.7h0M124.3 106.4h0M83.0 141.0h0M130.6 113.8h0M130.7 114.4h0M98.9 3.3h0M114.2 37.0h0M205.7 52.1h0M205.9 53.6h0M206.6 54.1h0M180.7 110.0h0M237.5 128.0h0M240.2 129.7h0M148.0 80.4h0M151.6 80.0h0M227.1 95.4h0M115.7 54.1h0M117.0 56.1h0M102.0 115.1h0M121.3 146.0h0M122.1 146.3h0M122.8 146.3h0M150.3 20.7h0M202.9 64.0h0M179.1 4.8h0M96.8 92.0h0M142.1 120.6h0M137.0 140.8h0M137.1 141.3h0M172.0 122.1h0M172.0 122.5h0M118.9 75.8h0M87.5 142.1h0M89.7 44.4h0M115.8 112.4h0M224.5 14.5h0M225.1 17.6h0M86.9 134.0h0M176.8 67.5h0M177.2 69.6h0M250.2 1.6h0M252.9 2.5h0M134.1 43.6h0M127.4 84.4h0M171.4 141.6h0M205.9 32.6h0M190.0 117.5h0M96.3 78.6h0M70.7 140.3h0M149.3 74.3h0M151.8 75.4h0M99.0 135.4h0M100.0 135.2h0M162.2 22.4h0M156.5 28.9h0M156.9 29.5h0M94.7 9.0h0M167.8 77.2h0M244.3 117.5h0M135.7 127.9h0M164.7 98.4h0M225.1 121.7h0M174.2 -0.0h0M174.7 1.5h0M175.7 2.1h0M190.5 70.4h0M246.6 54.6h0M246.6 55.8h0M95.6 24.6h0M141.1 128.6h0M231.4 91.5h0M208.4 103.8h0M221.2 16.5h0M150.5 75.4h0M236.4 21.2h0M122.8 35.2h0M108.0 8.9h0M248.0 4.3h0M107.7 38.2h0M92.7 60.7h0M211.0 73.1h0M208.9 102.7h0M141.2 15.2h0M109.0 144.2h0M72.6 106.0h0M72.8 107.8h0M156.3 111.4h0M155.7 111.6h0M155.9 112.7h0M184.7 101.4h0M80.4 139.8h0M247.8 68.6h0M247.9 69.4h0M249.5 70.0h0M68.2 105.3h0M94.7 29.2h0M88.1 69.6h0M89.0 70.1h0M108.7 64.2h0M70.1 94.6h0M222.3 42.8h0M222.8 44.1h0M170.1 128.7h0M95.9 86.4h0M227.6 61.7h0M228.4 63.9h0M139.3 45.3h0M86.3 56.2h0M86.2 57.0h0M150.2 50.2h0M150.5 50.6h0M151.2 51.7h0M134.7 118.6h0M99.5 49.9h0M107.8 96.8h0M108.4 97.3h0M238.1 49.0h0M246.9 83.4h0M117.6 89.7h0M123.9 56.2h0M198.1 80.0h0M166.5 115.2h0M167.0 116.5h0M74.6 72.1h0M74.6 73.9h0M106.9 58.4h0M140.4 38.1h0M234.6 121.7h0M235.4 122.2h0M130.4 120.5h0M167.3 76.8h0M135.5 123.3h0M221.3 37.9h0M194.6 46.6h0M200.4 99.8h0M129.6 41.2h0M147.1 99.8h0M148.5 100.1h0M148.5 100.3h0M108.2 125.7h0M114.3 85.3h0M102.3 81.2h0M103.4 82.5h0M121.4 47.2h0M161.3 38.2h0M116.2 89.2h0M204.0 101.7h0M203.6 104.4h0M92.0 103.5h0M91.0 104.3h0M160.7 40.5h0M174.0 107.4h0M210.9 54.3h0M191.2 48.8h0M117.7 117.9h0M251.4 12.0h0M100.4 127.1h0M108.4 117.8h0M200.5 72.9h0M232.2 20.9h0M216.6 120.2h0M92.9 106.0h0M212.8 49.4h0M227.9 86.5h0M228.7 87.0h0M231.4 86.7h0M161.3 84.3h0M161.7 86.9h0M161.0 88.3h0M200.4 119.5h0M111.9 134.6h0M80.8 105.4h0M164.4 26.3h0M127.4 138.9h0M100.8 77.0h0M101.4 77.0h0M68.7 26.1h0M69.0 27.2h0M69.4 27.7h0M113.3 142.6h0M197.9 120.6h0M174.2 147.4h0M174.7 148.7h0M175.2 148.9h0M213.1 130.8h0M95.9 -0.2h0M219.2 139.2h0M242.2 0.2h0M206.5 84.5h0M120.5 121.1h0M121.1 122.0h0M112.4 61.8h0M133.5 50.1h0M134.4 50.6h0M206.9 58.2h0M237.2 56.8h0M93.0 141.0h0M203.2 68.5h0M100.0 71.5h0M124.9 25.6h0M220.5 98.7h0M181.2 21.4h0M190.7 21.0h0M190.6 24.3h0M251.5 48.8h0M176.6 145.6h0M230.4 95.4h0M147.5 68.0h0M198.4 97.5h0M246.1 57.5h0M152.4 39.9h0M152.7 41.0h0M132.6 20.2h0M123.9 79.8h0M67.7 21.5h0M222.0 114.7h0M216.3 120.1h0M216.5 120.2h0M84.5 17.6h0M202.7 121.5h0M82.5 59.7h0M82.7 61.4h0M73.2 96.7h0M183.1 119.1h0M183.6 120.5h0M163.7 144.7h0M125.2 58.1h0M126.8 59.4h0M127.4 60.2h0M160.9 21.6h0M68.4 132.1h0M69.5 132.0h0M234.0 60.6h0M233.7 63.0h0M234.5 64.2h0M207.7 83.9h0M177.5 145.3h0M202.4 124.4h0M98.0 49.2h0M137.3 143.0h0M137.3 144.0h0M94.5 123.9h0M95.5 123.6h0M101.1 96.2h0M98.4 84.1h0M157.2 32.5h0M186.3 35.5h0M192.7 37.3h0M90.5 123.1h0M122.8 62.4h0M169.9 81.0h0M170.9 64.4h0M104.3 19.0h0M203.3 82.3h0M131.4 24.2h0M172.0 133.0h0M173.4 134.4h0M174.1 133.6h0M244.1 59.4h0M245.6 60.1h0M172.5 47.2h0M196.3 16.2h0M243.6 49.8h0M98.5 73.0h0M96.5 75.2h0M246.1 127.4h0M209.3 75.6h0M209.5 76.7h0M213.6 75.7h0M214.0 77.1h0M215.7 77.2h0M174.2 66.8h0M143.7 97.0h0M128.6 128.0h0M129.1 128.9h0M231.3 128.6h0M233.3 130.6h0M167.0 116.4h0M166.9 117.3h0M168.8 58.7h0M169.6 107.1h0M139.6 4.6h0M111.0 75.2h0M111.9 75.7h0M114.4 62.4h0M162.6 122.3h0M163.2 123.5h0M236.6 146.8h0M198.2 108.3h0M198.9 108.7h0M234.0 65.5h0M233.9 66.2h0M239.9 2.3h0M240.5 2.4h0M242.4 2.8h0M174.9 111.9h0M176.0 111.4h0M231.0 70.5h0M180.5 104.0h0M181.9 104.0h0M158.1 107.0h0M158.2 107.8h0M241.9 35.3h0M214.2 25.6h0M184.4 43.2h0M234.2 110.0h0M147.1 54.2h0M147.8 55.9h0M148.7 56.5h0M161.3 79.6h0M113.2 70.6h0M113.1 71.9h0M129.7 48.1h0M129.7 88.2h0M116.6 126.1h0M117.5 126.9h0M81.7 98.1h0M167.1 88.5h0M167.1 90.8h0M164.7 52.1h0M140.9 106.4h0M78.5 55.2h0M79.7 55.9h0M224.8 -0.6h0M226.0 -0.1h0M155.5 88.9h0M183.2 72.0h0M201.8 102.7h0M194.0 123.1h0M194.3 124.0h0M227.1 9.8h0M226.9 11.4h0M156.7 2.5h0M200.8 54.6h0M201.0 136.0h0M158.9 15.1h0M198.1 73.5h0M198.7 73.7h0M68.5 25.4h0M69.1 26.0h0M150.6 81.9h0M197.7 141.5h0M194.1 117.9h0M121.0 107.8h0M123.5 54.0h0M126.1 55.9h0M218.6 65.4h0M220.6 66.8h0M105.2 83.2h0M145.0 81.8h0M146.2 82.6h0M253.4 112.3h0M204.8 74.4h0M159.0 104.7h0M158.4 105.7h0M246.8 0.1h0M247.9 -0.3h0M249.7 -0.1h0M151.9 43.8h0M104.9 47.1h0M75.8 63.8h0M87.3 24.7h0M133.3 143.5h0M134.8 144.3h0M213.8 144.9h0M134.9 134.1h0M168.8 8.1h0M137.6 62.4h0M222.0 56.9h0M209.9 131.4h0M251.2 21.7h0M139.3 97.8h0M139.7 99.5h0M251.6 85.6h0M252.0 89.2h0M168.1 23.5h0M169.4 24.4h0M208.4 10.5h0M129.1 95.5h0M101.2 -0.9h0M215.8 117.3h0M122.6 105.0h0M122.2 105.0h0M159.4 140.9h0M172.7 122.0h0M206.5 105.7h0M206.6 106.3h0M176.0 91.4h0M97.4 133.7h0M145.9 45.1h0M146.2 45.8h0M130.5 97.3h0M136.6 83.3h0M217.2 18.2h0M98.4 43.5h0M140.9 72.9h0M141.3 74.5h0M142.0 75.3h0M131.7 43.8h0M132.3 44.9h0M162.9 134.9h0M131.9 125.0h0M117.4 1.0h0M124.3 19.5h0M115.5 55.3h0M198.0 78.8h0M123.3 89.6h0M154.4 141.4h0M154.0 142.5h0M176.8 85.7h0M83.5 116.9h0M162.2 92.9h0M103.0 112.9h0M207.0 123.9h0M139.3 79.1h0M209.6 56.5h0M193.0 7.0h0M193.6 9.9h0M118.7 39.6h0M201.9 109.9h0M189.5 99.1h0M189.5 100.2h0M124.0 83.7h0M125.1 84.7h0M126.1 85.2h0M201.7 61.2h0M106.9 69.3h0M175.8 86.3h0M184.4 22.7h0M128.3 111.4h0M203.6 19.2h0M132.8 115.7h0M102.3 88.8h0M130.4 141.9h0M181.5 84.3h0M214.1 60.8h0M213.5 18.7h0M230.7 12.1h0M230.7 13.7h0M230.7 13.7h0M66.5 103.7h0M138.0 63.6h0M164.5 127.5h0M200.4 140.1h0M199.3 140.6h0M128.7 58.9h0M122.2 100.5h0M210.5 51.4h0M169.5 125.9h0M126.0 45.1h0M125.9 45.2h0M127.5 46.0h0M106.3 114.8h0M92.8 123.6h0M93.0 125.3h0M174.5 120.2h0M223.4 92.7h0M135.7 14.2h0M135.8 15.1h0M137.2 15.3h0M201.4 12.3h0M245.4 112.2h0M188.2 57.2h0M127.9 118.7h0M129.1 120.0h0M205.9 74.8h0M171.8 41.5h0M66.7 89.2h0M69.0 90.4h0M166.9 7.0h0M196.6 94.5h0M225.6 79.8h0M153.4 136.5h0M154.3 137.0h0M174.8 74.7h0M238.0 86.3h0M80.1 58.0h0M205.9 78.0h0M149.2 1.5h0M149.3 1.9h0M248.6 33.1h0M82.2 1.0h0M134.8 98.7h0M104.5 116.1h0M104.4 115.9h0M187.7 105.5h0M89.5 86.7h0M234.2 114.5h0M234.3 115.5h0M107.7 130.0h0M210.6 122.1h0M117.0 64.9h0M191.6 25.1h0M141.4 39.6h0M167.9 76.1h0M167.4 76.9h0M202.6 29.4h0M202.2 30.0h0M249.9 68.7h0M180.3 70.3h0M182.8 136.0h0M154.7 87.9h0M151.0 113.6h0M151.9 114.1h0M153.2 115.2h0M168.8 140.5h0M169.2 143.1h0M184.5 139.8h0M186.9 142.8h0M152.1 122.4h0M70.1 123.1h0M237.9 16.2h0M140.1 31.2h0M83.4 74.4h0M165.1 106.8h0M159.7 136.4h0M122.2 77.8h0M122.0 78.9h0M123.4 79.1h0M121.8 7.5h0M122.8 9.9h0M215.4 120.1h0M215.7 120.4h0M196.5 89.7h0M226.9 39.0h0M227.8 126.6h0M78.8 71.0h0M79.0 73.5h0M97.4 52.5h0M121.6 122.1h0M117.1 70.5h0M141.0 139.3h0M141.2 140.7h0M140.9 142.9h0M192.7 116.9h0M193.0 117.7h0M193.3 119.9h0M124.3 71.3h0M188.7 61.2h0M166.9 6.6h0M122.8 9.3h0M123.1 9.0h0M123.6 10.4h0M131.9 88.1h0M130.9 89.1h0M85.2 102.7h0M197.7 119.4h0M175.0 47.1h0M177.6 48.6h0M251.6 39.8h0M247.3 67.6h0M247.8 69.0h0M147.8 9.2h0M117.5 96.9h0M155.4 100.8h0M155.3 101.9h0M211.2 82.3h0M210.7 82.5h0M92.5 85.3h0M198.0 99.8h0M77.4 24.4h0M79.4 26.2h0M79.5 26.6h0M158.7 135.5h0M87.8 69.9h0M203.5 126.6h0M172.7 74.6h0M193.6 88.3h0M157.5 32.3h0M156.9 34.3h0M166.9 92.1h0M167.1 93.0h0M167.5 94.2h0M190.8 73.2h0M192.7 74.1h0M106.6 116.4h0M107.8 116.5h0M99.9 49.6h0M149.7 51.2h0M143.6 9.0h0M176.8 4.7h0M206.6 31.5h0M178.3 88.9h0M98.1 130.5h0M79.8 114.1h0M200.1 47.7h0M229.6 0.7h0M79.3 64.8h0M70.2 77.1h0M120.9 78.2h0M121.5 78.7h0M120.5 47.9h0M153.9 50.3h0M153.9 51.3h0M124.3 -0.8h0M125.2 15.7h0M126.9 15.6h0M127.3 15.7h0M128.4 14.7h0M160.8 30.0h0M129.7 56.2h0M131.2 59.7h0M81.0 134.8h0M83.2 137.8h0M242.9 139.2h0M242.9 143.7h0M153.2 85.1h0M167.8 52.8h0M173.1 60.0h0M145.5 10.4h0M165.3 145.9h0M67.8 113.9h0M67.9 114.9h0M67.5 116.0h0M231.7 14.6h0M171.8 56.3h0M171.2 56.1h0M192.9 27.9h0M187.7 130.5h0M144.4 69.9h0M144.8 70.9h0M104.5 1.3h0M173.1 74.1h0M113.8 79.6h0M100.7 57.9h0M104.1 23.8h0M128.1 135.4h0M128.5 136.0h0M127.6 136.7h0M225.5 20.0h0M225.9 20.9h0M226.4 22.7h0M124.6 138.2h0M78.0 62.6h0M127.7 38.2h0M131.3 40.2h0M199.9 73.8h0M203.0 73.6h0M99.5 144.7h0M189.3 75.9h0M190.2 77.8h0M169.6 69.1h0M207.1 120.7h0M204.5 9.9h0M82.3 68.1h0M244.5 81.4h0M244.7 81.9h0M245.9 82.1h0M246.9 81.1h0M241.4 58.4h0M242.4 58.5h0M243.6 58.5h0M244.7 58.8h0M234.0 144.2h0M236.9 145.1h0M129.8 64.2h0M130.8 65.5h0M132.1 51.5h0M131.3 53.2h0M139.5 128.0h0M76.5 38.9h0M128.5 95.5h0M129.0 96.4h0M188.5 6.7h0M89.7 63.7h0M150.3 61.8h0M180.3 96.3h0M79.1 79.7h0M79.8 79.6h0M80.1 80.2h0M70.1 99.1h0M72.7 99.0h0M121.9 52.2h0M151.4 12.0h0M197.3 89.2h0M197.8 91.0h0M198.3 91.0h0M179.8 95.0h0M67.8 72.5h0M183.7 86.4h0M163.6 96.2h0M155.9 35.4h0M160.0 99.8h0M138.1 109.9h0M139.8 110.6h0M167.3 47.3h0M167.1 48.1h0M168.5 49.0h0M220.1 34.4h0M220.2 34.4h0M192.7 45.2h0M112.5 61.9h0M113.2 62.7h0M115.2 62.5h0M227.5 95.4h0M227.9 96.7h0M141.7 80.9h0M202.1 107.7h0M202.1 108.2h0M211.3 16.7h0M116.9 131.9h0M117.5 132.5h0M117.6 134.6h0M132.4 42.3h0M67.4 50.1h0M160.2 39.7h0M230.4 44.1h0M160.9 113.0h0M136.6 36.8h0M107.5 73.7h0M106.0 74.1h0M178.6 143.3h0M170.8 85.7h0M171.2 87.2h0M171.6 89.2h0M88.7 57.0h0M114.0 107.1h0M76.0 142.1h0M75.9 144.0h0M75.4 144.7h0M76.2 145.8h0M121.5 135.0h0M234.4 117.2h0M183.8 81.5h0M203.6 130.1h0M158.2 117.9h0M160.1 116.3h0M236.2 35.1h0M234.9 36.4h0M192.0 79.7h0M127.1 119.5h0M112.8 137.6h0M191.2 88.8h0M140.7 51.7h0M131.7 47.6h0M249.0 68.1h0M249.8 69.4h0M202.1 142.4h0M242.8 53.9h0M102.3 91.6h0M247.7 143.4h0M112.4 86.4h0M229.2 35.3h0M229.1 36.3h0M229.6 37.0h0M135.1 59.6h0M104.3 107.1h0M105.3 107.4h0M156.8 106.7h0M87.0 77.7h0M247.7 96.4h0M249.3 97.8h0M117.1 3.6h0M217.8 22.1h0M218.3 23.1h0M157.3 57.9h0M157.0 59.5h0M156.0 60.2h0M107.5 105.8h0M160.6 44.5h0M65.3 141.4h0M66.3 142.9h0M66.3 143.8h0M66.5 119.9h0M67.5 119.9h0M126.4 26.7h0M247.4 102.5h0M254.5 -0.9h0M99.4 33.7h0M114.3 121.5h0M68.2 91.2h0M67.3 91.7h0M160.2 27.4h0M143.5 118.1h0M92.9 53.6h0M90.6 85.2h0M237.9 98.5h0M218.7 124.1h0M219.4 124.9h0M200.3 44.8h0M200.7 46.0h0M215.3 139.2h0M215.5 140.5h0M106.3 40.1h0M121.5 49.9h0M205.6 1.1h0M233.4 48.7h0M147.0 39.9h0M148.1 40.3h0M221.8 12.9h0M223.3 13.8h0M101.0 79.1h0M149.8 122.4h0M121.4 141.6h0M181.6 7.4h0M186.9 57.4h0M187.7 57.0h0M215.2 51.6h0M150.7 28.5h0M79.6 80.7h0M180.6 40.5h0M182.0 42.0h0M243.3 81.5h0M226.7 36.0h0M227.8 37.3h0M228.4 37.2h0M187.5 116.4h0M168.5 76.2h0M250.7 66.2h0M250.5 67.0h0M187.3 33.0h0M188.7 33.7h0M188.5 34.0h0M128.0 22.8h0M192.8 102.9h0M162.8 92.2h0M96.7 52.4h0M96.2 53.8h0M80.2 47.2h0M112.1 60.8h0M112.5 60.9h0M107.1 89.0h0M108.0 89.8h0M78.2 36.0h0M216.4 65.1h0M188.0 103.2h0M188.8 102.9h0M66.1 29.1h0M140.2 20.4h0M239.3 93.3h0M230.0 41.6h0M161.2 95.1h0M162.4 94.3h0M163.8 95.1h0M81.8 123.8h0M78.8 120.8h0M242.5 43.6h0M243.4 44.2h0M81.0 47.0h0M146.0 147.4h0M135.2 50.6h0M205.0 125.3h0M235.5 79.2h0M78.2 34.3h0M183.6 129.2h0M208.5 90.2h0M209.0 90.8h0M211.7 91.8h0M185.9 142.1h0M188.4 142.4h0M228.6 59.3h0M119.4 111.3h0M183.7 138.4h0M184.3 140.2h0M213.3 84.3h0M78.4 21.8h0M177.6 28.6h0M132.2 109.5h0M148.8 103.8h0M212.4 50.8h0M212.2 52.3h0M212.0 52.2h0M247.1 42.5h0M247.6 43.3h0M158.3 90.4h0M127.9 107.1h0M150.3 133.3h0M123.1 76.0h0M123.9 76.2h0M243.4 69.1h0M243.9 70.3h0M163.1 22.2h0M192.5 36.0h0M152.4 5.5h0M200.2 46.1h0M121.4 73.2h0M174.0 73.8h0M248.1 0.0h0M248.7 -0.1h0M250.7 1.8h0M110.6 64.1h0M180.6 80.7h0M111.6 81.7h0M234.5 76.2h0M233.8 77.1h0M77.7 69.1h0M210.0 126.8h0M210.0 127.7h0M210.8 128.5h0M204.7 73.4h0M229.9 48.0h0M136.2 80.1h0M157.4 131.9h0M158.3 132.1h0M214.1 58.0h0M182.5 30.1h0M183.2 30.1h0M221.4 84.7h0M156.7 85.8h0M247.2 93.0h0M248.1 92.4h0M249.1 92.8h0M176.9 42.5h0M178.1 43.2h0M214.4 37.7h0M204.3 74.1h0M133.2 106.7h0M76.6 147.2h0M77.6 147.6h0M79.3 147.1h0M158.5 29.4h0M144.6 69.7h0M231.2 110.0h0M231.9 112.0h0M115.1 48.2h0M114.2 51.3h0M201.2 37.6h0M201.8 38.4h0M227.7 7.2h0M228.5 8.1h0M173.9 139.9h0M173.4 142.2h0M163.5 66.9h0M164.5 68.3h0M133.0 39.5h0M101.5 79.9h0M101.3 81.0h0M248.6 128.4h0M149.5 108.4h0M139.0 15.2h0M139.7 16.2h0M198.1 9.4h0M180.2 100.5h0M147.9 114.7h0M178.0 87.7h0M179.5 89.1h0M119.6 55.1h0M120.8 55.1h0M120.4 12.8h0M160.2 30.9h0M124.7 133.7h0M181.3 133.1h0M181.3 133.9h0M170.6 87.3h0M244.4 80.0h0M253.8 133.2h0M235.0 20.0h0M116.2 55.0h0M204.1 91.4h0M205.4 92.0h0M206.4 93.6h0M149.2 23.9h0M92.5 113.7h0M92.4 114.8h0M177.1 60.3h0M176.8 61.4h0M117.2 99.5h0M190.2 90.8h0M191.5 91.4h0M248.4 130.3h0M206.8 119.7h0M66.6 77.1h0M104.9 123.5h0M220.4 2.6h0M214.5 9.5h0M230.1 21.5h0M231.4 22.4h0M247.2 77.1h0M135.4 49.0h0M217.1 148.0h0M218.2 148.6h0M183.7 31.1h0M153.5 110.6h0M170.2 28.1h0M83.8 125.0h0M189.5 10.8h0M182.3 76.0h0M102.7 113.2h0M244.8 72.9h0M245.0 74.1h0M172.8 39.7h0M214.9 17.8h0M192.5 120.1h0M148.3 94.0h0M148.9 94.4h0M175.4 135.9h0M154.9 117.7h0M155.7 118.2h0M130.3 57.6h0M182.9 71.8h0M184.0 72.1h0M92.9 97.7h0M211.7 124.7h0M212.4 125.5h0M214.9 127.0h0M224.7 145.2h0M140.6 91.3h0M155.3 87.6h0M244.5 37.6h0M186.0 83.2h0M185.4 85.9h0M176.3 83.2h0M87.3 138.5h0M185.7 77.1h0M185.0 77.1h0M185.4 78.7h0M164.0 105.9h0M67.9 -0.9h0M68.3 -0.1h0M108.0 111.1h0M229.6 105.6h0M230.1 106.3h0M197.3 71.6h0M199.4 71.7h0M150.3 136.1h0M150.3 138.2h0M108.0 144.6h0M187.3 12.6h0M144.7 145.6h0M180.9 98.6h0M177.3 44.4h0M132.9 147.9h0M132.5 149.6h0M68.8 41.7h0M69.6 42.0h0M69.0 40.8h0M119.0 116.8h0M119.1 117.5h0M120.3 118.3h0M82.6 50.8h0M184.2 71.2h0M184.6 71.9h0M185.0 73.0h0M185.9 74.2h0M195.2 65.3h0M195.9 65.9h0M156.5 81.3h0M246.0 14.7h0M247.0 16.4h0M248.3 18.3h0M81.2 17.8h0M83.1 19.0h0M86.0 132.5h0M163.9 103.5h0M205.4 36.3h0M201.0 43.8h0M203.8 43.9h0M224.7 117.8h0M150.6 63.2h0M249.1 14.6h0M204.5 109.3h0M127.5 103.2h0M100.4 147.1h0M137.8 143.8h0M88.8 35.0h0M168.7 -1.2h0M198.4 131.1h0M233.3 117.2h0M236.1 117.2h0M237.3 118.1h0M230.3 -0.4h0M230.9 0.7h0M135.0 46.5h0M245.9 76.1h0M112.4 57.8h0M195.3 77.6h0M195.2 77.8h0M135.1 41.9h0M89.6 65.0h0M147.2 121.9h0M221.4 77.6h0M242.2 4.1h0M153.9 89.6h0M154.5 91.1h0M201.1 92.2h0M152.6 53.0h0M135.6 78.2h0M134.6 80.5h0M210.7 84.0h0M157.4 54.3h0M157.8 55.2h0M158.7 55.4h0M72.7 37.2h0M127.5 113.6h0M128.0 114.0h0M130.2 113.2h0M111.7 127.0h0M179.5 70.3h0M200.1 108.1h0M219.9 34.4h0M212.6 48.3h0M213.9 51.2h0M236.6 111.5h0M137.6 59.0h0M138.3 59.3h0M135.1 66.5h0M244.5 41.4h0M147.5 98.4h0M124.0 103.7h0M124.5 104.1h0M224.5 94.7h0M225.5 95.9h0M249.9 117.6h0M250.5 118.7h0M202.7 124.5h0M169.5 123.2h0M69.8 102.9h0M70.7 103.7h0M161.3 39.2h0M172.5 133.5h0M87.6 71.0h0M87.1 73.2h0M220.1 77.8h0M221.3 78.7h0M179.9 6.9h0M146.6 136.0h0M146.0 136.5h0M66.6 77.9h0M180.0 109.6h0M236.9 130.7h0M209.6 69.5h0M157.9 101.4h0M143.4 132.6h0M208.4 11.7h0M209.6 12.2h0M98.2 58.3h0M98.8 58.0h0M138.6 26.7h0M209.5 107.2h0M209.5 108.4h0M204.9 69.9h0M206.6 69.2h0M181.5 95.4h0M183.6 94.6h0M115.3 75.8h0M115.8 76.4h0M116.4 76.2h0M229.2 125.9h0M98.3 146.8h0M152.4 105.1h0M153.7 106.4h0M154.1 106.8h0M82.0 126.4h0M216.8 88.5h0M218.0 90.6h0M218.9 90.6h0M204.2 102.4h0M204.9 103.6h0M88.7 58.0h0M137.2 5.8h0M136.9 6.5h0M107.8 113.8h0M74.2 31.8h0M74.6 33.0h0M114.6 78.2h0M169.9 53.8h0M171.1 78.4h0M191.9 -0.5h0M196.7 38.6h0M182.8 70.6h0M142.1 81.7h0M143.2 82.0h0M199.2 137.7h0M200.0 140.2h0M145.6 120.0h0M144.6 122.5h0M242.9 77.9h0M244.1 78.7h0M180.2 23.4h0M66.9 133.2h0M203.5 60.3h0M252.5 2.5h0M162.6 33.9h0M163.7 35.3h0M164.4 35.5h0M164.8 36.5h0M149.7 3.2h0M120.4 41.1h0M183.2 4.8h0M146.5 15.5h0M146.0 17.1h0M76.9 72.4h0M78.5 75.2h0M96.7 22.3h0M99.4 22.2h0M248.0 27.1h0M249.5 27.0h0M74.8 106.4h0M164.6 84.3h0M107.1 146.0h0M107.2 146.2h0M111.6 41.5h0M178.6 38.7h0M122.5 146.9h0M232.2 56.0h0M228.0 97.9h0M141.7 116.1h0M141.0 118.4h0M200.6 72.8h0M217.3 33.3h0M145.7 56.2h0M216.5 110.4h0M215.7 12.3h0M118.3 112.9h0M128.4 143.4h0M129.9 145.4h0M130.4 145.7h0M100.0 44.8h0M253.1 140.8h0M226.3 16.5h0M226.3 17.3h0M213.2 86.0h0M244.7 144.3h0M141.7 49.4h0M140.7 52.0h0M162.2 19.2h0M163.2 19.2h0M146.5 59.0h0M149.0 60.7h0M104.0 86.1h0M105.7 88.0h0M134.0 23.0h0M248.8 84.6h0M115.3 109.5h0M153.2 6.2h0M231.1 13.3h0M144.2 44.0h0M200.1 66.1h0M200.0 67.5h0M200.3 69.0h0M199.8 69.1h0M104.6 99.8h0M69.7 4.8h0M69.9 6.3h0M70.9 7.9h0M214.5 6.9h0M215.5 6.9h0M202.7 77.6h0M203.5 79.2h0M241.4 33.5h0M186.1 71.7h0M230.8 53.2h0M231.4 54.2h0M76.5 72.9h0M136.1 102.4h0M149.0 72.8h0M214.3 20.0h0M147.6 63.4h0M116.8 32.4h0M118.5 32.7h0M118.9 33.3h0M178.5 65.7h0M180.1 68.8h0M225.4 132.1h0M240.7 54.6h0M84.1 67.2h0M109.7 58.3h0M200.4 121.3h0M187.0 39.5h0M173.1 51.3h0M172.7 52.9h0M223.5 14.7h0M137.1 139.7h0M252.4 53.0h0M254.0 144.5h0M253.1 144.5h0M177.1 148.4h0M178.5 149.2h0M186.4 7.9h0M228.8 23.9h0M118.0 22.0h0M117.1 23.8h0M89.7 83.9h0M154.8 17.0h0M157.4 18.2h0M142.8 135.9h0M206.7 74.5h0M99.2 78.3h0M166.6 60.9h0M106.9 98.6h0M214.4 113.9h0M244.1 82.0h0M245.0 82.7h0M175.1 55.5h0M214.4 17.8h0M126.0 11.9h0M126.9 12.1h0M127.7 13.4h0M156.3 57.4h0M172.9 15.1h0M172.9 15.2h0M230.3 7.7h0M211.2 17.7h0M190.4 103.5h0M80.3 146.6h0M79.9 148.3h0M112.9 124.4h0M112.6 125.5h0M206.4 57.8h0M84.3 138.1h0M84.7 137.1h0M87.4 138.3h0M132.6 141.6h0M133.7 142.7h0M213.3 78.2h0M102.9 141.5h0M191.1 57.8h0M97.9 101.1h0M97.6 102.1h0M99.8 86.3h0M187.2 93.5h0M223.6 49.1h0M196.0 33.1h0M198.5 33.6h0M236.6 31.6h0M237.6 33.3h0M205.9 93.5h0M202.8 48.7h0M250.1 102.4h0M252.1 103.1h0M218.4 5.6h0M106.6 23.0h0M222.3 125.2h0M221.3 126.3h0M115.7 88.9h0M115.1 90.4h0M127.8 10.5h0M127.7 11.2h0M222.9 6.6h0M83.8 67.8h0M174.4 25.0h0M175.2 25.1h0M107.4 129.5h0M108.5 130.1h0M109.6 131.9h0M220.1 35.0h0M132.5 37.2h0M134.5 38.1h0M186.0 59.8h0M250.7 13.1h0M118.4 41.1h0M152.7 129.1h0M142.0 144.8h0M126.1 -0.1h0M181.1 24.0h0M182.3 25.4h0M240.9 44.4h0M139.4 121.9h0M139.9 124.3h0M114.8 139.1h0M116.2 140.2h0M169.9 89.3h0M185.4 72.9h0M133.3 14.8h0M162.9 117.1h0M162.9 117.8h0M178.2 43.7h0M78.9 117.2h0M79.7 118.4h0M167.3 37.1h0M84.0 71.1h0M142.5 97.3h0M143.4 96.2h0M126.9 113.4h0M127.6 113.8h0M127.8 115.1h0M74.0 67.8h0M244.6 1.1h0M105.2 64.0h0M106.6 65.4h0M118.0 66.6h0M253.0 2.4h0M253.8 3.5h0M145.6 101.1h0M196.0 75.1h0M202.2 52.7h0M139.3 82.3h0M102.0 113.2h0M157.0 35.9h0M169.1 35.6h0M200.1 10.0h0M151.7 31.0h0M153.1 31.0h0M166.9 48.8h0M77.3 51.3h0M209.7 97.9h0M91.7 80.6h0M204.5 26.4h0M206.0 29.0h0M185.4 79.7h0M189.4 128.4h0M122.8 29.7h0M122.9 30.6h0M77.2 85.8h0M181.1 49.5h0M119.9 85.7h0M165.5 116.4h0M172.5 8.7h0M115.9 128.8h0M182.7 28.1h0M104.0 91.8h0M175.4 67.6h0M176.0 67.8h0M176.8 68.3h0M141.3 86.2h0M227.6 137.9h0M226.7 139.8h0M151.9 67.9h0M165.5 84.0h0M165.3 84.6h0M208.8 43.7h0M114.3 133.8h0M115.4 135.3h0M187.7 82.5h0M142.5 13.8h0M143.5 14.4h0M229.4 35.8h0M230.0 36.8h0M229.7 38.2h0M229.1 39.1h0M87.1 57.5h0M184.0 1.9h0M121.7 36.9h0M123.0 38.0h0M219.4 26.4h0M219.9 27.3h0M179.1 84.1h0M200.9 4.9h0M152.4 22.6h0M147.5 107.7h0M70.7 48.2h0M70.5 50.2h0M233.1 91.1h0M118.3 107.7h0M119.5 108.0h0M149.2 61.9h0M149.0 62.6h0M149.5 62.8h0M203.0 42.6h0M110.2 106.7h0M219.0 6.7h0M136.0 52.0h0M153.8 118.9h0M142.0 109.1h0M142.3 110.4h0M159.3 109.0h0M109.4 126.3h0M125.3 127.4h0M174.5 145.2h0M156.4 114.8h0M158.7 117.9h0M158.9 68.3h0M158.8 80.9h0M178.4 69.5h0M253.5 26.1h0M199.1 147.6h0M200.1 148.9h0M226.3 81.4h0M193.6 49.4h0M211.4 144.6h0M120.2 0.9h0M173.8 56.1h0M139.7 138.1h0M93.2 136.7h0M107.7 43.9h0M239.4 118.2h0M208.7 84.1h0M239.4 58.7h0M226.1 15.0h0M188.5 141.1h0M142.8 3.3h0M143.0 4.2h0M234.5 101.0h0M205.6 139.7h0M205.5 142.1h0M141.4 2.8h0M141.8 18.5h0M142.5 18.7h0M86.4 35.5h0M86.9 36.0h0M112.2 15.7h0M101.7 127.4h0M111.4 77.2h0M76.1 90.7h0M216.9 67.0h0M98.4 110.4h0M149.4 116.3h0M203.2 103.7h0M138.4 72.6h0M138.5 29.3h0M110.2 129.7h0M144.7 116.5h0M187.9 65.4h0M208.1 117.5h0M208.2 117.5h0M118.9 4.0h0M144.6 118.7h0M95.9 80.1h0M157.0 0.5h0M156.3 2.6h0M168.6 35.9h0M111.6 1.5h0M111.5 2.4h0M168.3 100.9h0M150.2 35.7h0M121.9 129.0h0M67.2 66.9h0M67.7 67.8h0M163.1 54.7h0M166.6 75.9h0M168.0 76.9h0M118.0 136.6h0M102.3 58.6h0M191.9 79.1h0M200.9 144.9h0M201.8 147.4h0M231.4 10.2h0M125.2 94.8h0M124.6 94.0h0M126.6 94.5h0M219.3 61.3h0M202.9 64.1h0M171.9 56.3h0M171.2 57.8h0M169.0 52.9h0M159.5 59.9h0M207.7 64.1h0M208.2 65.0h0M139.4 100.4h0M152.5 130.9h0M129.1 33.6h0M129.8 34.9h0M203.8 14.2h0M204.7 14.9h0M102.3 111.0h0M119.6 89.8h0M194.1 138.0h0M127.0 55.9h0M128.0 57.6h0M124.9 16.9h0M125.0 18.3h0M214.7 36.6h0M114.2 128.7h0M114.9 128.8h0M113.6 130.7h0M148.9 18.2h0M216.1 66.9h0M105.7 58.7h0M106.5 60.1h0M125.9 46.0h0M205.5 60.8h0M156.0 148.0h0M156.9 147.8h0M156.5 147.0h0M234.2 100.7h0M218.5 115.4h0M122.3 92.6h0M167.1 21.7h0M201.9 148.0h0M200.4 28.0h0M160.6 8.9h0M160.7 9.8h0M191.4 135.2h0M232.4 39.7h0M178.2 13.8h0M95.0 15.8h0M81.3 92.6h0M109.6 51.7h0M114.7 15.7h0M228.7 133.6h0M227.8 135.0h0M93.9 114.4h0M94.3 114.4h0M141.9 97.5h0M100.6 41.9h0M178.8 88.1h0M221.5 53.7h0M223.2 59.0h0M158.8 98.9h0M159.9 99.1h0M161.9 37.6h0M130.7 107.1h0M131.4 108.0h0M132.6 109.9h0M173.2 44.1h0M140.3 21.1h0M191.4 34.3h0M223.8 43.8h0M225.6 44.2h0M161.9 67.3h0M117.8 84.1h0M179.3 40.5h0M167.6 124.1h0M145.1 147.6h0M142.2 136.8h0M247.9 87.3h0M208.9 126.6h0M176.3 107.8h0M175.6 109.7h0M205.5 27.9h0M246.2 47.0h0M246.7 48.3h0M172.9 19.5h0M149.0 122.9h0M210.6 23.9h0M212.2 24.6h0M245.5 145.1h0M243.5 20.6h0M243.5 22.6h0M133.1 53.6h0M233.6 93.3h0M230.8 145.9h0M196.0 73.6h0M196.0 74.8h0M196.3 75.4h0M180.7 95.8h0M144.8 117.8h0M75.1 92.0h0M90.0 95.1h0M91.3 95.6h0M138.6 109.7h0M195.4 41.0h0M159.5 47.3h0M159.5 48.5h0M160.6 49.8h0M176.5 75.5h0M125.3 87.7h0M78.2 103.9h0M246.4 56.8h0M143.9 98.1h0M67.8 61.6h0M160.2 87.9h0M185.3 41.2h0M185.7 41.6h0M151.6 50.6h0M232.7 109.2h0M115.3 116.2h0M138.5 37.4h0M139.5 38.9h0M136.2 32.1h0M137.8 32.1h0M138.5 32.4h0M125.0 86.3h0M193.8 41.8h0M194.7 45.2h0M70.1 109.9h0M249.0 37.5h0M185.9 76.1h0M161.5 74.1h0M161.0 76.2h0M137.2 54.9h0M137.5 56.0h0M74.1 103.5h0M74.6 104.4h0M230.8 134.5h0M232.0 137.7h0M251.2 47.9h0M131.6 99.7h0M133.6 99.8h0M180.8 132.5h0M131.2 80.3h0M245.9 11.3h0M96.5 108.2h0M97.5 108.7h0M95.3 109.1h0M190.3 57.8h0M242.7 84.1h0M188.9 92.1h0M190.4 91.2h0M176.5 131.6h0M109.0 16.9h0M108.9 18.0h0M102.1 29.5h0M102.3 32.0h0M98.5 62.2h0M197.3 115.3h0M231.7 138.4h0M127.0 71.7h0M120.4 8.4h0M118.9 66.5h0M159.5 78.7h0M235.0 25.9h0M68.9 59.0h0M156.7 20.6h0M155.6 29.5h0M110.0 107.0h0M111.1 107.3h0M160.5 96.3h0M185.0 5.1h0M187.7 55.4h0M171.2 137.2h0M153.9 76.0h0M173.0 116.5h0M246.1 103.0h0M209.2 99.6h0M107.1 47.8h0M192.2 60.3h0M248.7 95.3h0M208.3 85.1h0M208.1 85.6h0M147.3 41.2h0M96.2 56.3h0M96.0 57.2h0M97.5 57.1h0M193.9 69.7h0M195.3 69.4h0M158.1 54.5h0M145.7 131.3h0M204.6 89.9h0M174.1 59.4h0M236.9 112.7h0M75.9 49.4h0M161.6 103.9h0M77.1 51.6h0M177.1 18.4h0M177.0 19.3h0M166.3 53.7h0M219.1 33.7h0M220.1 34.4h0M221.4 36.9h0M202.8 130.2h0M124.1 48.4h0M114.0 49.5h0M114.5 51.8h0M210.9 108.7h0M200.9 16.9h0M201.6 18.9h0M156.1 146.3h0M235.2 78.8h0M137.4 33.0h0M137.5 33.5h0M137.9 33.8h0M235.0 132.2h0M185.4 141.8h0M78.8 19.6h0M150.7 127.6h0M151.9 98.3h0M155.7 30.3h0M154.6 31.5h0M112.2 121.4h0M158.4 145.3h0M146.3 92.5h0M197.8 127.8h0M135.8 67.3h0M137.6 67.4h0M116.0 83.7h0M117.9 87.0h0M94.5 132.3h0M96.1 134.3h0M144.6 39.7h0M145.0 39.4h0M151.2 0.1h0M78.2 44.8h0M190.2 62.3h0M69.2 86.8h0M117.1 37.9h0M164.1 28.0h0M101.6 118.4h0M127.5 32.4h0M244.8 61.1h0M245.8 61.5h0M165.2 24.7h0M167.2 115.0h0M182.3 88.6h0M176.9 56.7h0M230.1 134.8h0M133.2 27.5h0M129.2 103.1h0M175.0 37.5h0M174.9 40.0h0M185.4 144.3h0M192.7 148.6h0M86.8 0.1h0M216.4 21.5h0M183.7 90.2h0M114.8 146.9h0M250.3 53.1h0M109.7 58.8h0M182.6 9.2h0M182.6 10.3h0M171.8 72.8h0M226.0 25.2h0M163.4 113.4h0M127.2 15.9h0M128.4 16.4h0M128.6 16.9h0M133.6 30.7h0M206.6 44.3h0M131.7 28.2h0M133.1 29.1h0M242.0 96.6h0M242.1 96.3h0M243.8 97.1h0M111.0 121.6h0M111.1 122.1h0M106.0 142.2h0M244.5 23.5h0M204.0 114.8h0M245.6 72.7h0M173.6 52.7h0M174.8 53.9h0M209.2 23.3h0M129.4 75.6h0M189.4 147.3h0M163.6 6.4h0M182.4 109.8h0M157.5 120.3h0M156.8 121.7h0M221.1 18.8h0M180.0 116.7h0M181.9 118.0h0M233.2 118.2h0M235.0 117.9h0M94.7 19.6h0M111.1 56.4h0M239.7 67.3h0M240.6 67.9h0M227.4 18.6h0M137.1 122.9h0M144.9 56.5h0M191.3 51.8h0M114.5 87.6h0M160.2 60.8h0M160.8 62.4h0M175.8 148.0h0M92.9 10.2h0M97.4 10.8h0M177.5 39.3h0M87.7 99.1h0M140.4 139.7h0M82.9 107.4h0M83.7 109.3h0M134.0 75.1h0M166.3 117.7h0M69.9 139.1h0M218.4 136.0h0M145.1 24.5h0M253.1 49.3h0M252.8 50.4h0M208.8 5.0h0M160.9 30.7h0M71.9 145.5h0M168.0 95.9h0M168.7 97.1h0M161.4 91.2h0M163.1 91.8h0M163.5 92.5h0M115.3 105.9h0M176.5 77.9h0M127.6 79.7h0M143.2 46.2h0M191.7 29.1h0M191.2 29.5h0M191.6 30.4h0M191.4 31.3h0M222.9 86.2h0M193.4 69.8h0M108.6 95.8h0M109.0 95.8h0M202.3 42.7h0M84.4 119.3h0M138.9 68.7h0M113.9 87.3h0M242.9 12.1h0M93.1 62.8h0M209.9 123.9h0M211.6 123.8h0M104.6 53.9h0M143.1 97.0h0M251.3 67.9h0M181.1 99.2h0M211.9 46.2h0M121.5 34.9h0M122.1 37.5h0M211.1 101.3h0M220.6 125.2h0M104.1 19.7h0M123.9 79.2h0M124.3 80.2h0M176.2 70.1h0M116.3 19.6h0M96.4 4.0h0M137.9 26.0h0M138.8 26.9h0M176.3 145.5h0M178.2 145.0h0M195.6 40.2h0M243.0 33.0h0M84.9 66.5h0M98.1 70.7h0M104.6 15.0h0M182.5 12.8h0M184.0 14.7h0M90.5 119.9h0M194.0 127.8h0M150.5 58.5h0M152.0 60.5h0M144.6 140.7h0M145.8 141.0h0M167.8 128.8h0M168.9 129.5h0M169.7 129.1h0M135.9 56.9h0M137.7 56.7h0M95.9 122.0h0M189.4 58.9h0M189.2 59.2h0M98.0 78.7h0M98.1 78.7h0M79.7 89.2h0M80.4 89.7h0M224.4 80.4h0M67.8 100.7h0M68.4 102.3h0M70.2 103.2h0M112.6 48.8h0M143.4 9.6h0M144.5 12.3h0M69.8 68.1h0M70.8 69.0h0M71.6 71.0h0M181.7 36.7h0M131.1 44.7h0M130.9 44.8h0M105.2 51.9h0M106.4 52.0h0M222.1 55.1h0M206.9 132.0h0M206.4 133.2h0M206.3 134.6h0M153.0 83.3h0M231.3 25.2h0M199.9 144.9h0M200.2 146.1h0M191.5 130.7h0M192.9 130.9h0M71.0 82.8h0M69.7 85.2h0M115.3 69.9h0M132.3 82.1h0M132.6 83.1h0M84.5 71.7h0M230.4 20.0h0M113.6 41.1h0M130.7 13.6h0M188.4 118.8h0M244.4 66.8h0M245.6 68.0h0M190.9 114.6h0M187.5 88.8h0M112.2 28.4h0M182.4 18.6h0M96.1 75.1h0M100.4 73.7h0M141.4 92.7h0M142.5 93.6h0M239.3 136.2h0M197.5 108.9h0M92.7 93.6h0M249.6 54.5h0M250.6 56.2h0M91.9 7.0h0M230.6 147.8h0M231.1 147.9h0M231.1 148.1h0M214.8 91.7h0M215.2 93.6h0M132.0 47.5h0M133.0 49.3h0M189.6 8.8h0M190.0 8.7h0M127.4 115.7h0M75.0 81.6h0M165.8 74.3h0M167.2 75.9h0M219.6 42.3h0M219.8 42.8h0M165.0 112.3h0M219.1 17.3h0M233.4 147.0h0M224.8 90.9h0M175.0 38.4h0M176.8 37.9h0M178.3 37.9h0M178.5 41.8h0M178.1 43.1h0M225.5 69.4h0M123.1 51.6h0M128.9 35.2h0M130.4 36.2h0M132.7 44.0h0M226.8 81.2h0M181.4 139.5h0M200.5 124.0h0M200.7 124.8h0M190.9 34.9h0M130.1 134.2h0M248.9 102.0h0M76.3 93.0h0M233.8 74.7h0M242.3 83.8h0M69.0 68.2h0M155.3 97.7h0M219.3 108.0h0M218.3 108.9h0M218.5 120.8h0M204.1 88.3h0M176.5 131.1h0M226.8 12.9h0M125.4 91.1h0M135.0 23.8h0M135.7 25.0h0M154.0 60.3h0M182.8 1.6h0M183.0 2.4h0M245.9 9.7h0M84.3 124.8h0M105.1 133.7h0M130.0 132.5h0M111.0 105.9h0M91.8 118.1h0M180.7 103.5h0M180.2 104.7h0M199.5 121.3h0M94.6 48.5h0M114.4 89.4h0M114.4 90.8h0M114.1 92.5h0M72.5 75.5h0M73.1 76.8h0M90.8 76.1h0M90.9 77.7h0M222.0 141.7h0M110.6 91.9h0M111.1 92.5h0M104.5 59.5h0M105.8 61.0h0M201.2 73.4h0M186.4 96.4h0M180.6 116.3h0M182.2 116.3h0M96.1 68.5h0M154.8 28.0h0M121.9 39.1h0M122.6 41.4h0M80.5 117.8h0M104.2 88.5h0M208.3 75.3h0M154.8 20.3h0M94.1 72.4h0M217.7 82.7h0M171.0 96.7h0M172.9 96.6h0M105.5 37.0h0M96.3 68.0h0M97.4 68.9h0M98.1 70.5h0M245.6 39.3h0M171.7 100.7h0M108.2 52.0h0M171.7 84.5h0M172.8 85.3h0M193.0 42.5h0M193.3 43.7h0M194.1 44.7h0M65.2 111.0h0M156.8 51.8h0M156.3 52.3h0M157.6 53.1h0M157.2 53.8h0M164.6 57.2h0M167.6 148.8h0M190.8 69.1h0M190.7 71.2h0M178.6 68.7h0M234.6 55.0h0M198.2 82.7h0M197.9 83.4h0M170.5 82.0h0M218.8 97.8h0M232.1 63.0h0M131.9 95.9h0M132.4 97.2h0M85.7 98.0h0M181.6 52.8h0M81.6 84.7h0M139.5 73.4h0M138.6 73.7h0M185.1 64.4h0M117.3 69.1h0M162.3 61.2h0M127.1 65.7h0M166.0 62.5h0M166.1 63.9h0M167.3 65.2h0M209.8 5.4h0M155.5 68.2h0M217.4 49.8h0M168.2 8.4h0M241.1 75.0h0M243.0 76.0h0M246.5 123.7h0M74.4 35.0h0M73.1 36.4h0M110.4 1.3h0M210.3 138.9h0M210.4 139.6h0M86.7 4.6h0M175.2 35.4h0M200.2 21.9h0M200.3 22.4h0M220.7 88.5h0M116.3 7.7h0M172.3 49.2h0M154.9 106.2h0M154.4 107.9h0M230.9 134.0h0M231.0 135.5h0M156.8 17.2h0M159.3 17.6h0M226.8 79.5h0M118.0 72.9h0M118.7 73.7h0M188.4 113.1h0M167.3 72.1h0M225.7 98.9h0M108.7 147.8h0M155.8 29.5h0M208.1 148.8h0M120.8 137.2h0M171.5 75.6h0M174.8 76.6h0M175.8 76.2h0M142.9 54.5h0M194.0 28.9h0M195.6 29.5h0M196.0 30.0h0M241.5 48.7h0M125.3 15.6h0M108.4 38.3h0M240.1 4.8h0M173.6 27.3h0M133.0 108.6h0M80.0 109.4h0M149.0 118.7h0M212.9 114.4h0M214.0 115.5h0M77.0 87.8h0M171.2 77.8h0M85.0 5.0h0M235.3 75.1h0M164.0 62.9h0M164.9 63.5h0M118.6 69.0h0M233.3 19.7h0M126.6 33.8h0M214.0 98.4h0M214.6 99.0h0M185.7 65.9h0M113.0 0.4h0M112.3 0.6h0M135.9 118.3h0M169.9 56.0h0M172.1 58.0h0M104.7 26.7h0M179.9 102.0h0M180.5 101.8h0M78.4 33.9h0M231.2 57.0h0M138.9 117.5h0M127.8 40.2h0M150.1 117.2h0M73.0 106.6h0M144.4 16.2h0M237.7 73.9h0M99.0 27.6h0M190.9 50.8h0M112.1 135.3h0M112.2 135.8h0M250.3 51.5h0M122.5 117.3h0M135.3 17.8h0M135.7 18.9h0M221.8 130.2h0M70.0 48.5h0M165.5 36.9h0M166.4 37.1h0M167.1 37.8h0M252.4 37.0h0M252.0 37.6h0M251.5 39.3h0M96.1 59.5h0M168.8 147.0h0M118.9 128.0h0M159.2 141.7h0M160.7 142.5h0M161.8 143.3h0M170.9 127.3h0M170.7 128.1h0M141.8 26.8h0M91.8 49.6h0M142.0 71.0h0M141.9 73.5h0M87.3 12.7h0M251.7 128.8h0M237.3 105.6h0M224.7 44.0h0M226.5 45.2h0M138.3 117.9h0M137.8 119.2h0M137.2 120.9h0M249.1 138.1h0M84.3 57.5h0M84.7 59.6h0M132.0 86.2h0M190.5 51.2h0M120.5 81.8h0M121.7 82.6h0M162.1 128.7h0M145.6 104.3h0M146.9 105.0h0M205.9 72.0h0M117.6 3.0h0M236.3 98.8h0M222.5 72.2h0M206.1 142.2h0M115.9 18.1h0M132.3 88.5h0M133.0 89.4h0M152.4 140.0h0M152.6 140.7h0M180.9 52.8h0M99.0 125.5h0M183.5 129.6h0M95.8 64.9h0M139.1 53.4h0M154.6 21.1h0M231.4 6.0h0M121.9 53.3h0M186.3 133.1h0M149.9 50.9h0M149.8 51.5h0M227.1 116.7h0M245.2 118.6h0M109.5 53.2h0M110.5 55.1h0M235.4 10.8h0M158.9 124.3h0M244.6 19.0h0M202.2 51.4h0M223.0 106.8h0M179.8 11.5h0M211.7 127.4h0M97.9 1.7h0M116.2 129.1h0M81.2 98.2h0M83.3 99.5h0M113.0 65.8h0M246.1 142.1h0M175.9 63.5h0M176.2 63.1h0M177.6 63.3h0M178.6 63.1h0M193.0 131.0h0M192.9 131.9h0M193.2 133.1h0M193.8 133.8h0M210.2 7.2h0M80.5 101.6h0M70.7 51.2h0M235.8 17.7h0M167.2 20.0h0M158.6 78.5h0M167.5 1.9h0M102.5 41.3h0M177.2 141.2h0M177.5 143.8h0M68.4 13.7h0M71.7 33.4h0M76.9 89.6h0M177.3 27.5h0M139.1 59.0h0M244.9 80.6h0M245.5 81.5h0M246.3 81.4h0M247.0 80.8h0M203.4 57.1h0M203.7 58.1h0M96.6 42.1h0M97.5 43.1h0M189.6 31.4h0M98.4 50.6h0M99.2 52.7h0M166.0 18.3h0M137.6 40.9h0M138.8 40.7h0M139.7 41.0h0M210.0 14.9h0M210.3 16.1h0M211.8 16.7h0M173.1 37.2h0M93.0 113.3h0M169.8 45.2h0M113.4 128.9h0M220.0 12.7h0M221.2 13.8h0M207.5 13.4h0M235.9 64.9h0M240.5 119.3h0M186.9 117.4h0M188.0 117.5h0M114.2 129.2h0M151.8 50.2h0M118.3 4.6h0M188.2 35.6h0M114.9 114.6h0M119.4 47.1h0M120.2 48.5h0M157.6 26.9h0M171.1 18.3h0M233.6 52.0h0M132.7 45.1h0M134.1 46.3h0M115.1 125.6h0M116.9 126.3h0M140.5 109.3h0M230.1 79.2h0M252.9 98.7h0M253.5 99.0h0M83.5 137.6h0M85.6 137.6h0M98.6 87.8h0M229.5 75.0h0M147.8 59.9h0M175.1 117.3h0M216.0 44.8h0M118.7 103.8h0M112.8 114.8h0M147.9 147.0h0M196.9 37.1h0M102.9 123.0h0M67.1 26.3h0M68.3 29.2h0M121.6 58.8h0M227.3 110.2h0M161.5 91.2h0M137.0 120.3h0M112.8 16.7h0M98.5 1.3h0M98.6 3.0h0M76.4 49.6h0M239.6 48.9h0M219.7 26.5h0M171.0 116.1h0M221.2 64.9h0M169.7 75.3h0M175.6 109.2h0M195.5 49.3h0M114.3 73.3h0M159.7 28.9h0M144.7 22.8h0M144.9 23.3h0M159.2 108.9h0M95.5 133.9h0M97.4 134.9h0M184.4 4.5h0M93.7 132.9h0M90.1 109.2h0M85.5 106.6h0M181.9 134.8h0M224.8 114.5h0M148.9 73.2h0M151.4 75.5h0M98.8 6.0h0M100.5 5.4h0M170.7 79.6h0M170.9 81.2h0M223.4 94.9h0M149.9 18.6h0M230.5 76.4h0M224.8 36.5h0M109.1 139.0h0M109.4 139.5h0M219.9 69.9h0M214.4 100.9h0M105.6 87.4h0M106.0 87.4h0M107.8 88.9h0M201.4 75.9h0M68.5 136.1h0M136.8 56.7h0M173.4 95.6h0M172.7 97.9h0M173.0 98.5h0M153.5 28.1h0M205.2 66.0h0M132.5 52.6h0M84.8 127.6h0M135.1 60.1h0M110.9 107.2h0M111.4 106.8h0M157.9 124.6h0M158.2 124.9h0M160.1 125.7h0M82.6 143.7h0M92.1 57.2h0M223.0 87.4h0M87.0 142.0h0M111.9 139.6h0M210.8 45.5h0M150.7 37.5h0M151.6 38.0h0M153.7 37.1h0M175.9 116.1h0M117.0 122.5h0M228.2 57.3h0M146.3 49.3h0M134.9 103.8h0M120.7 72.2h0M118.3 74.4h0M92.4 79.8h0M159.3 13.5h0M141.2 91.6h0M141.3 92.9h0M141.1 93.9h0M171.1 42.1h0M171.2 43.0h0M123.0 48.5h0M231.7 69.9h0M232.1 70.7h0M233.5 70.6h0M234.1 19.4h0M234.0 20.3h0M142.9 0.9h0M146.9 -0.9h0M147.8 1.3h0M99.2 62.7h0M173.0 2.4h0M140.5 137.5h0M90.1 11.6h0M89.1 13.3h0M232.7 136.8h0M174.7 36.6h0M174.9 37.8h0M162.0 88.9h0M162.1 88.3h0M227.7 98.7h0M205.8 115.6h0M126.2 68.8h0M126.8 68.6h0M141.8 81.6h0M142.7 83.1h0M214.4 132.6h0M237.6 70.2h0M237.6 71.4h0M136.6 17.7h0M159.5 95.4h0M211.9 118.5h0M81.7 45.3h0M160.4 4.7h0M242.6 74.6h0M244.8 73.8h0M245.9 74.3h0M168.6 45.4h0M169.0 46.3h0M251.5 14.4h0M253.0 14.1h0M148.7 130.8h0M172.1 93.9h0M134.7 92.7h0M96.8 128.2h0M97.5 129.1h0M129.3 73.5h0M129.3 73.7h0M126.3 125.9h0M91.9 -0.9h0M91.9 -0.5h0M93.1 1.6h0M161.7 127.7h0M162.8 128.9h0M196.4 84.3h0M172.8 67.9h0M114.7 122.2h0M144.2 106.5h0M82.8 24.4h0M213.0 22.3h0M214.5 22.9h0M229.3 83.3h0M225.2 60.5h0M233.1 139.9h0M232.5 140.5h0M144.4 69.5h0M184.0 29.0h0M187.8 16.4h0M101.1 72.8h0M102.8 73.7h0M80.4 129.3h0M173.3 97.1h0M237.6 57.3h0M222.6 41.9h0M222.3 42.6h0M72.3 78.3h0M213.7 129.5h0M214.7 129.4h0M216.0 129.3h0M217.5 130.1h0M81.7 112.2h0M244.2 26.6h0M244.7 27.8h0M135.8 106.3h0M136.0 107.7h0M103.7 30.3h0M197.2 58.3h0M204.3 88.6h0M187.0 120.1h0M251.8 35.2h0M251.9 38.6h0M154.9 11.5h0M102.3 115.9h0M117.7 123.4h0M117.2 124.9h0M156.5 15.0h0M186.1 118.3h0M104.3 41.3h0M132.9 136.8h0M133.2 137.8h0M207.6 10.2h0M96.2 87.8h0M100.3 149.6h0M131.5 4.5h0M130.5 5.3h0M92.9 129.6h0M94.2 129.8h0M198.1 149.3h0M132.1 31.4h0M67.1 123.9h0M138.5 108.4h0M195.8 96.8h0M195.4 96.8h0M226.8 3.1h0M123.1 70.9h0M124.9 72.4h0M98.1 144.4h0M135.6 12.9h0M93.9 87.4h0M152.7 107.6h0M81.0 28.5h0M90.8 37.8h0M147.4 72.5h0M161.0 9.7h0M160.6 12.6h0M132.5 52.5h0M210.6 66.2h0M210.8 66.7h0M121.3 85.8h0M121.7 86.8h0M187.1 21.1h0M221.5 98.4h0M160.9 147.3h0M120.6 109.5h0M146.7 60.6h0M147.2 61.8h0M159.7 122.3h0M216.4 8.7h0M249.1 15.2h0M189.9 49.5h0M119.7 131.5h0M136.6 100.4h0M175.5 38.2h0M140.8 68.8h0M183.8 1.6h0M86.6 145.0h0M104.2 57.6h0M122.6 92.8h0M122.9 94.3h0M115.3 41.4h0M92.5 128.1h0M199.7 17.8h0M231.3 20.0h0M231.2 20.4h0M232.4 22.4h0M129.8 54.9h0M177.5 128.9h0M148.3 81.3h0M193.0 30.2h0M193.8 30.2h0M159.7 130.0h0M195.8 89.5h0M239.6 81.3h0M166.3 96.9h0M165.9 97.2h0M148.9 107.9h0M196.4 96.1h0M196.5 96.6h0M199.2 143.2h0M232.8 12.5h0M243.5 41.1h0M87.9 93.9h0M88.5 93.4h0M176.8 11.3h0M222.8 112.8h0M158.8 121.4h0M231.9 122.0h0M232.1 122.5h0M177.4 87.7h0M107.0 68.0h0M224.5 101.7h0M224.9 100.9h0M226.2 101.6h0M227.4 101.5h0M97.7 54.6h0M131.2 119.9h0M132.0 121.0h0M112.2 137.7h0M90.4 134.6h0M91.5 134.5h0M92.1 134.8h0M84.5 50.9h0M124.8 124.7h0M125.2 125.7h0M125.2 126.1h0M137.6 108.2h0M243.4 77.7h0M166.8 40.1h0M217.3 122.5h0M154.5 5.6h0M235.5 75.7h0M182.7 146.1h0M186.7 99.2h0M188.2 100.1h0M172.2 96.4h0M100.5 40.8h0M115.2 104.2h0M142.6 111.4h0M239.4 83.1h0M97.5 77.4h0M95.4 79.6h0M171.0 14.8h0M171.8 15.3h0M171.9 15.4h0M225.1 95.9h0M198.4 111.2h0M148.6 57.3h0M152.5 69.0h0M153.0 70.5h0M172.2 95.8h0M252.0 24.9h0M252.6 24.9h0M172.4 85.2h0M144.7 61.2h0M144.8 119.5h0M145.7 119.6h0M78.0 10.2h0M228.7 55.2h0M98.7 71.1h0M145.5 90.7h0M185.2 121.5h0M169.8 54.0h0M124.5 83.4h0M124.7 84.7h0M154.0 0.3h0M201.1 107.1h0M213.3 126.2h0M149.9 34.7h0M95.4 55.4h0M182.0 32.7h0M135.4 18.2h0M118.8 62.7h0M176.5 144.7h0M177.3 146.3h0M194.3 73.9h0M120.9 131.7h0M122.9 133.9h0M204.7 147.0h0M69.6 109.7h0M71.6 110.6h0M148.6 86.6h0M168.3 43.3h0M244.0 8.7h0M219.1 14.9h0M102.1 44.9h0M184.3 65.5h0M164.4 63.4h0M164.7 65.9h0M164.6 67.1h0M150.4 112.6h0M151.4 113.3h0M152.7 114.0h0M231.2 20.4h0M231.9 22.1h0M233.5 22.0h0M80.3 11.8h0M79.8 12.8h0M249.7 118.5h0M83.4 146.0h0M124.2 142.9h0M160.9 59.6h0M163.1 60.9h0M143.0 9.8h0M101.3 148.3h0M133.6 49.1h0M130.2 31.5h0M130.2 33.2h0M125.1 11.7h0M189.4 91.5h0M133.5 55.5h0M134.1 56.4h0M134.5 57.5h0M201.5 97.8h0M138.6 43.6h0M191.6 129.4h0M191.6 131.1h0M254.1 80.0h0M249.2 8.2h0M252.5 8.1h0M187.9 33.8h0M207.8 98.0h0M160.5 123.3h0M76.7 117.2h0M110.0 42.2h0M132.9 78.7h0M134.6 80.1h0M138.7 29.9h0M139.9 30.8h0M134.3 56.7h0M124.5 142.2h0M201.5 93.6h0M147.0 41.5h0M147.2 42.6h0M238.3 123.8h0M239.8 124.0h0M246.1 127.8h0M156.3 65.2h0M157.4 65.6h0M158.3 66.4h0M125.2 129.2h0M213.1 65.0h0M127.8 42.1h0M116.4 18.7h0M168.4 106.4h0M175.7 89.1h0M174.4 89.2h0M75.3 111.5h0M181.8 127.8h0M151.4 42.2h0M151.9 43.5h0M135.1 25.0h0M240.6 33.4h0M110.1 104.8h0M109.3 105.8h0M111.4 122.6h0M119.0 62.3h0M217.2 119.3h0M216.7 37.1h0M149.8 44.2h0M151.0 10.2h0M77.9 57.6h0M110.4 72.8h0M79.5 101.2h0M79.1 101.9h0M225.7 43.1h0M225.3 45.9h0M202.6 48.4h0M204.1 48.9h0M204.9 50.2h0M149.4 56.7h0M154.0 55.5h0M154.5 55.9h0M157.4 55.5h0M154.9 5.9h0M146.4 60.9h0M183.7 36.0h0M121.8 114.1h0M215.6 6.3h0M218.0 6.7h0M219.0 7.0h0M157.3 70.3h0M249.2 113.9h0M111.1 23.2h0M111.0 23.9h0M243.0 126.5h0M152.8 108.8h0M135.6 39.7h0M91.9 108.0h0M98.8 41.3h0M100.2 43.4h0M246.5 116.9h0M131.0 80.1h0M152.1 113.0h0M152.8 114.0h0M168.2 132.5h0M103.0 4.9h0M122.7 66.1h0M123.5 67.0h0M142.1 28.5h0M112.9 129.7h0M120.9 60.8h0M253.4 49.5h0M76.1 16.7h0M131.9 105.0h0M203.8 28.6h0M206.2 85.7h0M195.0 57.2h0M195.3 41.3h0M162.7 109.7h0M162.8 110.6h0M163.0 112.3h0M162.3 112.5h0M133.1 42.5h0M134.4 76.1h0M135.3 76.6h0M136.9 76.7h0M160.2 40.6h0M121.9 127.2h0M123.7 128.8h0M187.1 38.9h0M252.9 35.0h0M220.4 127.6h0M220.9 127.6h0M118.5 4.4h0M160.6 -0.8h0M235.6 9.5h0M206.5 14.4h0M231.4 117.1h0M232.3 117.0h0M232.6 117.4h0M72.6 96.2h0M87.7 116.5h0M92.4 144.9h0M204.7 82.0h0M127.0 64.4h0M139.2 140.7h0M143.3 87.1h0M144.8 87.6h0M216.0 63.5h0M88.3 133.7h0M87.9 135.1h0M195.9 35.9h0M197.1 35.7h0M151.3 54.4h0M227.7 134.6h0M138.8 16.1h0M75.6 47.2h0M137.5 101.2h0M235.0 146.4h0M235.5 146.9h0M236.3 148.1h0M237.0 149.5h0M160.4 78.9h0M187.9 4.3h0M150.8 88.9h0M87.1 106.2h0M156.6 75.1h0M116.1 53.3h0M75.5 37.7h0M203.7 36.4h0M203.6 40.0h0M85.7 145.7h0M217.7 95.0h0M143.6 88.1h0M126.6 73.8h0M126.7 74.4h0M207.4 62.5h0M219.4 107.8h0M134.9 76.6h0M133.1 32.4h0M134.8 32.6h0M134.8 32.5h0M201.1 8.6h0M201.8 12.2h0M85.8 74.4h0M87.7 70.5h0M87.6 73.0h0M104.3 86.9h0M189.1 135.6h0M118.1 131.6h0M180.0 112.3h0M121.3 88.3h0M239.4 8.1h0M239.0 8.9h0M94.1 85.7h0M225.2 114.8h0M226.1 116.2h0M226.1 116.7h0M170.4 3.4h0M201.0 36.0h0M250.8 3.8h0M195.2 124.7h0M206.1 28.4h0M117.2 69.2h0M99.7 146.6h0M101.3 147.3h0M210.8 34.2h0M137.7 17.9h0M216.0 23.7h0M164.0 67.5h0M202.4 19.8h0M201.5 79.0h0M201.7 78.9h0M80.0 68.7h0M150.9 89.9h0M106.6 17.0h0M107.8 18.3h0M124.8 86.5h0M71.6 76.7h0M179.4 60.6h0M181.5 38.6h0M244.6 98.1h0M229.6 116.0h0M229.9 107.2h0M125.0 81.2h0M130.7 53.7h0M199.6 54.7h0M179.2 111.6h0M109.4 10.2h0M176.2 85.6h0M176.8 87.9h0M154.6 85.7h0M156.4 86.9h0M134.1 63.2h0M174.2 49.1h0M127.4 48.7h0M153.9 18.4h0M243.5 6.4h0M225.8 50.8h0M125.0 46.3h0M118.3 24.7h0M120.6 24.5h0M193.1 145.0h0M251.3 98.3h0M253.1 98.1h0M92.8 37.6h0M190.9 148.9h0M196.1 126.8h0M124.8 20.4h0M169.8 33.4h0M170.5 34.5h0M173.7 85.9h0M174.1 87.4h0M85.4 35.7h0M211.0 30.5h0M211.6 31.9h0M213.6 42.8h0M83.4 119.0h0M83.5 119.5h0M211.1 91.0h0M210.7 93.0h0M135.0 37.2h0M136.6 38.0h0M209.6 144.8h0M210.3 145.6h0M211.8 73.3h0M107.9 9.9h0M107.4 138.9h0M208.8 89.1h0M209.3 91.1h0M195.2 45.7h0M196.2 46.3h0M196.8 47.5h0M179.8 46.8h0M162.5 124.8h0M161.8 126.0h0M110.6 87.5h0M87.3 133.8h0M251.9 116.3h0M115.3 43.5h0M116.0 43.7h0M153.0 10.1h0M229.0 141.1h0M191.0 59.3h0M154.2 129.9h0M149.6 64.2h0M185.7 16.6h0M191.3 61.5h0M217.3 39.0h0M112.3 88.4h0M220.9 31.9h0M222.0 33.7h0M166.3 45.7h0M187.2 54.2h0M253.6 92.4h0M253.7 93.7h0M146.6 30.6h0M146.8 31.0h0M148.8 31.9h0M111.9 119.3h0M187.4 77.9h0M124.0 144.1h0M248.3 20.6h0M104.5 42.8h0M204.0 3.5h0M204.2 5.3h0M170.1 6.2h0M116.4 34.9h0M249.3 63.7h0M173.0 4.5h0M133.3 72.8h0M232.8 111.8h0M191.0 100.3h0M107.7 147.6h0M100.1 61.7h0M211.7 96.7h0M211.0 99.0h0M143.8 36.0h0M145.2 37.3h0M202.2 20.5h0M203.3 20.9h0M204.3 21.3h0M158.2 77.1h0M76.1 82.7h0M226.8 112.0h0M220.6 99.8h0M132.1 65.2h0M250.4 101.1h0M177.3 28.2h0M186.7 76.5h0M185.9 79.2h0M207.4 100.6h0M252.7 6.2h0M211.5 24.5h0M211.8 24.6h0M217.4 72.4h0M218.2 74.8h0M120.0 64.6h0M100.6 14.8h0M102.0 16.7h0M118.3 32.0h0M119.9 33.5h0M104.6 124.9h0M147.6 36.7h0M148.9 37.0h0M149.6 36.5h0M157.4 24.3h0M235.5 31.8h0M114.9 102.0h0M115.1 103.1h0M160.6 88.8h0M174.3 88.2h0M172.3 9.9h0M134.5 26.3h0M196.0 58.4h0M198.0 116.7h0M198.4 117.2h0M138.5 115.0h0M140.5 115.6h0M175.2 75.8h0M176.9 76.3h0M176.8 76.7h0M121.2 65.0h0M233.3 100.1h0M234.4 100.0h0M116.2 82.0h0M118.1 82.8h0M157.9 114.6h0M153.7 30.5h0M156.1 30.4h0M77.1 75.6h0M77.7 77.0h0M150.6 45.8h0M153.0 46.5h0M163.3 56.4h0M71.1 101.5h0M86.8 57.4h0M87.3 57.8h0M82.2 63.1h0M103.4 141.2h0M148.2 8.9h0M229.1 6.9h0M230.7 7.5h0M108.6 89.8h0M147.2 147.8h0M151.0 67.2h0M130.4 36.6h0M229.1 70.3h0M149.7 129.9h0M155.1 44.2h0M155.1 44.5h0M134.6 132.5h0M135.0 133.8h0M191.1 74.4h0M101.2 102.9h0M90.7 95.6h0M118.9 120.9h0M105.0 140.2h0M70.2 101.9h0M121.4 120.0h0M67.8 113.5h0M140.2 69.9h0M87.6 50.7h0M98.6 102.3h0M165.1 95.5h0M166.5 95.2h0M150.3 2.0h0M150.9 3.0h0M75.4 36.3h0M200.8 15.2h0M200.9 16.9h0M202.4 17.8h0M223.4 9.8h0M222.4 10.9h0M148.1 132.3h0M148.6 133.0h0M213.9 121.5h0M214.9 122.8h0M170.7 42.9h0M199.7 99.0h0M115.7 5.5h0M116.3 7.4h0M194.1 52.8h0M193.6 53.5h0M134.7 121.2h0M117.9 138.6h0M146.8 5.9h0M148.4 6.1h0M220.8 7.4h0M221.4 8.3h0M82.1 107.3h0M80.8 109.8h0M223.8 0.2h0M224.7 1.2h0M153.3 93.3h0M154.0 93.9h0M243.5 10.8h0M244.4 12.7h0M166.3 116.2h0M166.3 117.1h0M166.9 118.4h0M102.3 126.3h0M157.6 17.8h0M158.6 17.9h0M186.3 1.8h0M99.8 68.1h0M249.9 140.1h0M127.3 100.2h0M216.5 137.5h0M217.5 138.3h0M143.2 91.6h0M144.1 92.6h0M213.7 59.4h0M214.8 61.0h0M151.1 112.2h0M162.9 19.6h0M165.9 21.6h0M201.6 74.7h0M201.5 75.4h0M252.8 12.1h0M205.7 12.5h0M161.6 1.3h0M176.3 28.2h0M178.3 28.7h0M180.2 28.8h0M96.4 112.1h0M218.2 70.7h0M138.8 31.4h0M194.8 9.6h0M113.1 21.2h0M139.7 88.4h0M185.8 99.4h0M155.7 145.8h0M119.0 3.9h0M121.0 5.1h0M168.4 17.6h0M110.4 87.9h0M213.9 111.8h0M253.7 8.2h0M239.3 141.0h0M237.9 142.3h0M238.2 142.6h0M238.5 144.6h0M109.6 47.7h0M130.5 2.6h0M133.8 98.2h0M134.5 99.9h0M121.7 102.4h0M121.6 103.4h0M177.8 131.8h0M89.6 86.7h0M91.4 89.1h0M199.5 65.6h0M190.8 32.4h0M121.7 44.8h0M209.2 25.1h0M138.1 33.1h0M198.1 79.7h0M70.7 86.7h0M140.8 84.8h0M128.6 19.3h0M153.1 64.1h0M131.6 92.7h0M66.3 128.2h0M210.7 62.3h0M210.3 64.1h0M73.8 58.8h0M73.5 59.7h0M200.0 37.8h0M156.3 115.1h0M143.3 19.7h0M155.3 1.8h0M158.2 1.8h0M174.4 131.6h0M175.5 132.6h0M205.3 -0.3h0M205.8 0.3h0M206.8 1.9h0M240.4 88.1h0M241.2 89.4h0M152.1 42.7h0M103.6 41.8h0M103.9 43.5h0M80.4 46.0h0M182.6 92.2h0M183.5 93.2h0M184.1 93.4h0M186.6 25.3h0M215.5 22.8h0M117.0 5.8h0M166.2 91.9h0M168.6 63.2h0M73.3 106.2h0M229.1 40.8h0M230.2 40.7h0M230.4 42.0h0M140.3 60.9h0M154.4 65.3h0M155.8 65.8h0M156.2 67.1h0M183.7 30.8h0M181.5 1.1h0M181.3 2.9h0M227.1 110.5h0M191.3 92.8h0M191.6 96.2h0M176.4 59.8h0M89.9 76.1h0M88.0 77.4h0M129.6 122.1h0M129.9 122.5h0M118.6 20.0h0M119.6 21.5h0M202.2 87.8h0M153.2 63.8h0M70.7 89.2h0M231.2 62.1h0M70.8 122.2h0M107.9 91.1h0M109.0 92.9h0M141.5 89.6h0M89.2 38.5h0M164.6 82.6h0M165.0 84.1h0M165.7 85.1h0M231.8 113.2h0M232.0 114.3h0M71.5 68.5h0M73.0 1.6h0M154.4 93.1h0M110.2 108.2h0M109.2 109.8h0M200.9 43.4h0M201.1 44.4h0M232.2 26.8h0M232.8 27.7h0M138.5 104.9h0M110.8 142.4h0M109.0 142.8h0M168.5 143.8h0M200.3 142.6h0M115.9 121.7h0M121.7 116.3h0M122.0 118.2h0M156.9 123.6h0M159.4 125.3h0M93.0 69.5h0M90.8 73.0h0M202.0 130.4h0M111.7 63.3h0M112.1 63.5h0M208.6 67.6h0M132.9 -0.5h0M133.6 0.3h0M74.2 103.8h0M75.2 104.6h0M130.6 -1.5h0M217.3 12.0h0M217.6 12.6h0M135.1 10.9h0M244.1 112.8h0M244.1 114.1h0M145.9 145.5h0M193.4 31.0h0M148.9 49.8h0M150.4 51.3h0M93.1 121.7h0M181.6 44.7h0M180.9 46.5h0M187.5 73.8h0M188.0 75.2h0M73.3 64.3h0M111.8 113.4h0M151.9 31.3h0M168.6 25.2h0M169.0 24.4h0M248.4 148.2h0M151.7 71.6h0M108.3 25.1h0M107.9 7.1h0M164.0 72.8h0M189.3 98.3h0M189.6 99.1h0M104.1 39.1h0M104.0 40.4h0M232.5 62.8h0M167.3 111.6h0M167.7 112.7h0M229.3 128.0h0M230.7 128.6h0M237.5 89.9h0M80.5 42.3h0M190.2 31.0h0M209.9 30.1h0M84.9 90.2h0M84.8 91.4h0M86.1 92.7h0M129.9 68.0h0M117.9 39.5h0M134.7 44.0h0M134.4 44.4h0M131.0 124.7h0M70.2 84.9h0M71.3 85.5h0M131.0 147.6h0M240.4 21.6h0M199.9 148.5h0M124.3 107.4h0M223.2 42.4h0M95.9 29.8h0M77.1 132.0h0M122.6 51.2h0M122.4 52.2h0M121.7 53.3h0M122.0 54.5h0M126.9 66.4h0M244.5 67.0h0M245.1 67.9h0M145.0 15.7h0M202.0 132.1h0M202.2 134.0h0M72.3 37.1h0M77.4 96.7h0M105.5 139.4h0M245.3 88.4h0M244.5 89.1h0M188.6 82.9h0M199.2 132.0h0M134.4 130.1h0M135.5 129.9h0M164.9 32.5h0M65.9 97.1h0M146.1 81.6h0M146.2 81.5h0M156.8 70.0h0M157.1 71.5h0M232.6 48.8h0M183.9 123.8h0M185.0 124.7h0M186.1 124.7h0M186.8 124.6h0M221.7 84.0h0M117.2 125.7h0M85.8 87.9h0M86.9 87.7h0M88.3 88.7h0M178.6 20.5h0M179.9 21.8h0M144.5 132.3h0M145.5 134.7h0M146.3 136.0h0M94.3 87.4h0M214.0 39.8h0M213.7 86.7h0M191.1 35.0h0M64.9 101.8h0M66.4 101.9h0M67.0 102.1h0M234.1 32.2h0M235.0 33.0h0M188.6 18.1h0M137.0 20.5h0M138.0 21.7h0M246.6 77.3h0M221.0 133.2h0M74.2 44.5h0M148.1 42.1h0M223.3 101.8h0M224.6 102.1h0M207.5 126.1h0M207.6 125.4h0M77.2 70.2h0M124.8 23.2h0M125.9 22.6h0M72.7 91.4h0M173.3 140.7h0M173.9 142.9h0M237.1 13.6h0M162.7 37.9h0M224.1 113.4h0M130.6 106.1h0M131.8 108.8h0M131.9 109.6h0M229.5 18.4h0M243.2 83.1h0M146.6 8.1h0M146.1 8.7h0M150.3 10.1h0M74.0 26.2h0M75.3 26.9h0M181.2 140.8h0M181.5 140.9h0M221.6 2.4h0M172.6 147.3h0M232.8 32.4h0M247.6 78.8h0M215.3 21.5h0M215.3 22.3h0M100.4 79.4h0M154.1 28.2h0M135.0 82.6h0M129.8 105.9h0M130.2 106.8h0M226.3 3.0h0M104.4 105.4h0M222.0 114.0h0M223.1 114.3h0M204.7 19.5h0M151.0 66.8h0M194.6 89.3h0M125.9 141.7h0M126.5 142.4h0M197.4 29.1h0M162.7 122.8h0M163.3 124.5h0M165.0 125.4h0M238.9 74.1h0M216.4 141.3h0M153.3 23.6h0M130.1 116.2h0M104.7 144.3h0M109.1 145.8h0M109.4 146.4h0M113.3 58.2h0M244.0 28.5h0M136.1 96.7h0M187.0 134.1h0M189.3 57.4h0M161.1 2.6h0M198.4 35.7h0M211.5 67.8h0M136.8 56.4h0M128.8 7.2h0M117.9 5.8h0M98.4 118.2h0M126.8 121.0h0M66.4 142.9h0M81.4 124.8h0M81.7 124.6h0M167.2 103.0h0M71.8 70.8h0M195.7 16.5h0M186.4 135.2h0M174.8 110.8h0M181.2 29.6h0M181.7 30.8h0M253.9 40.4h0M246.7 3.5h0M239.6 114.4h0M240.3 116.2h0M212.0 97.4h0M210.9 99.3h0M235.4 28.0h0M78.8 58.7h0M78.8 59.2h0M79.8 61.1h0M181.8 70.7h0M183.2 72.0h0M111.3 138.6h0M226.1 26.6h0M226.8 28.2h0M145.4 35.6h0M167.4 25.5h0M168.0 25.7h0M138.1 36.7h0M176.4 63.7h0M182.3 43.1h0M221.6 68.4h0M160.7 17.6h0M218.4 138.3h0M83.4 86.0h0M241.7 131.9h0M161.3 111.6h0M162.1 112.0h0M108.9 115.5h0M113.6 91.5h0M113.4 92.4h0M216.2 145.9h0M193.2 11.8h0M181.2 86.8h0M103.3 36.9h0M127.6 42.5h0M157.3 16.0h0M156.7 16.9h0M193.7 127.4h0M163.6 2.2h0M92.4 67.2h0M93.0 68.8h0M214.9 117.8h0M211.0 110.0h0M75.4 51.0h0M145.4 31.4h0M120.0 103.7h0M202.0 7.7h0M201.8 8.9h0M216.3 44.9h0M136.9 135.9h0M137.6 140.1h0M100.0 68.8h0M139.2 74.2h0M177.2 46.6h0M155.9 134.5h0M171.3 27.3h0M195.4 86.4h0M214.4 48.6h0M212.5 28.2h0M102.5 58.7h0M77.6 122.8h0M198.6 101.2h0M207.5 138.8h0M218.4 113.4h0M144.6 59.8h0M144.2 61.8h0M116.3 52.2h0M156.1 77.3h0M220.9 93.1h0M221.1 94.1h0M143.9 60.0h0M141.7 92.6h0M142.0 93.9h0M235.4 25.4h0M228.5 102.4h0M254.2 -0.3h0M254.5 -0.3h0M199.8 37.9h0M200.4 38.7h0M83.9 46.9h0M94.9 87.9h0M127.0 122.9h0M127.6 124.1h0M104.7 27.1h0M104.1 27.4h0M99.5 83.3h0M99.8 83.9h0M180.8 62.6h0M168.1 62.2h0M110.6 69.0h0M111.7 64.3h0M96.6 100.9h0M237.3 128.9h0M152.8 27.3h0M163.9 78.4h0M127.2 128.1h0M114.3 147.7h0M115.3 148.5h0M222.1 90.4h0M139.4 2.3h0M145.0 37.4h0M146.3 36.8h0M114.1 90.1h0M114.3 92.1h0M243.5 6.9h0M242.6 10.3h0M157.4 121.5h0M158.3 123.2h0M178.9 76.5h0M180.5 77.8h0M240.0 86.1h0M177.7 130.7h0M162.9 139.0h0M147.3 4.8h0M235.0 125.4h0M236.1 126.0h0M160.3 31.2h0M86.9 19.8h0M88.8 19.6h0M83.6 123.3h0M163.8 1.7h0M128.6 141.1h0M218.7 23.6h0M92.5 61.3h0M92.7 62.4h0M240.3 88.3h0M240.9 90.5h0M152.8 142.6h0M114.8 62.7h0M116.4 64.0h0M103.8 121.8h0M104.7 123.3h0M73.5 2.1h0M118.5 14.5h0M87.8 47.2h0M89.3 48.8h0M90.0 49.9h0M149.1 47.0h0M185.8 75.2h0M133.9 48.5h0M182.6 143.2h0M190.2 118.1h0M83.6 27.4h0M82.7 28.7h0M129.2 132.0h0M240.1 87.6h0M238.4 53.5h0M210.0 106.8h0M210.7 108.0h0M202.7 141.0h0M202.7 142.2h0M119.5 100.8h0M127.6 15.7h0M173.5 105.1h0M175.3 106.2h0M245.1 18.1h0M94.1 88.0h0M145.9 61.7h0M146.8 62.9h0M147.1 95.3h0M148.0 95.9h0M185.7 61.9h0M252.7 134.4h0M254.5 134.7h0M147.3 146.2h0M218.6 139.2h0M90.8 131.5h0M122.3 144.4h0M188.3 95.5h0M188.8 95.0h0M76.7 103.5h0M78.1 103.2h0M79.0 104.2h0M144.5 97.9h0M142.5 129.8h0M122.8 1.8h0M125.8 3.8h0M125.6 4.4h0M188.2 5.0h0M234.1 67.6h0M234.7 68.4h0M190.3 91.4h0M191.7 91.6h0M121.6 34.8h0M121.4 35.7h0M185.7 104.0h0M172.6 84.1h0M239.8 15.2h0M85.6 83.4h0M85.3 83.7h0M132.9 141.5h0M155.9 1.8h0M202.7 114.6h0M172.0 43.1h0M69.0 37.5h0M104.0 109.0h0M111.7 24.4h0M112.4 26.7h0M137.1 17.5h0M138.6 17.7h0M206.7 11.2h0M185.8 106.5h0M115.3 8.4h0M184.3 112.6h0M131.1 16.4h0M130.5 17.3h0M244.1 130.2h0M79.3 140.0h0M137.4 13.5h0M168.3 38.5h0M187.1 16.9h0M126.1 79.7h0M236.9 62.5h0M144.5 87.6h0M145.2 86.3h0M145.9 88.0h0M147.9 88.6h0M199.8 0.9h0M124.4 85.1h0M124.6 85.3h0M107.7 99.1h0M102.6 109.8h0M137.1 113.5h0M87.1 109.0h0M173.2 38.2h0M169.8 49.6h0M169.8 50.6h0M221.9 135.8h0M205.4 76.3h0M233.4 138.0h0M215.9 6.1h0M138.5 91.9h0M110.7 34.2h0M111.3 35.5h0M132.5 114.3h0M133.3 115.1h0M124.4 6.0h0M96.8 136.1h0M140.0 15.0h0M140.8 15.7h0M88.2 125.9h0M206.0 33.0h0M205.9 34.3h0M68.1 34.6h0M113.0 79.0h0M113.8 80.3h0M205.0 14.7h0M81.4 41.8h0M229.2 143.7h0M127.9 50.8h0M129.2 50.4h0M69.3 100.8h0M68.1 103.1h0M177.7 105.4h0M241.9 105.1h0M113.1 15.8h0M112.8 16.7h0M105.9 143.7h0M106.9 144.6h0M249.8 11.9h0M81.9 122.9h0M126.6 18.2h0M128.5 19.9h0M72.3 107.5h0M103.7 26.9h0M251.6 0.9h0M252.0 1.9h0"/>
<path stroke="#4c4c4c" stroke-width="1.3" d="M146.4 8.9h0M74.6 127.7h0M185.8 54.6h0M67.9 123.4h0M68.9 124.6h0M124.4 20.5h0M124.4 20.0h0M245.3 54.0h0M159.3 112.5h0M160.5 112.9h0M165.5 72.1h0M103.0 40.9h0M184.5 101.4h0M182.9 18.5h0M182.8 18.8h0M245.7 102.5h0M226.7 40.9h0M225.6 129.3h0M110.2 137.5h0M134.8 49.2h0M213.1 43.3h0M185.9 11.4h0M185.9 126.7h0M150.0 66.1h0M189.1 3.6h0M115.6 147.5h0M233.9 87.4h0M114.3 96.3h0M243.6 111.2h0M173.8 42.8h0M184.3 53.0h0M118.9 131.3h0M249.7 43.5h0M250.7 43.3h0M242.6 78.3h0M199.2 120.5h0M141.8 74.8h0M208.9 116.4h0M124.5 8.7h0M134.5 84.2h0M236.0 8.2h0M139.9 66.2h0M219.7 128.1h0M124.9 82.8h0M89.0 59.6h0M129.6 35.5h0M211.8 139.3h0M117.5 80.2h0M154.3 78.6h0M119.8 34.7h0M120.5 35.1h0M180.7 52.1h0M232.5 61.5h0M194.9 0.7h0M194.9 1.8h0M85.1 13.9h0M86.5 13.8h0M222.4 119.9h0M253.0 88.6h0M146.9 111.2h0M147.5 111.2h0M249.6 100.1h0M221.7 41.3h0M97.8 51.9h0M99.1 52.0h0M96.2 65.2h0M84.5 105.8h0M101.4 106.3h0M193.8 84.4h0M173.0 141.2h0M173.3 142.1h0M164.8 36.4h0M184.1 143.3h0M132.6 48.2h0M229.9 89.1h0M230.1 90.1h0M231.1 90.9h0M175.5 19.7h0M146.5 129.6h0M107.2 59.5h0M108.0 59.8h0M141.7 100.4h0M124.7 61.2h0M208.1 114.9h0M209.5 115.7h0M115.1 89.4h0M111.2 30.7h0M227.0 51.2h0M159.0 98.6h0M248.1 63.5h0M144.4 70.9h0M229.9 20.0h0M133.5 119.0h0M198.7 64.8h0M242.8 78.6h0M166.8 11.5h0M189.8 7.1h0M215.3 104.4h0M139.0 115.8h0M133.5 98.8h0M126.8 124.2h0M109.8 63.0h0M107.1 67.4h0M115.7 54.6h0M217.4 142.3h0M98.2 113.8h0M161.6 30.7h0M176.3 18.6h0M212.3 6.2h0M126.4 74.3h0M126.8 75.5h0M121.2 58.6h0M180.4 90.3h0M154.0 139.5h0M86.5 1.1h0M123.9 120.2h0M126.0 121.5h0M80.5 52.5h0M129.4 106.3h0M126.8 70.0h0M190.4 127.6h0M179.6 41.0h0M180.0 42.6h0M115.6 54.1h0M244.4 45.6h0M246.0 44.5h0M105.7 54.0h0M105.9 55.0h0M201.2 111.2h0M201.7 112.1h0M199.3 40.9h0M131.5 60.8h0M243.8 19.8h0M234.0 118.9h0M161.0 21.1h0M158.6 105.8h0M204.9 34.6h0M159.5 145.9h0M156.3 137.4h0M71.2 90.2h0M222.6 87.6h0M109.9 30.8h0M239.5 14.0h0M185.7 23.6h0M185.8 23.5h0M139.4 26.5h0M89.2 85.8h0M198.2 114.7h0M136.1 85.4h0M175.9 27.5h0M143.1 138.5h0M154.0 18.3h0M155.8 18.8h0M228.3 12.2h0M151.5 107.1h0M153.1 106.0h0M154.4 105.2h0M142.1 35.6h0M134.9 14.5h0M167.7 54.8h0M234.3 36.0h0M245.0 21.1h0M218.1 32.5h0M150.1 83.7h0M223.6 143.8h0M204.1 5.4h0M112.6 76.7h0M107.7 32.8h0M148.0 87.9h0M87.8 110.6h0M147.3 83.0h0M181.3 125.8h0M140.1 115.6h0M180.9 51.7h0M169.9 2.5h0M213.0 17.4h0M164.2 88.2h0M165.8 90.7h0M208.7 82.8h0M167.8 19.2h0M239.3 117.5h0M228.9 32.7h0M116.6 82.9h0M150.6 35.0h0M100.1 60.2h0M225.3 11.7h0M169.8 47.2h0M168.4 38.3h0M88.6 0.8h0M86.4 79.2h0M86.1 82.2h0M154.1 127.2h0M160.9 45.0h0M161.4 46.2h0M145.8 143.5h0M138.2 144.8h0M201.6 107.7h0M107.9 6.6h0M247.1 11.1h0M126.1 19.1h0M129.5 19.3h0M154.5 77.5h0M168.9 52.2h0M167.9 23.1h0M100.7 49.0h0M86.3 12.2h0M188.6 90.0h0M194.4 72.5h0M138.3 62.0h0M104.0 94.0h0M100.4 51.3h0M196.4 149.1h0M229.3 114.1h0M208.5 96.5h0M209.4 97.7h0M135.2 74.5h0M84.6 125.4h0M194.5 14.6h0M211.2 31.4h0M169.7 123.2h0M172.1 124.8h0M136.4 66.9h0M175.3 61.9h0M175.6 62.1h0M176.7 62.5h0M151.7 56.3h0M191.5 111.5h0M190.9 112.2h0M69.0 93.1h0M146.1 97.4h0M102.4 28.2h0M102.8 28.9h0M162.8 138.7h0M69.0 129.5h0M221.8 6.3h0M200.3 126.0h0M249.4 132.7h0M160.4 14.9h0M100.5 67.1h0M226.3 29.9h0M253.2 107.5h0M69.3 18.5h0M208.1 58.6h0M192.6 2.2h0M204.6 42.8h0M146.6 65.1h0M124.7 139.3h0M136.5 50.9h0M139.1 51.6h0M156.5 31.3h0M147.3 58.8h0M184.0 71.5h0M158.2 54.8h0M242.8 24.3h0M136.6 102.4h0M125.6 128.0h0M126.0 129.4h0M168.1 5.2h0M196.2 10.4h0M196.8 11.7h0M140.4 128.6h0M213.0 102.8h0M213.1 103.5h0M125.2 143.1h0M124.7 143.7h0M211.5 143.3h0M102.1 121.3h0M209.1 38.5h0M144.0 126.8h0M223.7 103.1h0M178.0 134.3h0M68.3 104.8h0M148.1 69.1h0M179.9 39.0h0M145.2 123.9h0M145.7 124.2h0M162.3 109.5h0M187.5 34.4h0M178.6 114.1h0M181.7 114.2h0M248.0 51.0h0M238.5 72.5h0M165.6 108.0h0M165.1 109.6h0M238.5 31.1h0M192.9 42.4h0M182.5 79.8h0M248.6 83.4h0M250.2 83.9h0M233.1 86.4h0M66.6 42.5h0M67.2 41.8h0M109.7 132.2h0M216.8 83.2h0M98.2 10.7h0M211.1 14.1h0M211.7 16.6h0M159.6 75.6h0M172.0 16.2h0M213.4 144.2h0M130.3 46.4h0M209.7 55.0h0M186.8 3.1h0M160.3 98.6h0M90.1 64.2h0M199.8 34.5h0M201.3 36.5h0M89.6 86.5h0M116.8 117.7h0M126.4 65.3h0M182.7 81.6h0M182.8 82.1h0M104.6 138.4h0M162.6 59.0h0M163.0 59.7h0M239.2 62.7h0M112.6 149.4h0M95.7 20.4h0M212.9 66.1h0M193.4 60.9h0M168.8 27.0h0M212.1 50.9h0M177.0 21.3h0M79.3 -0.1h0M198.4 118.3h0M100.7 97.4h0M101.7 97.9h0M91.4 102.0h0M218.2 30.3h0M152.1 30.4h0M91.5 108.3h0M196.4 15.1h0M195.8 15.9h0M196.4 16.9h0M138.3 88.8h0M142.7 0.5h0M243.8 33.4h0M165.9 45.8h0M165.8 47.6h0M113.0 130.3h0M250.1 69.6h0M185.3 103.6h0M185.7 104.3h0M164.3 0.6h0M156.0 65.4h0M156.5 66.6h0M232.6 109.0h0M90.9 103.7h0M121.6 7.0h0M159.3 74.5h0M145.6 93.6h0M146.2 95.1h0M202.3 25.0h0M200.6 52.0h0M157.9 40.2h0M229.1 71.5h0M231.0 73.1h0M148.5 97.9h0M149.5 98.8h0M150.9 99.4h0M146.1 15.1h0M252.6 77.6h0M194.7 49.1h0M193.5 48.9h0M177.3 104.9h0M193.1 104.6h0M208.4 52.7h0M158.0 14.0h0M195.4 34.1h0M158.3 105.8h0M204.1 141.7h0M88.9 27.7h0M210.0 50.0h0M148.6 89.2h0M206.4 0.1h0M207.7 -0.1h0M193.3 136.5h0M153.6 52.4h0M99.0 73.6h0M242.1 3.4h0M129.3 6.9h0M170.1 104.9h0M114.1 137.8h0M199.6 96.7h0M82.3 108.6h0M239.6 56.4h0M238.9 57.6h0M219.9 10.0h0M169.4 12.7h0M160.2 30.7h0M214.8 -1.4h0M214.7 -1.2h0M152.3 69.0h0M166.0 12.5h0M117.1 131.3h0M80.4 130.4h0M132.5 52.4h0M103.8 87.4h0M71.7 114.2h0M72.9 115.3h0M238.3 7.1h0M212.7 63.2h0M213.0 63.5h0M113.1 22.2h0M73.7 86.8h0M104.5 64.0h0M172.7 89.3h0M177.2 83.0h0M89.1 73.5h0M89.7 74.1h0M248.5 54.9h0M110.0 120.6h0M248.6 38.3h0M99.6 25.5h0M144.5 76.2h0M199.2 54.5h0M70.0 75.5h0M136.9 54.4h0M149.5 140.6h0M138.3 73.8h0M139.4 74.7h0M214.6 47.1h0M205.9 144.0h0M206.7 144.5h0M207.5 145.4h0M172.7 74.2h0M173.5 74.2h0M175.0 35.6h0M176.5 37.9h0M160.6 93.6h0M152.2 69.2h0M232.8 42.0h0M75.6 122.7h0M188.3 113.7h0M103.6 58.3h0M149.8 25.8h0M222.0 146.1h0M74.9 42.7h0M160.6 31.8h0M220.6 5.6h0M182.9 84.7h0M116.3 67.7h0M104.3 127.6h0M74.4 148.4h0M127.8 42.9h0M129.1 44.1h0M250.4 91.3h0M184.7 10.1h0M185.4 11.9h0M226.0 49.5h0M224.5 139.3h0M159.0 78.7h0M157.7 131.3h0M158.7 132.2h0M191.6 79.9h0M93.7 83.5h0M117.8 72.5h0M120.8 72.5h0M115.0 58.4h0M116.2 59.2h0M163.3 85.4h0M118.5 20.3h0M196.2 17.3h0M113.8 78.4h0M114.4 79.6h0M115.7 79.2h0M116.2 80.0h0M88.4 146.5h0M154.2 102.2h0M122.4 31.4h0M176.6 30.4h0M116.7 55.5h0M116.6 57.7h0M177.5 49.2h0M211.1 58.9h0M117.3 70.1h0M229.9 81.6h0M137.3 51.2h0M121.8 47.2h0M248.6 49.6h0M223.7 126.7h0M218.5 90.4h0M249.3 4.9h0M99.4 117.4h0M100.1 117.8h0M209.1 114.6h0M176.5 102.6h0M229.0 135.9h0M152.3 18.5h0M124.8 33.6h0M125.8 35.5h0M131.5 98.8h0M180.1 24.3h0M168.8 109.7h0M167.2 62.7h0M160.3 132.1h0M163.1 12.7h0M171.5 65.0h0M233.6 147.3h0M104.8 74.9h0M119.8 117.2h0M120.2 117.3h0M85.6 84.6h0M122.7 116.4h0M122.8 144.9h0M129.0 11.3h0M240.3 44.7h0M240.5 44.8h0M240.0 17.8h0M245.7 26.4h0M198.4 6.3h0M134.3 15.2h0M181.5 125.0h0M209.6 39.8h0M75.1 81.0h0M195.5 106.8h0M195.3 75.8h0M243.2 82.6h0M243.7 82.7h0M222.8 14.4h0M123.3 76.5h0M71.2 75.7h0M157.8 71.1h0M158.7 71.7h0M101.3 76.9h0M114.7 31.4h0M83.2 25.5h0M125.2 33.3h0M202.1 72.5h0M121.4 15.5h0M196.4 115.8h0M131.2 113.9h0M206.2 53.0h0M86.3 7.6h0M234.9 114.2h0M138.0 1.5h0M90.8 107.5h0M251.0 37.6h0M154.2 98.8h0M155.5 100.6h0M253.3 46.2h0M95.6 74.2h0M174.8 32.5h0M133.0 65.2h0M111.2 142.3h0M164.1 0.5h0M108.3 100.6h0M236.2 39.5h0M208.5 83.6h0M206.1 80.8h0M173.4 67.7h0M89.3 38.1h0M107.9 145.3h0M108.0 147.5h0M244.0 84.6h0M213.8 114.8h0M69.0 54.8h0M74.2 107.5h0M199.8 71.0h0M139.1 13.5h0M138.4 14.4h0M240.6 137.9h0M182.7 60.3h0M225.5 97.7h0M196.2 48.3h0M144.4 130.9h0M176.8 21.4h0M252.1 42.7h0M174.3 110.9h0M194.7 80.3h0M86.9 86.2h0M126.2 29.2h0M209.6 71.8h0M143.1 17.1h0M203.1 93.0h0M181.9 31.2h0M183.3 31.8h0M189.9 132.5h0M219.4 87.8h0M136.9 71.0h0M169.2 23.2h0M227.4 116.4h0M227.1 117.4h0M154.6 61.3h0M91.9 90.8h0M244.4 108.1h0M252.6 52.7h0M248.7 88.3h0M203.5 59.0h0M143.7 24.6h0M137.7 72.6h0M137.5 73.0h0M152.9 134.5h0M154.1 135.6h0M173.0 77.9h0M192.1 3.1h0M250.9 55.6h0M95.1 29.7h0M84.7 68.6h0M150.5 23.8h0M215.9 51.7h0M210.9 53.0h0M236.5 8.3h0M226.6 120.7h0M105.0 143.1h0M250.8 136.2h0M112.0 97.4h0M112.9 99.2h0M172.8 9.5h0M209.6 94.7h0M157.3 103.2h0M158.1 103.8h0M158.7 104.8h0M113.9 20.3h0M237.1 35.3h0M122.5 120.1h0M170.7 128.7h0M154.7 85.5h0M72.9 72.0h0M162.2 103.2h0M167.5 13.3h0M117.0 111.9h0M244.2 35.2h0M110.1 133.5h0M156.3 58.3h0M253.5 63.5h0M253.1 65.1h0M147.0 52.7h0M178.8 109.6h0M174.1 -0.5h0M176.4 2.1h0M209.8 18.3h0M130.7 29.9h0M132.0 31.1h0M238.2 45.4h0M102.2 43.7h0M185.8 69.5h0M189.9 129.8h0M236.7 93.5h0M238.8 96.5h0M83.4 42.6h0M181.2 2.9h0M160.0 23.1h0M251.8 144.3h0M98.2 14.2h0M96.4 14.7h0M185.1 98.3h0M213.5 93.2h0M147.5 57.3h0M161.8 60.7h0M79.5 134.0h0M143.0 35.9h0M247.4 24.0h0M232.6 40.5h0M250.0 78.5h0M190.6 99.9h0M167.3 84.2h0M223.0 103.9h0M67.2 78.6h0M109.5 100.9h0M110.9 102.6h0M192.6 86.7h0M142.7 11.2h0M143.3 12.1h0M118.5 103.1h0M225.4 148.9h0M135.7 74.3h0M71.1 117.6h0M135.5 55.7h0M188.4 134.4h0M248.1 112.2h0M74.4 129.8h0M251.1 91.4h0M246.1 3.4h0M183.8 130.0h0M176.3 44.3h0M176.5 45.8h0M175.3 100.7h0M246.9 81.3h0M225.1 93.8h0M247.3 7.2h0M94.8 2.9h0M96.8 4.2h0M156.0 100.8h0M189.4 18.6h0M173.6 69.0h0M174.3 68.0h0M175.6 68.1h0M202.2 30.2h0M230.6 96.6h0M248.4 10.0h0M251.0 11.2h0M110.6 81.9h0M105.9 143.0h0M104.8 144.5h0M72.3 5.1h0M73.1 5.5h0M223.8 116.5h0M115.5 112.9h0M117.0 113.1h0M210.9 -0.2h0M146.5 60.3h0M193.0 111.9h0M110.9 71.3h0M146.6 148.3h0M113.6 88.1h0M196.1 87.2h0M146.1 58.7h0M203.8 88.1h0M195.3 49.1h0M197.2 111.4h0M122.9 35.6h0M121.1 132.9h0M107.5 20.1h0M249.5 61.0h0M240.9 36.3h0M70.0 51.2h0M67.5 118.1h0M211.1 3.6h0M74.1 139.1h0M205.1 52.2h0M206.3 53.2h0M221.0 13.1h0M217.0 64.3h0M209.6 6.4h0M241.5 20.2h0M139.1 81.5h0M169.4 16.2h0M252.7 38.0h0M183.5 55.3h0M113.8 54.8h0M142.9 24.0h0M190.7 19.3h0M128.5 1.7h0M81.7 136.2h0M148.6 87.6h0M188.9 146.3h0M198.6 5.4h0M248.2 101.0h0M226.1 136.8h0M245.2 92.0h0M251.6 6.9h0M120.8 34.7h0M140.3 40.2h0M95.7 87.1h0M96.3 87.3h0M160.4 89.0h0M82.7 146.4h0M230.0 146.1h0M230.2 146.3h0M210.8 21.0h0M85.9 112.9h0M223.2 66.3h0M211.1 103.4h0M245.7 130.1h0M101.5 127.1h0M218.7 104.3h0M221.4 76.6h0M98.6 30.6h0M209.4 5.5h0M210.3 6.4h0M205.2 93.5h0M206.1 94.1h0M122.7 77.4h0M164.1 6.3h0M131.3 125.6h0M218.3 91.2h0M214.3 73.4h0M110.3 134.9h0M172.2 5.4h0M246.1 117.0h0M183.0 132.0h0M119.9 24.6h0M120.4 25.3h0M155.1 106.6h0M111.3 74.7h0M66.3 77.0h0M172.5 103.2h0M223.6 75.0h0M99.7 81.9h0M197.4 133.9h0M125.1 108.9h0M197.7 119.3h0M153.6 115.2h0M133.8 26.1h0M139.7 98.8h0M190.9 107.8h0M157.4 76.8h0M197.5 48.0h0M251.0 122.9h0M176.7 72.7h0M69.5 59.9h0M135.8 93.8h0M146.7 77.4h0M147.4 78.6h0M168.9 123.5h0M160.8 24.0h0M161.7 35.1h0M150.6 29.1h0M152.7 29.7h0M187.6 87.4h0M137.2 123.3h0M245.3 110.9h0M121.0 52.4h0M195.9 118.7h0M127.4 -1.6h0M247.5 107.1h0M131.3 56.8h0M119.1 28.0h0M138.0 103.1h0M89.4 75.0h0M228.8 28.8h0M100.3 142.7h0M107.4 123.0h0M70.6 71.0h0M122.8 47.1h0M85.0 76.8h0M106.4 140.9h0M169.1 101.4h0M194.6 84.6h0M177.9 14.1h0M196.7 12.3h0M202.4 62.4h0M84.5 58.2h0M131.5 132.5h0M132.4 133.3h0M218.0 51.6h0M219.7 51.8h0M181.4 142.1h0M181.8 142.8h0M181.9 143.5h0M120.6 70.9h0M213.6 53.2h0M157.0 111.5h0M203.2 8.8h0M232.3 67.4h0M197.0 5.8h0M166.7 101.6h0M252.6 112.3h0M180.4 26.2h0M153.0 37.7h0M119.5 68.7h0M111.6 92.8h0M169.0 148.6h0M102.7 54.1h0M90.5 81.9h0M106.4 65.4h0M77.0 86.7h0M170.5 144.8h0M232.9 98.1h0M189.5 1.9h0M190.1 2.3h0M191.4 3.8h0M157.7 17.1h0M238.3 26.5h0M119.6 111.0h0M122.8 38.4h0M149.7 94.3h0M151.6 95.7h0M66.6 103.6h0M113.0 137.9h0M164.5 37.1h0M79.5 89.2h0M81.4 88.1h0M195.2 87.0h0M116.2 80.1h0M143.6 72.3h0M66.9 70.3h0M69.0 69.2h0M84.5 126.9h0M162.9 4.6h0M164.2 5.1h0M135.4 118.1h0M135.2 118.9h0M208.5 96.7h0M155.2 48.4h0M100.0 4.0h0M103.0 46.1h0M85.0 82.5h0M85.4 84.2h0M238.6 128.7h0M104.2 132.4h0M140.0 10.1h0M116.3 55.6h0M231.8 101.1h0M233.6 101.4h0M99.8 114.0h0M227.0 107.7h0M115.7 111.5h0M180.8 120.6h0M96.8 79.5h0M98.1 79.6h0M199.9 27.8h0M112.3 126.0h0M112.9 127.6h0M195.6 49.4h0M90.3 30.6h0M172.4 68.7h0M221.7 17.8h0M93.6 65.1h0M121.1 33.7h0M247.8 3.3h0M207.0 101.1h0M208.7 101.2h0M209.2 99.0h0M247.3 83.8h0M246.9 85.6h0M72.8 81.8h0M226.5 75.4h0M247.5 67.9h0M69.2 107.1h0M86.7 108.8h0M108.7 65.2h0M221.6 42.2h0M228.0 62.5h0M251.2 27.5h0M250.7 29.4h0M251.3 30.2h0M99.5 47.9h0M99.5 49.2h0M107.9 98.7h0M120.9 58.8h0M237.8 48.2h0M221.2 11.5h0M126.2 52.3h0M136.0 4.7h0M172.9 45.8h0M230.6 113.8h0M140.7 39.8h0M168.8 77.9h0M135.5 122.8h0M135.4 125.1h0M221.9 38.5h0M152.9 61.7h0M115.4 86.6h0M203.4 102.6h0M113.7 91.2h0M235.6 12.3h0M243.1 110.5h0M209.8 52.9h0M144.7 104.5h0M122.5 62.0h0M122.8 62.3h0M110.2 147.6h0M211.9 49.9h0M229.4 87.4h0M161.1 85.7h0M195.9 49.4h0M81.5 106.1h0M161.0 31.4h0M163.9 26.7h0M178.3 74.5h0M146.0 58.7h0M114.2 31.8h0M182.1 1.9h0M195.7 119.7h0M196.7 120.6h0M217.8 61.0h0M214.3 131.2h0M180.9 11.3h0M164.0 145.8h0M162.4 146.7h0M161.7 146.8h0M207.5 84.1h0M133.0 49.3h0M206.5 57.6h0M177.2 99.1h0M125.9 26.6h0M179.0 19.9h0M180.5 21.2h0M190.6 21.9h0M191.2 22.6h0M74.6 113.1h0M118.7 145.4h0M180.3 45.5h0M180.9 46.3h0M188.3 133.8h0M189.9 132.8h0M148.6 68.8h0M168.7 81.1h0M133.5 20.1h0M123.3 77.8h0M182.6 33.2h0M227.3 47.0h0M105.7 111.0h0M164.8 146.3h0M161.4 23.9h0M233.7 63.0h0M80.2 37.0h0M99.4 34.3h0M97.1 46.4h0M98.2 49.2h0M130.1 128.7h0M193.6 37.4h0M133.6 139.0h0M90.6 123.7h0M169.6 81.6h0M172.3 65.1h0M114.0 59.8h0M204.3 131.0h0M204.6 132.0h0M237.3 109.7h0M170.4 132.7h0M243.4 50.7h0M142.9 59.4h0M143.5 59.6h0M167.3 117.8h0M145.0 41.1h0M141.1 5.0h0M228.6 53.9h0M163.2 124.1h0M236.5 145.5h0M221.4 9.4h0M196.8 107.6h0M162.4 29.5h0M175.2 42.6h0M115.8 62.9h0M156.8 105.9h0M242.1 125.7h0M241.6 36.2h0M215.4 6.6h0M215.5 7.0h0M234.6 111.1h0M94.8 130.2h0M195.5 113.4h0M147.4 54.7h0M126.0 4.8h0M165.7 12.7h0M129.5 87.0h0M89.2 102.9h0M252.7 63.8h0M185.6 44.2h0M108.3 56.8h0M119.0 76.1h0M180.5 71.8h0M156.4 0.6h0M200.2 54.7h0M201.8 136.1h0M156.7 14.6h0M196.5 73.5h0M138.0 99.1h0M151.3 81.7h0M244.3 96.6h0M243.8 97.9h0M140.8 59.2h0M141.6 59.6h0M196.0 118.1h0M124.7 54.8h0M105.2 82.6h0M248.8 136.2h0M253.7 99.8h0M99.2 57.9h0M248.3 57.1h0M253.3 36.0h0M254.3 36.7h0M74.7 61.7h0M76.3 64.5h0M132.9 143.0h0M135.3 145.0h0M168.8 8.8h0M135.7 59.7h0M67.7 96.3h0M240.5 47.1h0M208.1 131.6h0M137.8 95.5h0M138.4 97.1h0M252.1 87.5h0M159.6 142.1h0M170.3 120.1h0M170.9 120.6h0M97.6 133.7h0M147.6 46.2h0M137.8 82.9h0M137.9 83.4h0M139.0 83.1h0M208.7 31.6h0M98.1 42.3h0M118.3 -1.4h0M117.0 0.3h0M179.8 53.2h0M125.1 21.7h0M197.9 80.8h0M97.2 72.4h0M211.9 9.6h0M177.0 85.2h0M177.4 86.6h0M101.9 112.7h0M86.7 32.9h0M139.6 78.9h0M153.2 2.3h0M193.4 7.7h0M193.4 8.5h0M183.1 92.2h0M204.8 61.4h0M115.5 63.3h0M116.3 63.8h0M116.9 64.8h0M175.2 86.0h0M100.1 16.1h0M215.1 19.1h0M75.6 79.9h0M128.7 57.4h0M128.6 59.8h0M123.6 101.3h0M123.8 102.6h0M124.3 103.1h0M127.6 47.2h0M91.6 123.0h0M201.4 13.2h0M201.8 14.9h0M159.7 49.2h0M170.9 41.7h0M65.7 88.7h0M67.6 89.0h0M231.8 31.8h0M164.4 6.0h0M164.9 6.2h0M166.2 7.0h0M194.4 92.6h0M250.1 34.6h0M251.1 35.7h0M205.9 110.7h0M173.4 112.7h0M187.0 48.6h0M118.2 118.0h0M119.8 119.8h0M119.0 88.0h0M118.8 89.9h0M103.2 114.0h0M238.9 64.7h0M191.3 116.4h0M192.7 25.1h0M143.7 63.8h0M142.7 65.5h0M202.4 28.1h0M192.9 99.4h0M183.3 134.4h0M182.5 137.8h0M151.9 115.1h0M105.8 73.8h0M106.8 74.6h0M239.7 17.5h0M127.1 66.6h0M165.6 107.1h0M227.3 127.9h0M97.6 53.4h0M123.0 69.5h0M115.8 124.2h0M188.2 63.4h0M166.8 8.0h0M131.6 88.6h0M94.3 104.0h0M249.0 95.2h0M250.0 96.6h0M155.0 102.7h0M123.3 27.7h0M199.1 99.7h0M158.5 134.6h0M159.5 136.6h0M86.9 70.0h0M157.0 31.8h0M170.6 4.8h0M133.8 37.8h0M222.4 21.1h0M108.6 73.2h0M99.8 51.7h0M150.9 51.1h0M141.8 98.9h0M141.0 99.0h0M239.5 79.0h0M122.8 78.6h0M213.8 67.2h0M125.5 -0.1h0M160.5 28.9h0M250.9 103.8h0M251.8 105.1h0M105.8 36.6h0M106.9 37.5h0M243.1 141.8h0M170.0 54.3h0M170.1 54.5h0M216.0 74.0h0M106.8 39.9h0M175.2 128.4h0M227.8 74.3h0M144.5 137.2h0M146.1 137.8h0M92.8 109.6h0M145.8 71.1h0M195.3 128.5h0M104.2 0.7h0M173.2 73.3h0M112.3 79.8h0M156.9 90.1h0M103.0 22.4h0M124.6 138.4h0M124.9 139.6h0M124.6 141.2h0M201.6 72.4h0M198.0 90.8h0M100.6 143.9h0M189.4 75.0h0M156.7 17.4h0M208.6 121.4h0M106.8 95.5h0M138.2 64.4h0M162.9 68.5h0M162.3 69.5h0M234.9 144.5h0M189.0 7.4h0M117.6 88.6h0M81.8 80.1h0M180.8 95.4h0M161.3 96.0h0M156.1 34.4h0M167.6 45.8h0M147.6 49.5h0M148.7 50.4h0M149.5 51.2h0M113.9 62.0h0M104.4 28.5h0M176.8 92.3h0M117.3 134.9h0M119.0 93.6h0M109.9 122.1h0M126.5 109.7h0M105.5 74.1h0M177.3 145.7h0M178.4 141.3h0M232.7 115.3h0M233.4 116.5h0M235.0 117.9h0M140.8 32.6h0M165.4 84.7h0M192.2 78.3h0M143.5 91.9h0M135.3 65.1h0M242.5 52.9h0M243.8 55.3h0M237.8 9.4h0M101.3 93.4h0M111.7 85.7h0M181.2 56.3h0M86.7 76.5h0M68.4 83.8h0M69.6 84.5h0M249.6 96.3h0M183.6 83.1h0M106.4 104.4h0M107.9 106.5h0M159.1 42.6h0M160.0 42.8h0M227.8 116.2h0M252.3 -0.3h0M111.0 27.6h0M230.6 142.8h0M215.2 139.1h0M196.1 94.6h0M106.5 42.9h0M233.2 47.5h0M93.2 89.7h0M94.3 88.8h0M95.8 88.5h0M149.2 120.5h0M128.3 35.5h0M217.0 51.7h0M182.3 43.8h0M252.9 128.4h0M79.4 66.2h0M194.9 1.3h0M249.7 65.4h0M176.2 138.3h0M162.7 91.8h0M197.5 127.2h0M224.1 132.2h0M249.0 79.4h0M185.0 102.9h0M140.2 19.5h0M140.4 21.0h0M80.2 83.1h0M133.2 96.6h0M74.8 106.5h0M235.4 81.8h0M125.0 60.1h0M131.3 107.2h0M132.3 108.7h0M118.6 68.3h0M118.3 69.4h0M211.4 53.8h0M159.1 90.7h0M125.6 137.5h0M125.6 137.8h0M194.7 36.0h0M202.2 46.6h0M135.3 142.2h0M135.4 142.7h0M174.3 72.8h0M78.6 143.1h0M205.1 100.5h0M74.4 48.5h0M249.4 92.9h0M230.6 -0.6h0M214.0 37.6h0M147.8 145.0h0M147.8 145.5h0M219.1 98.4h0M144.1 68.0h0M228.3 8.0h0M205.9 26.4h0M100.1 79.1h0M198.6 10.3h0M223.4 34.0h0M223.0 35.7h0M121.3 134.0h0M122.8 134.5h0M251.6 132.1h0M116.1 55.6h0M196.8 121.5h0M192.3 137.4h0M194.6 138.4h0M251.3 64.4h0M191.9 92.4h0M211.9 140.0h0M249.6 132.2h0M249.3 132.3h0M132.6 68.5h0M224.2 95.3h0M223.8 96.4h0M207.6 120.2h0M208.4 121.0h0M144.5 69.3h0M136.2 50.4h0M153.4 52.3h0M104.0 109.9h0M151.9 110.1h0M162.8 83.6h0M182.0 74.5h0M172.5 39.0h0M215.8 19.8h0M225.0 115.0h0M175.7 134.9h0M141.6 137.7h0M141.8 137.8h0M142.2 138.8h0M132.0 60.6h0M74.9 65.7h0M213.1 126.5h0M87.3 102.4h0M242.2 35.5h0M246.4 67.5h0M104.1 21.2h0M152.6 59.6h0M164.9 107.1h0M165.6 107.6h0M151.0 33.2h0M129.4 58.1h0M107.4 111.8h0M198.1 70.8h0M107.5 143.9h0M109.1 145.5h0M110.0 146.0h0M130.7 60.2h0M131.8 60.7h0M143.1 143.6h0M116.7 48.7h0M111.4 133.6h0M167.1 59.2h0M247.1 16.6h0M163.9 102.6h0M107.2 69.5h0M107.4 70.5h0M109.0 105.2h0M189.2 34.2h0M224.6 21.6h0M225.3 22.9h0M155.8 3.7h0M173.6 109.2h0M108.3 67.3h0M128.2 103.6h0M98.6 146.1h0M197.2 132.4h0M198.2 134.0h0M217.8 136.6h0M169.8 -0.1h0M164.4 23.1h0M163.9 24.6h0M234.6 116.8h0M236.4 131.1h0M111.3 56.5h0M195.5 75.4h0M195.2 76.5h0M229.9 140.6h0M222.5 77.6h0M224.1 78.0h0M153.3 89.8h0M154.6 90.9h0M200.9 90.6h0M228.5 138.7h0M152.3 52.4h0M135.9 77.8h0M138.3 90.2h0M201.9 64.1h0M115.1 50.0h0M171.7 21.9h0M181.6 71.9h0M200.2 108.3h0M221.8 35.3h0M212.8 50.4h0M250.4 31.4h0M132.5 65.7h0M249.2 102.7h0M123.3 100.7h0M250.9 116.0h0M200.8 122.6h0M253.7 57.3h0M171.7 133.1h0M140.2 65.9h0M179.7 8.0h0M179.7 8.9h0M106.8 79.1h0M107.0 80.5h0M179.6 111.0h0M210.1 70.2h0M157.7 102.4h0M218.6 102.5h0M208.1 106.2h0M207.1 69.9h0M170.2 145.2h0M113.8 75.0h0M97.3 146.8h0M76.3 90.1h0M83.6 125.9h0M206.0 111.4h0M204.4 101.6h0M88.3 56.8h0M198.8 75.6h0M108.2 114.8h0M156.9 38.6h0M246.3 -0.3h0M84.3 83.8h0M169.6 75.6h0M171.6 78.7h0M182.8 70.9h0M116.8 128.2h0M117.6 128.7h0M145.2 120.8h0M226.5 51.4h0M140.0 69.6h0M202.3 59.6h0M253.8 4.3h0M211.7 113.2h0M188.5 75.7h0M230.9 117.7h0M166.0 84.9h0M105.8 14.5h0M225.2 127.4h0M225.7 128.3h0M111.4 38.0h0M159.8 25.2h0M189.3 147.9h0M140.8 117.2h0M170.4 77.1h0M145.7 56.7h0M201.5 118.8h0M100.4 89.8h0M108.5 122.0h0M128.8 143.7h0M180.0 45.6h0M227.4 14.1h0M212.7 84.8h0M141.7 50.8h0M146.1 57.3h0M74.5 67.6h0M73.5 68.6h0M105.1 86.8h0M105.7 88.5h0M135.6 24.6h0M248.3 83.0h0M113.9 109.9h0M147.9 22.3h0M143.5 41.2h0M70.7 6.8h0M163.1 124.5h0M124.4 -1.1h0M126.6 -0.2h0M126.9 -0.6h0M120.1 67.0h0M185.6 74.0h0M162.1 95.4h0M76.5 72.1h0M128.9 60.3h0M179.2 67.8h0M159.1 25.8h0M111.9 59.8h0M172.6 52.9h0M224.1 15.4h0M66.9 38.7h0M67.7 39.6h0M176.2 148.8h0M228.5 22.9h0M156.7 17.9h0M206.2 73.9h0M107.4 97.5h0M195.2 20.6h0M156.1 59.2h0M169.3 103.3h0M90.0 62.2h0M90.6 64.2h0M90.5 64.9h0M173.8 118.2h0M250.2 59.0h0M131.0 141.4h0M237.0 128.5h0M190.2 57.7h0M149.7 66.4h0M214.3 91.8h0M186.4 96.2h0M227.7 27.1h0M225.3 72.2h0M197.4 33.6h0M235.4 30.5h0M206.3 95.9h0M202.1 49.1h0M250.0 101.9h0M172.8 25.3h0M166.9 33.6h0M143.3 29.8h0M102.8 134.3h0M109.2 130.9h0M177.9 15.6h0M81.7 141.1h0M153.7 128.9h0M153.3 130.3h0M139.6 146.0h0M140.4 144.6h0M128.1 1.6h0M239.4 42.4h0M184.1 72.2h0M180.0 44.1h0M116.2 60.7h0M117.5 61.2h0M97.8 104.7h0M98.0 106.5h0M98.7 108.4h0M198.9 138.3h0M200.5 139.3h0M227.4 68.7h0M167.5 38.9h0M83.6 72.2h0M179.8 4.9h0M180.4 5.7h0M180.3 69.6h0M243.8 0.4h0M245.7 2.8h0M106.2 65.7h0M202.2 53.1h0M138.1 81.3h0M214.0 83.1h0M157.6 37.1h0M77.9 51.5h0M210.1 98.6h0M92.1 81.1h0M92.5 81.4h0M93.4 83.0h0M143.3 111.3h0M160.0 67.2h0M250.9 124.5h0M251.9 125.0h0M186.0 80.1h0M69.1 85.2h0M76.7 84.7h0M179.9 48.1h0M121.0 74.8h0M113.5 130.0h0M115.0 128.3h0M228.1 137.4h0M140.4 43.5h0M179.8 118.3h0M114.2 131.8h0M114.5 132.9h0M152.8 137.9h0M152.7 138.4h0M144.2 15.1h0M153.8 8.7h0M154.5 9.4h0M186.1 2.3h0M163.9 63.3h0M153.1 24.2h0M102.7 70.2h0M103.7 71.8h0M104.0 72.4h0M104.3 73.1h0M185.9 128.9h0M148.3 106.0h0M82.1 48.2h0M80.0 140.6h0M120.4 107.7h0M210.4 102.0h0M203.8 41.7h0M218.4 6.8h0M134.9 52.7h0M251.1 49.5h0M183.7 38.5h0M184.4 39.5h0M224.4 31.4h0M174.2 81.7h0M114.3 40.2h0M158.0 117.3h0M135.5 108.5h0M198.6 31.4h0M157.8 79.1h0M226.9 80.7h0M193.3 50.7h0M133.7 26.7h0M211.3 143.5h0M231.5 29.0h0M120.1 0.5h0M93.2 136.0h0M95.5 136.3h0M107.1 42.8h0M108.0 44.6h0M115.2 39.1h0M226.4 12.4h0M226.1 15.9h0M157.1 61.1h0M187.9 140.6h0M139.4 101.4h0M189.2 44.3h0M89.4 75.0h0M110.4 76.1h0M189.9 53.9h0M138.5 30.5h0M109.7 130.9h0M92.0 68.3h0M207.5 116.0h0M95.2 77.3h0M94.6 78.2h0M116.9 4.7h0M118.4 4.7h0M114.5 61.2h0M115.0 61.8h0M107.3 9.5h0M107.9 9.6h0M156.5 -1.0h0M170.4 36.5h0M172.0 36.0h0M172.6 36.5h0M220.8 111.7h0M167.3 76.2h0M167.5 77.5h0M130.2 21.5h0M67.9 118.5h0M231.5 11.4h0M123.3 94.1h0M152.0 124.0h0M74.0 106.5h0M186.1 68.7h0M93.5 54.9h0M171.4 102.6h0M206.7 63.5h0M213.8 121.5h0M139.0 99.8h0M194.0 10.3h0M118.7 88.9h0M216.3 101.5h0M193.0 135.3h0M193.5 136.9h0M137.5 113.9h0M113.7 131.4h0M149.0 17.1h0M169.2 59.4h0M124.9 45.3h0M235.8 101.5h0M237.4 102.3h0M124.1 92.4h0M202.2 146.8h0M200.6 26.8h0M107.9 52.0h0M141.7 96.0h0M177.1 86.7h0M179.1 89.7h0M221.9 54.4h0M127.8 64.4h0M140.2 145.6h0M185.1 43.8h0M155.2 79.3h0M160.4 67.2h0M109.4 146.7h0M110.1 147.4h0M178.2 40.3h0M196.4 119.8h0M145.2 147.8h0M104.8 56.8h0M88.8 77.7h0M154.7 -0.9h0M130.1 17.9h0M130.9 19.9h0M187.5 82.5h0M183.9 78.0h0M184.8 80.1h0M176.0 109.0h0M246.1 48.6h0M183.2 96.8h0M185.7 98.5h0M149.1 123.8h0M149.4 124.3h0M211.2 24.2h0M246.6 145.6h0M166.8 130.9h0M196.4 72.7h0M181.0 96.8h0M89.0 95.2h0M91.0 95.7h0M141.9 5.6h0M137.4 110.0h0M177.9 75.3h0M125.7 88.9h0M78.0 103.4h0M253.5 44.7h0M139.1 33.4h0M125.6 85.7h0M124.0 21.7h0M125.1 20.8h0M194.8 121.5h0M152.4 140.1h0M225.3 68.9h0M225.8 68.6h0M161.3 75.0h0M230.5 134.2h0M250.0 47.0h0M252.2 48.2h0M130.0 99.5h0M182.3 132.2h0M212.0 -1.0h0M212.5 -0.3h0M176.2 131.9h0M125.9 73.2h0M232.9 77.1h0M74.2 97.7h0M102.7 30.4h0M239.8 147.0h0M97.2 61.3h0M231.8 138.6h0M129.3 117.4h0M208.5 38.6h0M220.1 138.8h0M219.9 140.6h0M157.7 23.4h0M133.9 26.9h0M174.4 117.6h0M127.7 3.9h0M176.9 78.3h0M207.7 77.9h0M207.4 79.1h0M190.7 59.4h0M103.7 54.5h0M196.6 69.9h0M158.1 54.6h0M218.9 9.6h0M145.8 129.7h0M76.7 49.9h0M77.2 54.8h0M176.1 16.5h0M198.7 119.4h0M114.4 50.9h0M180.9 6.7h0M210.2 110.0h0M236.5 88.8h0M144.1 125.8h0M180.8 144.5h0M91.4 109.3h0M117.5 36.7h0M78.3 18.5h0M249.0 69.3h0M121.0 102.2h0M149.9 96.2h0M111.1 122.9h0M143.9 93.1h0M145.3 92.2h0M135.7 66.8h0M116.6 85.8h0M95.7 132.8h0M78.3 47.0h0M116.0 36.9h0M126.8 33.1h0M246.5 63.5h0M182.1 89.3h0M132.3 26.6h0M132.5 27.0h0M227.8 28.3h0M161.1 127.4h0M175.4 39.3h0M175.1 41.2h0M183.4 142.5h0M186.1 144.7h0M193.4 148.3h0M185.5 117.8h0M206.6 79.6h0M206.6 81.1h0M215.6 21.3h0M217.9 22.6h0M184.0 90.2h0M227.2 25.7h0M105.0 16.0h0M109.3 65.9h0M109.2 66.7h0M114.0 122.1h0M128.5 40.6h0M162.0 0.2h0M204.3 114.8h0M173.8 112.0h0M176.0 112.3h0M177.0 112.9h0M235.0 125.1h0M115.5 65.2h0M116.1 66.6h0M197.1 69.7h0M198.8 71.4h0M207.7 22.4h0M208.7 23.1h0M116.3 138.6h0M129.1 46.7h0M157.0 122.0h0M156.5 123.5h0M220.9 19.5h0M181.4 117.4h0M180.9 117.5h0M87.0 123.9h0M233.0 138.1h0M239.6 78.7h0M111.4 85.6h0M112.0 86.4h0M113.1 86.7h0M171.9 51.0h0M176.5 145.5h0M95.3 10.1h0M141.0 139.5h0M83.0 106.4h0M81.7 131.6h0M232.0 128.8h0M144.0 56.0h0M145.6 56.0h0M209.0 67.3h0M70.8 139.2h0M180.2 135.9h0M181.2 135.9h0M181.5 137.0h0M254.4 93.8h0M218.3 136.2h0M216.7 138.4h0M149.7 35.3h0M71.0 86.3h0M144.2 24.1h0M161.6 90.8h0M161.5 90.5h0M85.1 117.3h0M140.1 70.7h0M92.2 61.9h0M143.0 97.3h0M219.1 115.1h0M251.3 67.6h0M179.6 99.5h0M220.9 126.0h0M139.2 28.0h0M179.1 145.6h0M242.5 34.3h0M97.1 70.5h0M106.9 101.0h0M105.6 15.7h0M183.6 16.4h0M90.1 119.0h0M150.1 58.2h0M143.7 14.4h0M145.7 142.1h0M198.9 65.2h0M142.2 73.9h0M78.8 90.2h0M114.8 47.9h0M116.2 48.3h0M142.7 8.2h0M130.0 42.6h0M129.9 43.1h0M105.2 51.8h0M227.5 59.3h0M229.0 58.1h0M153.1 83.5h0M152.1 13.6h0M70.8 83.8h0M250.8 41.4h0M131.9 84.1h0M132.3 84.5h0M100.5 117.8h0M113.4 40.1h0M186.7 118.9h0M252.1 124.4h0M244.5 66.1h0M183.9 88.6h0M181.2 19.4h0M170.7 135.4h0M172.1 136.6h0M124.5 115.6h0M126.4 115.6h0M76.4 82.9h0M166.1 75.9h0M217.9 16.6h0M162.0 42.7h0M234.6 148.4h0M179.7 40.5h0M179.2 43.3h0M78.6 121.7h0M171.6 41.8h0M131.3 37.5h0M112.6 147.7h0M133.8 6.3h0M251.3 56.1h0M224.6 13.7h0M124.6 39.9h0M218.8 34.0h0M140.8 2.3h0M219.3 121.5h0M176.2 132.0h0M226.3 12.6h0M179.2 75.3h0M110.4 103.4h0M184.0 125.4h0M153.4 59.8h0M182.3 3.3h0M244.2 9.1h0M142.7 53.6h0M187.1 141.5h0M187.4 142.3h0M196.6 121.6h0M198.5 121.4h0M200.9 121.1h0M92.0 48.2h0M93.6 48.8h0M73.6 77.3h0M106.2 80.5h0M90.9 77.2h0M105.2 59.9h0M201.9 74.3h0M183.0 116.9h0M127.2 37.7h0M128.4 38.8h0M128.6 39.5h0M95.7 67.3h0M96.0 69.6h0M232.5 134.7h0M207.2 77.4h0M94.4 71.9h0M170.6 97.2h0M245.8 39.1h0M107.8 50.6h0M180.1 29.0h0M192.5 41.5h0M166.6 148.1h0M190.7 68.0h0M178.1 67.7h0M175.5 107.1h0M176.7 107.7h0M232.9 55.1h0M232.8 65.2h0M149.2 24.4h0M84.0 99.2h0M170.3 52.5h0M181.5 73.7h0M77.2 82.7h0M79.3 83.5h0M127.5 52.7h0M128.0 53.6h0M126.8 64.3h0M134.7 -0.1h0M156.5 69.0h0M216.8 49.5h0M241.7 75.4h0M73.7 33.6h0M211.3 137.0h0M127.7 58.0h0M126.9 58.2h0M126.2 58.0h0M219.3 86.7h0M225.2 78.0h0M117.5 71.8h0M119.6 74.2h0M165.8 70.3h0M166.1 71.7h0M147.7 131.5h0M208.0 148.9h0M138.5 9.4h0M241.8 50.0h0M230.4 101.7h0M217.2 50.9h0M107.5 38.3h0M169.1 127.1h0M72.1 135.1h0M235.8 76.7h0M118.2 67.6h0M141.3 13.8h0M236.6 46.2h0M159.2 37.0h0M137.5 119.3h0M170.9 57.1h0M105.6 27.2h0M105.8 28.1h0M118.6 51.5h0M132.0 111.9h0M158.0 76.1h0M99.3 26.8h0M112.8 133.9h0M251.1 52.2h0M93.4 58.7h0M95.0 59.2h0M167.7 146.6h0M119.9 125.6h0M85.6 16.2h0M215.2 108.0h0M215.4 108.8h0M217.0 109.5h0M123.0 55.4h0M146.4 105.8h0M205.6 71.0h0M157.6 52.8h0M236.9 99.8h0M121.7 76.2h0M181.0 53.7h0M182.5 55.5h0M182.1 55.6h0M96.3 63.1h0M160.8 14.1h0M68.6 106.7h0M131.9 148.7h0M90.6 9.8h0M89.9 12.2h0M186.1 53.1h0M186.7 132.6h0M112.8 137.8h0M227.7 116.5h0M228.8 117.3h0M245.4 119.0h0M246.2 118.5h0M201.5 50.7h0M88.8 98.3h0M210.5 125.2h0M210.9 126.4h0M139.0 4.3h0M144.6 12.3h0M245.6 141.3h0M69.3 50.0h0M235.8 16.2h0M175.9 55.9h0M177.5 141.6h0M128.1 59.2h0M129.0 60.3h0M110.0 99.7h0M126.8 48.6h0M229.4 99.0h0M92.4 114.8h0M170.9 46.5h0M170.9 47.2h0M105.6 90.1h0M205.1 14.4h0M176.1 58.1h0M188.2 117.8h0M190.0 118.4h0M179.2 60.5h0M70.0 108.3h0M114.4 112.9h0M204.8 127.9h0M231.3 49.6h0M232.6 50.7h0M231.4 80.1h0M254.3 96.5h0M103.6 69.8h0M103.0 71.5h0M84.5 137.6h0M147.1 57.6h0M147.1 58.3h0M216.4 46.0h0M111.5 114.2h0M111.7 114.3h0M146.6 146.0h0M186.9 79.9h0M75.5 78.8h0M121.8 59.0h0M226.9 106.7h0M227.4 107.9h0M209.1 100.0h0M222.1 66.1h0M158.4 28.2h0M162.9 64.3h0M164.6 106.4h0M84.5 105.3h0M150.1 74.3h0M164.3 82.0h0M104.4 1.7h0M184.1 46.6h0M101.3 8.6h0M204.6 80.4h0M149.4 17.9h0M145.3 76.7h0M227.7 76.0h0M228.8 76.5h0M157.7 4.4h0M173.4 97.6h0M204.1 65.2h0M205.8 65.4h0M84.5 128.2h0M251.4 124.0h0M158.7 125.1h0M141.8 96.4h0M70.2 44.2h0M245.2 139.9h0M118.6 73.3h0M83.6 111.9h0M131.9 36.8h0M192.3 35.7h0M201.8 74.0h0M201.8 74.4h0M99.2 61.1h0M173.6 2.0h0M166.0 46.5h0M167.6 46.1h0M103.7 115.5h0M79.0 18.1h0M229.4 100.1h0M207.0 116.1h0M142.6 84.2h0M158.9 94.9h0M244.7 73.5h0M253.2 14.2h0M122.2 109.3h0M135.8 93.8h0M127.4 72.0h0M167.5 91.9h0M168.1 92.0h0M82.6 22.8h0M82.9 25.3h0M138.6 16.2h0M139.2 17.2h0M215.8 24.0h0M228.4 83.3h0M95.7 77.8h0M97.2 76.8h0M142.7 68.9h0M142.7 69.1h0M145.1 69.3h0M187.3 15.1h0M173.4 96.1h0M235.9 56.8h0M73.3 78.1h0M101.9 67.5h0M227.1 129.9h0M177.2 101.4h0M192.7 24.6h0M251.9 36.4h0M251.9 37.6h0M120.8 52.4h0M222.3 12.0h0M154.5 10.7h0M118.0 126.4h0M221.9 37.5h0M223.8 37.9h0M230.5 17.0h0M207.4 9.5h0M96.6 90.3h0M99.4 147.7h0M94.1 117.6h0M139.3 78.9h0M196.6 95.8h0M197.3 95.7h0M227.7 4.5h0M122.4 69.9h0M124.1 71.9h0M133.0 115.2h0M135.2 116.8h0M85.6 47.1h0M91.5 37.8h0M147.3 73.6h0M129.2 31.3h0M129.6 33.5h0M129.5 34.7h0M133.9 52.5h0M115.8 70.7h0M211.7 68.6h0M234.1 67.3h0M186.8 21.4h0M211.7 19.3h0M212.3 19.6h0M104.6 88.1h0M105.2 11.8h0M188.6 48.9h0M190.5 49.5h0M191.4 50.2h0M102.5 15.1h0M97.7 57.4h0M180.3 21.2h0M114.0 53.3h0M200.1 18.0h0M200.9 19.3h0M176.7 127.2h0M148.4 79.6h0M149.2 81.2h0M196.4 30.6h0M199.3 97.9h0M198.5 142.8h0M98.9 88.6h0M158.4 40.5h0M194.1 18.4h0M150.5 110.8h0M160.1 121.5h0M177.7 88.0h0M237.6 8.2h0M238.1 9.5h0M111.9 136.1h0M84.0 49.9h0M140.5 5.6h0M140.5 5.7h0M177.7 91.3h0M226.9 66.9h0M240.2 17.3h0M136.3 107.6h0M245.9 77.4h0M216.2 119.9h0M217.1 120.9h0M216.1 129.1h0M172.0 94.5h0M101.1 41.4h0M129.1 127.3h0M237.6 82.7h0M96.1 78.1h0M164.0 7.9h0M168.6 96.7h0M252.8 26.3h0M127.0 46.5h0M169.9 14.6h0M171.5 85.5h0M173.1 84.6h0M201.9 131.7h0M169.7 53.1h0M200.9 105.9h0M212.0 125.3h0M213.1 125.9h0M137.4 17.8h0M178.2 53.9h0M94.7 138.0h0M95.0 139.0h0M217.5 73.0h0M114.7 118.2h0M194.8 74.8h0M74.4 8.0h0M122.0 132.9h0M69.7 112.4h0M70.2 109.8h0M102.0 141.6h0M242.4 8.4h0M243.8 9.2h0M239.5 87.3h0M102.0 45.5h0M195.6 33.1h0M233.1 22.1h0M250.3 119.7h0M82.9 147.9h0M123.2 142.1h0M163.1 60.9h0M134.6 114.1h0M209.6 110.9h0M146.7 64.2h0M147.3 65.0h0M138.6 43.9h0M192.8 131.6h0M159.1 121.9h0M132.4 77.7h0M133.3 54.1h0M67.1 142.9h0M68.4 144.4h0M148.6 43.6h0M179.7 40.7h0M131.5 31.2h0M132.7 32.1h0M125.1 127.4h0M157.2 138.5h0M157.0 139.3h0M127.9 106.5h0M217.6 106.7h0M226.3 5.6h0M76.5 111.8h0M151.1 24.5h0M110.1 104.3h0M141.4 69.9h0M218.2 122.3h0M78.2 55.9h0M205.5 39.0h0M78.9 102.5h0M78.7 103.5h0M168.8 102.3h0M154.1 142.4h0M225.5 42.9h0M115.8 80.0h0M177.5 32.3h0M142.9 67.7h0M189.3 105.3h0M189.2 106.4h0M167.7 44.2h0M159.8 49.3h0M120.9 113.4h0M248.5 112.9h0M154.1 109.7h0M134.7 38.1h0M192.7 49.6h0M129.3 78.7h0M130.9 80.7h0M141.8 27.0h0M142.5 28.0h0M114.3 39.9h0M75.9 84.7h0M68.1 45.8h0M122.7 59.1h0M253.4 51.1h0M204.9 28.0h0M193.1 55.3h0M193.5 56.5h0M116.0 110.4h0M71.6 123.3h0M161.5 40.7h0M162.3 40.8h0M219.4 112.6h0M219.1 126.4h0M234.1 10.3h0M220.7 135.5h0M232.4 29.7h0M71.6 95.2h0M67.2 102.6h0M127.4 66.4h0M187.6 52.5h0M188.7 54.0h0M195.1 97.7h0M143.9 86.2h0M106.9 114.9h0M179.3 106.7h0M194.9 35.5h0M197.2 36.3h0M141.4 106.9h0M234.6 14.2h0M239.0 43.6h0M237.3 44.9h0M136.9 54.9h0M76.9 40.6h0M77.9 41.6h0M186.5 1.5h0M151.2 30.0h0M76.8 37.0h0M84.3 145.6h0M86.2 145.8h0M88.0 146.6h0M141.5 85.8h0M145.5 41.5h0M199.9 32.2h0M207.4 63.4h0M208.2 64.6h0M136.7 76.1h0M201.7 10.4h0M85.1 73.0h0M160.4 37.8h0M251.2 87.3h0M120.8 89.0h0M238.6 7.8h0M92.6 84.3h0M168.3 3.1h0M181.2 137.4h0M83.5 12.6h0M132.5 118.4h0M76.9 105.3h0M77.9 107.3h0M152.0 121.5h0M139.0 96.4h0M200.6 19.3h0M77.1 66.3h0M108.4 18.2h0M99.1 78.3h0M126.2 87.3h0M233.9 80.6h0M102.0 23.5h0M180.6 37.6h0M157.2 77.6h0M242.2 96.9h0M111.3 18.7h0M151.0 138.2h0M124.8 80.7h0M129.0 52.8h0M70.0 68.8h0M72.3 70.0h0M162.2 95.9h0M189.9 5.1h0M136.2 27.1h0M154.1 85.0h0M136.7 64.4h0M219.0 41.5h0M74.0 92.4h0M125.1 45.9h0M126.1 47.3h0M125.8 45.1h0M145.6 131.7h0M124.2 46.2h0M127.0 47.7h0M210.1 60.5h0M211.0 60.1h0M251.7 98.5h0M191.2 149.2h0M192.6 148.9h0M174.2 86.6h0M86.4 36.4h0M84.8 117.6h0M222.7 145.8h0M236.4 53.0h0M109.5 100.0h0M208.2 88.5h0M112.9 43.8h0M101.4 147.8h0M152.5 128.5h0M158.5 64.7h0M186.5 55.4h0M188.7 79.4h0M247.9 19.2h0M166.1 76.7h0M102.5 73.5h0M203.8 2.2h0M116.2 33.9h0M116.9 36.5h0M174.1 5.6h0M133.4 73.5h0M210.6 98.2h0M112.0 12.7h0M112.1 13.7h0M144.6 36.2h0M154.3 43.3h0M228.5 22.8h0M77.6 86.8h0M197.0 75.2h0M197.4 75.7h0M248.8 99.2h0M248.9 99.1h0M185.6 78.1h0M251.6 5.3h0M210.1 23.3h0M202.2 84.9h0M116.8 31.8h0M118.9 32.8h0M192.7 123.3h0M104.6 124.5h0M89.7 58.6h0M132.8 132.6h0M133.7 133.1h0M111.5 127.6h0M161.3 88.3h0M163.3 88.7h0M173.1 10.9h0M104.4 143.8h0M177.9 84.1h0M178.9 83.3h0M197.7 59.7h0M197.8 118.3h0M197.7 119.9h0M138.2 115.8h0M122.2 66.7h0M122.8 66.6h0M115.1 82.2h0M157.2 113.9h0M152.0 74.7h0M126.7 144.8h0M151.8 29.5h0M154.9 30.2h0M76.2 74.4h0M248.7 32.0h0M119.0 130.6h0M81.7 104.9h0M82.5 107.9h0M70.3 101.0h0M194.3 24.0h0M150.2 0.1h0M151.4 1.2h0M150.4 66.0h0M193.7 40.0h0M229.8 69.8h0M149.1 126.8h0M253.7 107.4h0M154.8 2.7h0M219.2 118.2h0M68.7 102.7h0M139.5 92.8h0M122.4 120.9h0M85.4 126.3h0M85.3 128.3h0M158.1 146.7h0M148.7 123.1h0M78.6 114.1h0M202.6 17.2h0M130.8 69.3h0M211.0 33.6h0M115.9 6.3h0M140.5 108.7h0M140.4 109.6h0M176.3 54.3h0M132.9 120.5h0M133.1 121.2h0M135.6 120.7h0M117.3 137.7h0M127.3 112.0h0M82.0 106.3h0M197.6 58.6h0M156.7 93.4h0M102.5 126.0h0M132.3 112.2h0M132.9 113.0h0M93.3 127.6h0M141.9 91.1h0M150.5 111.9h0M150.7 113.1h0M253.1 13.7h0M209.0 20.0h0M158.8 42.6h0M204.7 11.2h0M162.7 1.4h0M115.5 40.6h0M220.6 101.8h0M114.3 24.2h0M236.6 7.5h0M237.4 8.8h0M238.3 11.0h0M122.1 5.7h0M110.5 87.5h0M111.1 89.7h0M179.4 61.7h0M129.6 1.7h0M199.5 64.7h0M135.6 9.7h0M135.6 9.8h0M177.5 17.2h0M192.6 34.3h0M174.7 100.8h0M174.5 102.2h0M136.6 31.5h0M136.9 32.6h0M137.3 34.9h0M176.3 84.1h0M194.0 146.1h0M192.4 147.1h0M67.2 129.1h0M209.8 62.6h0M72.9 60.5h0M182.7 32.5h0M159.9 7.6h0M156.2 116.4h0M156.6 2.3h0M149.2 68.7h0M238.4 9.1h0M158.6 100.7h0M101.8 52.8h0M72.1 105.0h0M180.9 32.8h0M180.6 2.6h0M245.9 -0.9h0M192.7 94.3h0M220.9 19.4h0M221.3 20.4h0M176.2 62.1h0M150.5 82.8h0M199.1 64.9h0M108.5 90.0h0M109.0 92.3h0M142.4 89.4h0M71.8 48.8h0M232.0 26.3h0M233.3 29.3h0M137.7 104.4h0M158.0 124.4h0M125.8 99.1h0M125.9 100.0h0M91.1 71.3h0M193.5 24.3h0M194.2 24.6h0M195.8 24.9h0M240.2 19.1h0M241.1 20.1h0M108.5 62.2h0M130.3 0.3h0M213.9 71.7h0M254.0 22.4h0M71.7 106.7h0M73.8 106.7h0M97.2 34.4h0M131.4 20.3h0M173.9 86.8h0M175.6 56.8h0M139.7 124.8h0M73.7 65.4h0M111.9 114.6h0M189.7 12.6h0M190.1 12.8h0M249.1 147.9h0M247.6 149.5h0M151.1 74.3h0M244.5 44.0h0M188.6 97.7h0M195.1 9.3h0M181.2 112.3h0M239.8 40.7h0M122.5 68.1h0M104.0 39.1h0M199.4 58.3h0M199.9 59.2h0M129.7 112.1h0M130.6 113.1h0M132.8 55.3h0M243.8 80.5h0M130.9 67.2h0M129.2 70.2h0M130.9 123.4h0M130.3 126.0h0M68.2 84.7h0M131.6 148.3h0M132.8 149.0h0M204.4 59.9h0M75.7 129.9h0M145.1 16.0h0M71.8 35.9h0M244.9 86.6h0M198.2 131.2h0M151.9 59.8h0M234.0 133.6h0M164.6 30.6h0M67.9 97.4h0M68.4 97.6h0M130.3 88.9h0M123.9 89.5h0M149.9 11.3h0M145.4 133.0h0M108.5 79.4h0M206.3 105.7h0M194.3 83.6h0M209.1 59.2h0M235.8 8.1h0M82.9 58.7h0M83.6 59.7h0M104.0 7.6h0M160.5 36.1h0M66.7 92.9h0M229.9 18.5h0M146.3 6.9h0M188.9 146.4h0M221.8 29.9h0M182.2 142.2h0M228.5 99.6h0M233.7 32.0h0M147.5 55.2h0M247.4 81.0h0M100.9 81.7h0M144.3 144.9h0M164.0 144.9h0M194.4 27.0h0M210.3 60.3h0M239.5 75.6h0M217.5 140.2h0M109.2 147.6h0M205.8 92.2h0M206.4 92.9h0M112.4 59.6h0M112.1 60.9h0M147.4 12.2h0M120.0 7.4h0M150.0 79.4h0M66.2 143.1h0M80.8 122.8h0M197.5 18.0h0M186.0 134.3h0M187.0 136.0h0M187.8 138.1h0M253.2 38.2h0M254.2 41.6h0M188.0 3.3h0M211.1 98.4h0M79.5 61.2h0M100.0 9.5h0M182.7 83.6h0M169.5 26.4h0M139.1 36.7h0M77.3 124.1h0M181.5 43.4h0M180.9 44.7h0M180.7 44.9h0M87.9 44.8h0M87.9 45.9h0M219.0 139.6h0M82.7 87.1h0M162.6 113.4h0M163.0 113.3h0M250.1 28.4h0M250.5 28.9h0M181.6 108.4h0M146.4 19.4h0M85.4 95.4h0M112.6 94.5h0M216.5 145.6h0M192.5 10.8h0M180.4 85.0h0M103.2 35.3h0M103.0 35.8h0M128.8 42.9h0M213.0 146.3h0M252.7 0.8h0M241.3 58.0h0M138.2 139.2h0M180.0 116.7h0M176.2 147.1h0M226.9 0.1h0M228.4 2.1h0M171.6 28.4h0M196.8 87.3h0M198.2 88.3h0M213.5 49.2h0M146.3 137.1h0M184.3 117.5h0M252.9 135.9h0M92.9 16.5h0M145.1 59.0h0M116.5 52.5h0M157.4 77.9h0M236.3 22.7h0M109.0 75.6h0M252.2 -1.3h0M201.3 39.7h0M84.1 47.3h0M119.1 62.8h0M114.7 52.3h0M253.8 78.4h0M254.1 80.0h0M100.3 84.6h0M110.2 68.2h0M82.1 83.3h0M82.6 85.0h0M202.8 32.7h0M213.9 91.0h0M157.3 81.7h0M170.8 51.8h0M165.3 74.0h0M154.2 27.1h0M155.2 27.7h0M164.2 78.0h0M112.2 146.8h0M114.4 93.3h0M180.8 78.7h0M181.4 79.8h0M177.7 128.8h0M234.7 124.6h0M249.4 110.4h0M87.7 34.2h0M160.7 30.6h0M85.4 123.3h0M208.9 1.5h0M143.4 -0.3h0M151.5 142.3h0M116.7 64.8h0M149.8 127.5h0M102.4 121.6h0M140.2 46.8h0M185.0 145.3h0M71.6 69.3h0M93.7 86.8h0M84.4 119.8h0M185.4 62.6h0M91.2 132.4h0M121.9 143.6h0M78.7 103.5h0M79.5 104.5h0M122.3 37.0h0M123.2 37.4h0M175.0 68.8h0M173.6 85.3h0M86.2 85.0h0M132.6 141.5h0M134.5 143.4h0M79.0 127.8h0M79.5 128.5h0M79.0 129.4h0M111.9 37.2h0M195.0 100.2h0M112.0 25.5h0M142.9 94.5h0M184.1 105.8h0M79.4 139.2h0M79.0 40.3h0M79.0 41.7h0M161.7 42.2h0M162.9 42.8h0M167.3 39.8h0M124.2 76.3h0M147.0 127.6h0M200.4 56.2h0M170.4 48.6h0M207.6 68.6h0M168.1 130.7h0M134.3 65.9h0M109.1 34.8h0M132.0 113.2h0M226.2 117.2h0M132.2 90.8h0M235.0 108.4h0M81.5 146.7h0M81.7 148.1h0M205.7 34.8h0M206.1 36.8h0M177.1 106.0h0M219.3 88.9h0M250.1 12.2h0M104.0 24.5h0M253.5 2.5h0"/>
<path stroke="#ececec" stroke-width="1.3" d="M111.0 92.8h0M150.2 111.9h0M212.4 105.9h0M137.2 0.9h0M177.2 119.1h0M98.2 116.4h0M229.2 53.4h0M135.4 21.3h0M108.2 71.5h0M199.4 12.8h0M145.9 36.8h0M248.1 58.6h0M142.1 138.7h0M175.0 4.0h0M242.2 141.6h0M82.8 26.9h0M208.7 63.6h0M194.3 60.4h0M251.2 57.3h0M119.5 131.2h0M179.8 125.3h0M215.5 118.2h0M76.6 10.1h0M164.3 139.9h0M198.2 112.5h0M209.2 69.0h0M72.9 93.9h0M99.2 33.1h0M235.2 95.6h0M195.9 107.1h0M215.1 61.8h0M205.5 19.7h0M79.4 147.8h0M231.4 138.0h0M219.6 62.9h0M132.9 88.8h0M150.7 118.2h0M159.0 22.5h0M139.2 78.1h0M183.0 145.8h0M205.3 4.4h0M227.5 31.2h0M106.7 54.9h0M110.9 118.5h0M156.8 126.4h0M107.0 52.2h0M166.4 30.1h0M94.0 75.3h0M213.4 61.5h0M202.7 22.0h0M76.2 1.0h0M186.7 50.3h0M182.5 103.1h0M181.3 26.1h0M251.8 8.6h0M127.5 128.9h0M113.7 95.9h0M101.8 106.6h0M216.0 82.7h0M71.2 16.6h0M158.7 27.2h0M111.3 54.8h0M191.1 13.5h0M198.7 18.6h0M190.6 147.6h0M207.7 27.3h0M150.3 38.5h0M184.7 130.9h0M211.3 124.6h0M98.5 18.9h0M97.1 21.7h0M110.5 12.1h0M85.7 29.4h0M200.2 51.6h0M223.8 29.7h0M134.9 45.3h0M196.8 15.6h0M91.3 91.6h0M245.6 94.5h0M214.4 63.6h0M227.2 106.5h0M138.5 57.0h0M157.8 42.9h0M174.5 46.2h0M69.1 16.7h0M249.1 118.7h0M229.2 101.6h0M71.8 35.0h0M114.0 122.4h0M183.9 14.1h0M118.1 89.1h0M127.2 130.8h0M188.3 18.0h0M160.9 19.1h0M113.8 81.2h0M178.1 111.7h0M101.7 43.5h0M214.3 120.1h0M246.1 103.1h0M113.3 92.0h0M194.9 135.2h0M210.7 16.4h0M111.4 40.3h0M112.5 52.6h0M102.7 111.0h0M77.4 107.6h0M246.5 60.0h0M139.1 142.6h0M110.2 25.5h0M88.8 66.1h0M112.7 116.0h0M73.8 145.4h0M170.8 124.7h0M185.4 113.5h0M101.6 107.6h0M208.7 109.0h0M108.6 83.2h0M115.3 38.4h0M67.1 68.4h0M80.4 24.7h0M147.4 114.6h0M97.5 125.1h0M233.3 14.4h0M82.1 92.3h0M155.6 62.6h0M192.3 21.2h0M146.7 83.0h0M239.8 57.1h0M210.0 86.5h0M67.8 33.7h0M191.5 30.9h0M82.2 54.5h0M165.1 109.2h0M165.0 1.4h0M180.3 140.7h0M120.6 13.9h0M80.4 68.4h0M104.7 15.3h0M138.9 130.3h0M116.3 66.6h0M156.2 34.0h0M156.1 2.1h0M136.4 116.7h0M78.6 91.3h0M122.1 41.5h0M205.8 108.3h0M147.9 55.9h0M83.6 14.2h0M236.1 3.6h0M227.3 95.8h0M119.9 143.7h0M174.4 112.8h0M137.6 11.5h0M201.8 89.5h0M165.3 116.8h0M74.0 45.3h0M68.1 125.1h0M155.6 15.7h0M138.7 32.3h0M97.6 54.5h0M76.3 82.1h0M122.6 128.7h0M245.8 79.1h0M122.3 68.8h0M141.7 47.8h0M176.3 131.1h0M220.8 147.5h0M150.2 90.4h0M92.8 116.7h0M134.7 42.9h0M153.3 109.3h0M206.1 40.0h0M182.4 7.2h0M98.1 143.4h0M188.3 68.7h0M154.3 126.5h0M173.2 41.8h0M157.7 105.5h0M247.7 101.7h0M183.7 55.9h0M148.3 27.1h0M222.3 94.1h0M129.1 49.3h0M106.4 3.5h0M177.5 94.3h0M193.1 115.2h0M227.2 140.3h0M88.5 88.7h0M179.4 123.6h0M238.6 88.4h0M133.7 130.6h0M218.8 139.0h0M108.4 16.2h0M247.9 88.0h0M187.9 9.3h0M202.2 141.3h0M131.6 28.1h0M70.8 69.9h0M199.7 144.8h0M104.9 20.3h0M200.9 7.1h0M90.0 78.6h0M137.2 107.0h0M174.1 73.5h0M206.2 9.8h0M86.5 71.3h0M136.3 132.3h0M239.7 23.8h0M154.7 42.3h0M135.4 11.5h0M185.2 47.6h0M212.6 46.9h0M190.0 43.2h0M158.9 99.1h0M151.2 118.5h0M147.5 30.8h0M151.9 53.1h0M101.3 91.5h0M212.1 79.0h0M187.7 39.5h0M214.4 84.6h0M102.3 12.9h0M140.2 24.3h0M150.0 59.8h0M150.4 39.0h0M232.6 83.6h0M129.7 76.8h0M232.2 56.6h0M154.6 7.2h0M182.1 52.1h0M225.1 22.6h0M73.3 64.4h0M226.5 41.3h0M81.8 25.3h0M129.8 47.6h0M123.1 99.1h0M155.3 43.3h0M139.2 146.5h0M145.6 137.0h0M85.5 127.9h0M237.9 13.9h0M158.7 79.1h0M165.7 85.9h0M71.7 118.5h0M133.7 110.0h0M120.5 94.2h0M103.2 8.7h0M240.3 44.5h0M84.3 36.7h0M84.7 43.4h0M164.2 62.0h0M136.2 4.8h0M168.0 27.1h0M75.7 104.8h0M182.6 145.8h0M193.9 45.9h0M245.8 87.8h0M174.5 3.8h0M243.2 102.3h0M193.0 53.1h0M189.5 10.0h0M176.9 18.4h0M117.4 123.7h0M138.3 125.5h0M116.4 11.4h0M136.0 72.0h0M215.7 37.1h0M231.3 121.8h0M156.4 133.3h0M117.7 92.7h0M178.1 10.7h0M114.3 90.6h0M173.1 41.2h0M172.9 79.5h0M164.9 5.4h0M150.6 57.2h0M92.3 117.4h0M87.3 135.6h0M181.2 6.3h0M115.5 26.4h0M102.9 46.4h0M81.3 11.1h0M213.4 58.1h0M119.1 90.6h0M175.5 9.7h0M240.3 18.2h0M80.3 144.6h0M237.5 115.7h0M100.4 143.2h0M84.9 144.8h0M80.0 127.4h0M153.3 38.7h0M104.2 129.1h0M247.5 123.6h0M89.0 101.3h0M72.9 24.4h0M78.9 92.6h0M145.9 126.5h0M211.5 74.1h0M184.7 40.4h0M125.6 88.7h0M114.7 22.2h0M252.3 137.2h0M148.0 73.1h0M238.0 11.9h0M132.7 13.1h0M204.1 23.8h0M140.3 109.8h0M158.6 97.8h0M233.3 97.2h0M230.9 77.8h0M90.8 3.6h0M108.6 9.9h0M154.7 90.0h0M113.5 91.5h0M187.2 103.2h0M228.0 21.8h0M226.5 12.1h0M69.9 26.3h0M138.1 125.1h0M167.1 70.4h0M153.3 134.9h0M131.0 102.0h0M177.1 128.3h0M103.6 107.0h0M202.4 65.3h0M228.0 10.3h0M196.9 5.6h0M136.8 71.1h0M90.8 10.3h0M235.9 109.9h0M110.9 48.7h0M82.9 80.9h0M152.9 29.6h0M95.1 63.1h0M86.2 15.6h0M223.6 74.5h0M119.4 74.0h0M210.4 92.1h0M217.8 14.3h0M215.5 0.3h0M218.3 120.3h0M140.5 19.5h0M82.9 135.8h0M158.9 105.5h0M233.9 80.4h0M227.6 21.7h0M104.0 20.6h0M140.9 2.1h0M201.9 114.9h0M196.0 44.3h0M97.0 112.6h0M147.0 32.9h0M174.2 87.6h0M232.3 16.0h0M205.3 146.6h0M89.7 4.2h0M141.0 9.7h0M218.2 84.4h0M149.9 80.9h0M226.8 108.5h0M188.6 56.7h0M127.5 108.6h0M210.6 54.3h0M77.0 13.9h0M149.4 10.7h0M238.9 90.5h0M197.0 126.2h0M155.4 117.0h0M165.8 43.6h0M192.0 99.8h0M251.7 78.2h0M213.2 73.1h0M114.7 3.6h0M221.3 16.5h0M110.1 63.3h0M185.2 141.3h0M117.0 104.4h0M87.7 78.5h0M140.2 98.6h0M185.4 60.7h0M172.0 125.2h0M182.4 111.8h0M107.5 115.1h0M135.1 63.0h0M91.0 12.5h0M239.9 9.9h0M119.2 97.3h0M141.5 94.3h0M229.0 92.7h0M99.3 31.7h0M87.9 142.7h0M117.6 21.2h0M129.4 79.7h0M148.7 76.0h0M202.1 96.7h0M78.1 62.4h0M209.4 25.6h0M113.9 1.1h0M89.4 12.4h0M117.1 29.7h0M172.7 16.2h0M243.8 125.3h0M131.4 32.7h0M163.5 60.6h0M159.1 76.1h0M78.5 45.6h0M204.4 92.5h0M184.6 62.3h0M222.1 25.8h0M233.7 130.1h0M73.5 42.1h0M178.4 82.8h0M183.0 85.5h0M78.3 82.5h0M235.3 118.2h0M156.6 76.0h0M159.9 77.6h0M217.8 87.8h0M134.9 64.7h0M136.3 115.4h0M205.1 27.6h0M167.5 20.1h0M74.8 112.8h0M142.4 131.4h0M186.6 7.6h0M153.6 67.8h0M240.9 106.9h0M201.6 91.4h0M72.5 49.8h0M104.8 8.4h0M165.2 147.9h0M100.3 67.1h0M178.2 108.0h0M214.5 124.3h0M191.5 132.3h0M85.4 37.9h0M188.2 29.1h0M175.9 77.1h0M172.0 67.0h0M250.2 87.2h0M87.8 130.2h0M223.8 79.6h0M129.5 15.6h0M75.1 125.7h0M172.7 110.0h0M120.6 84.2h0M162.7 97.9h0M91.3 53.1h0M176.4 71.2h0M204.2 57.0h0M116.0 114.2h0M150.6 44.4h0M200.2 16.4h0M187.6 70.2h0M153.1 131.5h0M212.2 64.5h0M118.0 18.2h0M216.2 26.9h0M212.5 28.2h0M111.2 116.8h0M106.9 62.8h0M166.7 82.9h0M140.2 147.7h0M230.2 6.6h0M210.9 77.9h0M127.0 33.9h0M96.8 2.0h0M190.8 59.2h0M193.7 139.7h0M148.9 40.3h0M114.3 70.3h0M138.3 107.2h0M67.4 1.7h0M172.4 56.4h0M204.3 26.6h0M249.0 105.7h0M68.4 128.6h0M185.2 142.0h0M114.0 72.3h0M204.1 85.0h0M177.0 47.6h0M243.8 59.5h0M122.4 33.4h0M126.8 47.7h0M143.3 86.3h0M211.8 108.2h0M180.7 61.6h0M71.8 77.0h0M67.0 37.2h0M185.5 76.3h0M179.2 20.5h0M197.3 26.0h0M216.0 0.0h0M103.9 56.9h0M198.3 82.0h0M187.5 100.6h0M73.5 87.5h0M121.5 65.2h0M117.1 40.2h0M171.1 140.1h0M142.3 16.3h0M169.1 73.4h0M215.7 85.6h0M213.5 82.2h0M250.1 79.8h0M82.9 107.4h0M198.4 135.9h0M145.1 72.3h0M250.7 86.3h0M234.6 31.0h0M107.6 92.8h0M232.9 81.4h0M198.1 27.7h0M71.0 78.6h0M237.5 72.8h0M191.1 114.5h0M102.1 63.0h0M188.0 58.2h0M236.6 58.6h0M153.1 109.8h0M78.0 27.0h0M202.2 43.9h0M76.9 127.4h0M169.2 5.3h0M210.9 99.9h0M150.9 115.8h0M159.8 9.6h0M160.7 4.1h0M183.2 29.7h0M171.5 57.7h0M244.4 106.2h0M201.1 16.5h0M213.6 29.4h0M199.3 94.8h0M137.5 103.1h0M228.8 63.7h0M134.4 105.4h0M194.1 132.5h0M171.0 7.2h0M249.5 138.9h0M144.2 73.1h0M122.2 146.7h0M238.8 53.3h0M72.2 113.0h0M148.7 61.4h0M235.8 95.2h0M104.6 70.2h0M125.0 110.5h0M128.9 106.9h0M214.9 53.8h0M143.3 52.6h0M121.2 120.9h0M76.2 49.0h0M217.3 63.5h0M200.1 88.4h0M200.5 145.7h0M219.8 134.0h0M72.6 106.9h0M181.7 18.1h0M88.7 112.1h0M194.1 29.2h0M67.5 55.3h0M91.9 36.6h0M212.0 113.3h0M218.6 102.6h0M186.5 98.7h0M91.6 80.5h0M80.9 48.5h0M90.0 87.4h0M99.9 106.6h0M252.9 63.6h0M245.3 120.7h0M94.6 69.7h0M172.6 92.6h0M126.8 3.2h0M119.8 128.0h0M139.9 33.3h0M148.0 97.2h0M156.5 37.7h0M236.5 12.1h0M161.0 62.1h0M207.1 62.1h0M72.6 12.1h0M214.8 9.0h0M127.8 54.8h0M111.3 146.3h0M141.2 100.3h0M136.1 82.8h0M148.1 87.4h0M87.1 42.8h0M249.3 59.6h0M172.4 21.7h0M224.5 52.7h0M228.1 1.2h0M149.1 60.3h0M170.6 82.2h0M164.0 43.3h0M194.5 104.8h0M122.0 128.3h0M207.5 80.9h0M155.7 58.0h0M136.4 40.5h0M129.7 12.3h0M170.2 96.5h0M148.8 74.0h0M158.5 144.9h0M173.6 46.0h0M215.1 112.4h0M148.7 24.5h0M125.4 37.1h0M204.4 110.7h0M249.1 72.0h0M232.0 93.6h0M191.7 141.1h0M72.7 118.9h0M102.9 28.2h0M75.6 6.7h0M201.1 111.7h0M230.3 1.2h0M238.5 93.6h0M120.4 102.3h0M125.2 72.8h0M157.4 95.2h0M166.7 140.4h0M248.1 104.8h0M98.1 144.0h0M221.9 22.9h0M168.8 11.0h0M133.9 95.1h0M121.7 31.7h0M225.7 125.9h0M217.6 95.3h0M96.3 124.0h0M116.5 86.6h0M117.1 66.7h0M104.9 84.7h0M99.5 111.7h0M195.0 131.8h0M180.4 59.5h0M111.5 90.7h0M217.0 71.2h0M145.6 140.4h0M244.1 132.0h0M247.7 26.1h0M69.2 32.5h0M156.5 22.8h0M206.2 33.8h0M132.7 74.6h0M80.1 108.9h0M249.4 27.0h0M185.6 144.9h0M174.8 63.5h0M178.3 139.2h0M217.4 53.8h0M91.5 44.2h0M172.0 35.6h0M201.9 108.2h0M160.1 20.7h0M67.8 127.8h0M73.1 57.6h0M207.1 44.8h0M244.2 7.8h0M210.1 111.0h0M72.1 125.2h0M219.3 14.4h0M151.2 57.3h0M189.7 37.5h0M105.6 37.7h0M120.3 4.3h0M163.0 28.0h0M220.9 137.1h0M217.8 73.7h0M186.8 94.1h0M117.9 101.1h0M96.6 46.3h0M98.4 66.1h0M73.7 51.0h0M170.8 114.1h0M97.0 132.3h0M172.0 63.4h0M106.6 20.7h0M188.1 17.9h0M134.8 86.1h0M206.8 68.2h0M100.7 63.2h0M97.3 36.8h0M228.5 95.4h0M136.7 93.7h0M235.1 21.8h0M90.5 113.5h0M207.2 3.6h0M149.5 118.8h0M181.4 102.4h0M78.6 114.7h0M84.9 21.5h0M194.1 27.7h0M222.0 17.9h0M237.7 126.3h0M212.3 29.2h0M170.8 95.9h0M213.6 51.1h0M183.2 108.2h0M154.8 102.5h0M241.9 116.8h0M95.0 25.4h0M233.7 117.6h0M106.5 86.6h0M101.3 110.7h0M210.4 107.7h0M134.4 76.7h0M133.7 38.6h0M180.2 59.6h0M106.9 54.2h0M222.2 19.7h0M167.9 40.7h0M251.8 48.3h0M88.2 74.8h0M131.9 106.4h0M235.2 15.3h0M72.0 72.9h0M217.3 96.3h0M98.3 112.1h0M152.2 136.7h0M205.5 130.3h0M108.0 134.3h0M160.2 39.5h0M241.5 97.5h0M122.6 129.2h0M236.6 67.3h0M114.7 69.1h0M147.1 147.7h0M74.7 141.8h0M244.6 52.0h0M133.3 124.6h0M99.7 91.1h0M252.0 123.2h0M166.0 107.9h0M206.1 46.4h0M199.7 114.5h0M182.3 147.5h0M213.2 28.7h0M117.6 22.0h0M230.8 70.6h0M163.8 45.9h0M139.6 37.8h0M200.3 142.7h0M104.5 33.8h0M128.1 53.6h0M162.6 81.5h0M155.5 8.1h0M184.4 52.5h0M242.1 8.1h0M90.5 114.5h0M231.6 139.2h0M222.3 9.4h0M79.8 52.6h0M213.6 52.9h0M188.9 96.9h0M119.0 104.5h0M203.8 36.0h0M77.6 72.8h0M143.2 8.8h0M251.7 19.6h0M190.8 113.7h0M208.1 83.4h0M135.2 28.6h0M233.3 21.7h0M125.7 101.6h0M111.0 39.1h0M68.7 146.8h0M67.6 83.4h0M88.7 72.2h0M105.7 146.2h0M164.0 0.5h0M199.2 141.3h0M71.6 51.5h0M172.5 147.3h0M105.9 33.5h0M234.3 147.7h0M174.2 93.3h0M97.5 127.1h0M128.6 104.5h0M194.3 41.8h0M104.7 143.5h0M84.6 8.2h0M116.1 90.1h0M106.7 104.1h0M197.4 139.3h0M231.7 6.2h0M231.0 79.2h0M203.5 138.1h0M247.7 119.0h0M149.5 132.6h0M78.1 137.9h0M101.0 55.0h0M86.0 123.0h0M73.8 84.8h0M250.4 112.4h0M122.3 95.1h0M188.0 107.1h0M82.7 47.0h0M170.2 121.9h0M118.4 41.6h0M119.9 68.9h0M228.4 79.6h0M111.1 78.7h0M106.2 66.6h0M113.8 128.1h0M211.8 25.5h0M217.1 61.9h0M193.0 51.6h0M172.3 11.5h0M162.4 85.1h0M84.5 6.9h0M170.2 19.5h0M223.0 125.4h0M185.3 24.0h0M226.1 22.5h0M93.1 37.3h0M116.2 70.9h0M76.5 43.7h0M109.1 21.5h0M175.2 69.0h0M82.9 25.7h0M250.5 123.7h0M91.2 117.9h0M112.4 100.1h0M110.1 118.4h0M79.0 45.2h0M80.2 99.0h0M75.5 71.2h0M131.0 35.6h0M87.4 86.8h0M114.2 40.0h0M137.9 22.8h0M230.5 67.3h0M155.3 100.1h0M203.7 9.7h0M99.3 65.9h0M105.2 107.6h0M143.9 113.0h0M88.7 92.8h0M83.9 66.3h0M179.0 25.2h0M170.8 56.1h0M121.4 64.1h0M246.2 144.9h0M188.9 78.8h0M224.3 100.8h0M236.6 134.7h0M214.2 112.2h0M180.7 26.1h0M149.3 111.4h0M73.8 44.4h0M91.9 121.5h0M210.9 35.2h0M232.8 127.5h0M162.6 109.1h0M161.2 131.5h0M107.5 76.4h0M178.6 41.5h0M175.2 69.1h0M200.0 36.7h0M88.3 94.0h0M123.6 24.6h0M124.9 104.5h0M107.0 82.4h0M136.7 80.5h0M69.7 40.0h0M101.1 101.0h0M191.6 139.0h0M106.5 77.7h0M145.8 59.2h0M87.6 14.6h0M161.6 147.0h0M159.1 108.5h0M86.3 36.0h0M82.7 40.6h0M147.9 44.9h0M151.1 97.9h0M241.3 82.6h0M198.5 69.9h0M104.3 147.9h0M233.8 57.5h0M184.4 37.1h0M97.7 126.0h0M201.3 40.0h0M114.1 133.4h0M158.4 66.7h0M127.1 131.4h0M170.2 73.4h0M233.3 8.2h0M117.7 124.3h0M105.9 124.1h0M160.5 56.9h0M86.9 58.2h0M251.2 58.3h0M231.8 103.7h0M154.8 2.3h0M139.3 139.7h0M245.7 47.1h0M133.6 124.7h0M199.1 24.7h0M220.2 11.4h0M157.5 127.5h0M106.9 56.7h0M224.9 48.4h0M107.1 10.6h0M153.3 8.8h0M235.4 33.6h0M150.1 3.4h0M227.4 13.8h0M133.8 16.6h0M86.8 145.6h0M179.9 56.5h0M219.6 48.9h0M95.1 23.5h0M80.1 54.4h0M143.0 26.0h0M134.6 46.0h0M165.9 34.5h0M247.7 36.8h0M114.9 12.4h0M177.6 19.3h0M206.3 38.4h0M231.8 72.4h0M175.6 3.4h0M223.3 82.2h0M115.8 22.9h0M246.9 99.7h0M147.2 68.4h0M206.1 17.1h0M169.6 59.3h0M160.3 103.2h0M180.7 40.8h0M143.9 52.9h0M156.9 117.9h0M128.4 118.5h0M161.4 22.1h0M94.7 72.2h0M195.5 3.3h0M247.8 71.8h0M214.7 23.0h0M84.1 75.8h0M148.0 56.7h0M212.3 50.1h0M205.8 64.9h0M128.3 49.3h0M68.0 140.4h0M140.8 92.2h0M169.7 22.3h0M198.3 26.5h0M68.2 49.4h0M134.8 6.2h0M202.3 65.6h0M128.9 64.9h0M246.1 147.4h0M231.5 139.4h0M185.6 119.8h0M218.0 48.7h0M140.5 100.2h0M226.6 79.4h0M116.8 2.7h0M103.8 144.8h0M93.7 114.0h0M251.7 63.9h0M111.7 2.4h0M165.6 127.4h0M81.9 97.9h0M211.0 26.2h0M158.2 59.3h0M213.9 67.4h0M213.9 82.1h0M71.0 129.6h0M122.3 32.8h0M227.0 105.7h0M125.9 12.9h0M131.1 101.2h0M74.3 6.8h0M73.8 70.2h0M146.3 42.3h0M210.2 88.1h0M222.2 43.5h0M133.2 87.8h0M186.4 103.8h0M89.0 58.0h0M150.2 92.2h0M100.2 47.8h0M246.5 106.6h0M247.6 40.0h0M229.9 10.4h0M175.4 57.7h0M241.4 132.9h0M109.8 5.2h0M82.0 103.1h0M235.0 9.1h0M79.6 25.7h0M82.4 20.7h0M173.4 10.8h0M169.9 13.6h0M123.0 31.8h0M186.5 67.3h0M158.0 96.8h0M248.4 34.7h0M168.9 145.4h0M187.0 37.8h0M103.3 0.2h0M176.2 33.2h0M78.5 34.8h0M143.0 130.9h0M175.8 44.0h0M232.6 71.9h0M218.0 24.6h0M177.9 109.9h0M109.0 50.7h0M225.2 56.9h0M134.7 23.9h0M215.2 89.5h0M149.0 8.7h0M189.3 19.0h0M70.4 80.2h0M132.4 42.5h0M114.1 53.3h0M174.9 124.2h0M234.1 19.0h0M73.0 102.5h0M244.0 58.9h0M190.3 129.8h0M75.2 138.4h0M91.1 0.3h0M189.4 69.7h0M109.9 4.2h0M190.1 119.4h0M149.2 37.1h0M209.4 79.8h0M225.8 45.5h0M116.8 29.2h0M194.8 54.4h0M215.8 66.1h0M94.6 125.7h0M68.0 9.6h0M140.1 76.0h0M155.0 92.5h0M114.0 25.6h0M150.8 137.6h0M145.2 86.4h0M117.5 59.3h0M72.2 32.6h0M231.1 101.0h0M127.5 129.9h0M70.8 142.7h0M72.2 116.9h0M72.4 114.1h0M200.9 96.8h0M181.3 14.8h0M189.8 136.0h0M130.8 122.0h0M124.2 23.6h0M226.1 27.0h0M246.1 117.3h0M249.2 32.6h0M249.8 129.2h0M231.5 122.4h0M131.0 20.1h0M181.0 113.1h0M167.3 114.3h0M149.8 13.8h0M232.2 143.4h0M141.6 141.9h0M84.8 22.6h0M79.6 60.9h0M235.8 29.1h0M240.2 95.5h0M165.6 129.5h0M139.9 52.4h0M243.4 53.5h0M214.7 112.7h0M155.1 93.7h0M175.5 103.6h0M201.4 98.8h0M158.5 85.8h0M214.0 94.1h0M239.5 89.4h0M198.9 33.8h0M72.8 45.2h0M90.0 43.0h0M178.8 19.1h0M247.9 84.7h0M145.3 105.5h0M182.8 104.2h0M177.1 135.2h0M148.4 53.9h0M119.9 117.2h0M69.5 118.3h0M125.9 78.2h0M165.1 91.8h0M161.6 107.5h0M146.3 96.7h0M71.4 88.4h0M248.8 25.2h0M219.8 130.3h0M221.9 110.4h0M229.5 79.0h0M76.7 112.3h0M214.6 3.3h0M215.2 11.3h0M180.1 138.0h0M190.1 66.2h0M181.2 132.4h0M95.6 16.8h0M182.9 4.8h0M129.6 34.5h0M219.0 0.6h0M240.9 142.7h0M170.0 93.3h0M249.8 143.5h0M190.4 74.4h0M91.3 124.8h0M83.6 135.3h0M81.7 139.1h0M224.0 132.3h0M172.2 144.2h0M176.1 145.6h0M206.2 32.7h0M127.1 41.1h0M245.1 104.2h0M244.1 60.3h0M225.3 90.4h0M98.4 73.4h0M129.3 27.8h0M152.3 135.0h0M224.1 30.5h0M252.3 20.5h0M246.6 100.5h0M97.9 49.4h0M95.7 95.3h0M123.1 70.6h0M128.4 137.8h0M195.7 5.5h0M72.1 112.6h0M248.1 138.4h0M122.2 129.8h0M220.1 147.5h0M190.5 108.5h0M73.0 137.7h0M243.4 107.4h0M244.7 91.1h0M86.2 109.3h0M234.5 94.0h0M150.7 37.9h0M195.0 58.4h0M172.3 72.9h0M189.5 128.7h0M121.7 115.5h0M147.7 104.7h0M115.2 33.9h0M189.4 63.4h0M191.6 32.2h0M184.9 135.8h0M69.2 41.7h0M166.7 139.1h0M115.0 44.4h0M79.5 47.6h0M144.8 4.7h0M203.1 93.0h0M163.8 114.0h0M165.6 105.6h0M200.0 91.0h0M236.2 61.3h0M135.6 1.1h0M153.9 95.8h0M111.8 17.5h0M228.8 110.6h0M101.7 81.6h0M197.8 77.0h0M168.7 56.0h0M239.2 11.9h0M195.2 67.3h0M93.2 126.3h0M217.7 70.8h0M214.5 26.0h0M91.7 44.3h0M172.5 2.9h0M124.4 79.5h0M103.1 75.6h0M249.4 144.5h0M90.2 3.4h0M203.2 51.2h0M166.3 91.1h0M128.4 103.3h0M231.1 63.5h0M191.1 80.3h0M81.1 75.0h0M138.1 4.1h0M170.9 21.2h0M125.4 50.2h0M183.0 50.6h0M243.2 64.7h0M143.4 74.7h0M214.1 46.5h0M184.8 96.3h0M133.2 28.0h0M72.5 13.0h0M212.5 72.9h0M204.9 124.1h0M90.3 72.3h0M176.1 103.2h0M112.6 36.8h0M236.6 20.0h0M78.5 123.0h0M251.1 32.8h0M70.1 137.3h0M161.3 49.9h0M224.5 136.1h0M246.4 31.2h0M144.1 67.7h0M163.8 72.5h0M217.9 143.8h0M71.9 105.2h0M91.0 93.2h0M115.3 111.8h0M69.4 42.0h0M223.6 121.8h0M141.0 74.4h0M250.1 4.8h0M201.0 136.0h0M208.3 22.7h0M169.9 29.2h0M94.4 32.5h0M190.4 90.3h0M88.1 120.7h0M245.4 24.2h0M70.7 82.1h0M175.2 124.9h0M129.1 89.4h0M226.3 125.0h0M218.8 6.1h0M172.3 18.0h0M138.1 24.8h0M99.5 138.3h0M215.7 103.1h0M235.2 2.0h0M212.3 35.5h0M226.5 147.5h0M251.7 138.6h0M132.6 39.2h0M237.8 54.6h0M79.7 16.1h0M155.3 85.2h0M193.4 68.8h0M125.7 34.9h0M147.6 134.8h0M161.8 135.3h0M161.2 84.3h0M218.6 11.6h0M156.1 140.7h0M135.7 15.7h0M131.8 62.5h0M128.2 16.1h0M208.8 58.7h0M86.5 8.2h0M200.6 75.0h0M198.3 90.5h0M164.8 92.6h0M159.0 96.9h0M127.2 142.7h0M156.8 100.4h0M155.0 119.8h0M137.5 124.2h0M70.0 88.6h0M211.1 16.9h0M167.1 143.9h0M85.1 97.3h0M215.8 138.2h0M114.1 9.4h0M215.7 114.7h0M161.1 59.7h0M67.0 112.4h0M244.9 112.4h0M124.0 141.1h0M94.9 95.6h0M88.1 144.3h0M101.8 129.8h0M92.4 125.0h0M146.9 24.0h0M127.4 107.2h0M201.3 127.9h0M136.5 125.4h0M215.9 59.0h0M91.2 47.9h0M207.7 32.9h0M184.6 75.2h0M187.4 42.4h0M115.8 66.5h0M149.4 1.2h0M102.2 116.3h0M88.8 84.9h0M211.7 91.2h0M154.1 34.1h0M131.9 97.8h0M236.7 82.6h0M189.8 9.6h0M152.2 124.2h0M202.5 14.5h0M103.6 93.0h0M89.8 77.0h0M163.8 38.5h0M103.8 68.4h0M67.3 62.5h0M207.4 145.1h0M108.3 39.6h0M138.2 120.1h0M202.3 142.2h0M116.9 56.0h0M242.5 48.3h0M141.7 63.1h0M102.4 24.7h0M172.2 115.0h0M113.0 97.9h0M214.6 68.7h0M236.6 38.7h0M194.6 108.3h0M76.3 141.1h0M233.1 109.6h0M165.2 19.9h0M101.8 110.5h0M174.9 55.7h0M225.3 84.6h0M198.0 42.9h0M188.5 72.4h0M86.2 59.2h0M143.7 44.7h0M219.2 4.9h0M183.7 57.9h0M113.9 50.9h0M228.8 104.6h0M191.1 25.1h0M184.4 63.7h0M219.6 26.1h0M83.0 122.8h0M67.1 30.1h0M78.6 98.4h0M140.0 77.4h0M208.9 16.8h0M206.5 43.8h0M192.6 96.1h0M195.1 89.8h0M184.1 27.6h0M238.7 64.7h0M100.8 46.0h0M138.7 88.3h0M68.0 88.3h0M148.8 106.2h0M150.0 107.0h0M219.9 27.0h0M214.7 11.2h0M118.3 116.7h0M109.1 114.4h0M118.6 121.7h0M93.0 130.0h0M245.3 128.4h0M91.6 123.5h0M215.2 54.8h0M176.2 39.7h0M229.9 130.2h0M199.8 115.5h0M117.2 37.7h0M247.0 57.7h0M97.6 136.6h0M107.1 122.9h0M143.5 46.6h0M102.6 92.4h0M115.3 106.1h0M92.6 69.9h0M88.5 81.5h0M90.8 55.0h0M152.4 123.2h0M98.1 124.4h0M145.4 0.8h0M124.7 32.1h0M118.8 106.9h0M112.0 100.2h0M141.4 103.3h0M212.0 141.5h0M224.9 132.6h0M202.6 98.3h0M236.4 109.7h0M234.5 145.7h0M109.3 108.0h0M165.7 2.9h0M186.5 49.5h0M77.2 20.9h0M160.9 64.8h0M96.0 117.9h0M218.6 22.7h0M68.3 3.2h0M107.4 25.7h0M139.9 69.0h0M215.4 91.4h0M120.6 135.8h0M188.7 118.2h0M96.2 114.6h0M196.4 111.5h0M192.0 42.5h0M142.4 37.3h0M171.8 60.1h0M181.8 73.8h0M177.3 1.8h0M154.9 146.9h0M193.9 38.7h0M240.7 90.9h0M207.8 133.7h0M152.9 38.5h0M235.0 131.4h0M85.2 119.7h0M114.7 17.7h0M200.1 12.2h0M224.9 26.5h0M154.0 3.8h0M147.2 7.0h0M203.2 16.5h0M204.0 146.7h0M192.8 3.7h0M112.4 93.7h0M251.1 147.8h0M102.4 41.0h0M185.3 108.3h0M243.3 32.2h0M170.9 87.8h0M122.3 84.7h0M206.4 29.5h0M169.6 29.8h0M78.5 75.9h0M88.3 116.0h0M204.5 86.6h0M239.9 139.0h0M93.3 118.8h0M138.0 71.9h0M243.3 79.7h0M184.5 116.3h0M97.6 86.9h0M182.6 27.0h0M219.4 30.6h0M124.4 8.3h0M76.9 38.4h0M215.0 60.0h0M162.3 30.8h0M235.1 37.9h0M89.5 46.2h0M144.5 71.0h0M95.4 143.0h0M159.2 134.0h0M182.9 78.0h0M234.9 138.4h0M95.9 34.4h0M144.2 119.2h0M213.8 94.9h0M146.4 115.8h0M139.7 92.4h0M247.1 38.7h0M241.9 79.5h0M233.2 116.4h0M76.4 127.5h0M188.1 73.3h0M153.6 2.7h0M196.6 9.9h0M173.8 101.5h0M70.7 104.1h0M215.2 140.0h0M207.1 81.5h0M188.1 13.9h0M180.2 43.5h0M105.8 96.0h0M206.6 62.4h0M236.1 78.9h0M188.5 86.0h0M203.7 120.2h0M167.8 3.8h0M101.8 7.3h0M221.6 115.6h0M146.8 125.9h0M140.3 127.3h0M119.2 78.1h0M161.4 52.6h0M189.9 19.4h0M121.8 78.3h0M212.2 144.7h0M116.9 138.2h0M229.4 0.8h0M134.6 136.4h0M142.2 60.0h0M172.6 125.0h0M152.1 85.9h0M69.7 50.8h0M186.1 9.6h0M128.8 52.9h0M234.9 62.7h0M202.5 89.1h0M241.3 51.0h0M215.5 142.2h0M161.8 8.4h0M218.2 50.4h0M116.8 108.7h0M105.5 75.6h0M189.7 106.1h0M72.0 48.1h0M243.6 143.9h0M90.8 50.0h0M186.1 35.2h0M214.1 67.1h0M230.5 45.2h0M243.7 140.4h0M75.3 35.9h0M188.2 121.8h0M132.4 10.3h0M214.2 14.5h0M222.7 79.5h0M228.1 2.6h0M197.4 17.8h0M136.3 78.9h0M203.2 99.7h0M101.6 37.4h0M159.1 118.5h0M80.7 55.1h0M231.0 77.0h0M252.9 48.0h0M141.8 0.1h0M159.1 21.7h0M225.6 12.1h0M216.4 123.3h0M145.7 33.7h0M227.9 107.6h0M80.0 10.1h0M176.0 38.6h0M220.3 138.1h0M178.0 61.3h0M166.1 56.7h0M135.5 92.2h0M160.0 34.2h0M108.3 120.5h0M72.7 123.2h0M75.4 100.9h0M230.3 136.1h0M119.5 9.0h0M209.8 32.8h0M155.6 145.6h0M134.8 10.2h0M129.9 66.7h0M68.7 2.3h0M81.1 103.9h0M202.7 108.3h0M120.6 27.9h0M185.8 95.1h0M160.3 40.7h0M126.3 147.3h0M111.4 29.9h0M215.9 95.0h0M180.2 135.2h0M79.9 15.3h0M101.6 145.5h0M118.9 143.8h0M151.2 1.1h0M232.6 117.2h0M225.1 3.3h0M147.6 103.5h0M218.3 77.2h0M248.7 4.6h0M218.2 74.8h0M95.5 74.2h0M194.9 113.2h0M81.2 0.6h0M207.6 37.4h0M247.8 105.5h0M209.9 116.5h0M123.0 82.3h0M136.9 132.1h0M101.5 135.7h0M144.0 76.6h0M237.3 69.6h0M138.4 65.6h0M104.4 9.2h0M93.1 114.7h0M79.5 79.8h0M206.3 60.0h0M203.0 127.7h0M138.5 24.1h0M213.0 136.1h0M181.2 94.0h0M69.8 106.3h0M236.4 57.7h0M72.6 80.6h0M117.0 34.9h0M86.6 134.5h0M226.8 0.9h0M169.1 147.3h0M205.1 5.3h0M94.5 107.9h0M124.0 13.5h0M129.6 124.4h0M96.4 9.9h0M249.6 119.6h0M234.9 61.2h0M99.2 13.8h0M164.9 16.9h0M249.8 76.1h0M80.1 47.1h0M110.7 99.6h0M248.8 7.4h0M95.2 70.7h0M212.0 111.3h0M67.5 90.8h0M215.2 29.7h0M165.0 95.1h0M249.0 117.9h0M217.1 6.5h0M179.9 139.8h0M248.1 69.6h0M205.9 141.8h0M207.4 49.5h0M120.5 26.2h0M73.2 116.3h0M119.5 110.0h0M136.4 18.6h0M205.2 55.8h0M226.6 140.8h0M162.3 57.0h0M226.3 46.3h0M244.8 72.3h0M82.0 88.7h0M210.6 28.3h0M90.6 35.8h0M187.7 67.5h0M133.3 67.0h0M218.3 84.8h0M69.4 91.0h0M154.6 49.9h0M77.7 136.5h0M110.5 103.8h0M207.4 107.1h0M146.7 136.9h0M207.2 22.7h0M90.1 127.0h0M86.0 25.7h0M189.5 12.9h0M94.4 82.9h0M245.6 34.4h0M161.2 110.0h0M186.7 104.8h0M188.3 137.9h0M239.9 144.9h0M223.7 28.1h0M246.2 55.3h0M207.0 16.7h0M164.0 34.0h0M243.6 50.8h0M145.9 135.9h0M198.3 55.2h0M84.2 26.5h0M107.6 64.4h0M226.2 54.8h0M91.1 129.1h0M174.5 130.4h0M67.7 49.1h0M233.4 64.2h0M161.5 47.0h0M85.2 85.1h0M157.6 30.2h0M174.2 133.9h0M110.4 8.5h0M147.8 6.2h0M173.9 85.2h0M196.1 104.9h0M85.4 9.8h0M164.7 66.7h0M131.6 66.5h0M249.1 101.4h0M227.4 15.8h0M161.1 39.3h0M124.3 72.7h0M167.4 85.7h0M197.7 44.1h0M101.9 132.8h0M162.5 66.7h0M108.0 132.8h0M187.2 122.3h0M195.6 129.5h0M215.3 30.1h0M165.4 125.2h0M88.0 49.9h0M193.8 10.1h0M93.2 79.6h0M186.9 25.5h0M214.2 43.8h0M146.5 96.9h0M77.7 134.2h0M208.4 14.6h0M186.3 26.2h0M236.5 110.9h0M251.4 118.4h0"/>
</g>
<g filter="url(#cloud)"><ellipse cx="132" cy="66" rx="52" ry="46" fill="#7c7c7c" opacity="0.3"/></g>
</g>
<g clip-path="url(#cr)">
<g filter="url(#emb)">
<rect x="314" y="-20" width="226" height="187" fill="#a2a2a2"/>
<g filter="url(#cloud)"><ellipse cx="380" cy="35" rx="38" ry="32" fill="#aaaaaa" opacity="0.8"/><ellipse cx="400" cy="100" rx="25" ry="20" fill="#a6a6a6" opacity="0.6"/><ellipse cx="480" cy="60" rx="45" ry="60" fill="#929292" opacity="0.75"/><ellipse cx="490" cy="135" rx="40" ry="20" fill="#898989" opacity="0.8"/><ellipse cx="350" cy="135" rx="25" ry="14" fill="#8f8f8f" opacity="0.6"/><ellipse cx="505" cy="12" rx="22" ry="16" fill="#8a8a8a" opacity="0.7"/></g>
</g>
<g filter="url(#soft2)">
<circle cx="347.7" cy="19.2" r="1.6" fill="#1e1e1e"/><circle cx="357.7" cy="17.3" r="0.85" fill="#6a6a6a"/><circle cx="355.8" cy="19.5" r="0.85" fill="#6a6a6a"/><circle cx="353.8" cy="31.7" r="1.6" fill="#1e1e1e"/><circle cx="353.3" cy="34.8" r="1.6" fill="#1e1e1e"/><circle cx="360.6" cy="34.2" r="0.85" fill="#6a6a6a"/><circle cx="391.3" cy="28.8" r="1.15" fill="#3a3a3a"/><circle cx="398" cy="29.2" r="1.15" fill="#3a3a3a"/><circle cx="400" cy="15.4" r="0.85" fill="#6a6a6a"/><circle cx="403.8" cy="15.8" r="0.85" fill="#6a6a6a"/><circle cx="420.2" cy="33.7" r="1.15" fill="#3a3a3a"/><circle cx="363.5" cy="46.2" r="1.15" fill="#3a3a3a"/><circle cx="372.1" cy="50.6" r="1.15" fill="#3a3a3a"/><circle cx="355.4" cy="52.9" r="1.15" fill="#3a3a3a"/><circle cx="364.4" cy="60" r="1.15" fill="#3a3a3a"/><circle cx="367.7" cy="61.5" r="1.15" fill="#3a3a3a"/><circle cx="374.6" cy="60.6" r="0.85" fill="#6a6a6a"/><circle cx="400" cy="53.8" r="1.15" fill="#3a3a3a"/><circle cx="401.9" cy="56.7" r="1.15" fill="#3a3a3a"/><circle cx="404.8" cy="48" r="0.85" fill="#6a6a6a"/><circle cx="417.3" cy="55.8" r="1.15" fill="#3a3a3a"/><circle cx="421" cy="57.7" r="1.15" fill="#3a3a3a"/><circle cx="424" cy="53.8" r="0.85" fill="#6a6a6a"/><circle cx="381.7" cy="70.8" r="1.15" fill="#3a3a3a"/><circle cx="390.4" cy="70.2" r="0.85" fill="#6a6a6a"/><circle cx="343.3" cy="76.5" r="1.15" fill="#3a3a3a"/><circle cx="356.7" cy="77" r="1.6" fill="#1e1e1e"/><circle cx="408.7" cy="76.5" r="1.6" fill="#1e1e1e"/><circle cx="410.6" cy="67.3" r="0.85" fill="#6a6a6a"/><circle cx="422" cy="65.4" r="0.85" fill="#6a6a6a"/><circle cx="347" cy="1" r="1.15" fill="#3a3a3a"/><circle cx="486.3" cy="2.9" r="1.6" fill="#1e1e1e"/><circle cx="504.6" cy="2.9" r="1.6" fill="#1e1e1e"/><circle cx="505.6" cy="8.7" r="1.15" fill="#3a3a3a"/><circle cx="456.2" cy="14.4" r="1.6" fill="#1e1e1e"/><circle cx="469.6" cy="19.2" r="1.6" fill="#1e1e1e"/><circle cx="516" cy="10.6" r="1.15" fill="#3a3a3a"/><circle cx="483.5" cy="24" r="1.15" fill="#3a3a3a"/><circle cx="475.8" cy="26.9" r="0.85" fill="#6a6a6a"/><circle cx="467" cy="28.8" r="0.85" fill="#6a6a6a"/><circle cx="455.6" cy="29.8" r="0.85" fill="#6a6a6a"/><circle cx="504.6" cy="23" r="1.15" fill="#3a3a3a"/><circle cx="503.7" cy="28.8" r="1.15" fill="#3a3a3a"/><circle cx="453.7" cy="34.6" r="1.6" fill="#1e1e1e"/><circle cx="465.2" cy="35.6" r="1.15" fill="#3a3a3a"/><circle cx="477.7" cy="35.6" r="1.15" fill="#3a3a3a"/><circle cx="481.5" cy="34.2" r="1.15" fill="#3a3a3a"/><circle cx="442.7" cy="32.7" r="1.15" fill="#3a3a3a"/><circle cx="494" cy="39.4" r="1.15" fill="#3a3a3a"/><circle cx="499.8" cy="45.2" r="1.15" fill="#3a3a3a"/><circle cx="456.5" cy="44.2" r="1.6" fill="#1e1e1e"/><circle cx="450.8" cy="46.2" r="1.15" fill="#3a3a3a"/><circle cx="451.7" cy="49" r="1.15" fill="#3a3a3a"/><circle cx="440.2" cy="49" r="1.15" fill="#3a3a3a"/><circle cx="444" cy="51" r="0.85" fill="#6a6a6a"/><circle cx="434.4" cy="51" r="1.15" fill="#3a3a3a"/><circle cx="463.3" cy="51" r="0.85" fill="#6a6a6a"/><circle cx="487.3" cy="51" r="1.15" fill="#3a3a3a"/><circle cx="493" cy="51.9" r="1.15" fill="#3a3a3a"/><circle cx="497.9" cy="51" r="1.15" fill="#3a3a3a"/><circle cx="510.4" cy="52.9" r="1.15" fill="#3a3a3a"/><circle cx="515.2" cy="48" r="1.15" fill="#3a3a3a"/><circle cx="423.8" cy="53.8" r="0.85" fill="#6a6a6a"/><circle cx="429.6" cy="55.8" r="1.15" fill="#3a3a3a"/><circle cx="449.8" cy="54.8" r="0.85" fill="#6a6a6a"/><circle cx="426.7" cy="61.5" r="1.15" fill="#3a3a3a"/><circle cx="428.7" cy="64.4" r="1.15" fill="#3a3a3a"/><circle cx="425.8" cy="66.3" r="1.15" fill="#3a3a3a"/><circle cx="431.5" cy="67.3" r="0.85" fill="#6a6a6a"/><circle cx="445" cy="64.4" r="0.85" fill="#6a6a6a"/><circle cx="448.8" cy="67.3" r="0.85" fill="#6a6a6a"/><circle cx="461.3" cy="67.3" r="1.15" fill="#3a3a3a"/><circle cx="485.4" cy="61.5" r="0.85" fill="#6a6a6a"/><circle cx="497.9" cy="57.7" r="1.15" fill="#3a3a3a"/><circle cx="503.7" cy="62.5" r="1.15" fill="#3a3a3a"/><circle cx="500.8" cy="68.3" r="0.85" fill="#6a6a6a"/><circle cx="496.9" cy="74" r="1.15" fill="#3a3a3a"/><circle cx="517" cy="74" r="1.15" fill="#3a3a3a"/><circle cx="507.5" cy="76" r="1.15" fill="#3a3a3a"/><circle cx="387.5" cy="89.4" r="1.6" fill="#1e1e1e"/><circle cx="403.8" cy="93.3" r="1.15" fill="#3a3a3a"/><circle cx="373" cy="95.2" r="1.15" fill="#3a3a3a"/><circle cx="367.3" cy="97.1" r="1.15" fill="#3a3a3a"/><circle cx="349.6" cy="105.4" r="1.15" fill="#3a3a3a"/><circle cx="364.4" cy="114.4" r="1.15" fill="#3a3a3a"/><circle cx="410.6" cy="115.4" r="1.15" fill="#3a3a3a"/><circle cx="390.4" cy="124" r="1.15" fill="#3a3a3a"/><circle cx="397" cy="127.3" r="1.15" fill="#3a3a3a"/><circle cx="406.7" cy="126.5" r="1.6" fill="#1e1e1e"/><circle cx="416.3" cy="125" r="1.6" fill="#1e1e1e"/><circle cx="354.8" cy="136.5" r="1.15" fill="#3a3a3a"/><circle cx="412.5" cy="138.8" r="1.6" fill="#1e1e1e"/><circle cx="390.4" cy="141.3" r="1.15" fill="#3a3a3a"/><circle cx="362.5" cy="144.2" r="1.15" fill="#3a3a3a"/><circle cx="402.9" cy="77" r="1.15" fill="#3a3a3a"/><circle cx="412.5" cy="80.8" r="1.15" fill="#3a3a3a"/><circle cx="393" cy="78.8" r="0.85" fill="#6a6a6a"/><circle cx="428.7" cy="76" r="1.15" fill="#3a3a3a"/><circle cx="425.8" cy="96.2" r="1.15" fill="#3a3a3a"/><circle cx="439.2" cy="104.8" r="1.15" fill="#3a3a3a"/><circle cx="454.6" cy="94.2" r="1.15" fill="#3a3a3a"/><circle cx="460.4" cy="93.3" r="1.15" fill="#3a3a3a"/><circle cx="474.8" cy="96.2" r="1.15" fill="#3a3a3a"/><circle cx="485.4" cy="95.2" r="1.15" fill="#3a3a3a"/><circle cx="475.8" cy="102.9" r="1.15" fill="#3a3a3a"/><circle cx="483.5" cy="109.6" r="1.15" fill="#3a3a3a"/><circle cx="459.4" cy="112.5" r="1.15" fill="#3a3a3a"/><circle cx="503.7" cy="98" r="0.85" fill="#6a6a6a"/><circle cx="449.8" cy="123" r="0.85" fill="#6a6a6a"/><circle cx="470" cy="122" r="0.85" fill="#6a6a6a"/><circle cx="432.5" cy="124" r="1.15" fill="#3a3a3a"/><circle cx="494" cy="81.7" r="1.15" fill="#3a3a3a"/><circle cx="486.3" cy="88.5" r="1.15" fill="#3a3a3a"/><circle cx="461.3" cy="82.7" r="1.15" fill="#3a3a3a"/><circle cx="441" cy="81.7" r="1.15" fill="#3a3a3a"/><circle cx="477.7" cy="128.8" r="0.85" fill="#6a6a6a"/><circle cx="483.5" cy="134.6" r="1.15" fill="#3a3a3a"/><circle cx="498.8" cy="130.8" r="1.15" fill="#3a3a3a"/><circle cx="494" cy="139.4" r="1.15" fill="#3a3a3a"/><circle cx="499.8" cy="143.3" r="1.6" fill="#1e1e1e"/><circle cx="469" cy="137.5" r="1.15" fill="#3a3a3a"/><circle cx="433.5" cy="141.3" r="1.15" fill="#3a3a3a"/><circle cx="508.5" cy="116.3" r="0.85" fill="#6a6a6a"/><circle cx="518" cy="118.3" r="1.15" fill="#3a3a3a"/>
</g>
</g>
<text class="b" x="0.6" y="18.4" font-size="24">A</text>
<text class="serif" x="1.2" y="84.5" font-size="16">WT</text>
<text class="serif" x="266.8" y="81.8" font-size="15.8">IL-5trg</text>
<g stroke="#111" stroke-width="1.35" fill="none">
<path d="M58.699999999999996 182.2L57.8 499.8M53.3 495.8H408.5"/>
<path d="M53.8 495.8H58.3M53.8 464.4H58.3M53.8 433.1H58.3M53.8 401.7H58.3M53.8 370.4H58.3M53.8 339.0H58.3M53.8 307.6H58.3M53.8 276.3H58.3M53.8 244.9H58.3M53.8 213.6H58.3M53.8 182.2H58.3M58.3 495.8v4M102.1 495.8v4M145.8 495.8v4M189.6 495.8v4M233.4 495.8v4M277.2 495.8v4M320.9 495.8v4M364.7 495.8v4M408.5 495.8v4"/>
</g>
<g font-size="12" text-anchor="end">
<text x="49.2" y="497.7">0</text><text x="49.3" y="466.3">10</text><text x="49.4" y="435.0">20</text><text x="49.6" y="403.6">30</text><text x="49.7" y="372.3">40</text><text x="49.8" y="340.9">50</text><text x="49.9" y="309.5">60</text><text x="50.0" y="278.2">70</text><text x="50.2" y="246.8">80</text><text x="50.3" y="215.5">90</text><text x="50.4" y="184.1">100</text>
</g>
<g font-size="12" text-anchor="middle">
<text x="79.5" y="514.2">1</text><text x="123.3" y="514.2">2</text><text x="167.0" y="514.2">3</text><text x="210.8" y="514.2">4</text><text x="254.6" y="514.2">5</text><text x="298.3" y="514.2">6</text><text x="342.1" y="514.2">7</text><text x="385.9" y="514.2">8</text>
</g>
<path d="M79.8 469.1V458.2M76.5 469.1h6.6M76.5 458.2h6.6M211.1 464.8V420.8M207.8 464.8h6.6M207.8 420.8h6.6M254.9 336.5V200.4M251.6 336.5h6.6M251.6 200.4h6.6M298.6 443.7V400.2M295.3 443.7h6.6M295.3 400.2h6.6M342.4 474.2V449.1M339.1 474.2h6.6M339.1 449.1h6.6M386.2 483.9V478.2M382.9 483.9h6.6M382.9 478.2h6.6" stroke="#111" stroke-width="1.25" fill="none"/>
<polyline fill="none" stroke="#111" stroke-width="1.5" points="79.8,475.7 123.6,495.5 167.3,495.8 211.1,495.8 254.9,495.8 298.6,495.8 342.4,495.8 386.2,495.8"/>
<polyline fill="none" stroke="#111" stroke-width="1.5" points="79.8,463.8 123.6,495.2 167.3,488.0 211.1,442.5 254.9,268.4 298.6,421.5 342.4,461.9 386.2,481.4"/>
<circle cx="79.8" cy="463.8" r="2.9" fill="#111"/><circle cx="123.6" cy="495.2" r="2.9" fill="#111"/><circle cx="167.3" cy="488.0" r="2.9" fill="#111"/><circle cx="211.1" cy="442.5" r="2.9" fill="#111"/><circle cx="254.9" cy="268.4" r="2.9" fill="#111"/><circle cx="298.6" cy="421.5" r="2.9" fill="#111"/><circle cx="342.4" cy="461.9" r="2.9" fill="#111"/><circle cx="386.2" cy="481.4" r="2.9" fill="#111"/>
<circle cx="79.8" cy="475.7" r="2.3" fill="#fff" stroke="#111" stroke-width="1.25"/><circle cx="123.6" cy="495.5" r="2.3" fill="#fff" stroke="#111" stroke-width="1.25"/><circle cx="167.3" cy="495.8" r="2.3" fill="#fff" stroke="#111" stroke-width="1.25"/><circle cx="211.1" cy="495.8" r="2.3" fill="#fff" stroke="#111" stroke-width="1.25"/><circle cx="254.9" cy="495.8" r="2.3" fill="#fff" stroke="#111" stroke-width="1.25"/><circle cx="298.6" cy="495.8" r="2.3" fill="#fff" stroke="#111" stroke-width="1.25"/><circle cx="342.4" cy="495.8" r="2.3" fill="#fff" stroke="#111" stroke-width="1.25"/><circle cx="386.2" cy="495.8" r="2.3" fill="#fff" stroke="#111" stroke-width="1.25"/>
<path d="M332 213.8H352.6M332 230.9H352.6" stroke="#111" stroke-width="1.4"/>
<circle cx="342.3" cy="213.8" r="2.8" fill="#111"/><circle cx="342.3" cy="230.9" r="2.25" fill="#fff" stroke="#111" stroke-width="1.3"/>
<text class="b" x="355.6" y="215.7" font-size="11.5">WT</text><text class="b" x="355" y="232.8" font-size="11.6">IL-5trg</text>
<text class="b" transform="translate(-1.6 193.4) scale(1.07 1)" font-size="24">B</text>
<text class="b" font-size="12" text-anchor="middle" transform="translate(12.3 359.7) rotate(-90)">cell number/10<tspan font-size="7.5" dy="-4.5">4</tspan><tspan dy="4.5">culture</tspan></text>
<text class="b" font-size="11.65" text-anchor="middle" x="241" y="536.9">weeks/feedings</text>
<g stroke="#333" stroke-width="1.3" fill="none">
<path d="M77.8 572.2V765.4M73.8 763.4H408.4"/>
<path d="M73.5 742.2H77.8M73.5 720.9H77.8M73.5 699.7H77.8M73.5 678.4H77.8M73.5 657.2H77.8M73.5 635.9H77.8M73.5 614.7H77.8M73.5 593.4H77.8M73.5 572.2H77.8M119.1 762.4v4M160.4 762.4v4M201.8 762.4v4M243.1 762.4v4M284.4 762.4v4M325.7 762.4v4M367.0 762.4v4M408.4 762.4v4"/>
</g>
<g font-size="14.3" text-anchor="end">
<text x="70.2" y="766.7">0</text><text x="73.8" y="745.5">200</text><text x="73.8" y="724.2">400</text><text x="73.8" y="703.0">600</text><text x="73.8" y="681.7">800</text><text x="73.8" y="660.5">1000</text><text x="73.8" y="639.2">1200</text><text x="73.8" y="618.0">1400</text><text x="73.8" y="596.7">1600</text><text x="73.8" y="575.5">1800</text>
</g>
<g font-size="14" text-anchor="middle">
<text x="99.1" y="783.4">1</text><text x="140.4" y="783.4">2</text><text x="181.7" y="783.4">3</text><text x="223.0" y="783.4">4</text><text x="264.3" y="783.4">5</text><text x="305.7" y="783.4">6</text><text x="347.0" y="783.4">7</text><text x="388.3" y="783.4">8</text>
</g>
<path d="M221.9 615.2V583.9M218.5 615.2h6.8M218.5 583.9h6.8M263.2 668.9V645.5M259.8 668.9h6.8M259.8 645.5h6.8M98.0 730.5V713.5M94.6 730.5h6.8M94.6 713.5h6.8" stroke="#3a3a3a" stroke-width="1.1" fill="none"/>
<polyline fill="none" stroke="#111" stroke-width="1.2" points="98.0,746.4 139.3,762.9 180.6,750.7 221.9,599.8 263.2,657.2 304.6,753.3 345.9,758.6 387.2,762.6"/>
<polyline fill="none" stroke="#111" stroke-width="1.2" points="98.0,722.0 139.3,762.0 180.6,762.0 221.9,762.0 263.2,762.0 304.6,762.0 345.9,762.0 387.2,762.0"/>
<circle cx="98.0" cy="746.4" r="4.4" fill="#111"/><circle cx="139.3" cy="762.9" r="4.4" fill="#111"/><circle cx="180.6" cy="750.7" r="4.4" fill="#111"/><circle cx="221.9" cy="599.8" r="4.4" fill="#111"/><circle cx="263.2" cy="657.2" r="4.4" fill="#111"/><circle cx="304.6" cy="753.3" r="4.4" fill="#111"/><circle cx="345.9" cy="758.6" r="4.4" fill="#111"/><circle cx="387.2" cy="762.6" r="4.4" fill="#111"/>
<circle cx="98.0" cy="722.0" r="4.05" fill="#fff" stroke="#111" stroke-width="1.15"/><circle cx="139.3" cy="763.0" r="4.05" fill="#fff" stroke="#111" stroke-width="1.15"/><circle cx="180.6" cy="763.0" r="4.05" fill="#fff" stroke="#111" stroke-width="1.15"/><circle cx="221.9" cy="763.0" r="4.05" fill="#fff" stroke="#111" stroke-width="1.15"/><circle cx="263.2" cy="763.0" r="4.05" fill="#fff" stroke="#111" stroke-width="1.15"/><circle cx="304.6" cy="763.0" r="4.05" fill="#fff" stroke="#111" stroke-width="1.15"/><circle cx="345.9" cy="763.0" r="4.05" fill="#fff" stroke="#111" stroke-width="1.15"/><circle cx="387.2" cy="763.0" r="4.05" fill="#fff" stroke="#111" stroke-width="1.15"/>
<path d="M327 582.7H350.6M327 600.8H350.6" stroke="#111" stroke-width="1.1"/>
<circle cx="338.5" cy="582.7" r="4.4" fill="#111"/><circle cx="338.5" cy="600.8" r="4.05" fill="#fff" stroke="#111" stroke-width="1.15"/>
<text x="354" y="585.6" font-size="14.5">WT</text><text x="353.6" y="604.8" font-size="14.7">IL-5trg</text>
<text class="b" x="-0.4" y="583.3" font-size="25.5">C</text>
<text class="b" font-size="14.4" text-anchor="middle" transform="translate(13 663.8) rotate(-90)">CFC number/culture</text>
<text class="b" font-size="14.55" text-anchor="middle" x="223" y="827.5">weeks/feedings</text>
</g>
</svg>
</body></html>
